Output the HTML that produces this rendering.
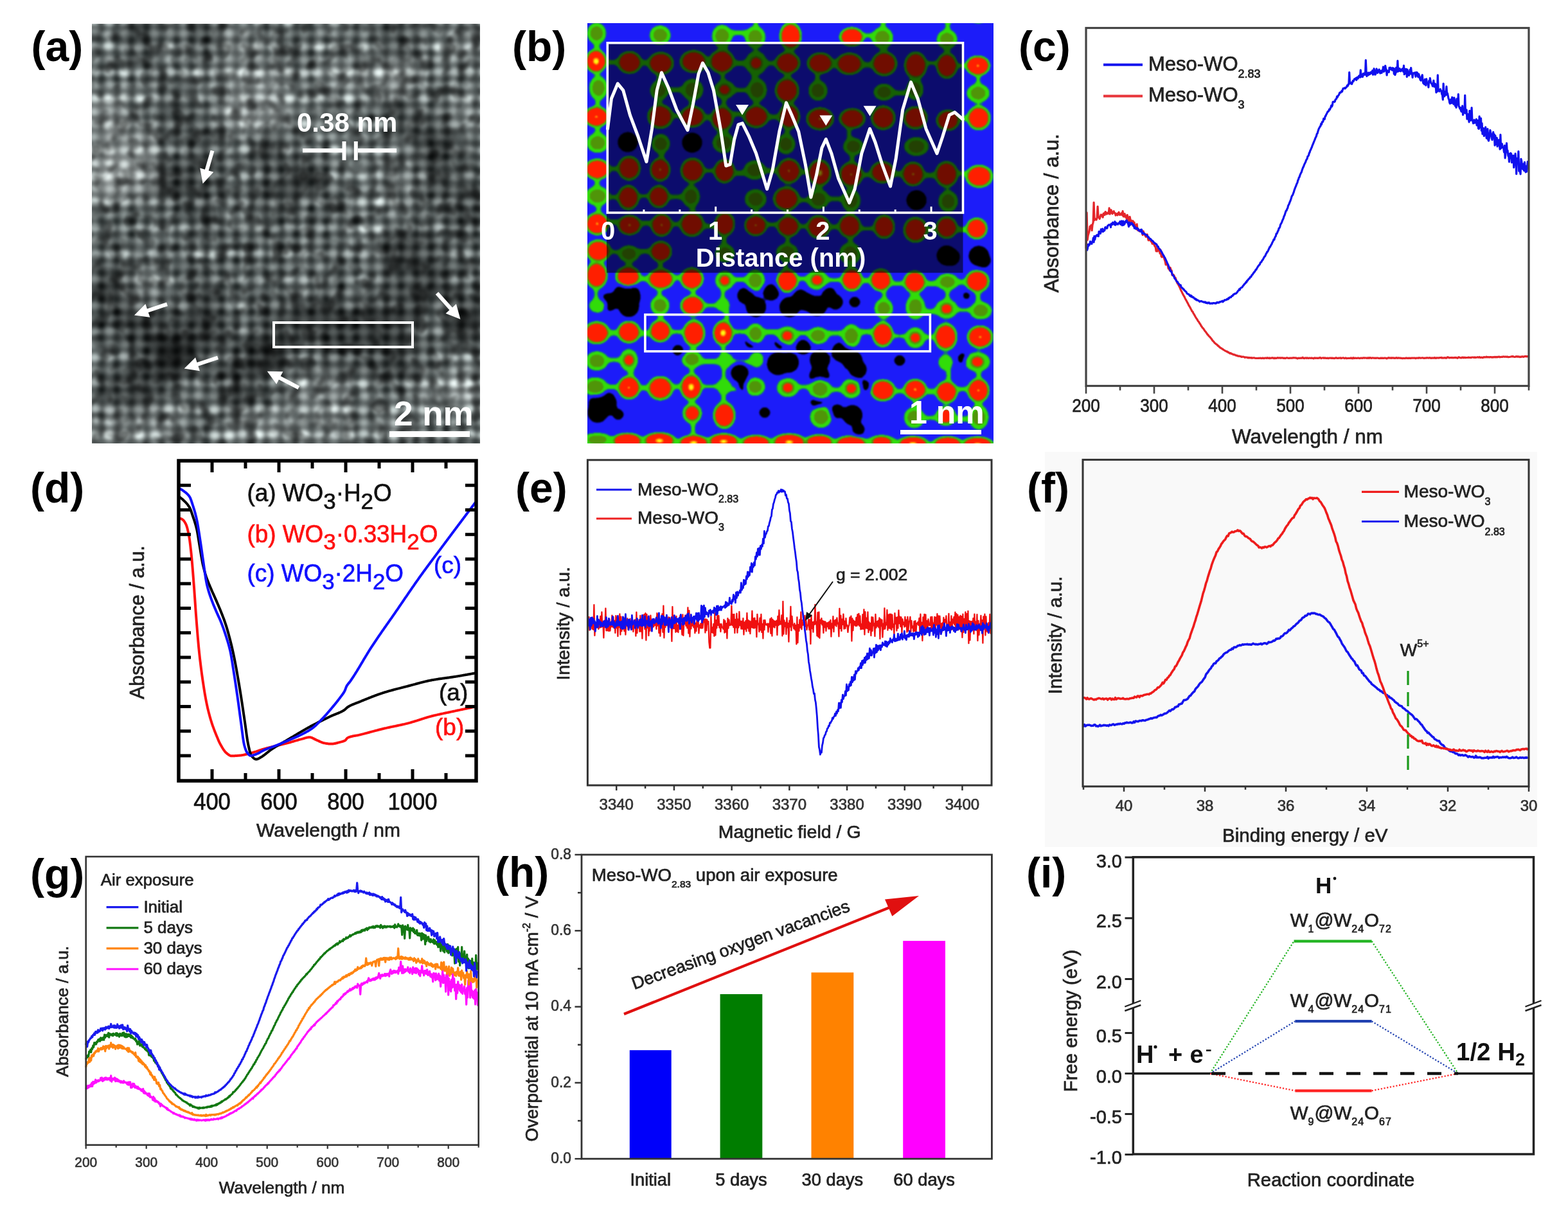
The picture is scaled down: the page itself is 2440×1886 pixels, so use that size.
<!DOCTYPE html>
<html><head><meta charset="utf-8"><title>Figure</title>
<style>html,body{margin:0;padding:0;background:#fff;}svg{display:block;}</style></head>
<body><svg xmlns="http://www.w3.org/2000/svg" width="2440" height="1886" viewBox="0 0 2440 1886" font-family="Liberation Sans, Arial, sans-serif">
<defs><clipPath id="clpA"><rect x="143" y="37" width="604" height="653"/></clipPath>
<filter id="fA" filterUnits="userSpaceOnUse" x="113" y="7" width="664" height="713" color-interpolation-filters="sRGB"><feGaussianBlur stdDeviation="3.4"/></filter>
<filter id="fA2" filterUnits="userSpaceOnUse" x="83" y="-23" width="724" height="773" color-interpolation-filters="sRGB"><feGaussianBlur stdDeviation="14"/></filter>
<filter id="fAn" filterUnits="userSpaceOnUse" x="143" y="37" width="604" height="653" color-interpolation-filters="sRGB"><feTurbulence type="fractalNoise" baseFrequency="0.045" numOctaves="2" seed="7"/><feColorMatrix type="matrix" values="0 0 0 0 0  0 0 0 0 0  0 0 0 0 0  0 0 0 -3.2 1.75"/><feGaussianBlur stdDeviation="1.5"/></filter>
<clipPath id="clpB"><rect x="914" y="36" width="632" height="654"/></clipPath>
<filter id="fB" filterUnits="userSpaceOnUse" x="874" y="-4" width="712" height="734" color-interpolation-filters="sRGB"><feGaussianBlur stdDeviation="3.4"/><feComponentTransfer><feFuncR type="discrete" tableValues="0.000 0.000 0.000 0.000 0.000 0.000 0.000 0.039 0.110 0.110 0.110 0.110 0.110 0.110 0.110 0.110 0.110 0.110 0.110 0.110 0.078 0.196 0.196 0.196 0.314 0.314 0.314 1.000 1.000 1.000 1.000 1.000 1.000 1.000 1.000 1.000 1.000 1.000 1.000 1.000 1.000 1.000 1.000 1.000 1.000 1.000 1.000 1.000 1.000 1.000"/><feFuncG type="discrete" tableValues="0.000 0.000 0.000 0.000 0.000 0.000 0.000 0.039 0.110 0.110 0.110 0.110 0.110 0.110 0.110 0.110 0.110 0.110 0.110 0.110 0.471 0.863 0.863 0.863 0.588 0.588 0.588 0.125 0.125 0.125 0.125 0.125 0.125 0.125 0.125 0.125 0.125 0.125 0.125 0.125 0.125 0.125 0.125 0.125 0.588 0.588 0.980 0.980 0.980 0.980"/><feFuncB type="discrete" tableValues="0.000 0.000 0.000 0.000 0.000 0.000 0.000 0.431 0.980 0.980 0.980 0.980 0.980 0.980 0.980 0.980 0.980 0.980 0.980 0.980 0.471 0.039 0.039 0.039 0.039 0.039 0.039 0.000 0.000 0.000 0.000 0.000 0.000 0.000 0.000 0.000 0.000 0.000 0.000 0.000 0.000 0.000 0.000 0.000 0.000 0.000 0.078 0.078 0.078 0.078"/></feComponentTransfer><feGaussianBlur stdDeviation="1.1"/></filter></defs>
<rect width="2440" height="1886" fill="#fff"/>
<polyline points="1690.1,386.7 1691.1,330.9 1692.1,373.5 1693.1,366.7 1694.1,363 1695.1,359.9 1696.1,352.4 1697.1,354.1 1698.1,350.5 1699.1,358.6 1700.1,349.4 1701.1,346.3 1702.1,315 1703.1,342.7 1704.1,340.5 1705.1,340.9 1706.1,342 1707.1,339.3 1708.1,321.4 1709.1,337.9 1710.1,337.6 1711.1,340.6 1712.1,337.4 1713.1,334.2 1714.1,334.3 1715.1,335.4 1716.1,338.2 1717.1,332.3 1718.1,331.9 1719.1,334.4 1720.1,329.5 1721.1,330.6 1722.1,333.1 1723.1,332.2 1724.1,330.9 1725.1,332.2 1726.1,323.9 1727.1,333.1 1728.1,328.4 1729.1,326.8 1730.1,331.5 1731.1,332.6 1732.1,330 1733.1,328.6 1734.1,331.4 1735.1,331.3 1736.1,335 1737.1,333.6 1738.1,332.4 1739.1,334.8 1740.1,331.9 1741.1,330.3 1742.1,334.2 1743.1,334.4 1744.1,332.8 1745.1,331.8 1746.1,334.7 1747.1,328.7 1748.1,336.9 1749.1,337 1750.1,332.6 1751.1,337.3 1752.1,335.6 1753.1,340.5 1754.1,334.5 1755.1,338 1756.1,342.7 1757.1,344.6 1758.1,337.4 1759.1,342.1 1760.1,344.9 1761.1,343.5 1762.1,349.7 1763.1,343.9 1764.1,348.6 1765.1,346.2 1766.1,353.1 1767.1,350.7 1768.1,351 1769.1,348.8 1770.1,358 1771.1,356.9 1772.1,357.9 1773.1,359.9 1774.1,359.1 1775.1,357.8 1776.1,358.4 1777.1,359.4 1778.1,365.6 1779.1,359.8 1780.1,362.8 1781.1,364.4 1782.1,366.6 1783.1,368.4 1784.1,365 1785.1,364.8 1786.1,369.9 1787.1,373.8 1788.1,373.7 1789.1,373.5 1790.1,373.2 1791.1,375.8 1792.1,375.6 1793.1,379.2 1794.1,376.5 1795.1,380 1796.1,380.6 1797.1,383.4 1798.1,383.9 1799.1,390.8 1800.1,389.6 1801.1,391 1802.1,383.9 1803.1,389.4 1804.1,390.2 1805.1,394.3 1806.1,389.1 1807.1,398.8 1808.1,400.1 1809.1,395.9 1810.1,398.2 1811.1,400.2 1812.1,403.8 1813.1,406.8 1814.1,411.9 1815.1,408.1 1816.1,412.1 1817.1,412.4 1818.1,418 1819.1,417.3 1820.1,420.6 1821.1,416.5 1822.1,420.5 1823.1,420.8 1824.1,428.2 1825.1,428 1826.1,427.6 1827.1,429.1 1828.1,433.2 1829.1,432.3 1830.1,435.7 1831.1,438.1 1832.1,440.7 1833.1,441.9 1834.1,443.9 1835.1,445.7 1836.1,447.7 1837.1,450.4 1838.1,452.5 1839.1,454.3 1840.1,456.5 1841.1,458.4 1842.1,460.4 1843.1,461.8 1844.1,464.1 1845.1,466.1 1846.1,467.7 1847.1,469.6 1848.1,471.4 1849.1,473.3 1850.1,475.5 1851.1,476.9 1852.1,478.8 1853.1,480.8 1854.1,482.5 1855.1,484.6 1856.1,485.2 1857.1,487.8 1858.1,489 1859.1,490.9 1860.1,492.7 1861.1,494.4 1862.1,496 1863.1,497.3 1864.1,499.3 1865.1,500.3 1866.1,501.9 1867.1,503.7 1868.1,504.8 1869.1,507.1 1870.1,508.2 1871.1,510 1872.1,510.8 1873.1,512.1 1874.1,513.7 1875.1,515.2 1876.1,516.1 1877.1,517.7 1878.1,518.9 1879.1,520.7 1880.1,521.2 1881.1,523 1882.1,523.7 1883.1,524.8 1884.1,526.1 1885.1,527.2 1886.1,528.8 1887.1,530.2 1888.1,531 1889.1,532.3 1890.1,533.6 1891.1,534.3 1892.1,535.2 1893.1,536 1894.1,536.5 1895.1,538.1 1896.1,538.2 1897.1,539.7 1898.1,540.2 1899.1,541.3 1900.1,541.7 1901.1,542.2 1902.1,543.2 1903.1,543.6 1904.1,544.4 1905.1,545 1906.1,545.6 1907.1,546.2 1908.1,546.5 1909.1,547.3 1910.1,547.2 1911.1,548.3 1912.1,548.4 1913.1,549.5 1914.1,550 1915.1,549.4 1916.1,550.5 1917.1,550.8 1918.1,550.9 1919.1,551.8 1920.1,551.8 1921.1,551.8 1922.1,552.6 1923.1,552.9 1924.1,553.3 1925.1,553.2 1926.1,554 1927.1,554.3 1928.1,553.9 1929.1,554.3 1930.1,554.6 1931.1,554.6 1932.1,555.5 1933.1,555.2 1934.1,555 1935.1,555.2 1936.1,555.5 1937.1,556.4 1938.1,555.8 1939.1,556 1940.1,556.2 1941.1,556.2 1942.1,557 1943.1,556.3 1944.1,556.8 1945.1,556.7 1946.1,556.9 1947.1,556.5 1948.1,557.4 1949.1,556.9 1950.1,557 1951.1,556.8 1952.1,556.9 1953.1,557.3 1954.1,557.5 1955.1,557.4 1956.1,557.5 1957.1,557.4 1958.1,557.2 1959.1,557.4 1960.1,557.3 1961.1,557.1 1962.1,557.4 1963.1,557.6 1964.1,557.2 1965.1,557.1 1966.1,557.4 1967.1,557.7 1968.1,557.1 1969.1,557.1 1970.1,557.1 1971.1,557.5 1972.1,556.6 1973.1,557.3 1974.1,557.5 1975.1,556.9 1976.1,557.6 1977.1,557.3 1978.1,557 1979.1,557.2 1980.1,556.7 1981.1,557 1982.1,557.7 1983.1,556.9 1984.1,557.7 1985.1,557.1 1986.1,557.5 1987.1,557.2 1988.1,556.5 1989.1,557 1990.1,557.2 1991.1,556.8 1992.1,556.8 1993.1,557.3 1994.1,557 1995.1,556.7 1996.1,557 1997.1,557.4 1998.1,557 1999.1,557.4 2000.1,557.6 2001.1,557.2 2002.1,556.8 2003.1,556.8 2004.1,557.2 2005.1,557.4 2006.1,557.2 2007.1,557.3 2008.1,557 2009.1,557.3 2010.1,557 2011.1,557.1 2012.1,556.8 2013.1,556.7 2014.1,557 2015.1,556.8 2016.1,556.9 2017.1,557.4 2018.1,557.1 2019.1,558 2020.1,557.4 2021.1,557 2022.1,557.4 2023.1,557.3 2024.1,557 2025.1,557.5 2026.1,556.9 2027.1,556.2 2028.1,557.4 2029.1,557 2030.1,557.6 2031.1,557 2032.1,556.8 2033.1,557.6 2034.1,556.8 2035.1,557.2 2036.1,557.6 2037.1,557.2 2038.1,557.1 2039.1,557.2 2040.1,557.4 2041.1,556.9 2042.1,557.4 2043.1,557.3 2044.1,557.9 2045.1,557.1 2046.1,556.9 2047.1,557.4 2048.1,557 2049.1,557.3 2050.1,557.2 2051.1,557.5 2052.1,557 2053.1,557.1 2054.1,556.4 2055.1,556.9 2056.1,557.6 2057.1,557 2058.1,557 2059.1,556.8 2060.1,557.3 2061.1,557.2 2062.1,556.8 2063.1,557.4 2064.1,557.2 2065.1,557.4 2066.1,557 2067.1,557.7 2068.1,557.3 2069.1,557.1 2070.1,557 2071.1,557.1 2072.1,557.4 2073.1,557.1 2074.1,557.5 2075.1,557.3 2076.1,557.6 2077.1,557.4 2078.1,557.1 2079.1,556.6 2080.1,557.3 2081.1,557.4 2082.1,557.2 2083.1,557.3 2084.1,557 2085.1,557.1 2086.1,556.9 2087.1,557.6 2088.1,557.2 2089.1,557 2090.1,556.8 2091.1,557.1 2092.1,557.6 2093.1,557.3 2094.1,556.9 2095.1,557.6 2096.1,557.6 2097.1,557.5 2098.1,557.4 2099.1,557.5 2100.1,557.3 2101.1,557.4 2102.1,556.9 2103.1,557.6 2104.1,557.2 2105.1,557.8 2106.1,556.6 2107.1,557.4 2108.1,557.5 2109.1,557.1 2110.1,557.3 2111.1,557.4 2112.1,557.3 2113.1,557 2114.1,557.1 2115.1,557.5 2116.1,557.6 2117.1,557.2 2118.1,557.2 2119.1,557.2 2120.1,557.5 2121.1,556.9 2122.1,556.8 2123.1,557.2 2124.1,556.8 2125.1,557 2126.1,557.2 2127.1,557.3 2128.1,556.8 2129.1,557.4 2130.1,556.6 2131.1,557.3 2132.1,556.7 2133.1,556.8 2134.1,557.4 2135.1,557 2136.1,556.9 2137.1,557 2138.1,557.3 2139.1,557.2 2140.1,557.2 2141.1,557.5 2142.1,557 2143.1,557 2144.1,557 2145.1,557.5 2146.1,557.5 2147.1,557.6 2148.1,557.2 2149.1,557.1 2150.1,557.4 2151.1,557 2152.1,557.4 2153.1,557.4 2154.1,557 2155.1,557.1 2156.1,557.1 2157.1,557.7 2158.1,557.9 2159.1,557.1 2160.1,557.2 2161.1,556.5 2162.1,557.2 2163.1,557.2 2164.1,556.8 2165.1,557.4 2166.1,556.7 2167.1,557.1 2168.1,557.2 2169.1,556.8 2170.1,557.4 2171.1,557.5 2172.1,556.8 2173.1,556.7 2174.1,557.3 2175.1,557.2 2176.1,556.8 2177.1,557.1 2178.1,557.1 2179.1,557.1 2180.1,557.4 2181.1,557.3 2182.1,557.7 2183.1,557.6 2184.1,557.4 2185.1,557.5 2186.1,557.6 2187.1,557.4 2188.1,556.8 2189.1,557.4 2190.1,557.2 2191.1,557.6 2192.1,557.2 2193.1,557.3 2194.1,557.2 2195.1,557.6 2196.1,557.2 2197.1,557.1 2198.1,557.2 2199.1,557 2200.1,557.2 2201.1,557.1 2202.1,557.2 2203.1,557.7 2204.1,557 2205.1,557.1 2206.1,557 2207.1,557.3 2208.1,556.7 2209.1,556.9 2210.1,557.1 2211.1,557.2 2212.1,557 2213.1,556.9 2214.1,556.8 2215.1,557.2 2216.1,557.5 2217.1,557.1 2218.1,557.1 2219.1,557.2 2220.1,556.7 2221.1,556.9 2222.1,556.9 2223.1,557.1 2224.1,557 2225.1,556.6 2226.1,557.3 2227.1,557.5 2228.1,556.9 2229.1,557.1 2230.1,557 2231.1,557.2 2232.1,556.5 2233.1,557.4 2234.1,556.8 2235.1,557.3 2236.1,556.9 2237.1,556.8 2238.1,556.8 2239.1,557.1 2240.1,556.6 2241.1,556.7 2242.1,556.7 2243.1,556.3 2244.1,557.2 2245.1,557 2246.1,556.8 2247.1,557.1 2248.1,556.5 2249.1,556.7 2250.1,557.3 2251.1,557 2252.1,556 2253.1,555.7 2254.1,556.4 2255.1,557 2256.1,556.5 2257.1,556.6 2258.1,556.8 2259.1,556.4 2260.1,556.7 2261.1,556.8 2262.1,556.7 2263.1,556.7 2264.1,556.4 2265.1,556.7 2266.1,556.4 2267.1,556.9 2268.1,557.3 2269.1,556.3 2270.1,555.8 2271.1,556.3 2272.1,556.6 2273.1,556.8 2274.1,556.8 2275.1,556.2 2276.1,556.2 2277.1,556.8 2278.1,556.1 2279.1,556.7 2280.1,556.3 2281.1,556.6 2282.1,556.5 2283.1,556.5 2284.1,556.5 2285.1,556 2286.1,556.4 2287.1,556.3 2288.1,556.3 2289.1,556.6 2290.1,556.1 2291.1,556 2292.1,556 2293.1,556.1 2294.1,556.4 2295.1,555.9 2296.1,556.5 2297.1,556.2 2298.1,556 2299.1,555.7 2300.1,556.1 2301.1,556.2 2302.1,555.5 2303.1,556.4 2304.1,556.5 2305.1,556.1 2306.1,556.1 2307.1,556.7 2308.1,556.3 2309.1,555.6 2310.1,555.9 2311.1,555.8 2312.1,555.8 2313.1,555.1 2314.1,556 2315.1,555.6 2316.1,555.8 2317.1,555.7 2318.1,556 2319.1,555.6 2320.1,555.5 2321.1,555.9 2322.1,556.1 2323.1,555.6 2324.1,556 2325.1,555.7 2326.1,555.4 2327.1,556 2328.1,555.3 2329.1,555.9 2330.1,555.4 2331.1,555.6 2332.1,555.1 2333.1,555.2 2334.1,555.8 2335.1,555.5 2336.1,555.4 2337.1,555.3 2338.1,555.5 2339.1,554.9 2340.1,555 2341.1,555.3 2342.1,555.1 2343.1,555.1 2344.1,555.3 2345.1,555.2 2346.1,555.2 2347.1,555.7 2348.1,555.5 2349.1,555.5 2350.1,555.2 2351.1,555 2352.1,554.7 2353.1,555 2354.1,554.5 2355.1,554.9 2356.1,555.3 2357.1,555.5 2358.1,555.3 2359.1,554.7 2360.1,555.1 2361.1,554.7 2362.1,555.2 2363.1,554.9 2364.1,555.1 2365.1,555.6 2366.1,555.1 2367.1,555.5 2368.1,554.9 2369.1,554.7 2370.1,555.2 2371.1,555.3 2372.1,554.6 2373.1,554.7 2374.1,554.3 2375.1,554.6 2376.1,554.9 2377.1,554.6 2378.1,554.4" fill="none" stroke="#e3262b" stroke-width="3.2" stroke-linejoin="round"/>
<polyline points="1690.1,386.9 1690.9,386.7 1691.7,389.2 1692.5,386 1693.3,380.3 1694.1,382.4 1694.9,380.1 1695.7,380.5 1696.5,375.9 1697.3,378.6 1698.1,377.6 1698.9,379.3 1699.7,375.8 1700.5,375.3 1701.3,370.3 1702.1,376.9 1702.9,367.7 1703.7,372.8 1704.5,369.1 1705.3,367.1 1706.1,366.7 1706.9,365.8 1707.7,367.1 1708.5,365.3 1709.3,367.7 1710.1,360.3 1710.9,363.2 1711.7,360.7 1712.5,363.3 1713.3,356.8 1714.1,359.7 1714.9,360.1 1715.7,356.1 1716.5,360.4 1717.3,358.1 1718.1,359.2 1718.9,358.4 1719.7,353.9 1720.5,353.6 1721.3,354.2 1722.1,355.4 1722.9,355 1723.7,351.3 1724.5,350.9 1725.3,349.9 1726.1,349.8 1726.9,350 1727.7,349.7 1728.5,353.6 1729.3,348.1 1730.1,348.1 1730.9,349.3 1731.7,346.2 1732.5,347.2 1733.3,347.8 1734.1,349.2 1734.9,344.9 1735.7,350.2 1736.5,346.6 1737.3,347.6 1738.1,348.8 1738.9,348.4 1739.7,349.1 1740.5,347.3 1741.3,346.8 1742.1,347.4 1742.9,344.7 1743.7,349.1 1744.5,345.1 1745.3,344 1746.1,350.6 1746.9,346.2 1747.7,344.1 1748.5,350.1 1749.3,345.8 1750.1,348.5 1750.9,344.8 1751.7,346 1752.5,343.2 1753.3,342.9 1754.1,345 1754.9,347 1755.7,349 1756.5,352.6 1757.3,346 1758.1,350.5 1758.9,347.7 1759.7,349 1760.5,346.8 1761.3,347.3 1762.1,349.2 1762.9,348.8 1763.7,351.7 1764.5,350.8 1765.3,355.2 1766.1,353.4 1766.9,353.9 1767.7,356.3 1768.5,355.6 1769.3,354.9 1770.1,355.3 1770.9,355.8 1771.7,358.7 1772.5,358.7 1773.3,358.4 1774.1,359.8 1774.9,357.7 1775.7,360.4 1776.5,357.2 1777.3,363.4 1778.1,361.5 1778.9,362.3 1779.7,363.8 1780.5,363.2 1781.3,363.8 1782.1,365.2 1782.9,365.3 1783.7,365.5 1784.5,366.8 1785.3,366.5 1786.1,368.8 1786.9,368.6 1787.7,369.4 1788.5,371.2 1789.3,371.9 1790.1,371.6 1790.9,372.6 1791.7,373.6 1792.5,374.6 1793.3,374.5 1794.1,375.4 1794.9,376.7 1795.7,377.1 1796.5,378.2 1797.3,378.9 1798.1,378.9 1798.9,380 1799.7,380 1800.5,382.1 1801.3,383.9 1802.1,383.7 1802.9,385.9 1803.7,386.9 1804.5,387.5 1805.3,388.7 1806.1,390 1806.9,390.8 1807.7,392.4 1808.5,393.8 1809.3,395.5 1810.1,397 1810.9,397.7 1811.7,399.9 1812.5,400.6 1813.3,402.4 1814.1,404.3 1814.9,405.9 1815.7,407.6 1816.5,409.7 1817.3,411.2 1818.1,413 1818.9,415.2 1819.7,417.6 1820.5,418.9 1821.3,421.7 1822.1,422.5 1822.9,422.4 1823.7,425.1 1824.5,427.6 1825.3,428.1 1826.1,429.3 1826.9,430.4 1827.7,432.7 1828.5,433.8 1829.3,434.9 1830.1,436 1830.9,437.6 1831.7,438.5 1832.5,438.6 1833.3,440.6 1834.1,441.4 1834.9,442.3 1835.7,443.7 1836.5,444.3 1837.3,443.8 1838.1,447 1838.9,447.7 1839.7,448 1840.5,448.8 1841.3,450 1842.1,450.1 1842.9,451.8 1843.7,452.4 1844.5,453.2 1845.3,453.7 1846.1,454.6 1846.9,456.3 1847.7,457.1 1848.5,457.4 1849.3,457.9 1850.1,458.1 1850.9,459.5 1851.7,460.6 1852.5,459.6 1853.3,461.5 1854.1,460.3 1854.9,461.8 1855.7,462.7 1856.5,462.3 1857.3,462.7 1858.1,464 1858.9,464.9 1859.7,464.6 1860.5,466 1861.3,465.4 1862.1,467 1862.9,466.6 1863.7,467.1 1864.5,467.6 1865.3,467.8 1866.1,468.9 1866.9,469.4 1867.7,468.8 1868.5,468.7 1869.3,468.5 1870.1,468.9 1870.9,469.5 1871.7,469.6 1872.5,469.9 1873.3,470.1 1874.1,470.5 1874.9,469.8 1875.7,470.1 1876.5,471.4 1877.3,471.4 1878.1,470.9 1878.9,471.9 1879.7,471.1 1880.5,471.4 1881.3,470.7 1882.1,472.1 1882.9,471.8 1883.7,472.3 1884.5,472.2 1885.3,471.9 1886.1,471.9 1886.9,472.4 1887.7,471.7 1888.5,471.6 1889.3,471.6 1890.1,471.9 1890.9,471.8 1891.7,472.2 1892.5,471.1 1893.3,471.6 1894.1,470.5 1894.9,470.9 1895.7,470.5 1896.5,471.1 1897.3,470.3 1898.1,469.6 1898.9,469.9 1899.7,469.6 1900.5,469 1901.3,468.8 1902.1,468.2 1902.9,469.8 1903.7,468.3 1904.5,468.4 1905.3,467.1 1906.1,466.8 1906.9,467 1907.7,466.6 1908.5,466.7 1909.3,465.3 1910.1,465.7 1910.9,465.7 1911.7,464 1912.5,464.3 1913.3,462.9 1914.1,463 1914.9,462.4 1915.7,462.5 1916.5,460.7 1917.3,460.5 1918.1,460.4 1918.9,458.7 1919.7,458.6 1920.5,457.6 1921.3,457 1922.1,457.1 1922.9,456.5 1923.7,456.7 1924.5,455.4 1925.3,454.7 1926.1,453.2 1926.9,452.4 1927.7,451.8 1928.5,449.9 1929.3,451 1930.1,449 1930.9,448 1931.7,447.5 1932.5,447.3 1933.3,446.6 1934.1,444.9 1934.9,444.4 1935.7,443.3 1936.5,441.9 1937.3,441.6 1938.1,440.6 1938.9,438.8 1939.7,439.2 1940.5,436.9 1941.3,436.9 1942.1,435.3 1942.9,434.5 1943.7,433.6 1944.5,433.3 1945.3,431.3 1946.1,430.8 1946.9,430.7 1947.7,428.5 1948.5,427.8 1949.3,427.1 1950.1,425.4 1950.9,424.8 1951.7,423.2 1952.5,422.8 1953.3,421.3 1954.1,419.7 1954.9,419.7 1955.7,417.8 1956.5,416.5 1957.3,415.1 1958.1,414.1 1958.9,413.1 1959.7,412 1960.5,411.3 1961.3,408.8 1962.1,408.1 1962.9,407.6 1963.7,405.8 1964.5,404.7 1965.3,404 1966.1,402.1 1966.9,400.9 1967.7,399.3 1968.5,398.9 1969.3,397.2 1970.1,395 1970.9,394.2 1971.7,392 1972.5,391.7 1973.3,390.1 1974.1,388.3 1974.9,386.7 1975.7,384.6 1976.5,384.4 1977.3,382.5 1978.1,380.9 1978.9,379.9 1979.7,377.7 1980.5,376.2 1981.3,374.6 1982.1,372.7 1982.9,373 1983.7,370.1 1984.5,368.4 1985.3,367.4 1986.1,363.7 1986.9,363.6 1987.7,361.9 1988.5,359.6 1989.3,358.5 1990.1,355.5 1990.9,354.7 1991.7,353.2 1992.5,349.8 1993.3,348.3 1994.1,347 1994.9,345.1 1995.7,342.8 1996.5,341.4 1997.3,339.3 1998.1,336.5 1998.9,335.2 1999.7,332.6 2000.5,330.1 2001.3,327.9 2002.1,327.6 2002.9,325 2003.7,324 2004.5,320.3 2005.3,318.8 2006.1,317.2 2006.9,314.9 2007.7,313.2 2008.5,311 2009.3,308.5 2010.1,305.6 2010.9,304.2 2011.7,303.4 2012.5,300.8 2013.3,298.9 2014.1,295.8 2014.9,293.9 2015.7,291.4 2016.5,289.9 2017.3,287.6 2018.1,285.6 2018.9,284.2 2019.7,280.7 2020.5,279.4 2021.3,276.3 2022.1,275.5 2022.9,272.7 2023.7,270.9 2024.5,269 2025.3,267.8 2026.1,265 2026.9,262.8 2027.7,260.5 2028.5,259.3 2029.3,256.9 2030.1,255.1 2030.9,253.5 2031.7,252 2032.5,249.4 2033.3,248.2 2034.1,246.9 2034.9,243.4 2035.7,242.9 2036.5,241.5 2037.3,238.2 2038.1,237 2038.9,234.1 2039.7,233 2040.5,230.8 2041.3,229.2 2042.1,226.7 2042.9,224.8 2043.7,223 2044.5,220.9 2045.3,219 2046.1,217.2 2046.9,214.7 2047.7,213.2 2048.5,211.5 2049.3,208.2 2050.1,207.5 2050.9,204.4 2051.7,202 2052.5,199.8 2053.3,198.6 2054.1,196.8 2054.9,196.3 2055.7,192.6 2056.5,193.7 2057.3,189.8 2058.1,190 2058.9,188.9 2059.7,184.5 2060.5,185.7 2061.3,185.5 2062.1,180.9 2062.9,180.6 2063.7,178.3 2064.5,177.1 2065.3,175.4 2066.1,173.6 2066.9,173.7 2067.7,172.5 2068.5,170.1 2069.3,170.6 2070.1,168.8 2070.9,167 2071.7,164.1 2072.5,165.9 2073.3,164 2074.1,158.6 2074.9,158.6 2075.7,158.2 2076.5,158.7 2077.3,157.9 2078.1,154.8 2078.9,154.3 2079.7,153.7 2080.5,150.2 2081.3,151.3 2082.1,149 2082.9,148.5 2083.7,147.2 2084.5,144.6 2085.3,143.8 2086.1,144.1 2086.9,143.2 2087.7,141.7 2088.5,142.6 2089.3,139.7 2090.1,137.6 2090.9,138 2091.7,137.4 2092.5,136.7 2093.3,137.8 2094.1,136.1 2094.9,136.1 2095.7,134.7 2096.5,132.8 2097.3,133.9 2098.1,131.2 2098.9,131.2 2099.7,112.5 2100.5,129.6 2101.3,128.3 2102.1,128.7 2102.9,130.5 2103.7,130.8 2104.5,128 2105.3,125.6 2106.1,126.5 2106.9,124.9 2107.7,122.9 2108.5,123.3 2109.3,122.5 2110.1,121.4 2110.9,124.5 2111.7,120.6 2112.5,120.2 2113.3,122.1 2114.1,119.1 2114.9,117.8 2115.7,118 2116.5,120.3 2117.3,109 2118.1,119.3 2118.9,117.5 2119.7,116.3 2120.5,119.6 2121.3,114.6 2122.1,116.8 2122.9,114.2 2123.7,115.9 2124.5,116.1 2125.3,93.6 2126.1,109.9 2126.9,118.6 2127.7,113.6 2128.5,115.9 2129.3,116.8 2130.1,113.1 2130.9,114.4 2131.7,115.5 2132.5,113.9 2133.3,112.2 2134.1,114.1 2134.9,113.7 2135.7,109.8 2136.5,116.2 2137.3,113.3 2138.1,106.8 2138.9,110.3 2139.7,116.1 2140.5,115.6 2141.3,112.1 2142.1,107.1 2142.9,110.4 2143.7,113.4 2144.5,111.5 2145.3,109.4 2146.1,108.2 2146.9,111.9 2147.7,114 2148.5,110.3 2149.3,110.5 2150.1,113.4 2150.9,109.4 2151.7,109.5 2152.5,104 2153.3,111.6 2154.1,110.9 2154.9,108.5 2155.7,102.3 2156.5,106.9 2157.3,108.7 2158.1,117 2158.9,110.1 2159.7,110.7 2160.5,110.8 2161.3,112.3 2162.1,105.3 2162.9,106.1 2163.7,105.2 2164.5,107.8 2165.3,107.6 2166.1,109 2166.9,105.7 2167.7,109 2168.5,106.2 2169.3,115.1 2170.1,107.3 2170.9,116.6 2171.7,113.9 2172.5,105.3 2173.3,112 2174.1,111 2174.9,94.5 2175.7,111.1 2176.5,109 2177.3,110.4 2178.1,106.7 2178.9,109.3 2179.7,110.9 2180.5,109.1 2181.3,107.9 2182.1,109.5 2182.9,106.6 2183.7,111.4 2184.5,102.1 2185.3,115.7 2186.1,107 2186.9,112.7 2187.7,114.3 2188.5,107.5 2189.3,119.6 2190.1,108.4 2190.9,114 2191.7,113.8 2192.5,117.5 2193.3,113.3 2194.1,108.7 2194.9,115 2195.7,105.5 2196.5,113.8 2197.3,113.1 2198.1,120.6 2198.9,114.4 2199.7,114.1 2200.5,113.3 2201.3,113.2 2202.1,114.7 2202.9,119.3 2203.7,112.6 2204.5,117.1 2205.3,112.9 2206.1,118.1 2206.9,119.8 2207.7,115 2208.5,118 2209.3,121 2210.1,124 2210.9,125.2 2211.7,121.6 2212.5,118.7 2213.3,116.7 2214.1,126.6 2214.9,129.5 2215.7,126 2216.5,131.2 2217.3,123.7 2218.1,124.4 2218.9,132.8 2219.7,122.9 2220.5,129.9 2221.3,129.5 2222.1,129 2222.9,135.9 2223.7,125.8 2224.5,128.1 2225.3,121.7 2226.1,126.5 2226.9,129.2 2227.7,130.2 2228.5,131.4 2229.3,134 2230.1,130.5 2230.9,125.4 2231.7,134.9 2232.5,134.7 2233.3,130.3 2234.1,132.4 2234.9,144 2235.7,141.3 2236.5,142.2 2237.3,116.9 2238.1,139.2 2238.9,140.4 2239.7,142.2 2240.5,139.3 2241.3,138.8 2242.1,141.3 2242.9,141.6 2243.7,146.6 2244.5,147.7 2245.3,155.1 2246.1,130.1 2246.9,143.1 2247.7,150 2248.5,142.5 2249.3,144.8 2250.1,147.8 2250.9,134.6 2251.7,146.7 2252.5,145.2 2253.3,149.3 2254.1,153.5 2254.9,154.9 2255.7,159.7 2256.5,161.2 2257.3,158.9 2258.1,154.5 2258.9,160.4 2259.7,151.3 2260.5,156.3 2261.3,159.9 2262.1,162.1 2262.9,152.1 2263.7,156.8 2264.5,164.9 2265.3,164.2 2266.1,167.3 2266.9,153.9 2267.7,157.1 2268.5,162.9 2269.3,146.6 2270.1,165.6 2270.9,166.6 2271.7,169 2272.5,167.4 2273.3,171.7 2274.1,173.6 2274.9,171.2 2275.7,164.9 2276.5,178.7 2277.3,173.9 2278.1,175.8 2278.9,175.3 2279.7,148.3 2280.5,176.2 2281.3,173.3 2282.1,171.1 2282.9,185.1 2283.7,177.4 2284.5,181.3 2285.3,185.3 2286.1,190 2286.9,172.4 2287.7,178.9 2288.5,187.3 2289.3,180.8 2290.1,167.5 2290.9,186.8 2291.7,188 2292.5,191.9 2293.3,189.6 2294.1,186.7 2294.9,191.1 2295.7,190.5 2296.5,188.6 2297.3,185.6 2298.1,195 2298.9,188.1 2299.7,187.4 2300.5,200 2301.3,200.5 2302.1,181.2 2302.9,198.2 2303.7,197.6 2304.5,184 2305.3,203.1 2306.1,191.8 2306.9,208.3 2307.7,204.2 2308.5,199.7 2309.3,211.7 2310.1,206.8 2310.9,206.7 2311.7,197.8 2312.5,209.2 2313.3,215.2 2314.1,214.1 2314.9,200.5 2315.7,217.2 2316.5,219.1 2317.3,215.3 2318.1,208.6 2318.9,202.6 2319.7,206.8 2320.5,209.5 2321.3,215.3 2322.1,217.7 2322.9,210.5 2323.7,205.7 2324.5,213.9 2325.3,209 2326.1,226.1 2326.9,211 2327.7,222.3 2328.5,224.7 2329.3,214.7 2330.1,227.8 2330.9,221.4 2331.7,218.1 2332.5,217.8 2333.3,225.3 2334.1,232.2 2334.9,209.5 2335.7,230.8 2336.5,226.7 2337.3,223.7 2338.1,229.5 2338.9,230 2339.7,230.5 2340.5,236.9 2341.3,226.6 2342.1,246 2342.9,239.8 2343.7,230.9 2344.5,222.9 2345.3,236.1 2346.1,234.3 2346.9,242.6 2347.7,243.2 2348.5,251.9 2349.3,239 2350.1,245.8 2350.9,238.4 2351.7,239.4 2352.5,252.8 2353.3,242.3 2354.1,243.1 2354.9,242.1 2355.7,260.7 2356.5,250.9 2357.3,245.6 2358.1,239.2 2358.9,250 2359.7,270.6 2360.5,246.5 2361.3,251 2362.1,251.9 2362.9,235.5 2363.7,266.2 2364.5,257.6 2365.3,266.2 2366.1,270.9 2366.9,247.4 2367.7,250.7 2368.5,257 2369.3,262.5 2370.1,263.6 2370.9,255.1 2371.7,265.6 2372.5,252.4 2373.3,260.9 2374.1,267.8 2374.9,258.9 2375.7,267.1 2376.5,261.4 2377.3,251.5 2378.1,259.8" fill="none" stroke="#1010ee" stroke-width="3.2" stroke-linejoin="round"/>
<rect x="1690" y="43.5" width="689" height="557" fill="none" stroke="#444" stroke-width="3.2"/>
<line x1="1690" y1="600.5" x2="1690" y2="612.5" stroke="#444" stroke-width="2.6"/>
<text x="0" y="0" font-size="30" text-anchor="middle" fill="#222" stroke="#222" stroke-width="0.7" transform="translate(1690 641) scale(0.87 1)">200</text>
<line x1="1743" y1="600.5" x2="1743" y2="607.5" stroke="#444" stroke-width="2.6"/>
<line x1="1796" y1="600.5" x2="1796" y2="612.5" stroke="#444" stroke-width="2.6"/>
<text x="0" y="0" font-size="30" text-anchor="middle" fill="#222" stroke="#222" stroke-width="0.7" transform="translate(1796 641) scale(0.87 1)">300</text>
<line x1="1849" y1="600.5" x2="1849" y2="607.5" stroke="#444" stroke-width="2.6"/>
<line x1="1902" y1="600.5" x2="1902" y2="612.5" stroke="#444" stroke-width="2.6"/>
<text x="0" y="0" font-size="30" text-anchor="middle" fill="#222" stroke="#222" stroke-width="0.7" transform="translate(1902 641) scale(0.87 1)">400</text>
<line x1="1955" y1="600.5" x2="1955" y2="607.5" stroke="#444" stroke-width="2.6"/>
<line x1="2008" y1="600.5" x2="2008" y2="612.5" stroke="#444" stroke-width="2.6"/>
<text x="0" y="0" font-size="30" text-anchor="middle" fill="#222" stroke="#222" stroke-width="0.7" transform="translate(2008 641) scale(0.87 1)">500</text>
<line x1="2061" y1="600.5" x2="2061" y2="607.5" stroke="#444" stroke-width="2.6"/>
<line x1="2114" y1="600.5" x2="2114" y2="612.5" stroke="#444" stroke-width="2.6"/>
<text x="0" y="0" font-size="30" text-anchor="middle" fill="#222" stroke="#222" stroke-width="0.7" transform="translate(2114 641) scale(0.87 1)">600</text>
<line x1="2167" y1="600.5" x2="2167" y2="607.5" stroke="#444" stroke-width="2.6"/>
<line x1="2220" y1="600.5" x2="2220" y2="612.5" stroke="#444" stroke-width="2.6"/>
<text x="0" y="0" font-size="30" text-anchor="middle" fill="#222" stroke="#222" stroke-width="0.7" transform="translate(2220 641) scale(0.87 1)">700</text>
<line x1="2273" y1="600.5" x2="2273" y2="607.5" stroke="#444" stroke-width="2.6"/>
<line x1="2326" y1="600.5" x2="2326" y2="612.5" stroke="#444" stroke-width="2.6"/>
<text x="0" y="0" font-size="30" text-anchor="middle" fill="#222" stroke="#222" stroke-width="0.7" transform="translate(2326 641) scale(0.87 1)">800</text>
<line x1="2379" y1="600.5" x2="2379" y2="607.5" stroke="#444" stroke-width="2.6"/>
<text x="2034.5" y="690" font-size="31.5" text-anchor="middle" fill="#222" stroke="#222" stroke-width="0.7">Wavelength / nm</text>
<text x="1647.5" y="331.7" font-size="31.5" text-anchor="middle" fill="#222" stroke="#222" stroke-width="0.7" transform="rotate(-90 1647.5 331.7)">Absorbance / a.u.</text>
<line x1="1717" y1="100.7" x2="1778" y2="100.7" stroke="#1515ee" stroke-width="4"/>
<line x1="1717" y1="149.6" x2="1778" y2="149.6" stroke="#e8343a" stroke-width="4"/>
<text x="1787" y="109.6" font-size="31" fill="#222" stroke="#222" stroke-width="0.7">Meso-WO<tspan font-size="18" dy="11">2.83</tspan></text>
<text x="1787" y="158.4" font-size="31" fill="#222" stroke="#222" stroke-width="0.7">Meso-WO<tspan font-size="18" dy="11">3</tspan></text>
<text x="1585" y="95" font-size="66" font-weight="bold" fill="#000">(c)</text>
<polyline points="278.1,806.4 279.1,806.5 280.1,806.7 281.1,807 282.1,807.4 283.1,807.9 284.1,808.5 285.1,809.3 286.1,810.4 287.1,811.8 288.1,813.5 289.1,815.3 290.1,817.6 291.1,820.7 292.1,824.6 293.1,829.1 294.1,834.1 295.1,840.2 296.1,848 297.1,856.8 298.1,866.4 299.1,877.3 300.1,889.5 301.1,902.3 302.1,915.5 303.1,929.7 304.1,944.2 305.1,958.1 306.1,970.8 307.1,983.3 308.1,995.2 309.1,1006.2 310.1,1016.1 311.1,1025.2 312.1,1033.6 313.1,1041.6 314.1,1049 315.1,1056.1 316.1,1062.9 317.1,1069.4 318.1,1075.7 319.1,1081.6 320.1,1087.2 321.1,1092.4 322.1,1097.2 323.1,1101.7 324.1,1105.9 325.1,1109.8 326.1,1113.6 327.1,1117.1 328.1,1120.5 329.1,1123.7 330.1,1126.8 331.1,1129.7 332.1,1132.4 333.1,1135.1 334.1,1137.7 335.1,1140.2 336.1,1142.7 337.1,1145.2 338.1,1147.6 339.1,1150 340.1,1152.4 341.1,1154.6 342.1,1156.6 343.1,1158.6 344.1,1160.3 345.1,1162 346.1,1163.7 347.1,1165.3 348.1,1166.8 349.1,1168.2 350.1,1169.5 351.1,1170.7 352.1,1171.6 353.1,1172.5 354.1,1173.2 355.1,1174 356.1,1174.7 357.1,1175.3 358.1,1175.8 359.1,1176.2 360.1,1176.3 361.1,1176.3 362.1,1176.3 363.1,1176.2 364.1,1176.2 365.1,1176.2 366.1,1176.1 367.1,1176 368.1,1176 369.1,1175.9 370.1,1175.8 371.1,1175.7 372.1,1175.7 373.1,1175.6 374.1,1175.5 375.1,1175.4 376.1,1175.2 377.1,1175.1 378.1,1174.9 379.1,1174.7 380.1,1174.5 381.1,1174.3 382.1,1174 383.1,1173.8 384.1,1173.5 385.1,1173.3 386.1,1173 387.1,1172.7 388.1,1172.5 389.1,1172.2 390.1,1171.9 391.1,1171.7 392.1,1171.4 393.1,1171.1 394.1,1170.8 395.1,1170.5 396.1,1170.2 397.1,1169.9 398.1,1169.6 399.1,1169.3 400.1,1168.9 401.1,1168.6 402.1,1168.2 403.1,1167.9 404.1,1167.5 405.1,1167.2 406.1,1166.9 407.1,1166.5 408.1,1166.2 409.1,1165.9 410.1,1165.6 411.1,1165.3 412.1,1165.1 413.1,1164.8 414.1,1164.5 415.1,1164.2 416.1,1164 417.1,1163.7 418.1,1163.5 419.1,1163.2 420.1,1162.9 421.1,1162.7 422.1,1162.5 423.1,1162.2 424.1,1162 425.1,1161.7 426.1,1161.5 427.1,1161.2 428.1,1161 429.1,1160.8 430.1,1160.5 431.1,1160.3 432.1,1160.1 433.1,1159.8 434.1,1159.6 435.1,1159.3 436.1,1159.1 437.1,1158.9 438.1,1158.6 439.1,1158.4 440.1,1158.1 441.1,1157.9 442.1,1157.6 443.1,1157.4 444.1,1157.1 445.1,1156.9 446.1,1156.6 447.1,1156.4 448.1,1156.1 449.1,1155.8 450.1,1155.6 451.1,1155.3 452.1,1155 453.1,1154.7 454.1,1154.4 455.1,1154.1 456.1,1153.8 457.1,1153.5 458.1,1153.2 459.1,1152.9 460.1,1152.6 461.1,1152.4 462.1,1152.1 463.1,1151.8 464.1,1151.5 465.1,1151.2 466.1,1150.9 467.1,1150.6 468.1,1150.4 469.1,1150.1 470.1,1149.9 471.1,1149.6 472.1,1149.3 473.1,1149 474.1,1148.7 475.1,1148.4 476.1,1148.1 477.1,1147.8 478.1,1147.6 479.1,1147.4 480.1,1147.3 481.1,1147.2 482.1,1147.2 483.1,1147.3 484.1,1147.6 485.1,1147.9 486.1,1148.4 487.1,1148.8 488.1,1149.4 489.1,1149.9 490.1,1150.4 491.1,1150.9 492.1,1151.4 493.1,1151.8 494.1,1152.2 495.1,1152.7 496.1,1153.1 497.1,1153.6 498.1,1154.1 499.1,1154.5 500.1,1154.9 501.1,1155.3 502.1,1155.7 503.1,1156 504.1,1156.2 505.1,1156.4 506.1,1156.6 507.1,1156.8 508.1,1156.9 509.1,1157.1 510.1,1157.2 511.1,1157.4 512.1,1157.5 513.1,1157.6 514.1,1157.6 515.1,1157.6 516.1,1157.6 517.1,1157.5 518.1,1157.4 519.1,1157.3 520.1,1157.1 521.1,1157 522.1,1156.7 523.1,1156.5 524.1,1156.3 525.1,1156 526.1,1155.7 527.1,1155.4 528.1,1155.2 529.1,1154.9 530.1,1154.6 531.1,1154.4 532.1,1154.1 533.1,1153.8 534.1,1153.5 535.1,1153.2 536.1,1152.7 537.1,1152.2 538.1,1151.3 539.1,1150 540.1,1148.8 541.1,1148 542.1,1147.6 543.1,1147.2 544.1,1146.8 545.1,1146.5 546.1,1146.2 547.1,1146 548.1,1145.7 549.1,1145.5 550.1,1145.3 551.1,1145.1 552.1,1145 553.1,1144.8 554.1,1144.6 555.1,1144.4 556.1,1144.3 557.1,1144.1 558.1,1143.9 559.1,1143.6 560.1,1143.4 561.1,1143.2 562.1,1142.9 563.1,1142.6 564.1,1142.4 565.1,1142.1 566.1,1141.9 567.1,1141.6 568.1,1141.3 569.1,1141.1 570.1,1140.8 571.1,1140.6 572.1,1140.3 573.1,1140 574.1,1139.8 575.1,1139.5 576.1,1139.2 577.1,1138.9 578.1,1138.7 579.1,1138.4 580.1,1138.1 581.1,1137.9 582.1,1137.6 583.1,1137.3 584.1,1137.1 585.1,1136.8 586.1,1136.6 587.1,1136.3 588.1,1136 589.1,1135.8 590.1,1135.5 591.1,1135.3 592.1,1135 593.1,1134.8 594.1,1134.5 595.1,1134.3 596.1,1134 597.1,1133.8 598.1,1133.5 599.1,1133.3 600.1,1133.1 601.1,1132.9 602.1,1132.6 603.1,1132.4 604.1,1132.2 605.1,1132 606.1,1131.8 607.1,1131.5 608.1,1131.3 609.1,1131.1 610.1,1130.9 611.1,1130.7 612.1,1130.5 613.1,1130.3 614.1,1130.1 615.1,1129.9 616.1,1129.7 617.1,1129.5 618.1,1129.3 619.1,1129 620.1,1128.8 621.1,1128.6 622.1,1128.4 623.1,1128.2 624.1,1128 625.1,1127.8 626.1,1127.5 627.1,1127.3 628.1,1127.1 629.1,1126.9 630.1,1126.6 631.1,1126.4 632.1,1126.1 633.1,1125.9 634.1,1125.7 635.1,1125.4 636.1,1125.1 637.1,1124.9 638.1,1124.6 639.1,1124.3 640.1,1124 641.1,1123.7 642.1,1123.4 643.1,1123.1 644.1,1122.8 645.1,1122.5 646.1,1122.2 647.1,1121.9 648.1,1121.6 649.1,1121.3 650.1,1120.9 651.1,1120.6 652.1,1120.3 653.1,1120 654.1,1119.7 655.1,1119.3 656.1,1119 657.1,1118.7 658.1,1118.4 659.1,1118.1 660.1,1117.7 661.1,1117.4 662.1,1117.1 663.1,1116.8 664.1,1116.5 665.1,1116.2 666.1,1115.9 667.1,1115.6 668.1,1115.3 669.1,1115.1 670.1,1114.8 671.1,1114.5 672.1,1114.3 673.1,1114 674.1,1113.8 675.1,1113.5 676.1,1113.3 677.1,1113.1 678.1,1112.8 679.1,1112.6 680.1,1112.4 681.1,1112.1 682.1,1111.9 683.1,1111.7 684.1,1111.5 685.1,1111.2 686.1,1111 687.1,1110.8 688.1,1110.6 689.1,1110.4 690.1,1110.1 691.1,1109.9 692.1,1109.7 693.1,1109.5 694.1,1109.3 695.1,1109.1 696.1,1108.9 697.1,1108.7 698.1,1108.5 699.1,1108.3 700.1,1108.1 701.1,1107.8 702.1,1107.6 703.1,1107.4 704.1,1107.2 705.1,1107 706.1,1106.8 707.1,1106.6 708.1,1106.4 709.1,1106.1 710.1,1105.9 711.1,1105.7 712.1,1105.5 713.1,1105.3 714.1,1105.1 715.1,1104.9 716.1,1104.6 717.1,1104.4 718.1,1104.2 719.1,1104 720.1,1103.8 721.1,1103.6 722.1,1103.4 723.1,1103.2 724.1,1102.9 725.1,1102.7 726.1,1102.5 727.1,1102.3 728.1,1102.1 729.1,1101.9 730.1,1101.7 731.1,1101.5 732.1,1101.3 733.1,1101 734.1,1100.8 735.1,1100.6 736.1,1100.4 737.1,1100.2 738.1,1100 739.1,1099.8 740.1,1099.6" fill="none" stroke="#ff1010" stroke-width="4" stroke-linejoin="round"/>
<polyline points="278.1,772.8 279.1,773.4 280.1,774 281.1,774.7 282.1,775.5 283.1,776.3 284.1,777.1 285.1,778 286.1,779 287.1,779.9 288.1,780.9 289.1,781.9 290.1,783 291.1,784.1 292.1,785.4 293.1,786.8 294.1,788.3 295.1,789.9 296.1,792 297.1,794.5 298.1,797.3 299.1,800.3 300.1,803.3 301.1,806.3 302.1,809.2 303.1,812.3 304.1,815.6 305.1,819.2 306.1,823.2 307.1,828.1 308.1,833.9 309.1,840.2 310.1,846.5 311.1,852.4 312.1,858.5 313.1,864.7 314.1,870.5 315.1,875.8 316.1,880.3 317.1,884.4 318.1,888.2 319.1,891.7 320.1,895 321.1,898.1 322.1,900.9 323.1,903.6 324.1,906.1 325.1,908.6 326.1,910.9 327.1,913.2 328.1,915.6 329.1,917.9 330.1,920.2 331.1,922.5 332.1,924.7 333.1,926.9 334.1,929.1 335.1,931.3 336.1,933.6 337.1,935.9 338.1,938.2 339.1,940.5 340.1,942.8 341.1,945.2 342.1,947.6 343.1,950 344.1,952.5 345.1,955 346.1,957.5 347.1,960.1 348.1,962.7 349.1,965.5 350.1,968.3 351.1,971.3 352.1,974.4 353.1,977.7 354.1,981.1 355.1,984.6 356.1,988.2 357.1,991.9 358.1,995.8 359.1,999.7 360.1,1003.8 361.1,1008 362.1,1012.4 363.1,1017 364.1,1021.7 365.1,1026.7 366.1,1031.9 367.1,1037.2 368.1,1042.7 369.1,1048.3 370.1,1054 371.1,1059.8 372.1,1065.7 373.1,1071.7 374.1,1077.9 375.1,1084.1 376.1,1090.6 377.1,1097.2 378.1,1103.9 379.1,1110.7 380.1,1117.4 381.1,1124.2 382.1,1131.3 383.1,1138.7 384.1,1145.9 385.1,1152.4 386.1,1158 387.1,1162.5 388.1,1166.8 389.1,1170.7 390.1,1173.7 391.1,1175.8 392.1,1177 393.1,1178.2 394.1,1179.2 395.1,1180.1 396.1,1180.7 397.1,1181.2 398.1,1181.5 399.1,1181.5 400.1,1181.3 401.1,1181 402.1,1180.6 403.1,1180 404.1,1179.5 405.1,1178.8 406.1,1178.2 407.1,1177.7 408.1,1177.1 409.1,1176.4 410.1,1175.7 411.1,1175 412.1,1174.2 413.1,1173.4 414.1,1172.6 415.1,1171.8 416.1,1171 417.1,1170.2 418.1,1169.4 419.1,1168.6 420.1,1167.8 421.1,1167.1 422.1,1166.4 423.1,1165.7 424.1,1165.1 425.1,1164.4 426.1,1163.8 427.1,1163.2 428.1,1162.5 429.1,1161.9 430.1,1161.3 431.1,1160.7 432.1,1160.1 433.1,1159.5 434.1,1158.9 435.1,1158.4 436.1,1157.8 437.1,1157.2 438.1,1156.6 439.1,1156 440.1,1155.5 441.1,1154.9 442.1,1154.3 443.1,1153.7 444.1,1153.2 445.1,1152.6 446.1,1152 447.1,1151.4 448.1,1150.8 449.1,1150.2 450.1,1149.6 451.1,1149 452.1,1148.4 453.1,1147.9 454.1,1147.3 455.1,1146.7 456.1,1146.1 457.1,1145.5 458.1,1144.9 459.1,1144.3 460.1,1143.7 461.1,1143.1 462.1,1142.5 463.1,1141.9 464.1,1141.3 465.1,1140.7 466.1,1140.1 467.1,1139.5 468.1,1139 469.1,1138.4 470.1,1137.8 471.1,1137.2 472.1,1136.6 473.1,1136 474.1,1135.5 475.1,1134.9 476.1,1134.3 477.1,1133.8 478.1,1133.2 479.1,1132.6 480.1,1132.1 481.1,1131.5 482.1,1131 483.1,1130.4 484.1,1129.9 485.1,1129.4 486.1,1128.8 487.1,1128.3 488.1,1127.8 489.1,1127.2 490.1,1126.7 491.1,1126.2 492.1,1125.7 493.1,1125.2 494.1,1124.6 495.1,1124.1 496.1,1123.6 497.1,1123.1 498.1,1122.6 499.1,1122.1 500.1,1121.6 501.1,1121.1 502.1,1120.6 503.1,1120.1 504.1,1119.6 505.1,1119.2 506.1,1118.7 507.1,1118.2 508.1,1117.7 509.1,1117.2 510.1,1116.7 511.1,1116.3 512.1,1115.8 513.1,1115.3 514.1,1114.8 515.1,1114.3 516.1,1113.9 517.1,1113.4 518.1,1113 519.1,1112.6 520.1,1112.2 521.1,1111.8 522.1,1111.4 523.1,1111 524.1,1110.6 525.1,1110.2 526.1,1109.8 527.1,1109.4 528.1,1108.9 529.1,1108.5 530.1,1108 531.1,1107.6 532.1,1107 533.1,1106.5 534.1,1105.9 535.1,1105.4 536.1,1104.7 537.1,1103.9 538.1,1102.9 539.1,1101.9 540.1,1101 541.1,1100.3 542.1,1099.6 543.1,1099.1 544.1,1098.5 545.1,1098 546.1,1097.5 547.1,1097 548.1,1096.6 549.1,1096.2 550.1,1095.8 551.1,1095.4 552.1,1095 553.1,1094.6 554.1,1094.2 555.1,1093.8 556.1,1093.4 557.1,1093.1 558.1,1092.7 559.1,1092.3 560.1,1091.9 561.1,1091.5 562.1,1091 563.1,1090.6 564.1,1090.2 565.1,1089.8 566.1,1089.4 567.1,1089 568.1,1088.6 569.1,1088.2 570.1,1087.8 571.1,1087.4 572.1,1087 573.1,1086.6 574.1,1086.2 575.1,1085.8 576.1,1085.4 577.1,1085 578.1,1084.6 579.1,1084.2 580.1,1083.8 581.1,1083.4 582.1,1083.1 583.1,1082.7 584.1,1082.3 585.1,1081.9 586.1,1081.6 587.1,1081.2 588.1,1080.8 589.1,1080.5 590.1,1080.1 591.1,1079.8 592.1,1079.4 593.1,1079.1 594.1,1078.8 595.1,1078.4 596.1,1078.1 597.1,1077.8 598.1,1077.5 599.1,1077.2 600.1,1076.9 601.1,1076.6 602.1,1076.3 603.1,1076 604.1,1075.7 605.1,1075.4 606.1,1075.1 607.1,1074.8 608.1,1074.6 609.1,1074.3 610.1,1074 611.1,1073.7 612.1,1073.5 613.1,1073.2 614.1,1072.9 615.1,1072.7 616.1,1072.4 617.1,1072.1 618.1,1071.9 619.1,1071.6 620.1,1071.4 621.1,1071.1 622.1,1070.9 623.1,1070.6 624.1,1070.4 625.1,1070.1 626.1,1069.8 627.1,1069.6 628.1,1069.3 629.1,1069.1 630.1,1068.8 631.1,1068.6 632.1,1068.3 633.1,1068.1 634.1,1067.8 635.1,1067.5 636.1,1067.3 637.1,1067 638.1,1066.7 639.1,1066.5 640.1,1066.2 641.1,1065.9 642.1,1065.7 643.1,1065.4 644.1,1065.1 645.1,1064.9 646.1,1064.6 647.1,1064.3 648.1,1064 649.1,1063.8 650.1,1063.5 651.1,1063.2 652.1,1063 653.1,1062.7 654.1,1062.4 655.1,1062.2 656.1,1061.9 657.1,1061.7 658.1,1061.4 659.1,1061.2 660.1,1060.9 661.1,1060.7 662.1,1060.4 663.1,1060.2 664.1,1060 665.1,1059.7 666.1,1059.5 667.1,1059.3 668.1,1059.1 669.1,1058.9 670.1,1058.7 671.1,1058.5 672.1,1058.3 673.1,1058.1 674.1,1057.9 675.1,1057.8 676.1,1057.6 677.1,1057.4 678.1,1057.3 679.1,1057.1 680.1,1056.9 681.1,1056.8 682.1,1056.6 683.1,1056.5 684.1,1056.3 685.1,1056.2 686.1,1056.1 687.1,1055.9 688.1,1055.8 689.1,1055.6 690.1,1055.5 691.1,1055.4 692.1,1055.2 693.1,1055.1 694.1,1054.9 695.1,1054.8 696.1,1054.7 697.1,1054.5 698.1,1054.4 699.1,1054.3 700.1,1054.1 701.1,1054 702.1,1053.8 703.1,1053.7 704.1,1053.5 705.1,1053.4 706.1,1053.2 707.1,1053.1 708.1,1052.9 709.1,1052.8 710.1,1052.6 711.1,1052.4 712.1,1052.3 713.1,1052.1 714.1,1051.9 715.1,1051.8 716.1,1051.6 717.1,1051.4 718.1,1051.3 719.1,1051.1 720.1,1050.9 721.1,1050.7 722.1,1050.6 723.1,1050.4 724.1,1050.2 725.1,1050 726.1,1049.9 727.1,1049.7 728.1,1049.5 729.1,1049.3 730.1,1049.2 731.1,1049 732.1,1048.8 733.1,1048.6 734.1,1048.4 735.1,1048.2 736.1,1048.1 737.1,1047.9 738.1,1047.7 739.1,1047.5 740.1,1047.3" fill="none" stroke="#000" stroke-width="4" stroke-linejoin="round"/>
<polyline points="278.1,759.7 279.1,760.1 280.1,760.6 281.1,761.1 282.1,761.7 283.1,762.3 284.1,762.9 285.1,763.6 286.1,764.3 287.1,765.1 288.1,765.8 289.1,766.6 290.1,767.4 291.1,768.3 292.1,769.3 293.1,770.4 294.1,771.7 295.1,773.1 296.1,775 297.1,777.5 298.1,780.3 299.1,783.4 300.1,786.5 301.1,789.6 302.1,792.8 303.1,796.3 304.1,799.9 305.1,803.9 306.1,808.3 307.1,813.2 308.1,818.9 309.1,825 310.1,831.4 311.1,838 312.1,844.5 313.1,851.3 314.1,858.4 315.1,865.5 316.1,872.4 317.1,879.2 318.1,886.2 319.1,893.3 320.1,899.9 321.1,905.7 322.1,910.5 323.1,914.5 324.1,918.1 325.1,921.5 326.1,924.5 327.1,927.5 328.1,930.3 329.1,933.1 330.1,935.8 331.1,938.4 332.1,940.9 333.1,943.3 334.1,945.7 335.1,948.1 336.1,950.4 337.1,952.7 338.1,954.9 339.1,957.1 340.1,959.3 341.1,961.5 342.1,963.7 343.1,966.1 344.1,968.6 345.1,971.1 346.1,973.7 347.1,976.4 348.1,979.2 349.1,982.1 350.1,985 351.1,988.1 352.1,991.1 353.1,994.3 354.1,997.5 355.1,1000.8 356.1,1004.4 357.1,1008.2 358.1,1012.4 359.1,1017.1 360.1,1022.6 361.1,1028.7 362.1,1035.1 363.1,1041.7 364.1,1048.1 365.1,1054.5 366.1,1061 367.1,1067.7 368.1,1074.4 369.1,1081.3 370.1,1088.3 371.1,1095.6 372.1,1103 373.1,1110.5 374.1,1117.9 375.1,1125.2 376.1,1132.7 377.1,1140.6 378.1,1148.2 379.1,1154.7 380.1,1159.5 381.1,1163 382.1,1166.1 383.1,1168.6 384.1,1170.5 385.1,1171.9 386.1,1173.1 387.1,1174.3 388.1,1175.1 389.1,1175.7 390.1,1175.9 391.1,1175.9 392.1,1175.7 393.1,1175.5 394.1,1175.2 395.1,1174.9 396.1,1174.6 397.1,1174.2 398.1,1173.8 399.1,1173.4 400.1,1173 401.1,1172.6 402.1,1172.1 403.1,1171.6 404.1,1171 405.1,1170.4 406.1,1169.8 407.1,1169.2 408.1,1168.6 409.1,1168.1 410.1,1167.6 411.1,1167.1 412.1,1166.7 413.1,1166.3 414.1,1165.9 415.1,1165.5 416.1,1165.1 417.1,1164.7 418.1,1164.3 419.1,1164 420.1,1163.6 421.1,1163.3 422.1,1162.9 423.1,1162.5 424.1,1162.2 425.1,1161.8 426.1,1161.5 427.1,1161.1 428.1,1160.7 429.1,1160.3 430.1,1159.9 431.1,1159.5 432.1,1159.1 433.1,1158.7 434.1,1158.3 435.1,1157.9 436.1,1157.5 437.1,1157 438.1,1156.6 439.1,1156.2 440.1,1155.8 441.1,1155.3 442.1,1154.9 443.1,1154.5 444.1,1154.1 445.1,1153.6 446.1,1153.2 447.1,1152.8 448.1,1152.3 449.1,1151.9 450.1,1151.5 451.1,1151.1 452.1,1150.6 453.1,1150.2 454.1,1149.8 455.1,1149.4 456.1,1148.9 457.1,1148.5 458.1,1148.1 459.1,1147.7 460.1,1147.2 461.1,1146.8 462.1,1146.3 463.1,1145.9 464.1,1145.4 465.1,1144.9 466.1,1144.4 467.1,1144 468.1,1143.5 469.1,1143 470.1,1142.5 471.1,1142 472.1,1141.5 473.1,1141 474.1,1140.4 475.1,1139.9 476.1,1139.4 477.1,1138.8 478.1,1138.3 479.1,1137.7 480.1,1137.1 481.1,1136.5 482.1,1135.9 483.1,1135.2 484.1,1134.5 485.1,1133.9 486.1,1133.1 487.1,1132.4 488.1,1131.6 489.1,1130.7 490.1,1129.9 491.1,1129 492.1,1128 493.1,1127.1 494.1,1126.1 495.1,1125.1 496.1,1124.1 497.1,1123.1 498.1,1122.1 499.1,1121 500.1,1120 501.1,1119 502.1,1118 503.1,1116.9 504.1,1115.8 505.1,1114.7 506.1,1113.6 507.1,1112.5 508.1,1111.4 509.1,1110.2 510.1,1109 511.1,1107.9 512.1,1106.7 513.1,1105.5 514.1,1104.4 515.1,1103.2 516.1,1102 517.1,1100.8 518.1,1099.6 519.1,1098.4 520.1,1097.2 521.1,1096 522.1,1094.8 523.1,1093.5 524.1,1092.3 525.1,1091 526.1,1089.7 527.1,1088.4 528.1,1087.1 529.1,1085.8 530.1,1084.4 531.1,1083.1 532.1,1081.8 533.1,1080.4 534.1,1079 535.1,1077.4 536.1,1075.7 537.1,1073.6 538.1,1070.8 539.1,1068.3 540.1,1066.5 541.1,1065.1 542.1,1063.8 543.1,1062.6 544.1,1061.4 545.1,1060.1 546.1,1058.6 547.1,1057.1 548.1,1055.6 549.1,1054.1 550.1,1052.6 551.1,1051 552.1,1049.5 553.1,1047.9 554.1,1046.3 555.1,1044.7 556.1,1043 557.1,1041.4 558.1,1039.7 559.1,1038.1 560.1,1036.4 561.1,1034.7 562.1,1033 563.1,1031.4 564.1,1029.7 565.1,1028 566.1,1026.3 567.1,1024.6 568.1,1023 569.1,1021.3 570.1,1019.7 571.1,1018 572.1,1016.4 573.1,1014.7 574.1,1013.1 575.1,1011.5 576.1,1009.9 577.1,1008.4 578.1,1006.8 579.1,1005.3 580.1,1003.8 581.1,1002.3 582.1,1000.8 583.1,999.3 584.1,997.8 585.1,996.3 586.1,994.8 587.1,993.3 588.1,991.9 589.1,990.4 590.1,989 591.1,987.5 592.1,986.1 593.1,984.6 594.1,983.2 595.1,981.7 596.1,980.3 597.1,978.9 598.1,977.4 599.1,976 600.1,974.6 601.1,973.2 602.1,971.7 603.1,970.3 604.1,968.9 605.1,967.5 606.1,966 607.1,964.6 608.1,963.2 609.1,961.8 610.1,960.3 611.1,958.9 612.1,957.5 613.1,956 614.1,954.6 615.1,953.1 616.1,951.7 617.1,950.2 618.1,948.8 619.1,947.3 620.1,945.9 621.1,944.4 622.1,942.9 623.1,941.5 624.1,940 625.1,938.5 626.1,937.1 627.1,935.6 628.1,934.1 629.1,932.7 630.1,931.2 631.1,929.7 632.1,928.3 633.1,926.8 634.1,925.4 635.1,923.9 636.1,922.4 637.1,921 638.1,919.5 639.1,918.1 640.1,916.6 641.1,915.2 642.1,913.7 643.1,912.3 644.1,910.8 645.1,909.4 646.1,907.9 647.1,906.5 648.1,905.1 649.1,903.7 650.1,902.3 651.1,900.8 652.1,899.4 653.1,898 654.1,896.6 655.1,895.2 656.1,893.9 657.1,892.5 658.1,891.1 659.1,889.7 660.1,888.3 661.1,887 662.1,885.6 663.1,884.3 664.1,882.9 665.1,881.5 666.1,880.2 667.1,878.8 668.1,877.5 669.1,876.1 670.1,874.8 671.1,873.5 672.1,872.1 673.1,870.8 674.1,869.4 675.1,868.1 676.1,866.8 677.1,865.4 678.1,864.1 679.1,862.8 680.1,861.4 681.1,860.1 682.1,858.8 683.1,857.4 684.1,856.1 685.1,854.8 686.1,853.4 687.1,852.1 688.1,850.7 689.1,849.4 690.1,848.1 691.1,846.7 692.1,845.4 693.1,844 694.1,842.7 695.1,841.4 696.1,840 697.1,838.7 698.1,837.3 699.1,836 700.1,834.7 701.1,833.3 702.1,832 703.1,830.6 704.1,829.3 705.1,828 706.1,826.6 707.1,825.3 708.1,824 709.1,822.6 710.1,821.3 711.1,820 712.1,818.6 713.1,817.3 714.1,816 715.1,814.6 716.1,813.3 717.1,812 718.1,810.6 719.1,809.3 720.1,808 721.1,806.6 722.1,805.3 723.1,804 724.1,802.6 725.1,801.3 726.1,800 727.1,798.6 728.1,797.3 729.1,796 730.1,794.7 731.1,793.3 732.1,792 733.1,790.7 734.1,789.3 735.1,788 736.1,786.7 737.1,785.4 738.1,784 739.1,782.7 740.1,781.4" fill="none" stroke="#1010ff" stroke-width="4" stroke-linejoin="round"/>
<rect x="278" y="717" width="463" height="498" fill="none" stroke="#000" stroke-width="5.5"/>
<line x1="330" y1="1215" x2="330" y2="1197" stroke="#000" stroke-width="5"/>
<line x1="330" y1="717" x2="330" y2="735" stroke="#000" stroke-width="5"/>
<text x="0" y="0" font-size="36" text-anchor="middle" fill="#111" stroke="#111" stroke-width="0.7" transform="translate(330 1260) scale(0.96 1)">400</text>
<line x1="382" y1="1215" x2="382" y2="1203" stroke="#000" stroke-width="5"/>
<line x1="382" y1="717" x2="382" y2="729" stroke="#000" stroke-width="5"/>
<line x1="434" y1="1215" x2="434" y2="1197" stroke="#000" stroke-width="5"/>
<line x1="434" y1="717" x2="434" y2="735" stroke="#000" stroke-width="5"/>
<text x="0" y="0" font-size="36" text-anchor="middle" fill="#111" stroke="#111" stroke-width="0.7" transform="translate(434 1260) scale(0.96 1)">600</text>
<line x1="486" y1="1215" x2="486" y2="1203" stroke="#000" stroke-width="5"/>
<line x1="486" y1="717" x2="486" y2="729" stroke="#000" stroke-width="5"/>
<line x1="538" y1="1215" x2="538" y2="1197" stroke="#000" stroke-width="5"/>
<line x1="538" y1="717" x2="538" y2="735" stroke="#000" stroke-width="5"/>
<text x="0" y="0" font-size="36" text-anchor="middle" fill="#111" stroke="#111" stroke-width="0.7" transform="translate(538 1260) scale(0.96 1)">800</text>
<line x1="590" y1="1215" x2="590" y2="1203" stroke="#000" stroke-width="5"/>
<line x1="590" y1="717" x2="590" y2="729" stroke="#000" stroke-width="5"/>
<line x1="642" y1="1215" x2="642" y2="1197" stroke="#000" stroke-width="5"/>
<line x1="642" y1="717" x2="642" y2="735" stroke="#000" stroke-width="5"/>
<text x="0" y="0" font-size="36" text-anchor="middle" fill="#111" stroke="#111" stroke-width="0.7" transform="translate(642 1260) scale(0.96 1)">1000</text>
<line x1="694" y1="1215" x2="694" y2="1203" stroke="#000" stroke-width="5"/>
<line x1="694" y1="717" x2="694" y2="729" stroke="#000" stroke-width="5"/>
<line x1="278" y1="755.2" x2="297" y2="755.2" stroke="#000" stroke-width="5"/>
<line x1="741" y1="755.2" x2="724" y2="755.2" stroke="#000" stroke-width="5"/>
<line x1="278" y1="793.45" x2="297" y2="793.45" stroke="#000" stroke-width="5"/>
<line x1="741" y1="793.45" x2="724" y2="793.45" stroke="#000" stroke-width="5"/>
<line x1="278" y1="831.7" x2="297" y2="831.7" stroke="#000" stroke-width="5"/>
<line x1="741" y1="831.7" x2="724" y2="831.7" stroke="#000" stroke-width="5"/>
<line x1="278" y1="869.95" x2="297" y2="869.95" stroke="#000" stroke-width="5"/>
<line x1="741" y1="869.95" x2="724" y2="869.95" stroke="#000" stroke-width="5"/>
<line x1="278" y1="908.2" x2="297" y2="908.2" stroke="#000" stroke-width="5"/>
<line x1="741" y1="908.2" x2="724" y2="908.2" stroke="#000" stroke-width="5"/>
<line x1="278" y1="946.45" x2="297" y2="946.45" stroke="#000" stroke-width="5"/>
<line x1="741" y1="946.45" x2="724" y2="946.45" stroke="#000" stroke-width="5"/>
<line x1="278" y1="984.7" x2="297" y2="984.7" stroke="#000" stroke-width="5"/>
<line x1="741" y1="984.7" x2="724" y2="984.7" stroke="#000" stroke-width="5"/>
<line x1="278" y1="1022.95" x2="297" y2="1022.95" stroke="#000" stroke-width="5"/>
<line x1="741" y1="1022.95" x2="724" y2="1022.95" stroke="#000" stroke-width="5"/>
<line x1="278" y1="1061.2" x2="297" y2="1061.2" stroke="#000" stroke-width="5"/>
<line x1="741" y1="1061.2" x2="724" y2="1061.2" stroke="#000" stroke-width="5"/>
<line x1="278" y1="1099.45" x2="297" y2="1099.45" stroke="#000" stroke-width="5"/>
<line x1="741" y1="1099.45" x2="724" y2="1099.45" stroke="#000" stroke-width="5"/>
<line x1="278" y1="1137.7" x2="297" y2="1137.7" stroke="#000" stroke-width="5"/>
<line x1="741" y1="1137.7" x2="724" y2="1137.7" stroke="#000" stroke-width="5"/>
<line x1="278" y1="1175.95" x2="297" y2="1175.95" stroke="#000" stroke-width="5"/>
<line x1="741" y1="1175.95" x2="724" y2="1175.95" stroke="#000" stroke-width="5"/>
<text x="511" y="1302" font-size="30" text-anchor="middle" fill="#222" stroke="#222" stroke-width="0.7">Wavelength / nm</text>
<text x="224" y="968.5" font-size="30.5" text-anchor="middle" fill="#222" stroke="#222" stroke-width="0.7" transform="rotate(-90 224 968.5)">Absorbance / a.u.</text>
<text x="0" y="0" font-size="38" fill="#111" stroke="#111" stroke-width="0.7" transform="translate(384.5 780.3) scale(0.97 1)">(a) WO<tspan font-size="36" dy="11.5">3</tspan><tspan dy="-11.5">&#183;H</tspan><tspan font-size="36" dy="11.5">2</tspan><tspan dy="-11.5">O</tspan></text>
<text x="0" y="0" font-size="38" fill="#ff1010" stroke="#ff1010" stroke-width="0.7" transform="translate(384.5 843.7) scale(0.97 1)">(b) WO<tspan font-size="36" dy="11.5">3</tspan><tspan dy="-11.5">&#183;0.33H</tspan><tspan font-size="36" dy="11.5">2</tspan><tspan dy="-11.5">O</tspan></text>
<text x="0" y="0" font-size="38" fill="#1010ff" stroke="#1010ff" stroke-width="0.7" transform="translate(384.5 905.3) scale(0.97 1)">(c) WO<tspan font-size="36" dy="11.5">3</tspan><tspan dy="-11.5">&#183;2H</tspan><tspan font-size="36" dy="11.5">2</tspan><tspan dy="-11.5">O</tspan></text>
<text x="675" y="892" font-size="37" fill="#1010ff" stroke="#1010ff" stroke-width="0.7">(c)</text>
<text x="683" y="1090" font-size="37" fill="#111" stroke="#111" stroke-width="0.7">(a)</text>
<text x="677" y="1144" font-size="37" fill="#ff1010" stroke="#ff1010" stroke-width="0.7">(b)</text>
<text x="47" y="782" font-size="66" font-weight="bold" fill="#000">(d)</text>
<polyline points="915.4,971.3 916.4,960.1 917.4,980.7 918.4,965.9 919.4,974 920.4,967.2 921.4,978.5 922.4,969.6 923.4,979.8 924.4,941.2 925.4,989 926.4,970.1 927.4,976.9 928.4,969.9 929.4,976.3 930.4,972.2 931.4,978.8 932.4,970 933.4,976.6 934.4,959 935.4,976.2 936.4,952.5 937.4,975.2 938.4,970.4 939.4,992.5 940.4,965.8 941.4,975.7 942.4,946.6 943.4,981.3 944.4,973.5 945.4,981.3 946.4,965.7 947.4,982 948.4,963.5 949.4,981.7 950.4,971.9 951.4,975.2 952.4,957.7 953.4,975.7 954.4,960.1 955.4,977.2 956.4,965.8 957.4,984.9 958.4,958.1 959.4,977.2 960.4,960.3 961.4,990.2 962.4,965.3 963.4,976.2 964.4,955.5 965.4,987.6 966.4,959.6 967.4,982.2 968.4,966.4 969.4,978.6 970.4,960.9 971.4,982 972.4,964.6 973.4,987.7 974.4,967.8 975.4,972.3 976.4,962.4 977.4,979.9 978.4,972.2 979.4,975.3 980.4,963 981.4,977.5 982.4,972.4 983.4,978.7 984.4,965 985.4,983 986.4,971.1 987.4,974.3 988.4,964.3 989.4,989.7 990.4,952.6 991.4,985.2 992.4,963.8 993.4,974 994.4,969.1 995.4,982.8 996.4,957.9 997.4,982.7 998.4,964 999.4,993.6 1000.4,957.5 1001.4,972.7 1002.4,956.2 1003.4,979 1004.4,954.1 1005.4,996.3 1006.4,956 1007.4,977 1008.4,960.4 1009.4,989.1 1010.4,968.6 1011.4,981.6 1012.4,957.6 1013.4,974.6 1014.4,972.7 1015.4,976.5 1016.4,970.9 1017.4,975 1018.4,969 1019.4,972.9 1020.4,962.6 1021.4,978.9 1022.4,954.2 1023.4,973.6 1024.4,955.9 1025.4,984.9 1026.4,964.5 1027.4,989.9 1028.4,972.9 1029.4,973.9 1030.4,955.3 1031.4,983.8 1032.4,942.6 1033.4,992.5 1034.4,965.5 1035.4,976 1036.4,960.3 1037.4,973 1038.4,970.1 1039.4,973.7 1040.4,960.5 1041.4,970.8 1042.4,961.1 1043.4,976.3 1044.4,963.3 1045.4,997.9 1046.4,944.1 1047.4,978.3 1048.4,968.5 1049.4,978 1050.4,965.8 1051.4,983.8 1052.4,958.9 1053.4,982.5 1054.4,973.2 1055.4,984 1056.4,967.1 1057.4,973.7 1058.4,957.7 1059.4,978.4 1060.4,970.4 1061.4,987.7 1062.4,956.4 1063.4,989 1064.4,965.9 1065.4,970.7 1066.4,957.3 1067.4,973.9 1068.4,965.4 1069.4,977.3 1070.4,945.3 1071.4,985.5 1072.4,950.1 1073.4,990.6 1074.4,965.9 1075.4,978.3 1076.4,963.7 1077.4,973.6 1078.4,963.2 1079.4,976.3 1080.4,968.8 1081.4,985.1 1082.4,969.6 1083.4,982.2 1084.4,966.6 1085.4,975.3 1086.4,961.4 1087.4,985.4 1088.4,972.7 1089.4,977.1 1090.4,970.1 1091.4,977.7 1092.4,964.4 1093.4,977.3 1094.4,964 1095.4,968.2 1096.4,963.5 1097.4,984.5 1098.4,963.5 1099.4,981.1 1100.4,964.3 1101.4,971.1 1102.4,967.2 1103.4,999.1 1104.4,1008.3 1105.4,1008.3 1106.4,959.1 1107.4,984 1108.4,976.3 1109.4,984.8 1110.4,970.8 1111.4,989.9 1112.4,953.8 1113.4,988.5 1114.4,965.1 1115.4,977.3 1116.4,956.7 1117.4,972.9 1118.4,958.1 1119.4,976.6 1120.4,971.1 1121.4,983 1122.4,970.9 1123.4,976.2 1124.4,976.5 1125.4,978.7 1126.4,964.1 1127.4,984.6 1128.4,966.2 1129.4,983.5 1130.4,970.2 1131.4,993.4 1132.4,962.1 1133.4,977.7 1134.4,964.3 1135.4,973.1 1136.4,972.9 1137.4,971.7 1138.4,942.7 1139.4,973 1140.4,956.2 1141.4,976.2 1142.4,955.9 1143.4,985 1144.4,964.2 1145.4,976.4 1146.4,954.6 1147.4,984.7 1148.4,963.6 1149.4,976.5 1150.4,951.9 1151.4,973.2 1152.4,966.6 1153.4,978.7 1154.4,966.6 1155.4,978.7 1156.4,962.1 1157.4,987.5 1158.4,968.4 1159.4,979 1160.4,966.1 1161.4,982.4 1162.4,954 1163.4,977.3 1164.4,965.2 1165.4,982.3 1166.4,966.4 1167.4,986.1 1168.4,967.3 1169.4,976.1 1170.4,950.7 1171.4,976.9 1172.4,962.5 1173.4,977.6 1174.4,961.6 1175.4,976.7 1176.4,966.2 1177.4,991.1 1178.4,955.9 1179.4,971.5 1180.4,970.2 1181.4,983.2 1182.4,961.7 1183.4,980.4 1184.4,955.8 1185.4,983.9 1186.4,970.8 1187.4,993.5 1188.4,965.1 1189.4,980.2 1190.4,964.9 1191.4,972 1192.4,971.3 1193.4,972.9 1194.4,970.4 1195.4,983.5 1196.4,970.7 1197.4,975.4 1198.4,963.1 1199.4,985.8 1200.4,961.4 1201.4,989.7 1202.4,963.9 1203.4,975.3 1204.4,965.8 1205.4,976.6 1206.4,966.9 1207.4,972.9 1208.4,965.7 1209.4,988.2 1210.4,959 1211.4,973.1 1212.4,949.5 1213.4,971.6 1214.4,967 1215.4,971.4 1216.4,957.4 1217.4,989.5 1218.4,935.8 1219.4,986.7 1220.4,965.5 1221.4,974.9 1222.4,968.9 1223.4,986.9 1224.4,961.5 1225.4,976.5 1226.4,969.8 1227.4,998.6 1228.4,965.9 1229.4,975.4 1230.4,943.8 1231.4,981.2 1232.4,958.8 1233.4,970.8 1234.4,973.5 1235.4,978.4 1236.4,970.1 1237.4,980.4 1238.4,972.8 1239.4,1002.4 1240.4,960.3 1241.4,1000.2 1242.4,972.2 1243.4,981.9 1244.4,964.5 1245.4,976.6 1246.4,952.4 1247.4,979.3 1248.4,965.2 1249.4,972.7 1250.4,972.5 1251.4,971.2 1252.4,957.8 1253.4,974.7 1254.4,965.3 1255.4,980 1256.4,974.7 1257.4,971.8 1258.4,963.7 1259.4,980.1 1260.4,964.4 1261.4,1002 1262.4,957.3 1263.4,977.8 1264.4,968.1 1265.4,983.6 1266.4,967.3 1267.4,971.8 1268.4,940.8 1269.4,971.3 1270.4,967.7 1271.4,989.4 1272.4,953.1 1273.4,991.1 1274.4,952.5 1275.4,992.9 1276.4,964.6 1277.4,970.2 1278.4,962.2 1279.4,972.3 1280.4,966.1 1281.4,984.9 1282.4,967 1283.4,976.2 1284.4,967.5 1285.4,981.9 1286.4,969.5 1287.4,975 1288.4,968.8 1289.4,978.5 1290.4,967.4 1291.4,978.5 1292.4,964.8 1293.4,990.7 1294.4,970.5 1295.4,977.1 1296.4,959.1 1297.4,983.1 1298.4,965.6 1299.4,972.5 1300.4,964.3 1301.4,974.6 1302.4,961.5 1303.4,970.6 1304.4,969.6 1305.4,990.4 1306.4,947 1307.4,977.9 1308.4,957.8 1309.4,981.9 1310.4,963.6 1311.4,971.8 1312.4,955.6 1313.4,978.7 1314.4,966.7 1315.4,977.9 1316.4,962.2 1317.4,974.1 1318.4,972.7 1319.4,983.8 1320.4,974.8 1321.4,972.7 1322.4,960.6 1323.4,968.9 1324.4,958.7 1325.4,997.5 1326.4,962.3 1327.4,981.1 1328.4,965.5 1329.4,972.6 1330.4,967.2 1331.4,974.2 1332.4,960.9 1333.4,974 1334.4,956.1 1335.4,972.3 1336.4,954.8 1337.4,974.1 1338.4,958.4 1339.4,979.4 1340.4,971.3 1341.4,978.8 1342.4,956.2 1343.4,978.8 1344.4,948.4 1345.4,987.5 1346.4,952.2 1347.4,977.5 1348.4,961.7 1349.4,977.9 1350.4,952.3 1351.4,984.2 1352.4,967.8 1353.4,980.2 1354.4,969.9 1355.4,989.2 1356.4,960.2 1357.4,981.9 1358.4,960.6 1359.4,973.4 1360.4,970.4 1361.4,990.2 1362.4,955.8 1363.4,976.9 1364.4,967.2 1365.4,974.3 1366.4,965.8 1367.4,976.4 1368.4,961.4 1369.4,994 1370.4,963.5 1371.4,974 1372.4,964.6 1373.4,991.7 1374.4,970.7 1375.4,979.1 1376.4,946.3 1377.4,978.5 1378.4,969.3 1379.4,972.3 1380.4,949.2 1381.4,980.6 1382.4,956.6 1383.4,977.5 1384.4,955.6 1385.4,978.3 1386.4,955.7 1387.4,980.3 1388.4,956.7 1389.4,976.2 1390.4,971.5 1391.4,987.3 1392.4,954.1 1393.4,970.7 1394.4,960.8 1395.4,981.5 1396.4,960.5 1397.4,977.5 1398.4,949.6 1399.4,970.2 1400.4,959.6 1401.4,975 1402.4,960.3 1403.4,984.5 1404.4,963.3 1405.4,971.8 1406.4,968.7 1407.4,975.5 1408.4,959.9 1409.4,974.4 1410.4,964.6 1411.4,983.7 1412.4,959.8 1413.4,981.7 1414.4,968.1 1415.4,966.1 1416.4,960 1417.4,982.9 1418.4,965.9 1419.4,976.9 1420.4,974.5 1421.4,982.8 1422.4,967 1423.4,982 1424.4,966.1 1425.4,984.4 1426.4,969.9 1427.4,971.2 1428.4,967.9 1429.4,972.8 1430.4,961.9 1431.4,984.2 1432.4,955.7 1433.4,980.2 1434.4,968.6 1435.4,997 1436.4,960.3 1437.4,984 1438.4,955.9 1439.4,978.9 1440.4,956.3 1441.4,979.6 1442.4,966.2 1443.4,981.4 1444.4,963.5 1445.4,970.5 1446.4,973.3 1447.4,972.7 1448.4,960.2 1449.4,981.3 1450.4,960 1451.4,977.1 1452.4,969.6 1453.4,974.5 1454.4,959.9 1455.4,984.7 1456.4,960.6 1457.4,972.5 1458.4,955.2 1459.4,980.3 1460.4,958.5 1461.4,987.2 1462.4,958.7 1463.4,976.7 1464.4,970.5 1465.4,983.8 1466.4,969.5 1467.4,977.2 1468.4,961 1469.4,979.6 1470.4,964.1 1471.4,968.3 1472.4,958.4 1473.4,975.5 1474.4,971.6 1475.4,978.2 1476.4,954.9 1477.4,979.5 1478.4,968.1 1479.4,980.4 1480.4,958.3 1481.4,979.6 1482.4,963.6 1483.4,969.6 1484.4,960.2 1485.4,972.3 1486.4,952.6 1487.4,981.1 1488.4,955.1 1489.4,973.8 1490.4,956.9 1491.4,980.2 1492.4,960 1493.4,977.8 1494.4,957.9 1495.4,982.6 1496.4,959.1 1497.4,992 1498.4,955.6 1499.4,983.9 1500.4,963.1 1501.4,978.7 1502.4,952.4 1503.4,974.9 1504.4,955.1 1505.4,977.5 1506.4,950.8 1507.4,1001.2 1508.4,966.1 1509.4,996.3 1510.4,966.9 1511.4,979.3 1512.4,967 1513.4,976.3 1514.4,962.1 1515.4,986.4 1516.4,955.6 1517.4,979.4 1518.4,967.3 1519.4,980.7 1520.4,956.2 1521.4,997 1522.4,965.8 1523.4,988.2 1524.4,971 1525.4,974.3 1526.4,957.8 1527.4,973.8 1528.4,965.2 1529.4,1000.7 1530.4,959.4 1531.4,977.4 1532.4,955.7 1533.4,988.5 1534.4,959.5 1535.4,982.4 1536.4,971.8 1537.4,984 1538.4,969.1 1539.4,981.4 1540.4,955.8 1541.4,985.5 1542.4,975" fill="none" stroke="#f01010" stroke-width="2.3" stroke-linejoin="round"/>
<polyline points="914.4,968.5 915.4,961.8 916.4,973.6 917.4,964.2 918.4,979.5 919.4,961.3 920.4,973.3 921.4,960.8 922.4,970.2 923.4,963.1 924.4,969.8 925.4,966.6 926.4,982.3 927.4,969 928.4,976 929.4,958.6 930.4,976 931.4,964.2 932.4,970.8 933.4,966.5 934.4,974.9 935.4,968.4 936.4,973.9 937.4,970 938.4,974.8 939.4,967 940.4,972.8 941.4,966.2 942.4,976 943.4,960.7 944.4,976.4 945.4,967 946.4,974.7 947.4,962.3 948.4,972.1 949.4,969.5 950.4,972.4 951.4,967.6 952.4,971.7 953.4,959.3 954.4,973.7 955.4,967.3 956.4,977.2 957.4,970.2 958.4,974.8 959.4,967 960.4,973.4 961.4,958.3 962.4,973.1 963.4,967.2 964.4,973.2 965.4,967.9 966.4,977 967.4,967.1 968.4,978.6 969.4,960 970.4,977.5 971.4,962.8 972.4,977.5 973.4,955.7 974.4,971.5 975.4,970.2 976.4,974.1 977.4,964.2 978.4,980.1 979.4,964.3 980.4,972.4 981.4,966.8 982.4,979.8 983.4,957.5 984.4,971.8 985.4,968.5 986.4,969.9 987.4,965.2 988.4,977.5 989.4,968 990.4,973.4 991.4,962.3 992.4,977 993.4,967.7 994.4,973.5 995.4,964.4 996.4,972.9 997.4,963.9 998.4,974.2 999.4,957.5 1000.4,973.6 1001.4,965.8 1002.4,972.6 1003.4,958.8 1004.4,976.2 1005.4,965.7 1006.4,970 1007.4,966.6 1008.4,973.2 1009.4,959 1010.4,974.7 1011.4,967.6 1012.4,973.1 1013.4,966.2 1014.4,982.2 1015.4,963.7 1016.4,969 1017.4,963.2 1018.4,969.8 1019.4,966.7 1020.4,967.9 1021.4,960.9 1022.4,967.6 1023.4,965.7 1024.4,970.8 1025.4,953.8 1026.4,969.5 1027.4,963.8 1028.4,977.4 1029.4,958.3 1030.4,971.3 1031.4,958.3 1032.4,967.3 1033.4,960.1 1034.4,972.6 1035.4,961.9 1036.4,972.4 1037.4,957.1 1038.4,969.5 1039.4,965.5 1040.4,983.5 1041.4,962.5 1042.4,969.8 1043.4,965.6 1044.4,977.1 1045.4,960.4 1046.4,976.8 1047.4,965.2 1048.4,970 1049.4,957.7 1050.4,969.6 1051.4,961.5 1052.4,967.4 1053.4,963.1 1054.4,967.5 1055.4,962.9 1056.4,969.7 1057.4,961.1 1058.4,978.8 1059.4,956.5 1060.4,966.8 1061.4,964 1062.4,972.1 1063.4,962.2 1064.4,971.1 1065.4,961.2 1066.4,965.4 1067.4,958.4 1068.4,966.3 1069.4,956 1070.4,964.6 1071.4,954.7 1072.4,970.3 1073.4,962.4 1074.4,965.1 1075.4,956.5 1076.4,968.7 1077.4,961.3 1078.4,963.7 1079.4,959.4 1080.4,970.6 1081.4,959.1 1082.4,962.9 1083.4,954.2 1084.4,964.5 1085.4,954.4 1086.4,966.7 1087.4,953.9 1088.4,964.3 1089.4,958.3 1090.4,963 1091.4,942.5 1092.4,968.6 1093.4,943.8 1094.4,964.2 1095.4,942.1 1096.4,960.1 1097.4,946 1098.4,955.8 1099.4,952.5 1100.4,956 1101.4,954 1102.4,959.7 1103.4,950.1 1104.4,953.7 1105.4,948.9 1106.4,957.4 1107.4,951.2 1108.4,953 1109.4,950.2 1110.4,954 1111.4,945.4 1112.4,950.9 1113.4,947 1114.4,956.9 1115.4,943.2 1116.4,955.4 1117.4,942.9 1118.4,949.6 1119.4,945.5 1120.4,949.1 1121.4,943.6 1122.4,949.4 1123.4,944.1 1124.4,945.4 1125.4,944 1126.4,944.2 1127.4,942.1 1128.4,945.9 1129.4,936.6 1130.4,944.4 1131.4,938 1132.4,942.5 1133.4,939.7 1134.4,941.4 1135.4,930.2 1136.4,938.6 1137.4,936.6 1138.4,939.7 1139.4,933.4 1140.4,936.2 1141.4,925.4 1142.4,932.8 1143.4,927.8 1144.4,937.9 1145.4,922 1146.4,930.7 1147.4,921 1148.4,926.9 1149.4,921.9 1150.4,922.3 1151.4,918.7 1152.4,922.4 1153.4,906.9 1154.4,918.1 1155.4,913.5 1156.4,915.1 1157.4,902.5 1158.4,910 1159.4,903.5 1160.4,908.6 1161.4,896.6 1162.4,901.1 1163.4,890 1164.4,897.5 1165.4,890.3 1166.4,895.3 1167.4,882.5 1168.4,889.3 1169.4,876.4 1170.4,890.1 1171.4,877.8 1172.4,882.4 1173.4,875.2 1174.4,879.8 1175.4,866.2 1176.4,870.1 1177.4,859.9 1178.4,866.2 1179.4,853.9 1180.4,863.4 1181.4,852.8 1182.4,863.5 1183.4,849.4 1184.4,854.4 1185.4,847.7 1186.4,850.3 1187.4,838.3 1188.4,845.6 1189.4,826.3 1190.4,836.6 1191.4,831.6 1192.4,830.5 1193.4,826.8 1194.4,825.9 1195.4,818.9 1196.4,818.4 1197.4,813.3 1198.4,810.3 1199.4,805.1 1200.4,803.4 1201.4,793 1202.4,791.5 1203.4,784.3 1204.4,781.7 1205.4,777.4 1206.4,774.6 1207.4,770 1208.4,769.4 1209.4,766.5 1210.4,766.9 1211.4,763.8 1212.4,766.3 1213.4,764 1214.4,764.7 1215.4,761.8 1216.4,765.3 1217.4,762.1 1218.4,764.9 1219.4,763.3 1220.4,764.9 1221.4,764.8 1222.4,770.9 1223.4,769.7 1224.4,775.7 1225.4,775.8 1226.4,781.7 1227.4,783.9 1228.4,794.1 1229.4,798.6 1230.4,810.9 1231.4,812.4 1232.4,822.7 1233.4,827.7 1234.4,836.5 1235.4,843.9 1236.4,852.4 1237.4,859.1 1238.4,867.6 1239.4,874.2 1240.4,887.1 1241.4,890.2 1242.4,900.5 1243.4,906.3 1244.4,917.5 1245.4,922.5 1246.4,933 1247.4,938.4 1248.4,948.7 1249.4,954.9 1250.4,963.9 1251.4,968.4 1252.4,980.3 1253.4,987.4 1254.4,996.5 1255.4,1001.7 1256.4,1012.8 1257.4,1017.9 1258.4,1029.9 1259.4,1035 1260.4,1043.4 1261.4,1049.1 1262.4,1055.7 1263.4,1061 1264.4,1068.6 1265.4,1072.5 1266.4,1079.5 1267.4,1078.9 1268.4,1088.9 1269.4,1093.3 1270.4,1103.4 1271.4,1115.2 1272.4,1132 1273.4,1143.8 1274.4,1162.4 1275.4,1166.5 1276.4,1174.2 1277.4,1169.2 1278.4,1171 1279.4,1160.2 1280.4,1156.1 1281.4,1148.7 1282.4,1147.4 1283.4,1144 1284.4,1143.1 1285.4,1138.9 1286.4,1138 1287.4,1133.5 1288.4,1133.2 1289.4,1129.5 1290.4,1129.8 1291.4,1124.6 1292.4,1125.1 1293.4,1122.7 1294.4,1121.6 1295.4,1117 1296.4,1118.5 1297.4,1115.5 1298.4,1114.7 1299.4,1110.5 1300.4,1113.8 1301.4,1107.5 1302.4,1110.3 1303.4,1104.6 1304.4,1106.9 1305.4,1093.9 1306.4,1102 1307.4,1093.9 1308.4,1101.3 1309.4,1089.2 1310.4,1092.7 1311.4,1081.2 1312.4,1087.7 1313.4,1083.3 1314.4,1083.2 1315.4,1075.6 1316.4,1082.2 1317.4,1065 1318.4,1075.5 1319.4,1068.9 1320.4,1074.2 1321.4,1064.8 1322.4,1067.7 1323.4,1061 1324.4,1066.5 1325.4,1053.3 1326.4,1061.7 1327.4,1053.9 1328.4,1059 1329.4,1050 1330.4,1057.3 1331.4,1044.4 1332.4,1048.1 1333.4,1044.5 1334.4,1044.4 1335.4,1039.6 1336.4,1042.8 1337.4,1037.6 1338.4,1039.6 1339.4,1031.8 1340.4,1039.7 1341.4,1028.5 1342.4,1034.8 1343.4,1027.3 1344.4,1031.5 1345.4,1023.4 1346.4,1031.4 1347.4,1021.7 1348.4,1027.2 1349.4,1016.8 1350.4,1025.5 1351.4,1017 1352.4,1024.4 1353.4,1008.8 1354.4,1019.9 1355.4,1011.6 1356.4,1020 1357.4,1014.6 1358.4,1014.7 1359.4,1009.2 1360.4,1023 1361.4,1008.8 1362.4,1016.1 1363.4,1003.3 1364.4,1014.9 1365.4,1004.9 1366.4,1012.1 1367.4,1004.8 1368.4,1009.5 1369.4,1004.2 1370.4,1011.7 1371.4,1004.1 1372.4,1006.8 1373.4,999.8 1374.4,1003.9 1375.4,1002.5 1376.4,1004 1377.4,997.9 1378.4,1005.3 1379.4,998.3 1380.4,1006.3 1381.4,999.7 1382.4,1003.1 1383.4,998.2 1384.4,1000.6 1385.4,993.3 1386.4,998.5 1387.4,996.2 1388.4,999.7 1389.4,994.8 1390.4,996.4 1391.4,987.3 1392.4,997.9 1393.4,993.8 1394.4,997.4 1395.4,994.3 1396.4,996.5 1397.4,986.2 1398.4,995.9 1399.4,991.6 1400.4,995.5 1401.4,987.5 1402.4,993.1 1403.4,985.6 1404.4,995.2 1405.4,990.8 1406.4,991.4 1407.4,982 1408.4,993.5 1409.4,988.8 1410.4,995.7 1411.4,988.4 1412.4,990.8 1413.4,987.4 1414.4,991 1415.4,981.8 1416.4,989.2 1417.4,985.7 1418.4,988.9 1419.4,985.6 1420.4,989.2 1421.4,985.6 1422.4,994.5 1423.4,985.7 1424.4,987.9 1425.4,983.9 1426.4,987 1427.4,984.2 1428.4,991.3 1429.4,984.3 1430.4,989.5 1431.4,983.8 1432.4,985.6 1433.4,975.9 1434.4,988.1 1435.4,974.2 1436.4,984.3 1437.4,976.6 1438.4,987.6 1439.4,980.5 1440.4,986.9 1441.4,979.2 1442.4,983.6 1443.4,976.6 1444.4,983.5 1445.4,977.4 1446.4,988.9 1447.4,977.4 1448.4,982.1 1449.4,980.6 1450.4,981.8 1451.4,978 1452.4,988.2 1453.4,972.4 1454.4,984.9 1455.4,977.4 1456.4,991.4 1457.4,979.9 1458.4,986.9 1459.4,973.8 1460.4,993.3 1461.4,973.1 1462.4,982.5 1463.4,979.5 1464.4,986.9 1465.4,979.6 1466.4,981.2 1467.4,975.9 1468.4,980.6 1469.4,970.2 1470.4,979.6 1471.4,977.1 1472.4,989.6 1473.4,972.7 1474.4,981.3 1475.4,972.3 1476.4,980.5 1477.4,975.5 1478.4,984.5 1479.4,976.1 1480.4,978.9 1481.4,974.6 1482.4,978.6 1483.4,975.9 1484.4,981.9 1485.4,976.7 1486.4,983.6 1487.4,978 1488.4,980.5 1489.4,971.4 1490.4,980.1 1491.4,972.1 1492.4,978.2 1493.4,976.7 1494.4,979 1495.4,976.9 1496.4,982.5 1497.4,977.3 1498.4,978.2 1499.4,972 1500.4,980.3 1501.4,976.8 1502.4,984.8 1503.4,972.3 1504.4,979.7 1505.4,976.6 1506.4,979.2 1507.4,970.8 1508.4,978.1 1509.4,974.6 1510.4,983.6 1511.4,974.7 1512.4,981.4 1513.4,969.6 1514.4,979 1515.4,971.4 1516.4,980.2 1517.4,975.1 1518.4,980.2 1519.4,972.7 1520.4,978.7 1521.4,973.9 1522.4,976.9 1523.4,972.1 1524.4,977.6 1525.4,974.9 1526.4,980.7 1527.4,974.4 1528.4,985.3 1529.4,969.6 1530.4,979.5 1531.4,972.1 1532.4,976.5 1533.4,974.6 1534.4,977.3 1535.4,970 1536.4,980.3 1537.4,975.5 1538.4,984.8 1539.4,974.6 1540.4,977.7 1541.4,968.4" fill="none" stroke="#1010ee" stroke-width="2.8" stroke-linejoin="round"/>
<rect x="914.4" y="715.8" width="628.6" height="506.2" fill="none" stroke="#333" stroke-width="3"/>
<line x1="959.25" y1="1222" x2="959.25" y2="1230" stroke="#333" stroke-width="2.5"/>
<text x="959.25" y="1259.5" font-size="24" text-anchor="middle" fill="#333" stroke="#333" stroke-width="0.7">3340</text>
<line x1="1004.1" y1="1222" x2="1004.1" y2="1227" stroke="#333" stroke-width="2.5"/>
<line x1="1048.95" y1="1222" x2="1048.95" y2="1230" stroke="#333" stroke-width="2.5"/>
<text x="1048.95" y="1259.5" font-size="24" text-anchor="middle" fill="#333" stroke="#333" stroke-width="0.7">3350</text>
<line x1="1093.8" y1="1222" x2="1093.8" y2="1227" stroke="#333" stroke-width="2.5"/>
<line x1="1138.65" y1="1222" x2="1138.65" y2="1230" stroke="#333" stroke-width="2.5"/>
<text x="1138.65" y="1259.5" font-size="24" text-anchor="middle" fill="#333" stroke="#333" stroke-width="0.7">3360</text>
<line x1="1183.5" y1="1222" x2="1183.5" y2="1227" stroke="#333" stroke-width="2.5"/>
<line x1="1228.35" y1="1222" x2="1228.35" y2="1230" stroke="#333" stroke-width="2.5"/>
<text x="1228.35" y="1259.5" font-size="24" text-anchor="middle" fill="#333" stroke="#333" stroke-width="0.7">3370</text>
<line x1="1273.2" y1="1222" x2="1273.2" y2="1227" stroke="#333" stroke-width="2.5"/>
<line x1="1318.05" y1="1222" x2="1318.05" y2="1230" stroke="#333" stroke-width="2.5"/>
<text x="1318.05" y="1259.5" font-size="24" text-anchor="middle" fill="#333" stroke="#333" stroke-width="0.7">3380</text>
<line x1="1362.9" y1="1222" x2="1362.9" y2="1227" stroke="#333" stroke-width="2.5"/>
<line x1="1407.75" y1="1222" x2="1407.75" y2="1230" stroke="#333" stroke-width="2.5"/>
<text x="1407.75" y="1259.5" font-size="24" text-anchor="middle" fill="#333" stroke="#333" stroke-width="0.7">3390</text>
<line x1="1452.6" y1="1222" x2="1452.6" y2="1227" stroke="#333" stroke-width="2.5"/>
<line x1="1497.45" y1="1222" x2="1497.45" y2="1230" stroke="#333" stroke-width="2.5"/>
<text x="1497.45" y="1259.5" font-size="24" text-anchor="middle" fill="#333" stroke="#333" stroke-width="0.7">3400</text>
<text x="1228.7" y="1303.5" font-size="28.5" text-anchor="middle" fill="#222" stroke="#222" stroke-width="0.7">Magnetic field / G</text>
<text x="886.5" y="970.3" font-size="28.3" text-anchor="middle" fill="#222" stroke="#222" stroke-width="0.7" transform="rotate(-90 886.5 970.3)">Intensity / a.u.</text>
<line x1="928" y1="762" x2="983" y2="762" stroke="#1515ee" stroke-width="3"/>
<line x1="928" y1="807" x2="983" y2="807" stroke="#ee2020" stroke-width="3"/>
<text x="992" y="771.3" font-size="28" fill="#222" stroke="#222" stroke-width="0.7">Meso-WO<tspan font-size="16" dy="11">2.83</tspan></text>
<text x="992" y="814.5" font-size="28" fill="#222" stroke="#222" stroke-width="0.7">Meso-WO<tspan font-size="16" dy="11">3</tspan></text>
<text x="1301" y="902.8" font-size="26.5" fill="#222" stroke="#222" stroke-width="0.7">g = 2.002</text>
<line x1="1296" y1="905" x2="1258" y2="958" stroke="#111" stroke-width="2"/>
<polygon points="1253,966 1255,952 1264,958" fill="#111"/>
<text x="802" y="782" font-size="66" font-weight="bold" fill="#000">(e)</text>
<rect x="1626" y="703" width="766" height="615" fill="#f9f9f9" stroke="none" stroke-width="0"/>
<polyline points="1684.6,1129.1 1686.1,1129.9 1687.6,1127.6 1689.1,1130 1690.6,1128.8 1692.1,1128.3 1693.6,1128.3 1695.1,1128.1 1696.6,1128.7 1698.1,1129.4 1699.6,1129.3 1701.1,1129.3 1702.6,1127.7 1704.1,1127.7 1705.6,1129.9 1707.1,1129.5 1708.6,1130.4 1710.1,1129.7 1711.6,1128.1 1713.1,1129.7 1714.6,1129.3 1716.1,1129 1717.6,1128.3 1719.1,1128.8 1720.6,1128.6 1722.1,1129.3 1723.6,1128.7 1725.1,1129.6 1726.6,1127.8 1728.1,1128.5 1729.6,1128.4 1731.1,1127.3 1732.6,1126.9 1734.1,1128.3 1735.6,1127.8 1737.1,1127.1 1738.6,1127.3 1740.1,1126.4 1741.6,1126.8 1743.1,1126 1744.6,1126.4 1746.1,1126.7 1747.6,1125.6 1749.1,1126.2 1750.6,1124.7 1752.1,1125 1753.6,1124.1 1755.1,1124.8 1756.6,1124.7 1758.1,1124.3 1759.6,1124.1 1761.1,1125 1762.6,1124.8 1764.1,1122.8 1765.6,1124.2 1767.1,1122 1768.6,1122.5 1770.1,1122.6 1771.6,1122.6 1773.1,1121.5 1774.6,1121.5 1776.1,1121.8 1777.6,1120.9 1779.1,1120.7 1780.6,1121.3 1782.1,1121.2 1783.6,1120.2 1785.1,1119.9 1786.6,1119.5 1788.1,1118.8 1789.6,1118.4 1791.1,1117.6 1792.6,1118.3 1794.1,1117.4 1795.6,1116.8 1797.1,1116.6 1798.6,1116.3 1800.1,1116.4 1801.6,1114.6 1803.1,1113.9 1804.6,1113.8 1806.1,1112.4 1807.6,1113.3 1809.1,1112.4 1810.6,1111.7 1812.1,1110.4 1813.6,1110.4 1815.1,1109.9 1816.6,1108.7 1818.1,1107.4 1819.6,1105.6 1821.1,1106.6 1822.6,1104.8 1824.1,1103.6 1825.6,1103.9 1827.1,1102.6 1828.6,1100.4 1830.1,1100.4 1831.6,1099.2 1833.1,1099.1 1834.6,1096 1836.1,1096 1837.6,1095.1 1839.1,1095 1840.6,1092.1 1842.1,1089.6 1843.6,1089.4 1845.1,1089.3 1846.6,1088.3 1848.1,1087.6 1849.6,1085.3 1851.1,1083 1852.6,1082.6 1854.1,1080.3 1855.6,1078.5 1857.1,1076.9 1858.6,1076 1860.1,1072.6 1861.6,1070.7 1863.1,1069.4 1864.6,1067.5 1866.1,1065 1867.6,1063 1869.1,1062 1870.6,1060.6 1872.1,1058.1 1873.6,1056 1875.1,1054.2 1876.6,1049.7 1878.1,1047.7 1879.6,1046.1 1881.1,1043.5 1882.6,1041.5 1884.1,1040.2 1885.6,1037.2 1887.1,1035.9 1888.6,1033 1890.1,1032.1 1891.6,1032.1 1893.1,1029.1 1894.6,1028.2 1896.1,1026.9 1897.6,1024.6 1899.1,1023.9 1900.6,1022.3 1902.1,1021.3 1903.6,1019 1905.1,1017.2 1906.6,1016.3 1908.1,1015.4 1909.6,1015 1911.1,1013.4 1912.6,1012.2 1914.1,1011.3 1915.6,1011.2 1917.1,1009.2 1918.6,1009.8 1920.1,1007.2 1921.6,1006.9 1923.1,1007.2 1924.6,1006.3 1926.1,1004.7 1927.6,1004.7 1929.1,1003.7 1930.6,1004.4 1932.1,1003.8 1933.6,1002.7 1935.1,1003.3 1936.6,1002.7 1938.1,1002.8 1939.6,1002.8 1941.1,1002.3 1942.6,1003 1944.1,1002.9 1945.6,1002.9 1947.1,1003.3 1948.6,1002.3 1950.1,1001.4 1951.6,1002.1 1953.1,1002.6 1954.6,1002.4 1956.1,1002.8 1957.6,1002.9 1959.1,1002.2 1960.6,1002.1 1962.1,1001.4 1963.6,1002.8 1965.1,1001.8 1966.6,1001.1 1968.1,1000.8 1969.6,1001 1971.1,1002.1 1972.6,1001.1 1974.1,999 1975.6,999.6 1977.1,999.3 1978.6,999 1980.1,998.2 1981.6,996.9 1983.1,997.1 1984.6,995.8 1986.1,993.9 1987.6,994.2 1989.1,993.4 1990.6,993.7 1992.1,992.8 1993.6,990.3 1995.1,990.1 1996.6,989 1998.1,986.8 1999.6,985.3 2001.1,985.5 2002.6,984.5 2004.1,982.8 2005.6,980.2 2007.1,980.8 2008.6,979.1 2010.1,977.5 2011.6,976.5 2013.1,974.5 2014.6,974.2 2016.1,972.4 2017.6,970.6 2019.1,969.8 2020.6,968.2 2022.1,965.9 2023.6,965.6 2025.1,964 2026.6,961.7 2028.1,960.9 2029.6,960.2 2031.1,958.1 2032.6,958.2 2034.1,957.3 2035.6,955.1 2037.1,955.2 2038.6,956 2040.1,954.4 2041.6,954.1 2043.1,954.5 2044.6,954 2046.1,954.2 2047.6,955.5 2049.1,955.3 2050.6,956.1 2052.1,956.6 2053.6,956.3 2055.1,957.4 2056.6,958.2 2058.1,958.8 2059.6,959.6 2061.1,961.5 2062.6,962.3 2064.1,964 2065.6,966.1 2067.1,967.9 2068.6,968.4 2070.1,970.7 2071.6,973.4 2073.1,975.9 2074.6,978.7 2076.1,979.7 2077.6,982.3 2079.1,985.1 2080.6,988.3 2082.1,990.9 2083.6,991.9 2085.1,995.1 2086.6,997.4 2088.1,1001.2 2089.6,1003.5 2091.1,1005.5 2092.6,1007.8 2094.1,1010.8 2095.6,1013.6 2097.1,1014.7 2098.6,1017.3 2100.1,1019.9 2101.6,1022 2103.1,1024.5 2104.6,1025.7 2106.1,1028.1 2107.6,1029.2 2109.1,1032.8 2110.6,1035.6 2112.1,1035.4 2113.6,1038.4 2115.1,1041.5 2116.6,1042.7 2118.1,1043.4 2119.6,1047.4 2121.1,1047.4 2122.6,1051.2 2124.1,1051.6 2125.6,1053.3 2127.1,1055.5 2128.6,1057.2 2130.1,1059.3 2131.6,1060.9 2133.1,1062 2134.6,1064.6 2136.1,1065.6 2137.6,1066.7 2139.1,1068 2140.6,1069.1 2142.1,1070.3 2143.6,1072 2145.1,1073 2146.6,1073.7 2148.1,1075.5 2149.6,1075.6 2151.1,1077.2 2152.6,1078.5 2154.1,1078.2 2155.6,1079.8 2157.1,1082.3 2158.6,1081.6 2160.1,1084.2 2161.6,1083.7 2163.1,1085.9 2164.6,1086 2166.1,1087.4 2167.6,1088.7 2169.1,1089.8 2170.6,1092 2172.1,1093 2173.6,1094.2 2175.1,1094.9 2176.6,1097.1 2178.1,1097.8 2179.6,1098.5 2181.1,1098.7 2182.6,1101.1 2184.1,1102.2 2185.6,1103 2187.1,1104.6 2188.6,1105.9 2190.1,1106.4 2191.6,1108.3 2193.1,1109.4 2194.6,1110.7 2196.1,1111.6 2197.6,1112.9 2199.1,1114.7 2200.6,1117 2202.1,1119.1 2203.6,1118.7 2205.1,1119.7 2206.6,1121.7 2208.1,1122.9 2209.6,1124.8 2211.1,1127.1 2212.6,1127.9 2214.1,1130.7 2215.6,1132.6 2217.1,1134.9 2218.6,1136.9 2220.1,1138 2221.6,1140.5 2223.1,1140.1 2224.6,1142.1 2226.1,1143.4 2227.6,1144.9 2229.1,1146.7 2230.6,1147 2232.1,1149.7 2233.6,1150.7 2235.1,1151.3 2236.6,1152.6 2238.1,1152.9 2239.6,1153.1 2241.1,1156.1 2242.6,1157.8 2244.1,1159.1 2245.6,1159.5 2247.1,1161.2 2248.6,1164 2250.1,1164.5 2251.6,1165.5 2253.1,1165.9 2254.6,1167.5 2256.1,1168.7 2257.6,1169.2 2259.1,1169.2 2260.6,1170.5 2262.1,1170.4 2263.6,1171.5 2265.1,1172.8 2266.6,1172.6 2268.1,1173.4 2269.6,1175.1 2271.1,1174.4 2272.6,1175.4 2274.1,1175 2275.6,1174.7 2277.1,1175.8 2278.6,1175.8 2280.1,1174.9 2281.6,1175.7 2283.1,1176.5 2284.6,1178 2286.1,1176.8 2287.6,1177.3 2289.1,1177.9 2290.6,1177.8 2292.1,1177.5 2293.6,1179 2295.1,1178.8 2296.6,1176.2 2298.1,1178.7 2299.6,1178.4 2301.1,1178.8 2302.6,1178.3 2304.1,1178.8 2305.6,1179.7 2307.1,1179.6 2308.6,1179.7 2310.1,1179.2 2311.6,1179.2 2313.1,1179.2 2314.6,1177.8 2316.1,1180.2 2317.6,1178.9 2319.1,1179 2320.6,1178.8 2322.1,1179.1 2323.6,1177.3 2325.1,1179 2326.6,1178 2328.1,1178.2 2329.6,1177.6 2331.1,1177.7 2332.6,1179.3 2334.1,1178.5 2335.6,1178.8 2337.1,1178.7 2338.6,1178 2340.1,1178.4 2341.6,1178 2343.1,1178.6 2344.6,1177.3 2346.1,1178.6 2347.6,1179.5 2349.1,1179.7 2350.6,1179.6 2352.1,1179.2 2353.6,1178.2 2355.1,1179.5 2356.6,1179.2 2358.1,1179 2359.6,1178 2361.1,1179.1 2362.6,1179.8 2364.1,1179.4 2365.6,1178.7 2367.1,1179.2 2368.6,1178.9 2370.1,1179 2371.6,1179.4 2373.1,1179.1 2374.6,1178.9 2376.1,1179.1 2377.6,1178.3" fill="none" stroke="#1515ee" stroke-width="3.6" stroke-linejoin="round"/>
<polyline points="1684.6,1085.6 1686.1,1085.8 1687.6,1085.8 1689.1,1086.4 1690.6,1087.9 1692.1,1085.9 1693.6,1087.7 1695.1,1088 1696.6,1087 1698.1,1086.8 1699.6,1087.7 1701.1,1088.3 1702.6,1089 1704.1,1088.1 1705.6,1088.7 1707.1,1087.3 1708.6,1087 1710.1,1086.4 1711.6,1086.9 1713.1,1087.4 1714.6,1087.8 1716.1,1086.8 1717.6,1088.3 1719.1,1087.6 1720.6,1087.2 1722.1,1087.1 1723.6,1089 1725.1,1087.7 1726.6,1086.9 1728.1,1086.9 1729.6,1088.8 1731.1,1087.1 1732.6,1088.3 1734.1,1088.4 1735.6,1085.7 1737.1,1088.2 1738.6,1087.1 1740.1,1086.4 1741.6,1086.7 1743.1,1087.4 1744.6,1087.3 1746.1,1087.2 1747.6,1086.3 1749.1,1087.7 1750.6,1087.8 1752.1,1087.9 1753.6,1087.3 1755.1,1087.8 1756.6,1087.8 1758.1,1086.7 1759.6,1086.7 1761.1,1086.3 1762.6,1086.1 1764.1,1086.1 1765.6,1084.1 1767.1,1084.8 1768.6,1085.1 1770.1,1083 1771.6,1083.1 1773.1,1084.9 1774.6,1082.7 1776.1,1082.8 1777.6,1083 1779.1,1082 1780.6,1081.3 1782.1,1081.1 1783.6,1080.8 1785.1,1080.2 1786.6,1080.2 1788.1,1080.6 1789.6,1079 1791.1,1079.1 1792.6,1077.6 1794.1,1076.7 1795.6,1075.6 1797.1,1073.9 1798.6,1073.3 1800.1,1072 1801.6,1069.8 1803.1,1069.9 1804.6,1068.5 1806.1,1067 1807.6,1065.1 1809.1,1062.2 1810.6,1063.6 1812.1,1060.9 1813.6,1057.7 1815.1,1057.9 1816.6,1055.1 1818.1,1054.1 1819.6,1051.5 1821.1,1050.3 1822.6,1047.5 1824.1,1045.3 1825.6,1042.9 1827.1,1041.3 1828.6,1037.2 1830.1,1036.5 1831.6,1033.7 1833.1,1030.3 1834.6,1028 1836.1,1024.9 1837.6,1022.3 1839.1,1019.9 1840.6,1015.6 1842.1,1013.4 1843.6,1010.3 1845.1,1006.7 1846.6,1003.9 1848.1,999.1 1849.6,995.9 1851.1,993.3 1852.6,987.6 1854.1,983.3 1855.6,979.2 1857.1,975.2 1858.6,970 1860.1,965.7 1861.6,960.1 1863.1,955.8 1864.6,950.7 1866.1,945.4 1867.6,940.5 1869.1,935.8 1870.6,929.6 1872.1,923.4 1873.6,919.1 1875.1,913.8 1876.6,907.7 1878.1,903.9 1879.6,898.1 1881.1,893.4 1882.6,888.4 1884.1,884.6 1885.6,878.8 1887.1,874.6 1888.6,870.7 1890.1,867.3 1891.6,863.9 1893.1,859.1 1894.6,857.8 1896.1,854.4 1897.6,852.4 1899.1,849.9 1900.6,846.5 1902.1,844.8 1903.6,842.4 1905.1,840.8 1906.6,839.5 1908.1,836.2 1909.6,833.7 1911.1,834.1 1912.6,830 1914.1,829.5 1915.6,828.7 1917.1,827.3 1918.6,828.2 1920.1,828 1921.6,826.8 1923.1,826.6 1924.6,826.2 1926.1,824.9 1927.6,826.4 1929.1,825.8 1930.6,826.8 1932.1,828.8 1933.6,830.4 1935.1,830.4 1936.6,833.2 1938.1,834.8 1939.6,834.8 1941.1,835.8 1942.6,837.2 1944.1,838 1945.6,838.9 1947.1,841.2 1948.6,842.5 1950.1,842.8 1951.6,844.2 1953.1,845.5 1954.6,847 1956.1,848.3 1957.6,849.2 1959.1,851.9 1960.6,851.6 1962.1,852 1963.6,853.1 1965.1,851.5 1966.6,852.1 1968.1,850.7 1969.6,851 1971.1,851.8 1972.6,850.9 1974.1,849.9 1975.6,849.6 1977.1,850.3 1978.6,848.5 1980.1,848.5 1981.6,846.8 1983.1,844.9 1984.6,843.5 1986.1,842.3 1987.6,840.2 1989.1,837.8 1990.6,836.9 1992.1,834.4 1993.6,832.3 1995.1,830.6 1996.6,828 1998.1,826.1 1999.6,822.8 2001.1,820.3 2002.6,818.1 2004.1,816.4 2005.6,813.5 2007.1,811.8 2008.6,809.5 2010.1,807.5 2011.6,805.9 2013.1,805.6 2014.6,801.6 2016.1,799.8 2017.6,797.3 2019.1,794.5 2020.6,791.9 2022.1,790.7 2023.6,786.7 2025.1,785.8 2026.6,783.4 2028.1,781 2029.6,779.7 2031.1,778.5 2032.6,776.8 2034.1,777.3 2035.6,776 2037.1,775.5 2038.6,774.3 2040.1,775.3 2041.6,774.6 2043.1,776.7 2044.6,774.9 2046.1,775.2 2047.6,775.3 2049.1,774.9 2050.6,775.8 2052.1,777.3 2053.6,780 2055.1,781.1 2056.6,783.7 2058.1,786.2 2059.6,788.3 2061.1,790.6 2062.6,794 2064.1,798.1 2065.6,801.5 2067.1,806.7 2068.6,810 2070.1,813.8 2071.6,817.3 2073.1,822.7 2074.6,826.6 2076.1,830.8 2077.6,835.7 2079.1,842.5 2080.6,845.2 2082.1,849.8 2083.6,856.1 2085.1,860.7 2086.6,865 2088.1,871.1 2089.6,874.3 2091.1,880.1 2092.6,884.6 2094.1,892.1 2095.6,896.8 2097.1,904.3 2098.6,908.6 2100.1,914.3 2101.6,918.6 2103.1,923.7 2104.6,929 2106.1,934.4 2107.6,937.4 2109.1,940.6 2110.6,946.8 2112.1,950.7 2113.6,953.4 2115.1,958.2 2116.6,962.7 2118.1,966.8 2119.6,969.2 2121.1,974.7 2122.6,978.4 2124.1,984 2125.6,987.8 2127.1,991.4 2128.6,996.8 2130.1,1001.7 2131.6,1004.9 2133.1,1009.7 2134.6,1014.8 2136.1,1020 2137.6,1024.9 2139.1,1029.2 2140.6,1034.6 2142.1,1040.8 2143.6,1046.1 2145.1,1050 2146.6,1055.2 2148.1,1060.7 2149.6,1063.5 2151.1,1067.4 2152.6,1071.2 2154.1,1075.9 2155.6,1079.5 2157.1,1083.3 2158.6,1086.6 2160.1,1090.9 2161.6,1094.7 2163.1,1098 2164.6,1102.5 2166.1,1104.1 2167.6,1108.8 2169.1,1111.2 2170.6,1114.6 2172.1,1118 2173.6,1119.2 2175.1,1121.5 2176.6,1124 2178.1,1127.2 2179.6,1129.4 2181.1,1130.5 2182.6,1132.7 2184.1,1135.3 2185.6,1136.1 2187.1,1136.2 2188.6,1138.2 2190.1,1139.9 2191.6,1141.9 2193.1,1142.6 2194.6,1145.1 2196.1,1145 2197.6,1147.5 2199.1,1147.1 2200.6,1149.4 2202.1,1149.5 2203.6,1151.2 2205.1,1152.4 2206.6,1153.1 2208.1,1153.4 2209.6,1152.8 2211.1,1153.5 2212.6,1152.5 2214.1,1156.3 2215.6,1156.8 2217.1,1157.1 2218.6,1156.2 2220.1,1159.4 2221.6,1157.5 2223.1,1159 2224.6,1157.7 2226.1,1158.9 2227.6,1160.5 2229.1,1160.8 2230.6,1159.8 2232.1,1160.9 2233.6,1162.1 2235.1,1160.4 2236.6,1162.7 2238.1,1161.5 2239.6,1163.4 2241.1,1163.2 2242.6,1164.5 2244.1,1163.9 2245.6,1164.4 2247.1,1164.7 2248.6,1164.7 2250.1,1165.4 2251.6,1165.2 2253.1,1165.7 2254.6,1166.7 2256.1,1166.2 2257.6,1167.3 2259.1,1167.2 2260.6,1167.4 2262.1,1166.1 2263.6,1167.3 2265.1,1168.1 2266.6,1167.9 2268.1,1168.2 2269.6,1168.5 2271.1,1166.5 2272.6,1168 2274.1,1168.1 2275.6,1167.7 2277.1,1167 2278.6,1168 2280.1,1167.9 2281.6,1169.4 2283.1,1169.1 2284.6,1167.9 2286.1,1167.5 2287.6,1167.7 2289.1,1168.3 2290.6,1167.9 2292.1,1169.8 2293.6,1167.7 2295.1,1168.5 2296.6,1168.7 2298.1,1168.9 2299.6,1168 2301.1,1168.6 2302.6,1168.9 2304.1,1169 2305.6,1168.5 2307.1,1168.7 2308.6,1169.1 2310.1,1170.3 2311.6,1168.2 2313.1,1169.5 2314.6,1170.2 2316.1,1168.1 2317.6,1170.1 2319.1,1170.1 2320.6,1169.2 2322.1,1169.9 2323.6,1170.3 2325.1,1169.1 2326.6,1169.4 2328.1,1168.5 2329.6,1168.8 2331.1,1169.3 2332.6,1169.2 2334.1,1170.4 2335.6,1169.1 2337.1,1168.4 2338.6,1169.8 2340.1,1169.7 2341.6,1169.3 2343.1,1168.9 2344.6,1168.4 2346.1,1168.4 2347.6,1169.8 2349.1,1169.2 2350.6,1168.6 2352.1,1168.7 2353.6,1168 2355.1,1167.5 2356.6,1167.7 2358.1,1167.8 2359.6,1166.6 2361.1,1166.6 2362.6,1166.2 2364.1,1166.9 2365.6,1167.5 2367.1,1166 2368.6,1165.9 2370.1,1165.4 2371.6,1166 2373.1,1165.3 2374.6,1165.3 2376.1,1165 2377.6,1167.1" fill="none" stroke="#ee1c1c" stroke-width="3.6" stroke-linejoin="round"/>
<line x1="2191" y1="1044" x2="2191" y2="1208" stroke="#1a9a1a" stroke-width="3.2" stroke-dasharray="22,11"/>
<rect x="1685" y="715.4" width="694" height="508.4" fill="none" stroke="#333" stroke-width="3"/>
<line x1="2379" y1="1223.8" x2="2379" y2="1231.8" stroke="#333" stroke-width="2.5"/>
<text x="2379" y="1261.5" font-size="24" text-anchor="middle" fill="#333" stroke="#333" stroke-width="0.7">30</text>
<line x1="2316" y1="1223.8" x2="2316" y2="1228.8" stroke="#333" stroke-width="2.5"/>
<line x1="2253" y1="1223.8" x2="2253" y2="1231.8" stroke="#333" stroke-width="2.5"/>
<text x="2253" y="1261.5" font-size="24" text-anchor="middle" fill="#333" stroke="#333" stroke-width="0.7">32</text>
<line x1="2190" y1="1223.8" x2="2190" y2="1228.8" stroke="#333" stroke-width="2.5"/>
<line x1="2127" y1="1223.8" x2="2127" y2="1231.8" stroke="#333" stroke-width="2.5"/>
<text x="2127" y="1261.5" font-size="24" text-anchor="middle" fill="#333" stroke="#333" stroke-width="0.7">34</text>
<line x1="2064" y1="1223.8" x2="2064" y2="1228.8" stroke="#333" stroke-width="2.5"/>
<line x1="2001" y1="1223.8" x2="2001" y2="1231.8" stroke="#333" stroke-width="2.5"/>
<text x="2001" y="1261.5" font-size="24" text-anchor="middle" fill="#333" stroke="#333" stroke-width="0.7">36</text>
<line x1="1938" y1="1223.8" x2="1938" y2="1228.8" stroke="#333" stroke-width="2.5"/>
<line x1="1875" y1="1223.8" x2="1875" y2="1231.8" stroke="#333" stroke-width="2.5"/>
<text x="1875" y="1261.5" font-size="24" text-anchor="middle" fill="#333" stroke="#333" stroke-width="0.7">38</text>
<line x1="1812" y1="1223.8" x2="1812" y2="1228.8" stroke="#333" stroke-width="2.5"/>
<line x1="1749" y1="1223.8" x2="1749" y2="1231.8" stroke="#333" stroke-width="2.5"/>
<text x="1749" y="1261.5" font-size="24" text-anchor="middle" fill="#333" stroke="#333" stroke-width="0.7">40</text>
<line x1="1686" y1="1223.8" x2="1686" y2="1228.8" stroke="#333" stroke-width="2.5"/>
<text x="2030.8" y="1309.6" font-size="29.5" text-anchor="middle" fill="#222" stroke="#222" stroke-width="0.7">Binding energy / eV</text>
<text x="1652" y="988.4" font-size="29.5" text-anchor="middle" fill="#222" stroke="#222" stroke-width="0.7" transform="rotate(-90 1652 988.4)">Intensity / a.u.</text>
<line x1="2119" y1="765.4" x2="2177" y2="765.4" stroke="#ee1c1c" stroke-width="3.2"/>
<line x1="2119" y1="811.5" x2="2177" y2="811.5" stroke="#1515ee" stroke-width="3.2"/>
<text x="2184.6" y="773.8" font-size="28" fill="#222" stroke="#222" stroke-width="0.7">Meso-WO<tspan font-size="16" dy="12.5">3</tspan></text>
<text x="2184.6" y="820" font-size="28" fill="#222" stroke="#222" stroke-width="0.7">Meso-WO<tspan font-size="16" dy="12.5">2.83</tspan></text>
<text x="2178.8" y="1021" font-size="28" fill="#222" stroke="#222" stroke-width="0.7">W<tspan font-size="16" dy="-14">5+</tspan></text>
<text x="1598" y="782" font-size="66" font-weight="bold" fill="#000">(f)</text>
<polyline points="133.7,1694.6 134.7,1692.4 135.7,1693.5 136.7,1689.3 137.7,1692.4 138.7,1689.4 139.7,1691 140.7,1688 141.7,1690.5 142.7,1685.2 143.7,1690.5 144.7,1683.4 145.7,1686.8 146.7,1683.4 147.7,1685.3 148.7,1680 149.7,1684.7 150.7,1681.6 151.7,1683 152.7,1680.8 153.7,1682.7 154.7,1681.2 155.7,1681.2 156.7,1677.3 157.7,1680.9 158.7,1677 159.7,1682.5 160.7,1678.6 161.7,1681 162.7,1677.4 163.7,1679.9 164.7,1676.8 165.7,1680 166.7,1677.8 167.7,1680.1 168.7,1678 169.7,1679.6 170.7,1677.4 171.7,1681.5 172.7,1673.9 173.7,1683.2 174.7,1678.2 175.7,1680.2 176.7,1678.1 177.7,1680.2 178.7,1677 179.7,1682.6 180.7,1678.5 181.7,1682.2 182.7,1679.2 183.7,1682.6 184.7,1680.9 185.7,1683.1 186.7,1681.9 187.7,1684.7 188.7,1682.5 189.7,1684.5 190.7,1683.1 191.7,1685 192.7,1682 193.7,1684.4 194.7,1683.8 195.7,1684.9 196.7,1684.4 197.7,1687 198.7,1684.3 199.7,1688.1 200.7,1683.9 201.7,1687.9 202.7,1683.9 203.7,1692.6 204.7,1687.6 205.7,1692.1 206.7,1686 207.7,1690.4 208.7,1686.6 209.7,1692.3 210.7,1689.8 211.7,1692.6 212.7,1690.9 213.7,1693.9 214.7,1691.1 215.7,1694.5 216.7,1693.5 217.7,1695.3 218.7,1694.6 219.7,1697.3 220.7,1695.5 221.7,1698.3 222.7,1694.4 223.7,1701 224.7,1697.8 225.7,1701.5 226.7,1700.1 227.7,1702.1 228.7,1701.8 229.7,1704.3 230.7,1701.6 231.7,1705.6 232.7,1701.7 233.7,1707.4 234.7,1706.3 235.7,1707.6 236.7,1707.9 237.7,1711.5 238.7,1706.6 239.7,1712.8 240.7,1709 241.7,1714.3 242.7,1712.5 243.7,1714.3 244.7,1713.6 245.7,1715.4 246.7,1715 247.7,1717.8 248.7,1716.9 249.7,1721.7 250.7,1717.7 251.7,1719.7 252.7,1719.7 253.7,1721.4 254.7,1721.4 255.7,1722.3 256.7,1722.7 257.7,1723.9 258.7,1723.7 259.7,1726 260.7,1724.7 261.7,1727.4 262.7,1727.1 263.7,1728.1 264.7,1728.5 265.7,1729.7 266.7,1729.8 267.7,1730.9 268.7,1731 269.7,1732.7 270.7,1731.8 271.7,1733.1 272.7,1733.3 273.7,1734.1 274.7,1733.8 275.7,1734.9 276.7,1734.9 277.7,1735.7 278.7,1734.9 279.7,1736.9 280.7,1735.8 281.7,1737.7 282.7,1737.2 283.7,1737.8 284.7,1737.3 285.7,1738.4 286.7,1738.3 287.7,1739.8 288.7,1739.1 289.7,1739.7 290.7,1739.8 291.7,1740.2 292.7,1740.3 293.7,1740.8 294.7,1740.6 295.7,1741.7 296.7,1740.8 297.7,1742.2 298.7,1741.1 299.7,1742.4 300.7,1741.9 301.7,1742.8 302.7,1741.7 303.7,1743 304.7,1742.7 305.7,1743.8 306.7,1742.3 307.7,1743.6 308.7,1742.4 309.7,1743.6 310.7,1742.8 311.7,1743.2 312.7,1743.1 313.7,1743.7 314.7,1743.1 315.7,1743.2 316.7,1742.6 317.7,1743.3 318.7,1742.7 319.7,1744 320.7,1742.3 321.7,1743.4 322.7,1742.3 323.7,1743.2 324.7,1742.3 325.7,1743.3 326.7,1742.3 327.7,1742.7 328.7,1741.4 329.7,1742.3 330.7,1742.1 331.7,1742.4 332.7,1740.9 333.7,1741.8 334.7,1741.6 335.7,1741.6 336.7,1741 337.7,1741.3 338.7,1740.5 339.7,1741.7 340.7,1740.6 341.7,1740.5 342.7,1739.6 343.7,1740.5 344.7,1738.8 345.7,1739.9 346.7,1738.4 347.7,1738.7 348.7,1737.9 349.7,1737.9 350.7,1737 351.7,1737 352.7,1735.7 353.7,1735.6 354.7,1734.9 355.7,1735 356.7,1733.3 357.7,1733.7 358.7,1732.1 359.7,1732.6 360.7,1731.6 361.7,1731.7 362.7,1730.5 363.7,1730.7 364.7,1729.2 365.7,1728.9 366.7,1728.2 367.7,1728.7 368.7,1726.9 369.7,1726.6 370.7,1725.4 371.7,1725.5 372.7,1724.5 373.7,1724.2 374.7,1723.2 375.7,1723 376.7,1721.5 377.7,1721.2 378.7,1720.4 379.7,1719.9 380.7,1718.6 381.7,1718.4 382.7,1717.1 383.7,1717.2 384.7,1715.6 385.7,1715.5 386.7,1714 387.7,1713.7 388.7,1712.2 389.7,1712.1 390.7,1710.6 391.7,1710 392.7,1708.7 393.7,1709.6 394.7,1707 395.7,1706.9 396.7,1705.2 397.7,1705.3 398.7,1703.8 399.7,1703.1 400.7,1701.6 401.7,1701.8 402.7,1700.1 403.7,1699.6 404.7,1698.1 405.7,1697.7 406.7,1695.6 407.7,1695.8 408.7,1694.4 409.7,1694 410.7,1692.1 411.7,1691.7 412.7,1689.9 413.7,1689.4 414.7,1688 415.7,1687.7 416.7,1685.7 417.7,1686.1 418.7,1684 419.7,1683.1 420.7,1681.6 421.7,1681.1 422.7,1679.4 423.7,1678.9 424.7,1677.1 425.7,1676.7 426.7,1675.1 427.7,1674.9 428.7,1672.5 429.7,1672 430.7,1669.8 431.7,1669.5 432.7,1667.5 433.7,1667.6 434.7,1665.2 435.7,1665.5 436.7,1663.3 437.7,1662.6 438.7,1660.8 439.7,1659.6 440.7,1657.8 441.7,1657.1 442.7,1655.6 443.7,1654.6 444.7,1652.9 445.7,1652.2 446.7,1650.2 447.7,1649.5 448.7,1647.6 449.7,1647.7 450.7,1645.3 451.7,1644.9 452.7,1642.2 453.7,1641.6 454.7,1639.7 455.7,1639 456.7,1636.9 457.7,1636.8 458.7,1634.5 459.7,1633.7 460.7,1631.6 461.7,1631.7 462.7,1628.4 463.7,1627.7 464.7,1625.9 465.7,1624.8 466.7,1622.9 467.7,1622.3 468.7,1619.7 469.7,1618.7 470.7,1616.8 471.7,1616.4 472.7,1613.7 473.7,1613.5 474.7,1611.5 475.7,1610.3 476.7,1608.9 477.7,1607.6 478.7,1605.6 479.7,1605.2 480.7,1603.1 481.7,1603.2 482.7,1601 483.7,1601.4 484.7,1598.3 485.7,1598.2 486.7,1596.8 487.7,1596.5 488.7,1594.6 489.7,1595.5 490.7,1592.6 491.7,1592.1 492.7,1590.2 493.7,1589.8 494.7,1588.3 495.7,1588.1 496.7,1586.8 497.7,1586.3 498.7,1584.8 499.7,1584.5 500.7,1583.2 501.7,1582.5 502.7,1581.1 503.7,1580.6 504.7,1579.5 505.7,1578.9 506.7,1577.2 507.7,1577.4 508.7,1575.5 509.7,1575.1 510.7,1573.5 511.7,1573.2 512.7,1571.2 513.7,1571.2 514.7,1569.4 515.7,1569 516.7,1567.5 517.7,1567.4 518.7,1564.3 519.7,1564.6 520.7,1563.1 521.7,1562.8 522.7,1560.4 523.7,1561.5 524.7,1558 525.7,1558.5 526.7,1556.5 527.7,1555.9 528.7,1554.6 529.7,1555 530.7,1552.1 531.7,1552.1 532.7,1550.4 533.7,1550.3 534.7,1547.2 535.7,1548.1 536.7,1545.9 537.7,1546.8 538.7,1544.8 539.7,1544.5 540.7,1542.4 541.7,1543.2 542.7,1541.2 543.7,1541.9 544.7,1538.9 545.7,1541.2 546.7,1539.4 547.7,1539.8 548.7,1537.3 549.7,1538.8 550.7,1536.6 551.7,1537.2 552.7,1534.8 553.7,1536 554.7,1534.8 555.7,1537.1 556.7,1531.1 557.7,1533.9 558.7,1533.3 559.7,1534 560.7,1547.4 561.7,1532.2 562.7,1530.4 563.7,1532.7 564.7,1530.1 565.7,1531.1 566.7,1528.8 567.7,1530.1 568.7,1528.5 569.7,1528.6 570.7,1527 571.7,1528.8 572.7,1525.3 573.7,1522 574.7,1525.1 575.7,1526.5 576.7,1524.6 577.7,1525.7 578.7,1523.7 579.7,1524.7 580.7,1522.6 581.7,1524.9 582.7,1522.3 583.7,1524.6 584.7,1521.2 585.7,1523.2 586.7,1520.6 587.7,1521.9 588.7,1518.7 589.7,1514.4 590.7,1519.3 591.7,1522.7 592.7,1517.5 593.7,1519.1 594.7,1516.7 595.7,1518.9 596.7,1517.5 597.7,1518.1 598.7,1515.4 599.7,1518.7 600.7,1515.5 601.7,1517.9 602.7,1515.5 603.7,1517 604.7,1514.9 605.7,1519.3 606.7,1512.1 607.7,1508.9 608.7,1513.5 609.7,1515.4 610.7,1511.6 611.7,1514.2 612.7,1510.5 613.7,1513.4 614.7,1510.7 615.7,1513.6 616.7,1511.4 617.7,1512.9 618.7,1510.4 619.7,1515.3 620.7,1505.6 621.7,1511.1 622.7,1509.1 623.7,1496.4 624.7,1508.6 625.7,1514.4 626.7,1503.4 627.7,1514.2 628.7,1508.3 629.7,1512.9 630.7,1508.1 631.7,1511.3 632.7,1509 633.7,1510.1 634.7,1505 635.7,1512.2 636.7,1509.1 637.7,1514.2 638.7,1506.8 639.7,1510.3 640.7,1509.5 641.7,1515.7 642.7,1505.2 643.7,1513.2 644.7,1507.9 645.7,1513.6 646.7,1506.5 647.7,1514.4 648.7,1506.8 649.7,1512.2 650.7,1508.9 651.7,1516.4 652.7,1510.7 653.7,1518.8 654.7,1510.5 655.7,1513 656.7,1503 657.7,1513.8 658.7,1511.5 659.7,1517.9 660.7,1510.5 661.7,1514.9 662.7,1510.5 663.7,1515.3 664.7,1508.8 665.7,1517.4 666.7,1512.9 667.7,1517 668.7,1511.4 669.7,1519.6 670.7,1515.6 671.7,1520.8 672.7,1516.3 673.7,1527.7 674.7,1514.3 675.7,1518.7 676.7,1515.1 677.7,1525.3 678.7,1514.8 679.7,1523.9 680.7,1518.2 681.7,1523.6 682.7,1515.2 683.7,1526.1 684.7,1518.3 685.7,1535.1 686.7,1520.4 687.7,1527.8 688.7,1509.2 689.7,1529.6 690.7,1517 691.7,1529.2 692.7,1521.7 693.7,1543.2 694.7,1516.5 695.7,1529.2 696.7,1514.2 697.7,1548.1 698.7,1522.9 699.7,1540.5 700.7,1527.5 701.7,1542.9 702.7,1524.3 703.7,1536.8 704.7,1514.8 705.7,1535.7 706.7,1522.9 707.7,1541.3 708.7,1532.4 709.7,1554.6 710.7,1532 711.7,1545.5 712.7,1527.6 713.7,1538.9 714.7,1532.7 715.7,1541.8 716.7,1533.8 717.7,1544.3 718.7,1531.9 719.7,1546.5 720.7,1538.7 721.7,1540.2 722.7,1534.8 723.7,1546.8 724.7,1540.3 725.7,1563.1 726.7,1537 727.7,1552.1 728.7,1526 729.7,1533.8 730.7,1521.5 731.7,1552.4 732.7,1528.2 733.7,1549 734.7,1541.6 735.7,1552.4 736.7,1543.5 737.7,1554.2 738.7,1541.1 739.7,1563 740.7,1539 741.7,1554.4 742.7,1544.6 743.7,1565.5" fill="none" stroke="#ff10ff" stroke-width="3.2" stroke-linejoin="round"/>
<polyline points="133.7,1661 134.7,1655.6 135.7,1655.5 136.7,1652.3 137.7,1653.5 138.7,1646.4 139.7,1652.5 140.7,1646.2 141.7,1650.3 142.7,1642 143.7,1644.2 144.7,1640.8 145.7,1643.2 146.7,1638.4 147.7,1638.9 148.7,1635.9 149.7,1636.5 150.7,1634.8 151.7,1636 152.7,1631.2 153.7,1636.2 154.7,1632.3 155.7,1632.8 156.7,1630.8 157.7,1633 158.7,1630.6 159.7,1632.5 160.7,1628 161.7,1631.6 162.7,1628.8 163.7,1635.9 164.7,1627.6 165.7,1631.3 166.7,1627.8 167.7,1629.3 168.7,1627.2 169.7,1632.2 170.7,1626.5 171.7,1629 172.7,1622.7 173.7,1628.8 174.7,1625.6 175.7,1630.5 176.7,1625.7 177.7,1629.7 178.7,1627.2 179.7,1632.4 180.7,1628.1 181.7,1629.1 182.7,1626.8 183.7,1631.7 184.7,1626.1 185.7,1630.7 186.7,1626.4 187.7,1630 188.7,1627.1 189.7,1631.4 190.7,1628.1 191.7,1631.8 192.7,1629.7 193.7,1631.9 194.7,1631.8 195.7,1632.5 196.7,1631.8 197.7,1634.8 198.7,1630.7 199.7,1636.8 200.7,1630.9 201.7,1636.2 202.7,1634.9 203.7,1636.7 204.7,1636.4 205.7,1638.2 206.7,1637.2 207.7,1640.1 208.7,1639.9 209.7,1642.1 210.7,1637.8 211.7,1644.7 212.7,1643.6 213.7,1646.3 214.7,1644.5 215.7,1651.1 216.7,1646.9 217.7,1652.5 218.7,1649.1 219.7,1653.8 220.7,1651.5 221.7,1655.9 222.7,1653.6 223.7,1656.8 224.7,1655.9 225.7,1659.8 226.7,1657.6 227.7,1661.9 228.7,1660.5 229.7,1664.1 230.7,1664.4 231.7,1667.2 232.7,1666.7 233.7,1671.8 234.7,1669.1 235.7,1673.6 236.7,1673.2 237.7,1677 238.7,1675.5 239.7,1680.5 240.7,1675.6 241.7,1681 242.7,1679.7 243.7,1686.1 244.7,1684.6 245.7,1687.2 246.7,1684.5 247.7,1690.4 248.7,1688.4 249.7,1694.9 250.7,1694.3 251.7,1697 252.7,1697.4 253.7,1700.9 254.7,1701.4 255.7,1703.1 256.7,1704.4 257.7,1706 258.7,1707.1 259.7,1709.5 260.7,1709.9 261.7,1711.3 262.7,1712 263.7,1714 264.7,1713.9 265.7,1715.7 266.7,1715.4 267.7,1717.8 268.7,1717.1 269.7,1718.5 270.7,1718.5 271.7,1719.8 272.7,1720.4 273.7,1721.9 274.7,1721.5 275.7,1722.5 276.7,1722.6 277.7,1723.8 278.7,1722.7 279.7,1725.5 280.7,1725 281.7,1726.8 282.7,1726.1 283.7,1727.3 284.7,1727.1 285.7,1728.5 286.7,1728 287.7,1729.1 288.7,1728.7 289.7,1730.2 290.7,1729.9 291.7,1730.8 292.7,1730.2 293.7,1731.4 294.7,1731.2 295.7,1732.4 296.7,1732.4 297.7,1733.2 298.7,1731.7 299.7,1734.6 300.7,1733.8 301.7,1734.9 302.7,1734.5 303.7,1735.3 304.7,1734.9 305.7,1735.5 306.7,1735.1 307.7,1735.7 308.7,1735.1 309.7,1735.9 310.7,1735.8 311.7,1736.1 312.7,1735.2 313.7,1736.3 314.7,1735.8 315.7,1736.1 316.7,1735.4 317.7,1736.1 318.7,1735.5 319.7,1736.7 320.7,1734.4 321.7,1736.3 322.7,1735.4 323.7,1736 324.7,1735.2 325.7,1735.3 326.7,1734.6 327.7,1735.7 328.7,1734.6 329.7,1734.9 330.7,1734.6 331.7,1734.8 332.7,1734.4 333.7,1735.2 334.7,1734.2 335.7,1734.9 336.7,1733.9 337.7,1734.1 338.7,1733.7 339.7,1734.1 340.7,1733 341.7,1733.3 342.7,1732.6 343.7,1733 344.7,1732 345.7,1732 346.7,1730.8 347.7,1731.4 348.7,1730.5 349.7,1730.5 350.7,1729.3 351.7,1729.5 352.7,1728.3 353.7,1728.5 354.7,1727.7 355.7,1727.5 356.7,1726.5 357.7,1726.7 358.7,1725.1 359.7,1725.3 360.7,1724.2 361.7,1724.3 362.7,1722.6 363.7,1723.4 364.7,1722.1 365.7,1721.7 366.7,1720.8 367.7,1720.6 368.7,1719.6 369.7,1720.2 370.7,1718.4 371.7,1718.2 372.7,1716.8 373.7,1717.3 374.7,1715.4 375.7,1715.6 376.7,1713.4 377.7,1713.3 378.7,1711.5 379.7,1711.6 380.7,1710.3 381.7,1709.4 382.7,1707.6 383.7,1708 384.7,1706.2 385.7,1705.8 386.7,1703.9 387.7,1704.4 388.7,1702.4 389.7,1702 390.7,1700.2 391.7,1699.7 392.7,1697.7 393.7,1697.6 394.7,1696.4 395.7,1695.9 396.7,1694.3 397.7,1693.5 398.7,1691.8 399.7,1692.4 400.7,1689.7 401.7,1690 402.7,1687.5 403.7,1686.8 404.7,1684.6 405.7,1685.2 406.7,1682.8 407.7,1682.1 408.7,1680.4 409.7,1679.6 410.7,1677.2 411.7,1677.1 412.7,1674.8 413.7,1674.2 414.7,1671.8 415.7,1671.9 416.7,1669.8 417.7,1669.3 418.7,1667.2 419.7,1666.4 420.7,1664.6 421.7,1663.7 422.7,1661.6 423.7,1660.7 424.7,1659.2 425.7,1657.9 426.7,1655.5 427.7,1655.3 428.7,1653.6 429.7,1652.3 430.7,1650.6 431.7,1649.5 432.7,1647.3 433.7,1646.8 434.7,1644.7 435.7,1644.1 436.7,1642 437.7,1640.9 438.7,1638.2 439.7,1637.9 440.7,1635.5 441.7,1634.7 442.7,1632.5 443.7,1631.8 444.7,1629.3 445.7,1628.9 446.7,1626.5 447.7,1625.8 448.7,1623.7 449.7,1622.2 450.7,1619.7 451.7,1619.8 452.7,1617.3 453.7,1616 454.7,1613.9 455.7,1613.2 456.7,1610.8 457.7,1609.4 458.7,1606.9 459.7,1606 460.7,1603.1 461.7,1603.1 462.7,1600.1 463.7,1599.5 464.7,1595.9 465.7,1595.2 466.7,1592.4 467.7,1591.6 468.7,1588.9 469.7,1588.4 470.7,1585 471.7,1584.9 472.7,1582.1 473.7,1581.3 474.7,1578.6 475.7,1577.4 476.7,1575.4 477.7,1574.2 478.7,1571.5 479.7,1571.6 480.7,1568.3 481.7,1568.9 482.7,1566.2 483.7,1565.5 484.7,1563.6 485.7,1563.3 486.7,1561.6 487.7,1561 488.7,1559 489.7,1558.9 490.7,1556.7 491.7,1556.1 492.7,1554.2 493.7,1554 494.7,1552.6 495.7,1551.9 496.7,1550.7 497.7,1550.4 498.7,1548.6 499.7,1548.6 500.7,1546.7 501.7,1546.6 502.7,1544.6 503.7,1544.1 504.7,1542.7 505.7,1542.2 506.7,1540.7 507.7,1540.8 508.7,1539.1 509.7,1539.3 510.7,1537.6 511.7,1537.5 512.7,1535.8 513.7,1535.8 514.7,1534.4 515.7,1534.1 516.7,1532.6 517.7,1533.1 518.7,1531.5 519.7,1531.5 520.7,1527.8 521.7,1531 522.7,1528 523.7,1528.4 524.7,1527.3 525.7,1527.6 526.7,1525.6 527.7,1525.8 528.7,1524.9 529.7,1525.6 530.7,1523.4 531.7,1523.3 532.7,1521.2 533.7,1522.7 534.7,1519.9 535.7,1521.1 536.7,1519.5 537.7,1520.2 538.7,1517.6 539.7,1519.5 540.7,1517.1 541.7,1517.8 542.7,1515.6 543.7,1517.5 544.7,1515 545.7,1515.7 546.7,1513.7 547.7,1515 548.7,1512.9 549.7,1513.5 550.7,1511.1 551.7,1511.6 552.7,1508.6 553.7,1510.5 554.7,1508.3 555.7,1509.5 556.7,1504.8 557.7,1507.8 558.7,1506.8 559.7,1507.2 560.7,1505.6 561.7,1506.8 562.7,1503.6 563.7,1505.2 564.7,1502.3 565.7,1503.5 566.7,1502.2 567.7,1503.5 568.7,1501.5 569.7,1491.1 570.7,1500.9 571.7,1501.6 572.7,1498.7 573.7,1500.6 574.7,1498.6 575.7,1499.4 576.7,1497.8 577.7,1498.3 578.7,1502.7 579.7,1498.1 580.7,1496.6 581.7,1496.8 582.7,1495.8 583.7,1495.8 584.7,1503.8 585.7,1495.2 586.7,1493.5 587.7,1494.1 588.7,1492.8 589.7,1502.9 590.7,1492.1 591.7,1493.5 592.7,1491.2 593.7,1493.6 594.7,1491.7 595.7,1493.3 596.7,1490.6 597.7,1492.9 598.7,1490.4 599.7,1497.2 600.7,1490.7 601.7,1492.3 602.7,1490.9 603.7,1493.3 604.7,1491 605.7,1493.7 606.7,1490 607.7,1492.5 608.7,1489.8 609.7,1492.8 610.7,1491.1 611.7,1491.2 612.7,1490.7 613.7,1491.5 614.7,1491 615.7,1492.6 616.7,1489.3 617.7,1491.6 618.7,1490.4 619.7,1475.9 620.7,1490.9 621.7,1492.1 622.7,1489.1 623.7,1491.9 624.7,1488.5 625.7,1492.3 626.7,1489.2 627.7,1491.5 628.7,1490.7 629.7,1492 630.7,1489.7 631.7,1492.1 632.7,1490.5 633.7,1492 634.7,1491.2 635.7,1493.3 636.7,1490.8 637.7,1493.4 638.7,1490.1 639.7,1493 640.7,1491.5 641.7,1493.3 642.7,1492.4 643.7,1495.7 644.7,1490.9 645.7,1494.3 646.7,1492.8 647.7,1498.3 648.7,1494.6 649.7,1495.9 650.7,1491.9 651.7,1495.8 652.7,1495.5 653.7,1498 654.7,1495.9 655.7,1497.5 656.7,1491.9 657.7,1499.1 658.7,1494.2 659.7,1498.3 660.7,1495.2 661.7,1499.7 662.7,1497.7 663.7,1503.4 664.7,1497 665.7,1500 666.7,1498.9 667.7,1501.9 668.7,1500.4 669.7,1501.7 670.7,1498.9 671.7,1503.5 672.7,1500.4 673.7,1504.6 674.7,1502.2 675.7,1503.4 676.7,1500.9 677.7,1508 678.7,1500.1 679.7,1504.3 680.7,1500.3 681.7,1505.8 682.7,1504.7 683.7,1505.4 684.7,1505.3 685.7,1507.7 686.7,1497.7 687.7,1509.3 688.7,1506.7 689.7,1498.4 690.7,1497.1 691.7,1510.7 692.7,1505.3 693.7,1510.6 694.7,1504 695.7,1515.6 696.7,1508.1 697.7,1512 698.7,1503.9 699.7,1518.5 700.7,1509.9 701.7,1515.8 702.7,1505.6 703.7,1512.6 704.7,1507.4 705.7,1513.7 706.7,1513.2 707.7,1517.7 708.7,1513 709.7,1518.7 710.7,1512 711.7,1515.2 712.7,1506 713.7,1518.2 714.7,1513.3 715.7,1518.6 716.7,1512 717.7,1524.7 718.7,1510.2 719.7,1518 720.7,1513.7 721.7,1522 722.7,1517.9 723.7,1532.1 724.7,1517.4 725.7,1520.7 726.7,1511.6 727.7,1521.4 728.7,1515.9 729.7,1531.8 730.7,1516 731.7,1524.4 732.7,1511 733.7,1526.7 734.7,1522.8 735.7,1528.4 736.7,1523.7 737.7,1527.5 738.7,1521 739.7,1524.8 740.7,1504.2 741.7,1536.7 742.7,1525.9 743.7,1528.2" fill="none" stroke="#ff8410" stroke-width="3.2" stroke-linejoin="round"/>
<polyline points="133.7,1648.9 134.7,1644.8 135.7,1645.4 136.7,1642.1 137.7,1643.8 138.7,1636.4 139.7,1637 140.7,1633.7 141.7,1637.4 142.7,1631.2 143.7,1632.5 144.7,1627.2 145.7,1629.5 146.7,1622.7 147.7,1625.2 148.7,1622.6 149.7,1624.8 150.7,1620.9 151.7,1621.6 152.7,1617.8 153.7,1619.8 154.7,1616.9 155.7,1620.3 156.7,1614.9 157.7,1618.3 158.7,1615.4 159.7,1618.1 160.7,1614.4 161.7,1618.2 162.7,1610 163.7,1614.6 164.7,1610.7 165.7,1612.3 166.7,1610.2 167.7,1612.6 168.7,1607.4 169.7,1614.2 170.7,1608.3 171.7,1610.4 172.7,1609.5 173.7,1611 174.7,1608.8 175.7,1611.8 176.7,1608.3 177.7,1610.2 178.7,1609.5 179.7,1610.6 180.7,1607.6 181.7,1611.8 182.7,1608 183.7,1611.7 184.7,1609.6 185.7,1613.3 186.7,1608.3 187.7,1611.3 188.7,1609.4 189.7,1611.8 190.7,1607.4 191.7,1611 192.7,1606.9 193.7,1613.1 194.7,1608.8 195.7,1614 196.7,1608.9 197.7,1613.7 198.7,1609.7 199.7,1612.4 200.7,1609.5 201.7,1612.6 202.7,1610.4 203.7,1614.5 204.7,1611.5 205.7,1615 206.7,1613.7 207.7,1616.2 208.7,1616.1 209.7,1617.9 210.7,1616 211.7,1620.3 212.7,1619.5 213.7,1625.1 214.7,1621.6 215.7,1624.6 216.7,1619.1 217.7,1627.2 218.7,1624.8 219.7,1627.2 220.7,1625.1 221.7,1629.2 222.7,1627.5 223.7,1630.5 224.7,1630.5 225.7,1632.8 226.7,1632 227.7,1634.6 228.7,1634.2 229.7,1636.2 230.7,1635.2 231.7,1642.1 232.7,1639.5 233.7,1642.5 234.7,1641.7 235.7,1644.6 236.7,1641.1 237.7,1646.2 238.7,1646.4 239.7,1650.8 240.7,1649.9 241.7,1653.6 242.7,1651.3 243.7,1655.6 244.7,1655.5 245.7,1659 246.7,1658.6 247.7,1663.3 248.7,1662.2 249.7,1666.1 250.7,1666.7 251.7,1669.8 252.7,1670.8 253.7,1673 254.7,1674.5 255.7,1676.9 256.7,1678.3 257.7,1680.9 258.7,1681.3 259.7,1684.8 260.7,1685.6 261.7,1687.6 262.7,1687.8 263.7,1690.1 264.7,1691.3 265.7,1694.2 266.7,1693.4 267.7,1695.6 268.7,1695.9 269.7,1698.1 270.7,1698.4 271.7,1700.3 272.7,1700.5 273.7,1703.5 274.7,1703.3 275.7,1704.9 276.7,1705.6 277.7,1707 278.7,1707.4 279.7,1708.7 280.7,1708.8 281.7,1710.3 282.7,1710.7 283.7,1712.3 284.7,1712.3 285.7,1713.6 286.7,1713.6 287.7,1714.5 288.7,1714.6 289.7,1715.8 290.7,1715.5 291.7,1717.1 292.7,1717.3 293.7,1718.6 294.7,1718.3 295.7,1720.5 296.7,1718.7 297.7,1720.2 298.7,1720.4 299.7,1722.3 300.7,1721.4 301.7,1722.7 302.7,1722.1 303.7,1723.3 304.7,1723 305.7,1723.9 306.7,1723.5 307.7,1724.7 308.7,1723.6 309.7,1725.2 310.7,1723.4 311.7,1724.4 312.7,1724 313.7,1724.1 314.7,1723.6 315.7,1724.4 316.7,1723.2 317.7,1724.1 318.7,1723.4 319.7,1723.4 320.7,1722.8 321.7,1723.4 322.7,1722.1 323.7,1722.9 324.7,1722 325.7,1722.6 326.7,1721.6 327.7,1722.4 328.7,1720.7 329.7,1722 330.7,1720.4 331.7,1720.9 332.7,1720.2 333.7,1720.4 334.7,1719.5 335.7,1720.1 336.7,1718.3 337.7,1719.6 338.7,1717.6 339.7,1718 340.7,1716.7 341.7,1716.9 342.7,1715.6 343.7,1715.8 344.7,1713.8 345.7,1714.6 346.7,1713 347.7,1712.9 348.7,1712 349.7,1711.6 350.7,1710.3 351.7,1710.8 352.7,1709.4 353.7,1709.3 354.7,1707.6 355.7,1707.9 356.7,1705.5 357.7,1706.1 358.7,1704.2 359.7,1703.8 360.7,1702.6 361.7,1702.1 362.7,1699.3 363.7,1699.7 364.7,1698.4 365.7,1698 366.7,1695.8 367.7,1695.8 368.7,1693.8 369.7,1693.6 370.7,1691.6 371.7,1691 372.7,1689.4 373.7,1688.4 374.7,1686.5 375.7,1685.9 376.7,1683.9 377.7,1683.5 378.7,1681.5 379.7,1681 380.7,1678.8 381.7,1678.2 382.7,1675.7 383.7,1674.4 384.7,1672.3 385.7,1671.5 386.7,1669.3 387.7,1668.2 388.7,1666.1 389.7,1665.3 390.7,1663.1 391.7,1662.4 392.7,1659.9 393.7,1658.7 394.7,1656.1 395.7,1656.2 396.7,1653.1 397.7,1652.7 398.7,1649.6 399.7,1649 400.7,1646 401.7,1645.1 402.7,1642.9 403.7,1641.9 404.7,1639.3 405.7,1637.7 406.7,1635.4 407.7,1633.9 408.7,1631.9 409.7,1630.7 410.7,1628 411.7,1626.9 412.7,1624.3 413.7,1623.7 414.7,1620.5 415.7,1618.7 416.7,1616.3 417.7,1615.6 418.7,1612.4 419.7,1611 420.7,1608.4 421.7,1607.3 422.7,1604.1 423.7,1603.7 424.7,1600.6 425.7,1598.9 426.7,1596.1 427.7,1595.1 428.7,1591.8 429.7,1590.6 430.7,1587.8 431.7,1587 432.7,1584.2 433.7,1582.4 434.7,1580.1 435.7,1578.7 436.7,1575.7 437.7,1574.8 438.7,1572.1 439.7,1571.2 440.7,1568.1 441.7,1567.4 442.7,1564.9 443.7,1563.8 444.7,1561.7 445.7,1560.3 446.7,1557.8 447.7,1556.8 448.7,1553.9 449.7,1553 450.7,1550.7 451.7,1549.9 452.7,1547.3 453.7,1546.5 454.7,1544.3 455.7,1543.8 456.7,1541.3 457.7,1540.4 458.7,1538.2 459.7,1537.4 460.7,1535.1 461.7,1535 462.7,1532.2 463.7,1532 464.7,1530 465.7,1529.4 466.7,1527.5 467.7,1527 468.7,1524.7 469.7,1524.5 470.7,1522.6 471.7,1522.1 472.7,1520.5 473.7,1520.2 474.7,1518.6 475.7,1517.7 476.7,1515.7 477.7,1515.9 478.7,1514 479.7,1513.3 480.7,1512 481.7,1511.4 482.7,1509.5 483.7,1508.8 484.7,1507.3 485.7,1506.4 486.7,1504.4 487.7,1504 488.7,1501.4 489.7,1501.4 490.7,1499.8 491.7,1499 492.7,1497.1 493.7,1496.5 494.7,1494.7 495.7,1494.2 496.7,1492.3 497.7,1492.1 498.7,1489.7 499.7,1489.6 500.7,1487.9 501.7,1487.5 502.7,1485.8 503.7,1485.3 504.7,1483.4 505.7,1483.6 506.7,1481.9 507.7,1481.3 508.7,1479.8 509.7,1479.6 510.7,1478.6 511.7,1478 512.7,1476.6 513.7,1477 514.7,1475.3 515.7,1475.2 516.7,1474.1 517.7,1473.9 518.7,1472.4 519.7,1472.5 520.7,1470.9 521.7,1471.5 522.7,1469.1 523.7,1469.7 524.7,1467.9 525.7,1469.7 526.7,1467.5 527.7,1467.5 528.7,1464.5 529.7,1466.3 530.7,1465 531.7,1464.8 532.7,1463.1 533.7,1464.6 534.7,1461.2 535.7,1462.3 536.7,1461.1 537.7,1461.1 538.7,1458.7 539.7,1460.2 540.7,1458.9 541.7,1459.3 542.7,1457.4 543.7,1457.5 544.7,1455.2 545.7,1457.1 546.7,1455.6 547.7,1455.3 548.7,1454 549.7,1454.3 550.7,1453.3 551.7,1453.5 552.7,1451.8 553.7,1452.8 554.7,1451 555.7,1451.8 556.7,1450.2 557.7,1451.3 558.7,1449.9 559.7,1451 560.7,1449.2 561.7,1450.6 562.7,1447.4 563.7,1449.1 564.7,1447 565.7,1448.1 566.7,1446.6 567.7,1448.1 568.7,1445.5 569.7,1446.1 570.7,1444.2 571.7,1447.3 572.7,1444.5 573.7,1445.3 574.7,1442.9 575.7,1443.9 576.7,1443 577.7,1443.6 578.7,1442.2 579.7,1443.4 580.7,1441.5 581.7,1443.8 582.7,1442.1 583.7,1443.5 584.7,1440.9 585.7,1442.1 586.7,1440.5 587.7,1442.2 588.7,1440.9 589.7,1442.3 590.7,1441.3 591.7,1443.8 592.7,1439.4 593.7,1442.6 594.7,1441.6 595.7,1444.3 596.7,1441.4 597.7,1442.7 598.7,1440.8 599.7,1443 600.7,1441.8 601.7,1443.1 602.7,1441.3 603.7,1441.9 604.7,1441.5 605.7,1442 606.7,1441.1 607.7,1442.7 608.7,1441.7 609.7,1442.6 610.7,1441.7 611.7,1442.3 612.7,1440.7 613.7,1444.1 614.7,1438.7 615.7,1442.7 616.7,1441.6 617.7,1442.7 618.7,1441.5 619.7,1437.9 620.7,1440.5 621.7,1441.8 622.7,1440.4 623.7,1442.9 624.7,1441 625.7,1454.8 626.7,1439.9 627.7,1444.3 628.7,1442.4 629.7,1460.5 630.7,1441.2 631.7,1444.8 632.7,1443.4 633.7,1446.9 634.7,1439.4 635.7,1447.3 636.7,1444.4 637.7,1460 638.7,1443.9 639.7,1447.3 640.7,1445.5 641.7,1448.4 642.7,1444.2 643.7,1450.5 644.7,1446.4 645.7,1452.4 646.7,1450.2 647.7,1453.1 648.7,1447.4 649.7,1455.3 650.7,1452.2 651.7,1455.7 652.7,1452.3 653.7,1456.1 654.7,1453 655.7,1463.2 656.7,1452.1 657.7,1461.2 658.7,1453.7 659.7,1461.1 660.7,1454.8 661.7,1469.7 662.7,1455.6 663.7,1464.4 664.7,1458.7 665.7,1460.7 666.7,1457.8 667.7,1465 668.7,1461.2 669.7,1466.3 670.7,1461.6 671.7,1465.3 672.7,1464.3 673.7,1466.6 674.7,1461.7 675.7,1468.7 676.7,1463.1 677.7,1468.2 678.7,1465.6 679.7,1470 680.7,1466.2 681.7,1473.9 682.7,1466.5 683.7,1473.6 684.7,1462.2 685.7,1480 686.7,1470.1 687.7,1473.1 688.7,1474.1 689.7,1479.9 690.7,1466.5 691.7,1482 692.7,1470.3 693.7,1476.4 694.7,1474.6 695.7,1480.9 696.7,1469.3 697.7,1483.2 698.7,1471.3 699.7,1482.1 700.7,1479.5 701.7,1482.1 702.7,1479.3 703.7,1487 704.7,1481.2 705.7,1486.2 706.7,1480.8 707.7,1499.2 708.7,1477.3 709.7,1490.9 710.7,1476.4 711.7,1490.4 712.7,1473.5 713.7,1496.5 714.7,1482.8 715.7,1502.5 716.7,1484.7 717.7,1493.5 718.7,1473.7 719.7,1497.8 720.7,1485.4 721.7,1496.1 722.7,1480 723.7,1496.9 724.7,1488.4 725.7,1498.2 726.7,1485.3 727.7,1505.8 728.7,1491.8 729.7,1506.8 730.7,1494.4 731.7,1504 732.7,1495.7 733.7,1507.1 734.7,1491.7 735.7,1509.5 736.7,1497.5 737.7,1510.2 738.7,1498.2 739.7,1514.9 740.7,1486.3 741.7,1507.5 742.7,1498.5 743.7,1509.6" fill="none" stroke="#127812" stroke-width="3.2" stroke-linejoin="round"/>
<polyline points="133.7,1626.1 134.7,1621.8 135.7,1628.8 136.7,1620.6 137.7,1621.7 138.7,1618.5 139.7,1617.7 140.7,1615.5 141.7,1615.4 142.7,1612.4 143.7,1614 144.7,1610.4 145.7,1610.7 146.7,1607.8 147.7,1610.3 148.7,1605.3 149.7,1607.3 150.7,1605.2 151.7,1607.2 152.7,1602.7 153.7,1605.7 154.7,1603.6 155.7,1604.4 156.7,1600.4 157.7,1602.6 158.7,1600.1 159.7,1603.8 160.7,1599.9 161.7,1601.6 162.7,1599.8 163.7,1602 164.7,1598.1 165.7,1600.4 166.7,1598.4 167.7,1599.6 168.7,1597.1 169.7,1600.5 170.7,1597.3 171.7,1598.6 172.7,1593.3 173.7,1598.4 174.7,1597 175.7,1598.3 176.7,1595.8 177.7,1599.2 178.7,1595.9 179.7,1599.3 180.7,1596.8 181.7,1599.3 182.7,1593.9 183.7,1598.4 184.7,1596.8 185.7,1600.2 186.7,1596.5 187.7,1599 188.7,1595.2 189.7,1599.4 190.7,1594.8 191.7,1601.9 192.7,1598.3 193.7,1601.1 194.7,1598.8 195.7,1601.7 196.7,1600.2 197.7,1604.7 198.7,1595.8 199.7,1602.7 200.7,1600.8 201.7,1605.2 202.7,1601.4 203.7,1608.2 204.7,1604.1 205.7,1606.6 206.7,1606.5 207.7,1608.5 208.7,1606.9 209.7,1609.5 210.7,1607.5 211.7,1612.7 212.7,1608.9 213.7,1613.6 214.7,1610.8 215.7,1617.1 216.7,1613.8 217.7,1616.8 218.7,1617 219.7,1622 220.7,1617.5 221.7,1622.4 222.7,1620.8 223.7,1626.5 224.7,1621.6 225.7,1626 226.7,1625.3 227.7,1629.7 228.7,1625.7 229.7,1631 230.7,1631.1 231.7,1635.2 232.7,1634 233.7,1639.8 234.7,1634.3 235.7,1639.9 236.7,1640.1 237.7,1643.6 238.7,1643 239.7,1647.1 240.7,1646.1 241.7,1650.9 242.7,1650 243.7,1655.2 244.7,1653.7 245.7,1659.6 246.7,1657.6 247.7,1664.4 248.7,1660.8 249.7,1665.3 250.7,1665.1 251.7,1668.3 252.7,1668.7 253.7,1671.1 254.7,1672.6 255.7,1674.5 256.7,1675.8 257.7,1678.4 258.7,1679.5 259.7,1681.4 260.7,1682.3 261.7,1684.8 262.7,1685.1 263.7,1686.8 264.7,1687.2 265.7,1688.5 266.7,1689.3 267.7,1690.8 268.7,1691.1 269.7,1692.1 270.7,1692.8 271.7,1694.1 272.7,1693.7 273.7,1695.4 274.7,1695.7 275.7,1697 276.7,1697 277.7,1698.2 278.7,1698.3 279.7,1699.5 280.7,1699.5 281.7,1700.7 282.7,1700.3 283.7,1701.5 284.7,1701.5 285.7,1702.9 286.7,1701.5 287.7,1703.6 288.7,1702 289.7,1703.7 290.7,1703.7 291.7,1704.3 292.7,1704.2 293.7,1704.9 294.7,1704.6 295.7,1706 296.7,1704.9 297.7,1706.3 298.7,1705.7 299.7,1707.3 300.7,1706.5 301.7,1706.9 302.7,1706.7 303.7,1708.2 304.7,1706.8 305.7,1708 306.7,1707 307.7,1708.1 308.7,1706.3 309.7,1707.7 310.7,1707.1 311.7,1707.3 312.7,1706.9 313.7,1707.8 314.7,1706.4 315.7,1706.7 316.7,1705.9 317.7,1706.2 318.7,1705.5 319.7,1706.1 320.7,1704.4 321.7,1705.4 322.7,1704.9 323.7,1705.1 324.7,1703.8 325.7,1704.4 326.7,1703.8 327.7,1703.9 328.7,1702.7 329.7,1702.9 330.7,1702.4 331.7,1702.3 332.7,1701.8 333.7,1701.7 334.7,1699.6 335.7,1700.4 336.7,1699.6 337.7,1699.4 338.7,1698.4 339.7,1698.2 340.7,1696.9 341.7,1696.6 342.7,1695.7 343.7,1695.6 344.7,1694.1 345.7,1693.7 346.7,1692.4 347.7,1692.5 348.7,1690.9 349.7,1690.7 350.7,1688.8 351.7,1688.5 352.7,1686.7 353.7,1686.3 354.7,1684.4 355.7,1684.2 356.7,1682.5 357.7,1681.6 358.7,1679.3 359.7,1679 360.7,1677 361.7,1676.2 362.7,1674 363.7,1673.3 364.7,1670.1 365.7,1669.6 366.7,1666.6 367.7,1665.9 368.7,1663 369.7,1662.3 370.7,1659.9 371.7,1659.2 372.7,1656.4 373.7,1655.8 374.7,1652.9 375.7,1652.1 376.7,1648.5 377.7,1648.5 378.7,1645.3 379.7,1644.3 380.7,1641.2 381.7,1639.6 382.7,1636.5 383.7,1635.7 384.7,1632.6 385.7,1630.9 386.7,1627.6 387.7,1626.3 388.7,1623 389.7,1621.7 390.7,1619.1 391.7,1617.4 392.7,1614.1 393.7,1612.9 394.7,1609.7 395.7,1607.7 396.7,1604.6 397.7,1602.8 398.7,1599.8 399.7,1597.6 400.7,1594.5 401.7,1592.9 402.7,1589.6 403.7,1587.4 404.7,1584 405.7,1581.6 406.7,1578.5 407.7,1576.4 408.7,1573.2 409.7,1571.9 410.7,1567.5 411.7,1565.5 412.7,1562.3 413.7,1560.3 414.7,1556.7 415.7,1554.4 416.7,1550.9 417.7,1548.9 418.7,1545.6 419.7,1543.4 420.7,1540.4 421.7,1538.1 422.7,1534.7 423.7,1532.8 424.7,1529.2 425.7,1527.2 426.7,1523.4 427.7,1521.1 428.7,1517.6 429.7,1515.5 430.7,1512.5 431.7,1510.3 432.7,1507 433.7,1505 434.7,1501.8 435.7,1500.2 436.7,1496.1 437.7,1495.3 438.7,1492.4 439.7,1490.6 440.7,1487.3 441.7,1486 442.7,1483.7 443.7,1481.9 444.7,1479.5 445.7,1477.6 446.7,1475 447.7,1474.1 448.7,1471.7 449.7,1470.6 450.7,1468 451.7,1466.7 452.7,1464.2 453.7,1463.1 454.7,1460.2 455.7,1459.6 456.7,1457.5 457.7,1456.4 458.7,1454.3 459.7,1453.1 460.7,1451.2 461.7,1450.1 462.7,1448.2 463.7,1447.8 464.7,1445.5 465.7,1445.2 466.7,1443 467.7,1442.2 468.7,1440.6 469.7,1439.8 470.7,1437.7 471.7,1437.6 472.7,1435.4 473.7,1435 474.7,1432.7 475.7,1432.9 476.7,1431.3 477.7,1431.5 478.7,1429.2 479.7,1428.5 480.7,1426.8 481.7,1426.4 482.7,1425.2 483.7,1424.7 484.7,1423 485.7,1422.4 486.7,1420.7 487.7,1420.8 488.7,1418.7 489.7,1418.9 490.7,1417.1 491.7,1416.9 492.7,1414.5 493.7,1415 494.7,1412.4 495.7,1412.4 496.7,1411.2 497.7,1410.9 498.7,1408 499.7,1408.5 500.7,1407.4 501.7,1407.1 502.7,1405.6 503.7,1405.3 504.7,1403.7 505.7,1403.8 506.7,1402.3 507.7,1402.1 508.7,1400.9 509.7,1400.7 510.7,1398.7 511.7,1400.4 512.7,1398.8 513.7,1398.9 514.7,1397.5 515.7,1397.5 516.7,1396.8 517.7,1397.3 518.7,1395.8 519.7,1395.8 520.7,1393.7 521.7,1394.8 522.7,1393.9 523.7,1393.6 524.7,1392 525.7,1393.2 526.7,1390.4 527.7,1392.3 528.7,1390.2 529.7,1391.4 530.7,1390.3 531.7,1390.7 532.7,1389.2 533.7,1390.3 534.7,1388.3 535.7,1389.3 536.7,1387.6 537.7,1388.4 538.7,1387.1 539.7,1389.2 540.7,1386.5 541.7,1388.3 542.7,1385.2 543.7,1387.1 544.7,1385.6 545.7,1386.4 546.7,1385.9 547.7,1387.1 548.7,1386.1 549.7,1386.7 550.7,1385.3 551.7,1387.5 552.7,1385.7 553.7,1387.5 554.7,1385.4 555.7,1373.9 556.7,1386.2 557.7,1389.6 558.7,1386.8 559.7,1387 560.7,1386 561.7,1387.6 562.7,1386.5 563.7,1387.9 564.7,1387.6 565.7,1389 566.7,1387.2 567.7,1388.8 568.7,1388.8 569.7,1390.3 570.7,1388.9 571.7,1390.7 572.7,1389.6 573.7,1391.1 574.7,1388.8 575.7,1392.7 576.7,1390.5 577.7,1392.2 578.7,1391.3 579.7,1393.4 580.7,1390.9 581.7,1393.2 582.7,1391.7 583.7,1393.2 584.7,1392.4 585.7,1394.9 586.7,1393.6 587.7,1395.1 588.7,1394.2 589.7,1395.6 590.7,1395.7 591.7,1397.4 592.7,1396.3 593.7,1399.4 594.7,1395.6 595.7,1399.6 596.7,1397.7 597.7,1400.3 598.7,1399 599.7,1403 600.7,1400.5 601.7,1402.2 602.7,1400.1 603.7,1403.5 604.7,1399.4 605.7,1403.5 606.7,1403.3 607.7,1404.5 608.7,1404.8 609.7,1407.3 610.7,1405 611.7,1407.3 612.7,1406.6 613.7,1408.6 614.7,1407.6 615.7,1410.1 616.7,1409.6 617.7,1411.6 618.7,1410.1 619.7,1411.9 620.7,1410.7 621.7,1413.2 622.7,1413.4 623.7,1396.3 624.7,1419.8 625.7,1416.1 626.7,1415 627.7,1417.2 628.7,1417 629.7,1419.4 630.7,1416.2 631.7,1420.1 632.7,1419.8 633.7,1425.5 634.7,1420.7 635.7,1424.2 636.7,1422.5 637.7,1424.2 638.7,1423.2 639.7,1425.4 640.7,1425 641.7,1422.5 642.7,1430.2 643.7,1431 644.7,1426.7 645.7,1431 646.7,1427.6 647.7,1430.8 648.7,1430.5 649.7,1434.4 650.7,1430.5 651.7,1435.8 652.7,1433.7 653.7,1437.2 654.7,1434.7 655.7,1436.6 656.7,1436.2 657.7,1439 658.7,1437.8 659.7,1443.6 660.7,1435.4 661.7,1441.6 662.7,1437.2 663.7,1447.6 664.7,1441 665.7,1448.6 666.7,1445.2 667.7,1448.3 668.7,1444.2 669.7,1448.9 670.7,1447.2 671.7,1455.4 672.7,1448.1 673.7,1453.3 674.7,1449.1 675.7,1457.1 676.7,1452.8 677.7,1456 678.7,1452.4 679.7,1460.6 680.7,1451.7 681.7,1465.8 682.7,1459.7 683.7,1465.7 684.7,1457.9 685.7,1464.2 686.7,1462.6 687.7,1467.5 688.7,1462.3 689.7,1470.5 690.7,1460.6 691.7,1468.3 692.7,1468.8 693.7,1472.6 694.7,1469.6 695.7,1476.3 696.7,1470.6 697.7,1476.8 698.7,1473.1 699.7,1475.6 700.7,1472.1 701.7,1485.9 702.7,1476.4 703.7,1480.1 704.7,1473.2 705.7,1481.1 706.7,1476.8 707.7,1487.7 708.7,1480.5 709.7,1498.4 710.7,1479.7 711.7,1488.5 712.7,1485.9 713.7,1490.3 714.7,1481.6 715.7,1492.6 716.7,1490.7 717.7,1495.7 718.7,1492.2 719.7,1498.8 720.7,1491.6 721.7,1497.7 722.7,1495.1 723.7,1497.8 724.7,1492.8 725.7,1510.6 726.7,1497.1 727.7,1504.5 728.7,1500.2 729.7,1506 730.7,1495.1 731.7,1506.4 732.7,1501 733.7,1508.6 734.7,1503.2 735.7,1510.1 736.7,1505.5 737.7,1519.3 738.7,1498.3 739.7,1512.7 740.7,1511 741.7,1520.8 742.7,1511.8 743.7,1515.6" fill="none" stroke="#1a1aee" stroke-width="3.2" stroke-linejoin="round"/>
<rect x="133.7" y="1333" width="611" height="448.7" fill="none" stroke="#333" stroke-width="2.6"/>
<line x1="133.7" y1="1781.7" x2="133.7" y2="1787.7" stroke="#333" stroke-width="2.2"/>
<text x="0" y="0" font-size="22" text-anchor="middle" fill="#333" stroke="#333" stroke-width="0.7" transform="translate(133.7 1815.8) scale(0.95 1)">200</text>
<line x1="180.7" y1="1781.7" x2="180.7" y2="1785.7" stroke="#333" stroke-width="2.2"/>
<line x1="227.7" y1="1781.7" x2="227.7" y2="1787.7" stroke="#333" stroke-width="2.2"/>
<text x="0" y="0" font-size="22" text-anchor="middle" fill="#333" stroke="#333" stroke-width="0.7" transform="translate(227.7 1815.8) scale(0.95 1)">300</text>
<line x1="274.7" y1="1781.7" x2="274.7" y2="1785.7" stroke="#333" stroke-width="2.2"/>
<line x1="321.7" y1="1781.7" x2="321.7" y2="1787.7" stroke="#333" stroke-width="2.2"/>
<text x="0" y="0" font-size="22" text-anchor="middle" fill="#333" stroke="#333" stroke-width="0.7" transform="translate(321.7 1815.8) scale(0.95 1)">400</text>
<line x1="368.7" y1="1781.7" x2="368.7" y2="1785.7" stroke="#333" stroke-width="2.2"/>
<line x1="415.7" y1="1781.7" x2="415.7" y2="1787.7" stroke="#333" stroke-width="2.2"/>
<text x="0" y="0" font-size="22" text-anchor="middle" fill="#333" stroke="#333" stroke-width="0.7" transform="translate(415.7 1815.8) scale(0.95 1)">500</text>
<line x1="462.7" y1="1781.7" x2="462.7" y2="1785.7" stroke="#333" stroke-width="2.2"/>
<line x1="509.7" y1="1781.7" x2="509.7" y2="1787.7" stroke="#333" stroke-width="2.2"/>
<text x="0" y="0" font-size="22" text-anchor="middle" fill="#333" stroke="#333" stroke-width="0.7" transform="translate(509.7 1815.8) scale(0.95 1)">600</text>
<line x1="556.7" y1="1781.7" x2="556.7" y2="1785.7" stroke="#333" stroke-width="2.2"/>
<line x1="603.7" y1="1781.7" x2="603.7" y2="1787.7" stroke="#333" stroke-width="2.2"/>
<text x="0" y="0" font-size="22" text-anchor="middle" fill="#333" stroke="#333" stroke-width="0.7" transform="translate(603.7 1815.8) scale(0.95 1)">700</text>
<line x1="650.7" y1="1781.7" x2="650.7" y2="1785.7" stroke="#333" stroke-width="2.2"/>
<line x1="697.7" y1="1781.7" x2="697.7" y2="1787.7" stroke="#333" stroke-width="2.2"/>
<text x="0" y="0" font-size="22" text-anchor="middle" fill="#333" stroke="#333" stroke-width="0.7" transform="translate(697.7 1815.8) scale(0.95 1)">800</text>
<line x1="744.7" y1="1781.7" x2="744.7" y2="1785.7" stroke="#333" stroke-width="2.2"/>
<text x="438.6" y="1856.8" font-size="26.2" text-anchor="middle" fill="#222" stroke="#222" stroke-width="0.7">Wavelength / nm</text>
<text x="106" y="1573.8" font-size="26" text-anchor="middle" fill="#222" stroke="#222" stroke-width="0.7" transform="rotate(-90 106 1573.8)">Absorbance / a.u.</text>
<text x="156.8" y="1377.7" font-size="25.8" fill="#222" stroke="#222" stroke-width="0.7">Air exposure</text>
<line x1="165.6" y1="1411.7" x2="215.4" y2="1411.7" stroke="#1a1aee" stroke-width="3.2"/>
<text x="223.4" y="1419.5" font-size="26" fill="#222" stroke="#222" stroke-width="0.7">Initial</text>
<line x1="165.6" y1="1443.8" x2="215.4" y2="1443.8" stroke="#127812" stroke-width="3.2"/>
<text x="223.4" y="1451.5" font-size="26" fill="#222" stroke="#222" stroke-width="0.7">5 days</text>
<line x1="165.6" y1="1475.9" x2="215.4" y2="1475.9" stroke="#ff8410" stroke-width="3.2"/>
<text x="223.4" y="1483.5" font-size="26" fill="#222" stroke="#222" stroke-width="0.7">30 days</text>
<line x1="165.6" y1="1508" x2="215.4" y2="1508" stroke="#ff10ff" stroke-width="3.2"/>
<text x="223.4" y="1515.5" font-size="26" fill="#222" stroke="#222" stroke-width="0.7">60 days</text>
<text x="47" y="1383" font-size="66" font-weight="bold" fill="#000">(g)</text>
<rect x="979.8" y="1634.2" width="64.9" height="169" fill="#0000fa" stroke="none" stroke-width="0"/>
<text x="1012.25" y="1844.5" font-size="27.3" text-anchor="middle" fill="#222" stroke="#222" stroke-width="0.7">Initial</text>
<rect x="1120.6" y="1547" width="65.7" height="256.2" fill="#007d00" stroke="none" stroke-width="0"/>
<text x="1153.45" y="1844.5" font-size="27.3" text-anchor="middle" fill="#222" stroke="#222" stroke-width="0.7">5 days</text>
<rect x="1262.5" y="1513.3" width="65.8" height="289.9" fill="#ff8200" stroke="none" stroke-width="0"/>
<text x="1295.4" y="1844.5" font-size="27.3" text-anchor="middle" fill="#222" stroke="#222" stroke-width="0.7">30 days</text>
<rect x="1405.2" y="1464.1" width="65.8" height="339.1" fill="#ff00ff" stroke="none" stroke-width="0"/>
<text x="1438.1" y="1844.5" font-size="27.3" text-anchor="middle" fill="#222" stroke="#222" stroke-width="0.7">60 days</text>
<rect x="905" y="1330" width="638.4" height="473.2" fill="none" stroke="#333" stroke-width="2.8"/>
<line x1="894.5" y1="1803.2" x2="905" y2="1803.2" stroke="#333" stroke-width="2.5"/>
<text x="0" y="0" font-size="24.5" text-anchor="end" fill="#333" stroke="#333" stroke-width="0.7" transform="translate(889 1810) scale(0.93 1)">0.0</text>
<line x1="899" y1="1744.05" x2="905" y2="1744.05" stroke="#333" stroke-width="2.5"/>
<line x1="894.5" y1="1684.9" x2="905" y2="1684.9" stroke="#333" stroke-width="2.5"/>
<text x="0" y="0" font-size="24.5" text-anchor="end" fill="#333" stroke="#333" stroke-width="0.7" transform="translate(889 1691.7) scale(0.93 1)">0.2</text>
<line x1="899" y1="1625.75" x2="905" y2="1625.75" stroke="#333" stroke-width="2.5"/>
<line x1="894.5" y1="1566.6" x2="905" y2="1566.6" stroke="#333" stroke-width="2.5"/>
<text x="0" y="0" font-size="24.5" text-anchor="end" fill="#333" stroke="#333" stroke-width="0.7" transform="translate(889 1573.4) scale(0.93 1)">0.4</text>
<line x1="899" y1="1507.45" x2="905" y2="1507.45" stroke="#333" stroke-width="2.5"/>
<line x1="894.5" y1="1448.3" x2="905" y2="1448.3" stroke="#333" stroke-width="2.5"/>
<text x="0" y="0" font-size="24.5" text-anchor="end" fill="#333" stroke="#333" stroke-width="0.7" transform="translate(889 1455.1) scale(0.93 1)">0.6</text>
<line x1="899" y1="1389.15" x2="905" y2="1389.15" stroke="#333" stroke-width="2.5"/>
<line x1="894.5" y1="1330" x2="905" y2="1330" stroke="#333" stroke-width="2.5"/>
<text x="0" y="0" font-size="24.5" text-anchor="end" fill="#333" stroke="#333" stroke-width="0.7" transform="translate(889 1336.8) scale(0.93 1)">0.8</text>
<text x="920.8" y="1371.3" font-size="27.6" fill="#222" stroke="#222" stroke-width="0.7">Meso-WO<tspan font-size="15.5" dy="10">2.83</tspan><tspan dy="-10"> upon air exposure</tspan></text>
<line x1="971" y1="1578" x2="1392" y2="1409" stroke="#e01010" stroke-width="4.2"/>
<polygon points="1430,1394 1377,1399.5 1388.3,1425.8" fill="#e01010"/>
<text x="987" y="1540" font-size="27" fill="#222" stroke="#222" stroke-width="0.7" transform="rotate(-20 987 1540)">Decreasing oxygen vacancies</text>
<text x="837.3" y="1585.5" font-size="27.7" text-anchor="middle" fill="#222" stroke="#222" stroke-width="0.7" transform="rotate(-90 837.3 1585.5)">Overpotential at 10 mA cm<tspan font-size="16" dy="-12">-2</tspan><tspan dy="12"> / V</tspan></text>
<text x="770" y="1380" font-size="66" font-weight="bold" fill="#000">(h)</text>
<line x1="1883" y1="1670.5" x2="2013.5" y2="1464.6" stroke="#22b422" stroke-width="2.2" stroke-dasharray="2.2,2.6"/>
<line x1="2134.6" y1="1464.6" x2="2269" y2="1670.5" stroke="#22b422" stroke-width="2.2" stroke-dasharray="2.2,2.6"/>
<line x1="1883" y1="1670.5" x2="2015.4" y2="1589.2" stroke="#1f40b0" stroke-width="2.2" stroke-dasharray="2.2,2.6"/>
<line x1="2134.6" y1="1589.2" x2="2269" y2="1670.5" stroke="#1f40b0" stroke-width="2.2" stroke-dasharray="2.2,2.6"/>
<line x1="1883" y1="1670.5" x2="2015.4" y2="1697.3" stroke="#ff2222" stroke-width="2.2" stroke-dasharray="2.2,2.6"/>
<line x1="2134.6" y1="1697.3" x2="2269" y2="1670.5" stroke="#ff2222" stroke-width="2.2" stroke-dasharray="2.2,2.6"/>
<line x1="1763.3" y1="1670.5" x2="1883" y2="1670.5" stroke="#111" stroke-width="3.4"/>
<line x1="2269" y1="1670.5" x2="2386.5" y2="1670.5" stroke="#111" stroke-width="3.4"/>
<line x1="1885" y1="1670.5" x2="2269" y2="1670.5" stroke="#111" stroke-width="4.6" stroke-dasharray="22,20"/>
<line x1="2013.5" y1="1464.6" x2="2134.6" y2="1464.6" stroke="#22b422" stroke-width="4.2"/>
<line x1="2015.4" y1="1589.2" x2="2134.6" y2="1589.2" stroke="#1f40b0" stroke-width="4.2"/>
<line x1="2015.4" y1="1697.3" x2="2134.6" y2="1697.3" stroke="#ff2222" stroke-width="4.2"/>
<rect x="1763.3" y="1333.8" width="623.2" height="462.2" fill="none" stroke="#222" stroke-width="3.5"/>
<rect x="1760.3" y="1561" width="6" height="8" fill="#fff" stroke="none" stroke-width="0"/>
<line x1="1750.3" y1="1566.5" x2="1775.3" y2="1557" stroke="#222" stroke-width="2.4"/>
<line x1="1750.3" y1="1573" x2="1775.3" y2="1564" stroke="#222" stroke-width="2.4"/>
<rect x="2383.5" y="1561" width="6" height="8" fill="#fff" stroke="none" stroke-width="0"/>
<line x1="2373.5" y1="1566.5" x2="2398.5" y2="1557" stroke="#222" stroke-width="2.4"/>
<line x1="2373.5" y1="1573" x2="2398.5" y2="1564" stroke="#222" stroke-width="2.4"/>
<line x1="1750.5" y1="1334.1" x2="1763.3" y2="1334.1" stroke="#222" stroke-width="3"/>
<text x="1746" y="1350.1" font-size="29" text-anchor="end" fill="#222" stroke="#222" stroke-width="0.7">3.0</text>
<line x1="1750.5" y1="1428.8" x2="1763.3" y2="1428.8" stroke="#222" stroke-width="3"/>
<text x="1746" y="1443" font-size="29" text-anchor="end" fill="#222" stroke="#222" stroke-width="0.7">2.5</text>
<line x1="1750.5" y1="1523.5" x2="1763.3" y2="1523.5" stroke="#222" stroke-width="3"/>
<text x="1746" y="1537.7" font-size="29" text-anchor="end" fill="#222" stroke="#222" stroke-width="0.7">2.0</text>
<line x1="1750.5" y1="1607.45" x2="1763.3" y2="1607.45" stroke="#222" stroke-width="3"/>
<text x="1746" y="1621.65" font-size="29" text-anchor="end" fill="#222" stroke="#222" stroke-width="0.7">0.5</text>
<line x1="1750.5" y1="1670.5" x2="1763.3" y2="1670.5" stroke="#222" stroke-width="3"/>
<text x="1746" y="1684.7" font-size="29" text-anchor="end" fill="#222" stroke="#222" stroke-width="0.7">0.0</text>
<line x1="1750.5" y1="1733.55" x2="1763.3" y2="1733.55" stroke="#222" stroke-width="3"/>
<text x="1746" y="1747.75" font-size="29" text-anchor="end" fill="#222" stroke="#222" stroke-width="0.7">-0.5</text>
<line x1="1750.5" y1="1796.6" x2="1763.3" y2="1796.6" stroke="#222" stroke-width="3"/>
<text x="1746" y="1810.8" font-size="29" text-anchor="end" fill="#222" stroke="#222" stroke-width="0.7">-1.0</text>
<text x="2071" y="1846" font-size="29.3" text-anchor="middle" fill="#222" stroke="#222" stroke-width="0.7">Reaction coordinate</text>
<text x="1676.5" y="1588.4" font-size="29.3" text-anchor="middle" fill="#222" stroke="#222" stroke-width="0.7" transform="rotate(-90 1676.5 1588.4)">Free energy (eV)</text>
<text x="2007.7" y="1442.3" font-size="29.5" fill="#222" stroke="#222" stroke-width="0.7">W<tspan font-size="16" dy="8.5" letter-spacing="1">1</tspan><tspan dy="-8.5">@W</tspan><tspan font-size="16" dy="8.5" letter-spacing="1">24</tspan><tspan dy="-8.5">O</tspan><tspan font-size="16" dy="8.5" letter-spacing="1">72</tspan><tspan dy="-8.5"></tspan></text>
<text x="2007.7" y="1567.3" font-size="29.5" fill="#222" stroke="#222" stroke-width="0.7">W<tspan font-size="16" dy="8.5" letter-spacing="1">4</tspan><tspan dy="-8.5">@W</tspan><tspan font-size="16" dy="8.5" letter-spacing="1">24</tspan><tspan dy="-8.5">O</tspan><tspan font-size="16" dy="8.5" letter-spacing="1">71</tspan><tspan dy="-8.5"></tspan></text>
<text x="2007.7" y="1742.3" font-size="29.5" fill="#222" stroke="#222" stroke-width="0.7">W<tspan font-size="16" dy="8.5" letter-spacing="1">9</tspan><tspan dy="-8.5">@W</tspan><tspan font-size="16" dy="8.5" letter-spacing="1">24</tspan><tspan dy="-8.5">O</tspan><tspan font-size="16" dy="8.5" letter-spacing="1">67</tspan><tspan dy="-8.5"></tspan></text>
<text x="2047" y="1390.4" font-size="35" font-weight="bold" fill="#111">H</text>
<circle cx="2077" cy="1367" r="2.4" fill="#111"/>
<text x="1768" y="1654" font-size="38" font-weight="bold" fill="#111">H</text>
<circle cx="1798" cy="1629" r="2.6" fill="#111"/>
<text x="1818" y="1654" font-size="38" font-weight="bold" fill="#111">+</text>
<text x="1851.5" y="1654" font-size="38" font-weight="bold" fill="#111">e</text>
<rect x="1877" y="1633.3" width="7.5" height="2.6" fill="#111" stroke="none" stroke-width="0"/>
<text x="2266" y="1650" font-size="38.5" font-weight="bold" fill="#111">1/2 H<tspan font-size="27" dy="7.7">2</tspan></text>
<text x="1597" y="1381" font-size="66" font-weight="bold" fill="#000">(i)</text>
<g clip-path="url(#clpA)">
<g filter="url(#fA)">
<rect x="113" y="7" width="664" height="713" fill="#5c6464"/>
<g fill="#f2fffd"><ellipse cx="144.57" cy="32.8" rx="8.61" ry="6.54" fill-opacity="0.78"/><ellipse cx="169.59" cy="33.57" rx="8.54" ry="6.49" fill-opacity="0.75"/><ellipse cx="194.26" cy="32.75" rx="8.43" ry="6.42" fill-opacity="0.68"/><ellipse cx="215.64" cy="30.88" rx="8.3" ry="6.33" fill-opacity="0.61"/><ellipse cx="239.47" cy="30.82" rx="8.16" ry="6.24" fill-opacity="0.53"/><ellipse cx="262.99" cy="31.93" rx="8.82" ry="6.68" fill-opacity="0.90"/><ellipse cx="285.19" cy="32.88" rx="8.32" ry="6.35" fill-opacity="0.62"/><ellipse cx="309.89" cy="31.07" rx="8.17" ry="6.24" fill-opacity="0.54"/><ellipse cx="333.5" cy="33.27" rx="8.36" ry="6.37" fill-opacity="0.64"/><ellipse cx="357.79" cy="30.89" rx="8.7" ry="6.6" fill-opacity="0.83"/><ellipse cx="378.16" cy="32.44" rx="8.3" ry="6.33" fill-opacity="0.61"/><ellipse cx="402.11" cy="32.4" rx="8.87" ry="6.71" fill-opacity="0.93"/><ellipse cx="426.56" cy="32.47" rx="8.62" ry="6.55" fill-opacity="0.79"/><ellipse cx="448.09" cy="33.37" rx="8.93" ry="6.75" fill-opacity="0.96"/><ellipse cx="474.32" cy="30.72" rx="8.13" ry="6.22" fill-opacity="0.52"/><ellipse cx="494.59" cy="32.91" rx="8.12" ry="6.21" fill-opacity="0.51"/><ellipse cx="520.3" cy="33.91" rx="8.83" ry="6.68" fill-opacity="0.90"/><ellipse cx="543.22" cy="31.91" rx="8.46" ry="6.44" fill-opacity="0.70"/><ellipse cx="565.66" cy="32.61" rx="8.04" ry="6.16" fill-opacity="0.47"/><ellipse cx="589.62" cy="31.55" rx="8.13" ry="6.22" fill-opacity="0.52"/><ellipse cx="613.06" cy="32.27" rx="8.37" ry="6.38" fill-opacity="0.65"/><ellipse cx="636.18" cy="32" rx="8.1" ry="6.2" fill-opacity="0.50"/><ellipse cx="658.88" cy="31.72" rx="8.3" ry="6.34" fill-opacity="0.61"/><ellipse cx="682.9" cy="31.44" rx="8.84" ry="6.69" fill-opacity="0.91"/><ellipse cx="707.2" cy="31.91" rx="8.48" ry="6.45" fill-opacity="0.71"/><ellipse cx="726.94" cy="32.79" rx="7.94" ry="6.1" fill-opacity="0.41"/><ellipse cx="751.31" cy="32.24" rx="8.87" ry="6.71" fill-opacity="0.93"/><ellipse cx="147.93" cy="49.74" rx="6.97" ry="6.11" fill-opacity="0.43"/><ellipse cx="168.16" cy="53.95" rx="7.13" ry="6.22" fill-opacity="0.52"/><ellipse cx="193.1" cy="51.24" rx="6.78" ry="5.98" fill-opacity="0.32"/><ellipse cx="217.05" cy="51.35" rx="6.56" ry="5.84" fill-opacity="0.20"/><ellipse cx="239.94" cy="52.14" rx="6.87" ry="6.04" fill-opacity="0.37"/><ellipse cx="264.16" cy="51.4" rx="6.77" ry="5.98" fill-opacity="0.32"/><ellipse cx="285.98" cy="52.08" rx="6.91" ry="6.08" fill-opacity="0.40"/><ellipse cx="311.69" cy="52.86" rx="6.72" ry="5.95" fill-opacity="0.29"/><ellipse cx="332.41" cy="52" rx="6.89" ry="6.06" fill-opacity="0.38"/><ellipse cx="355.91" cy="52.08" rx="7.26" ry="6.31" fill-opacity="0.59"/><ellipse cx="381.32" cy="51.97" rx="6.94" ry="6.09" fill-opacity="0.41"/><ellipse cx="404.01" cy="51.01" rx="6.61" ry="5.87" fill-opacity="0.23"/><ellipse cx="426.22" cy="52.81" rx="7.04" ry="6.16" fill-opacity="0.47"/><ellipse cx="449.17" cy="53.02" rx="6.71" ry="5.94" fill-opacity="0.28"/><ellipse cx="473.25" cy="52.42" rx="6.72" ry="5.95" fill-opacity="0.29"/><ellipse cx="497.92" cy="51.39" rx="6.95" ry="6.1" fill-opacity="0.42"/><ellipse cx="518.97" cy="52.63" rx="6.92" ry="6.08" fill-opacity="0.40"/><ellipse cx="543.61" cy="51.82" rx="6.79" ry="5.99" fill-opacity="0.33"/><ellipse cx="567.03" cy="53.45" rx="6.98" ry="6.12" fill-opacity="0.43"/><ellipse cx="587.81" cy="53.16" rx="6.71" ry="5.94" fill-opacity="0.28"/><ellipse cx="611.63" cy="52.3" rx="6.82" ry="6.01" fill-opacity="0.34"/><ellipse cx="635.14" cy="52.34" rx="7" ry="6.14" fill-opacity="0.45"/><ellipse cx="658.68" cy="52.55" rx="6.9" ry="6.07" fill-opacity="0.39"/><ellipse cx="680.89" cy="51.3" rx="6.86" ry="6.04" fill-opacity="0.37"/><ellipse cx="703.66" cy="53.51" rx="7.22" ry="6.28" fill-opacity="0.57"/><ellipse cx="730.31" cy="52.67" rx="6.77" ry="5.98" fill-opacity="0.32"/><ellipse cx="753.09" cy="53.01" rx="6.99" ry="6.13" fill-opacity="0.44"/><ellipse cx="145.5" cy="71.91" rx="8.22" ry="6.28" fill-opacity="0.57"/><ellipse cx="168.87" cy="71.63" rx="8.67" ry="6.58" fill-opacity="0.82"/><ellipse cx="192.72" cy="74.28" rx="8.15" ry="6.24" fill-opacity="0.53"/><ellipse cx="215.58" cy="73.97" rx="8.26" ry="6.31" fill-opacity="0.59"/><ellipse cx="238.59" cy="72.23" rx="8.09" ry="6.2" fill-opacity="0.50"/><ellipse cx="261.75" cy="72.11" rx="8.72" ry="6.61" fill-opacity="0.84"/><ellipse cx="287.46" cy="72.51" rx="8.47" ry="6.45" fill-opacity="0.71"/><ellipse cx="310.66" cy="73.35" rx="8.14" ry="6.23" fill-opacity="0.52"/><ellipse cx="331.67" cy="73.47" rx="8.11" ry="6.21" fill-opacity="0.51"/><ellipse cx="354.18" cy="72.17" rx="8.62" ry="6.54" fill-opacity="0.79"/><ellipse cx="379.05" cy="73.53" rx="8.41" ry="6.41" fill-opacity="0.67"/><ellipse cx="401.36" cy="72.88" rx="8.77" ry="6.65" fill-opacity="0.87"/><ellipse cx="425.77" cy="73.07" rx="8.44" ry="6.43" fill-opacity="0.69"/><ellipse cx="448.9" cy="72.73" rx="8.02" ry="6.15" fill-opacity="0.46"/><ellipse cx="471.95" cy="72.54" rx="8.22" ry="6.28" fill-opacity="0.57"/><ellipse cx="496.84" cy="72.77" rx="8.84" ry="6.69" fill-opacity="0.91"/><ellipse cx="519.52" cy="72.73" rx="8.69" ry="6.6" fill-opacity="0.83"/><ellipse cx="541.01" cy="71.51" rx="8.28" ry="6.32" fill-opacity="0.60"/><ellipse cx="566.7" cy="72.78" rx="8.64" ry="6.56" fill-opacity="0.80"/><ellipse cx="588.27" cy="71.73" rx="8.47" ry="6.44" fill-opacity="0.70"/><ellipse cx="612.85" cy="71.39" rx="7.98" ry="6.12" fill-opacity="0.44"/><ellipse cx="634.5" cy="71.97" rx="8.28" ry="6.32" fill-opacity="0.60"/><ellipse cx="659.64" cy="72.89" rx="8.09" ry="6.19" fill-opacity="0.49"/><ellipse cx="681.88" cy="73.32" rx="8.82" ry="6.68" fill-opacity="0.90"/><ellipse cx="705.58" cy="72.69" rx="8.59" ry="6.53" fill-opacity="0.77"/><ellipse cx="729.56" cy="73.38" rx="8.54" ry="6.49" fill-opacity="0.74"/><ellipse cx="751.89" cy="72.7" rx="8.07" ry="6.18" fill-opacity="0.48"/><ellipse cx="147.43" cy="92.75" rx="7.01" ry="6.14" fill-opacity="0.45"/><ellipse cx="170.01" cy="92.12" rx="6.94" ry="6.09" fill-opacity="0.41"/><ellipse cx="191.98" cy="92.58" rx="6.79" ry="5.99" fill-opacity="0.33"/><ellipse cx="214.23" cy="91.86" rx="6.82" ry="6.01" fill-opacity="0.34"/><ellipse cx="239.71" cy="92.7" rx="6.8" ry="6" fill-opacity="0.33"/><ellipse cx="262.87" cy="92.38" rx="7.17" ry="6.25" fill-opacity="0.54"/><ellipse cx="286.16" cy="91.2" rx="6.95" ry="6.1" fill-opacity="0.42"/><ellipse cx="308.63" cy="93.06" rx="7.1" ry="6.2" fill-opacity="0.50"/><ellipse cx="333.08" cy="92.51" rx="7.09" ry="6.2" fill-opacity="0.50"/><ellipse cx="356.05" cy="91.23" rx="6.98" ry="6.12" fill-opacity="0.44"/><ellipse cx="380.54" cy="92.57" rx="7.05" ry="6.17" fill-opacity="0.47"/><ellipse cx="402.57" cy="90.84" rx="6.95" ry="6.1" fill-opacity="0.42"/><ellipse cx="426.35" cy="93.44" rx="7.38" ry="6.39" fill-opacity="0.66"/><ellipse cx="449.21" cy="92.67" rx="6.83" ry="6.02" fill-opacity="0.35"/><ellipse cx="473.17" cy="93.32" rx="6.92" ry="6.08" fill-opacity="0.40"/><ellipse cx="495.15" cy="92.77" rx="7.15" ry="6.23" fill-opacity="0.53"/><ellipse cx="518.85" cy="92.93" rx="6.99" ry="6.13" fill-opacity="0.44"/><ellipse cx="543.46" cy="93.12" rx="7.03" ry="6.15" fill-opacity="0.46"/><ellipse cx="568.4" cy="91.05" rx="6.73" ry="5.95" fill-opacity="0.29"/><ellipse cx="589.39" cy="92.74" rx="6.84" ry="6.02" fill-opacity="0.35"/><ellipse cx="610.99" cy="93.7" rx="7.01" ry="6.14" fill-opacity="0.45"/><ellipse cx="637.01" cy="92.4" rx="6.82" ry="6.01" fill-opacity="0.34"/><ellipse cx="660.09" cy="91.89" rx="7.27" ry="6.31" fill-opacity="0.59"/><ellipse cx="681.65" cy="92.36" rx="7.17" ry="6.25" fill-opacity="0.54"/><ellipse cx="704.77" cy="91.31" rx="7.19" ry="6.26" fill-opacity="0.55"/><ellipse cx="728.42" cy="92.15" rx="7.2" ry="6.26" fill-opacity="0.55"/><ellipse cx="753.16" cy="93.27" rx="6.83" ry="6.02" fill-opacity="0.35"/><ellipse cx="148.22" cy="112.52" rx="8.25" ry="6.3" fill-opacity="0.58"/><ellipse cx="169.8" cy="112.21" rx="8.53" ry="6.49" fill-opacity="0.74"/><ellipse cx="193.06" cy="113.42" rx="8.81" ry="6.67" fill-opacity="0.90"/><ellipse cx="217.22" cy="113.49" rx="8.29" ry="6.33" fill-opacity="0.61"/><ellipse cx="238.64" cy="112.05" rx="8.07" ry="6.18" fill-opacity="0.48"/><ellipse cx="264.52" cy="112.05" rx="8.5" ry="6.47" fill-opacity="0.72"/><ellipse cx="286.04" cy="113.75" rx="8.56" ry="6.51" fill-opacity="0.76"/><ellipse cx="308.07" cy="113.55" rx="8.76" ry="6.64" fill-opacity="0.87"/><ellipse cx="332.3" cy="113.19" rx="8.38" ry="6.38" fill-opacity="0.65"/><ellipse cx="356.01" cy="111.95" rx="8.62" ry="6.55" fill-opacity="0.79"/><ellipse cx="377.78" cy="112.94" rx="9" ry="6.8" fill-opacity="1.00"/><ellipse cx="403.12" cy="113.87" rx="8.77" ry="6.65" fill-opacity="0.87"/><ellipse cx="427.13" cy="112.71" rx="8.31" ry="6.34" fill-opacity="0.62"/><ellipse cx="449.57" cy="112.32" rx="8.71" ry="6.61" fill-opacity="0.84"/><ellipse cx="473.18" cy="113.9" rx="8.51" ry="6.47" fill-opacity="0.73"/><ellipse cx="493.49" cy="113.07" rx="8.55" ry="6.5" fill-opacity="0.75"/><ellipse cx="520.07" cy="112.14" rx="8.62" ry="6.54" fill-opacity="0.79"/><ellipse cx="543.37" cy="112.13" rx="8.72" ry="6.61" fill-opacity="0.84"/><ellipse cx="564.64" cy="112.11" rx="8.76" ry="6.64" fill-opacity="0.87"/><ellipse cx="589.95" cy="112.96" rx="9" ry="6.8" fill-opacity="1.00"/><ellipse cx="612.83" cy="113.91" rx="8.76" ry="6.64" fill-opacity="0.87"/><ellipse cx="637.3" cy="113.39" rx="8.68" ry="6.58" fill-opacity="0.82"/><ellipse cx="659.24" cy="113.41" rx="8.4" ry="6.4" fill-opacity="0.66"/><ellipse cx="682.41" cy="111.6" rx="8.25" ry="6.3" fill-opacity="0.58"/><ellipse cx="706.79" cy="111.91" rx="8.23" ry="6.29" fill-opacity="0.57"/><ellipse cx="728.84" cy="111.42" rx="8.67" ry="6.58" fill-opacity="0.82"/><ellipse cx="753.04" cy="111.83" rx="8.58" ry="6.52" fill-opacity="0.77"/><ellipse cx="146.43" cy="132.75" rx="7.25" ry="6.3" fill-opacity="0.58"/><ellipse cx="170.99" cy="131.68" rx="7.1" ry="6.2" fill-opacity="0.50"/><ellipse cx="193.2" cy="132.55" rx="7.12" ry="6.21" fill-opacity="0.51"/><ellipse cx="217.72" cy="131.77" rx="6.81" ry="6.01" fill-opacity="0.34"/><ellipse cx="239.36" cy="132.64" rx="7.06" ry="6.17" fill-opacity="0.48"/><ellipse cx="264.02" cy="132.49" rx="6.7" ry="5.94" fill-opacity="0.28"/><ellipse cx="287.77" cy="133.2" rx="6.57" ry="5.85" fill-opacity="0.21"/><ellipse cx="308.81" cy="132.69" rx="6.84" ry="6.02" fill-opacity="0.35"/><ellipse cx="331.53" cy="133.42" rx="7.14" ry="6.23" fill-opacity="0.52"/><ellipse cx="357.52" cy="132.2" rx="7.11" ry="6.21" fill-opacity="0.51"/><ellipse cx="380.25" cy="132.22" rx="6.88" ry="6.05" fill-opacity="0.38"/><ellipse cx="405" cy="133.31" rx="7.32" ry="6.35" fill-opacity="0.62"/><ellipse cx="427.69" cy="133.43" rx="7.05" ry="6.17" fill-opacity="0.47"/><ellipse cx="448.69" cy="133.03" rx="6.99" ry="6.12" fill-opacity="0.44"/><ellipse cx="474.31" cy="133.8" rx="6.88" ry="6.05" fill-opacity="0.38"/><ellipse cx="496.1" cy="131.41" rx="6.74" ry="5.96" fill-opacity="0.30"/><ellipse cx="518.71" cy="133.17" rx="7.25" ry="6.3" fill-opacity="0.58"/><ellipse cx="544.53" cy="134.1" rx="7.1" ry="6.2" fill-opacity="0.50"/><ellipse cx="566.26" cy="133.53" rx="6.91" ry="6.07" fill-opacity="0.39"/><ellipse cx="588.57" cy="132.36" rx="6.83" ry="6.02" fill-opacity="0.35"/><ellipse cx="612.22" cy="133.64" rx="7.13" ry="6.22" fill-opacity="0.52"/><ellipse cx="636.52" cy="131.39" rx="7.4" ry="6.4" fill-opacity="0.67"/><ellipse cx="659.03" cy="132.71" rx="7.4" ry="6.4" fill-opacity="0.66"/><ellipse cx="681.25" cy="132.18" rx="6.85" ry="6.03" fill-opacity="0.36"/><ellipse cx="705.32" cy="131.84" rx="7.27" ry="6.31" fill-opacity="0.59"/><ellipse cx="728.42" cy="133.21" rx="7.24" ry="6.3" fill-opacity="0.58"/><ellipse cx="752.75" cy="133.72" rx="6.95" ry="6.1" fill-opacity="0.42"/><ellipse cx="147.58" cy="152.97" rx="8.66" ry="6.58" fill-opacity="0.81"/><ellipse cx="169.39" cy="153.39" rx="8.9" ry="6.73" fill-opacity="0.94"/><ellipse cx="192.83" cy="152.28" rx="8.58" ry="6.52" fill-opacity="0.77"/><ellipse cx="217.81" cy="154.03" rx="8.82" ry="6.68" fill-opacity="0.90"/><ellipse cx="240.12" cy="152.03" rx="8.49" ry="6.46" fill-opacity="0.72"/><ellipse cx="262.76" cy="153.02" rx="8.21" ry="6.28" fill-opacity="0.56"/><ellipse cx="287.07" cy="152.53" rx="8.19" ry="6.26" fill-opacity="0.55"/><ellipse cx="310.94" cy="152.61" rx="8.26" ry="6.31" fill-opacity="0.59"/><ellipse cx="331.01" cy="152.94" rx="8.11" ry="6.21" fill-opacity="0.51"/><ellipse cx="356.6" cy="153.11" rx="8.14" ry="6.23" fill-opacity="0.52"/><ellipse cx="379.95" cy="153.16" rx="8.6" ry="6.54" fill-opacity="0.78"/><ellipse cx="404.33" cy="151.76" rx="8.53" ry="6.48" fill-opacity="0.74"/><ellipse cx="425.84" cy="153.08" rx="8.46" ry="6.44" fill-opacity="0.70"/><ellipse cx="450.22" cy="153.37" rx="8.83" ry="6.68" fill-opacity="0.90"/><ellipse cx="474.22" cy="153.94" rx="8.56" ry="6.51" fill-opacity="0.76"/><ellipse cx="496.47" cy="152.71" rx="8.57" ry="6.51" fill-opacity="0.76"/><ellipse cx="519.42" cy="152.87" rx="8.38" ry="6.38" fill-opacity="0.65"/><ellipse cx="542.79" cy="152.91" rx="8.84" ry="6.69" fill-opacity="0.91"/><ellipse cx="566.64" cy="152.88" rx="8.2" ry="6.27" fill-opacity="0.56"/><ellipse cx="590.59" cy="151.66" rx="8.55" ry="6.5" fill-opacity="0.75"/><ellipse cx="612.58" cy="152.16" rx="8.34" ry="6.36" fill-opacity="0.63"/><ellipse cx="634.15" cy="152.25" rx="8.14" ry="6.23" fill-opacity="0.52"/><ellipse cx="659.93" cy="153.62" rx="8.49" ry="6.46" fill-opacity="0.71"/><ellipse cx="683.59" cy="152.89" rx="7.88" ry="6.05" fill-opacity="0.38"/><ellipse cx="706.15" cy="152.61" rx="8.33" ry="6.35" fill-opacity="0.63"/><ellipse cx="728.31" cy="153.06" rx="8.62" ry="6.55" fill-opacity="0.79"/><ellipse cx="753.64" cy="153.28" rx="8.69" ry="6.59" fill-opacity="0.83"/><ellipse cx="145.83" cy="173.92" rx="7.23" ry="6.29" fill-opacity="0.57"/><ellipse cx="170.38" cy="172.05" rx="6.99" ry="6.12" fill-opacity="0.44"/><ellipse cx="193.91" cy="173.5" rx="7.13" ry="6.22" fill-opacity="0.52"/><ellipse cx="215.66" cy="173.84" rx="7.12" ry="6.21" fill-opacity="0.51"/><ellipse cx="239.57" cy="172.54" rx="6.97" ry="6.11" fill-opacity="0.43"/><ellipse cx="263.04" cy="173.04" rx="6.55" ry="5.84" fill-opacity="0.20"/><ellipse cx="288.88" cy="174.65" rx="6.89" ry="6.06" fill-opacity="0.38"/><ellipse cx="310.31" cy="173.46" rx="6.89" ry="6.06" fill-opacity="0.38"/><ellipse cx="332.65" cy="172.7" rx="7.08" ry="6.18" fill-opacity="0.49"/><ellipse cx="356.4" cy="173.7" rx="7.73" ry="6.62" fill-opacity="0.85"/><ellipse cx="379.18" cy="173.64" rx="7.43" ry="6.42" fill-opacity="0.68"/><ellipse cx="402.7" cy="173.17" rx="6.99" ry="6.13" fill-opacity="0.44"/><ellipse cx="425.82" cy="173.6" rx="7.2" ry="6.27" fill-opacity="0.55"/><ellipse cx="449.85" cy="173.71" rx="6.92" ry="6.08" fill-opacity="0.40"/><ellipse cx="473.26" cy="173.55" rx="6.76" ry="5.97" fill-opacity="0.31"/><ellipse cx="496.07" cy="172.41" rx="7.05" ry="6.17" fill-opacity="0.47"/><ellipse cx="519.11" cy="172.28" rx="6.95" ry="6.1" fill-opacity="0.42"/><ellipse cx="543.24" cy="173.58" rx="6.94" ry="6.09" fill-opacity="0.41"/><ellipse cx="565.02" cy="172.34" rx="6.77" ry="5.98" fill-opacity="0.31"/><ellipse cx="587.13" cy="173.58" rx="6.8" ry="6" fill-opacity="0.33"/><ellipse cx="614.09" cy="174.34" rx="6.93" ry="6.09" fill-opacity="0.41"/><ellipse cx="637.26" cy="173.45" rx="7.06" ry="6.17" fill-opacity="0.48"/><ellipse cx="660.21" cy="171.2" rx="6.94" ry="6.09" fill-opacity="0.41"/><ellipse cx="682.72" cy="173.61" rx="6.94" ry="6.09" fill-opacity="0.41"/><ellipse cx="705.33" cy="172.88" rx="6.91" ry="6.07" fill-opacity="0.39"/><ellipse cx="729.9" cy="174.5" rx="7.19" ry="6.26" fill-opacity="0.55"/><ellipse cx="751.16" cy="174.84" rx="7.31" ry="6.34" fill-opacity="0.61"/><ellipse cx="146.72" cy="191.15" rx="8.31" ry="6.34" fill-opacity="0.61"/><ellipse cx="168.53" cy="193.58" rx="8.83" ry="6.69" fill-opacity="0.91"/><ellipse cx="192.8" cy="193.69" rx="8.91" ry="6.74" fill-opacity="0.95"/><ellipse cx="218.44" cy="192.67" rx="8.19" ry="6.26" fill-opacity="0.55"/><ellipse cx="239.18" cy="193" rx="8.25" ry="6.3" fill-opacity="0.59"/><ellipse cx="265.54" cy="193.93" rx="8.12" ry="6.21" fill-opacity="0.51"/><ellipse cx="284.92" cy="194.1" rx="8.04" ry="6.16" fill-opacity="0.47"/><ellipse cx="310.72" cy="195.14" rx="7.87" ry="6.05" fill-opacity="0.37"/><ellipse cx="333.44" cy="193.79" rx="8.16" ry="6.24" fill-opacity="0.54"/><ellipse cx="355.63" cy="193.56" rx="8.14" ry="6.23" fill-opacity="0.52"/><ellipse cx="380.46" cy="192.01" rx="8.98" ry="6.79" fill-opacity="0.99"/><ellipse cx="401.9" cy="194.28" rx="8.54" ry="6.49" fill-opacity="0.74"/><ellipse cx="427.56" cy="192.38" rx="8.42" ry="6.42" fill-opacity="0.68"/><ellipse cx="450.09" cy="193.75" rx="8.37" ry="6.38" fill-opacity="0.65"/><ellipse cx="473.9" cy="192.55" rx="8.62" ry="6.55" fill-opacity="0.79"/><ellipse cx="494.81" cy="194.02" rx="8.06" ry="6.18" fill-opacity="0.48"/><ellipse cx="520.59" cy="192.94" rx="8.18" ry="6.26" fill-opacity="0.55"/><ellipse cx="541.7" cy="192.66" rx="8.42" ry="6.41" fill-opacity="0.68"/><ellipse cx="565.08" cy="194.15" rx="8.78" ry="6.66" fill-opacity="0.88"/><ellipse cx="589.3" cy="192.87" rx="8.65" ry="6.57" fill-opacity="0.81"/><ellipse cx="613.05" cy="192.73" rx="8.05" ry="6.17" fill-opacity="0.47"/><ellipse cx="636.87" cy="193" rx="7.94" ry="6.09" fill-opacity="0.41"/><ellipse cx="657.91" cy="193.35" rx="7.9" ry="6.07" fill-opacity="0.39"/><ellipse cx="682.49" cy="195.14" rx="7.88" ry="6.05" fill-opacity="0.38"/><ellipse cx="707.3" cy="193.66" rx="8.15" ry="6.23" fill-opacity="0.53"/><ellipse cx="729.15" cy="192.23" rx="8.3" ry="6.34" fill-opacity="0.61"/><ellipse cx="752.3" cy="194.31" rx="8.43" ry="6.42" fill-opacity="0.68"/><ellipse cx="145.43" cy="213.44" rx="7.04" ry="6.16" fill-opacity="0.46"/><ellipse cx="170.8" cy="213.68" rx="6.93" ry="6.09" fill-opacity="0.41"/><ellipse cx="194.46" cy="214.65" rx="6.86" ry="6.04" fill-opacity="0.37"/><ellipse cx="215.82" cy="213.03" rx="7.12" ry="6.21" fill-opacity="0.51"/><ellipse cx="240.09" cy="213.92" rx="7.09" ry="6.19" fill-opacity="0.49"/><ellipse cx="265.94" cy="213.06" rx="6.51" ry="5.8" fill-opacity="0.17"/><ellipse cx="284.94" cy="212.9" rx="6.79" ry="5.99" fill-opacity="0.33"/><ellipse cx="309.35" cy="213" rx="6.78" ry="5.99" fill-opacity="0.32"/><ellipse cx="333.9" cy="213.05" rx="6.65" ry="5.9" fill-opacity="0.25"/><ellipse cx="356.26" cy="212.38" rx="7.18" ry="6.25" fill-opacity="0.55"/><ellipse cx="378.25" cy="213.57" rx="7.09" ry="6.19" fill-opacity="0.49"/><ellipse cx="401.35" cy="213.72" rx="7.1" ry="6.2" fill-opacity="0.50"/><ellipse cx="425.81" cy="213.6" rx="6.83" ry="6.02" fill-opacity="0.35"/><ellipse cx="449.08" cy="213.79" rx="6.98" ry="6.12" fill-opacity="0.43"/><ellipse cx="471.62" cy="214.84" rx="6.72" ry="5.95" fill-opacity="0.29"/><ellipse cx="495.51" cy="213.64" rx="7.25" ry="6.3" fill-opacity="0.59"/><ellipse cx="516.61" cy="212.81" rx="7.02" ry="6.15" fill-opacity="0.46"/><ellipse cx="540.35" cy="212.6" rx="6.97" ry="6.12" fill-opacity="0.43"/><ellipse cx="565.74" cy="214.16" rx="7.16" ry="6.24" fill-opacity="0.53"/><ellipse cx="589.31" cy="213.58" rx="6.97" ry="6.11" fill-opacity="0.43"/><ellipse cx="611.86" cy="213.12" rx="6.77" ry="5.98" fill-opacity="0.32"/><ellipse cx="635.97" cy="213.28" rx="6.74" ry="5.96" fill-opacity="0.30"/><ellipse cx="659.13" cy="214.33" rx="6.64" ry="5.89" fill-opacity="0.24"/><ellipse cx="683.72" cy="212.7" rx="6.77" ry="5.98" fill-opacity="0.32"/><ellipse cx="703.71" cy="214.43" rx="6.5" ry="5.8" fill-opacity="0.17"/><ellipse cx="729.21" cy="212.25" rx="6.82" ry="6.02" fill-opacity="0.35"/><ellipse cx="752.12" cy="213.72" rx="7.05" ry="6.17" fill-opacity="0.47"/><ellipse cx="149.59" cy="232.58" rx="8.99" ry="6.79" fill-opacity="0.99"/><ellipse cx="170.2" cy="234.22" rx="8.94" ry="6.76" fill-opacity="0.97"/><ellipse cx="193.48" cy="233.94" rx="8.39" ry="6.39" fill-opacity="0.66"/><ellipse cx="215.58" cy="233.59" rx="8.84" ry="6.69" fill-opacity="0.91"/><ellipse cx="240.41" cy="233.37" rx="8.61" ry="6.54" fill-opacity="0.78"/><ellipse cx="265.74" cy="233.35" rx="8.19" ry="6.26" fill-opacity="0.55"/><ellipse cx="286.8" cy="234.46" rx="8.27" ry="6.32" fill-opacity="0.60"/><ellipse cx="308.15" cy="234.55" rx="8.01" ry="6.14" fill-opacity="0.45"/><ellipse cx="333.21" cy="232.48" rx="8.24" ry="6.29" fill-opacity="0.58"/><ellipse cx="354.76" cy="233.83" rx="8.13" ry="6.22" fill-opacity="0.52"/><ellipse cx="380.33" cy="232.09" rx="8.56" ry="6.51" fill-opacity="0.76"/><ellipse cx="402.75" cy="233.3" rx="8.21" ry="6.28" fill-opacity="0.56"/><ellipse cx="425.71" cy="233.34" rx="7.91" ry="6.08" fill-opacity="0.40"/><ellipse cx="446.99" cy="233.79" rx="8.52" ry="6.48" fill-opacity="0.73"/><ellipse cx="474.22" cy="232.21" rx="8.18" ry="6.25" fill-opacity="0.54"/><ellipse cx="497.85" cy="232.62" rx="7.86" ry="6.04" fill-opacity="0.37"/><ellipse cx="520.09" cy="233.06" rx="8.8" ry="6.67" fill-opacity="0.89"/><ellipse cx="542.39" cy="234.07" rx="8.37" ry="6.38" fill-opacity="0.65"/><ellipse cx="565" cy="234.36" rx="8.59" ry="6.53" fill-opacity="0.77"/><ellipse cx="589.11" cy="235.53" rx="8.47" ry="6.45" fill-opacity="0.71"/><ellipse cx="612.84" cy="234.53" rx="8.35" ry="6.37" fill-opacity="0.64"/><ellipse cx="637.07" cy="232.85" rx="8.14" ry="6.22" fill-opacity="0.52"/><ellipse cx="660.62" cy="234.73" rx="8.26" ry="6.31" fill-opacity="0.59"/><ellipse cx="684.13" cy="232.33" rx="7.82" ry="6.01" fill-opacity="0.34"/><ellipse cx="706.78" cy="233.8" rx="8.34" ry="6.36" fill-opacity="0.63"/><ellipse cx="729.8" cy="232.84" rx="8.09" ry="6.19" fill-opacity="0.49"/><ellipse cx="752.25" cy="234.17" rx="8.34" ry="6.36" fill-opacity="0.63"/><ellipse cx="147.17" cy="254.21" rx="7.51" ry="6.47" fill-opacity="0.73"/><ellipse cx="169.36" cy="252.87" rx="7.61" ry="6.54" fill-opacity="0.78"/><ellipse cx="193.37" cy="255.81" rx="7.62" ry="6.55" fill-opacity="0.79"/><ellipse cx="218.1" cy="252.39" rx="7.11" ry="6.21" fill-opacity="0.51"/><ellipse cx="239.28" cy="253.93" rx="7.01" ry="6.14" fill-opacity="0.45"/><ellipse cx="262.05" cy="254.01" rx="6.75" ry="5.97" fill-opacity="0.31"/><ellipse cx="286.45" cy="254.31" rx="6.91" ry="6.07" fill-opacity="0.39"/><ellipse cx="310.29" cy="253.91" rx="6.7" ry="5.93" fill-opacity="0.28"/><ellipse cx="331.03" cy="252.56" rx="6.75" ry="5.97" fill-opacity="0.30"/><ellipse cx="356.44" cy="253.95" rx="6.96" ry="6.11" fill-opacity="0.42"/><ellipse cx="381.13" cy="253.77" rx="6.79" ry="6" fill-opacity="0.33"/><ellipse cx="402.34" cy="254.91" rx="6.78" ry="5.98" fill-opacity="0.32"/><ellipse cx="424.81" cy="254.94" rx="6.95" ry="6.1" fill-opacity="0.42"/><ellipse cx="450.09" cy="254.04" rx="6.75" ry="5.97" fill-opacity="0.31"/><ellipse cx="472.4" cy="252.94" rx="7.01" ry="6.14" fill-opacity="0.45"/><ellipse cx="495.12" cy="251.84" rx="6.9" ry="6.07" fill-opacity="0.39"/><ellipse cx="520.87" cy="254.46" rx="6.93" ry="6.09" fill-opacity="0.41"/><ellipse cx="542.88" cy="253.88" rx="6.7" ry="5.94" fill-opacity="0.28"/><ellipse cx="566.42" cy="253.03" rx="6.79" ry="6" fill-opacity="0.33"/><ellipse cx="588.24" cy="252.84" rx="7.12" ry="6.22" fill-opacity="0.51"/><ellipse cx="611.68" cy="253.94" rx="7.01" ry="6.14" fill-opacity="0.45"/><ellipse cx="635.29" cy="255.14" rx="7.17" ry="6.25" fill-opacity="0.54"/><ellipse cx="657.92" cy="254.22" rx="7" ry="6.14" fill-opacity="0.45"/><ellipse cx="683.16" cy="252.73" rx="6.81" ry="6.01" fill-opacity="0.34"/><ellipse cx="704.51" cy="253.26" rx="6.83" ry="6.02" fill-opacity="0.35"/><ellipse cx="731.87" cy="254.6" rx="6.76" ry="5.97" fill-opacity="0.31"/><ellipse cx="751.41" cy="255.35" rx="7.08" ry="6.19" fill-opacity="0.49"/><ellipse cx="146.95" cy="275.24" rx="9" ry="6.8" fill-opacity="1.00"/><ellipse cx="167.46" cy="274.69" rx="8.85" ry="6.7" fill-opacity="0.92"/><ellipse cx="192.81" cy="272.76" rx="8.66" ry="6.57" fill-opacity="0.81"/><ellipse cx="216.79" cy="272.75" rx="8.73" ry="6.62" fill-opacity="0.85"/><ellipse cx="239.84" cy="274.14" rx="8.25" ry="6.3" fill-opacity="0.59"/><ellipse cx="263.74" cy="274.21" rx="8.23" ry="6.29" fill-opacity="0.57"/><ellipse cx="285.28" cy="273.62" rx="7.96" ry="6.11" fill-opacity="0.42"/><ellipse cx="310.64" cy="275.16" rx="7.94" ry="6.09" fill-opacity="0.41"/><ellipse cx="332.88" cy="273.56" rx="8.27" ry="6.31" fill-opacity="0.59"/><ellipse cx="357.46" cy="275.26" rx="8.11" ry="6.21" fill-opacity="0.51"/><ellipse cx="379.95" cy="274.4" rx="8.42" ry="6.41" fill-opacity="0.68"/><ellipse cx="402" cy="272.69" rx="8.43" ry="6.42" fill-opacity="0.69"/><ellipse cx="426.22" cy="274.77" rx="8.21" ry="6.28" fill-opacity="0.56"/><ellipse cx="448.78" cy="273.75" rx="7.94" ry="6.1" fill-opacity="0.41"/><ellipse cx="471.69" cy="273.2" rx="7.96" ry="6.1" fill-opacity="0.42"/><ellipse cx="496.49" cy="273.26" rx="8.18" ry="6.25" fill-opacity="0.54"/><ellipse cx="518.54" cy="273.25" rx="8.45" ry="6.44" fill-opacity="0.70"/><ellipse cx="541.19" cy="274.1" rx="8.15" ry="6.24" fill-opacity="0.53"/><ellipse cx="564.07" cy="274.58" rx="8.45" ry="6.44" fill-opacity="0.70"/><ellipse cx="588.55" cy="272.7" rx="8.4" ry="6.4" fill-opacity="0.67"/><ellipse cx="611.48" cy="274.17" rx="8.39" ry="6.39" fill-opacity="0.66"/><ellipse cx="635.38" cy="273.45" rx="8.14" ry="6.23" fill-opacity="0.52"/><ellipse cx="657.84" cy="273.38" rx="8.55" ry="6.5" fill-opacity="0.75"/><ellipse cx="683.91" cy="273.11" rx="7.78" ry="5.99" fill-opacity="0.32"/><ellipse cx="707.13" cy="275.64" rx="8.04" ry="6.16" fill-opacity="0.47"/><ellipse cx="729.81" cy="272.66" rx="8.37" ry="6.38" fill-opacity="0.65"/><ellipse cx="752.49" cy="275.22" rx="8.04" ry="6.16" fill-opacity="0.47"/><ellipse cx="146.51" cy="292.72" rx="7.03" ry="6.15" fill-opacity="0.46"/><ellipse cx="170.39" cy="294.32" rx="7.11" ry="6.21" fill-opacity="0.51"/><ellipse cx="192.07" cy="293.34" rx="7.13" ry="6.22" fill-opacity="0.52"/><ellipse cx="215.82" cy="293.59" rx="7.14" ry="6.22" fill-opacity="0.52"/><ellipse cx="240.2" cy="293.69" rx="6.75" ry="5.96" fill-opacity="0.30"/><ellipse cx="264.26" cy="292.58" rx="6.64" ry="5.89" fill-opacity="0.24"/><ellipse cx="287.5" cy="293.18" rx="6.69" ry="5.92" fill-opacity="0.27"/><ellipse cx="308.35" cy="293.08" rx="6.79" ry="5.99" fill-opacity="0.33"/><ellipse cx="331.1" cy="294.19" rx="6.84" ry="6.03" fill-opacity="0.36"/><ellipse cx="356.72" cy="294.33" rx="6.76" ry="5.98" fill-opacity="0.31"/><ellipse cx="378.44" cy="294.16" rx="6.8" ry="6" fill-opacity="0.33"/><ellipse cx="402.99" cy="294.68" rx="6.92" ry="6.08" fill-opacity="0.40"/><ellipse cx="425.16" cy="294.66" rx="6.68" ry="5.92" fill-opacity="0.27"/><ellipse cx="450.73" cy="293.8" rx="6.77" ry="5.98" fill-opacity="0.32"/><ellipse cx="473.03" cy="295.24" rx="6.83" ry="6.02" fill-opacity="0.35"/><ellipse cx="495.53" cy="294.2" rx="6.71" ry="5.94" fill-opacity="0.28"/><ellipse cx="518.8" cy="293.45" rx="6.95" ry="6.1" fill-opacity="0.42"/><ellipse cx="543.04" cy="295.34" rx="7.05" ry="6.17" fill-opacity="0.47"/><ellipse cx="567.28" cy="293.45" rx="7.02" ry="6.14" fill-opacity="0.45"/><ellipse cx="590.17" cy="293.01" rx="6.91" ry="6.07" fill-opacity="0.39"/><ellipse cx="612.3" cy="295.62" rx="6.82" ry="6.01" fill-opacity="0.35"/><ellipse cx="636.94" cy="293.74" rx="7.18" ry="6.25" fill-opacity="0.54"/><ellipse cx="658.99" cy="293.74" rx="6.87" ry="6.05" fill-opacity="0.37"/><ellipse cx="682.43" cy="293.5" rx="6.81" ry="6.01" fill-opacity="0.34"/><ellipse cx="705.65" cy="294.2" rx="6.9" ry="6.07" fill-opacity="0.39"/><ellipse cx="727.24" cy="293.52" rx="6.64" ry="5.9" fill-opacity="0.25"/><ellipse cx="751.85" cy="293.36" rx="6.77" ry="5.98" fill-opacity="0.32"/><ellipse cx="146.3" cy="313.53" rx="8.68" ry="6.59" fill-opacity="0.82"/><ellipse cx="167.75" cy="314.87" rx="8.68" ry="6.59" fill-opacity="0.82"/><ellipse cx="194.11" cy="314.39" rx="8.48" ry="6.46" fill-opacity="0.71"/><ellipse cx="215.59" cy="314.3" rx="8.07" ry="6.18" fill-opacity="0.48"/><ellipse cx="240.23" cy="314.93" rx="8.43" ry="6.42" fill-opacity="0.68"/><ellipse cx="264.01" cy="314.86" rx="8.31" ry="6.34" fill-opacity="0.62"/><ellipse cx="286.59" cy="312.67" rx="8.01" ry="6.14" fill-opacity="0.45"/><ellipse cx="309.85" cy="314.65" rx="8.35" ry="6.36" fill-opacity="0.64"/><ellipse cx="334.92" cy="312.72" rx="8.33" ry="6.35" fill-opacity="0.63"/><ellipse cx="357.43" cy="314.31" rx="8.13" ry="6.22" fill-opacity="0.52"/><ellipse cx="379.31" cy="315.71" rx="8.35" ry="6.37" fill-opacity="0.64"/><ellipse cx="404.24" cy="314.77" rx="7.95" ry="6.1" fill-opacity="0.42"/><ellipse cx="425.67" cy="315.73" rx="8.37" ry="6.38" fill-opacity="0.65"/><ellipse cx="449.34" cy="315.38" rx="8.35" ry="6.36" fill-opacity="0.64"/><ellipse cx="473.85" cy="314.47" rx="8.42" ry="6.42" fill-opacity="0.68"/><ellipse cx="496.81" cy="314.65" rx="8.32" ry="6.34" fill-opacity="0.62"/><ellipse cx="519.75" cy="314.43" rx="7.95" ry="6.1" fill-opacity="0.42"/><ellipse cx="544.1" cy="314.14" rx="8.17" ry="6.25" fill-opacity="0.54"/><ellipse cx="563.3" cy="314.55" rx="8.59" ry="6.53" fill-opacity="0.77"/><ellipse cx="590.38" cy="313.78" rx="8.93" ry="6.75" fill-opacity="0.96"/><ellipse cx="612.08" cy="314.04" rx="8.71" ry="6.6" fill-opacity="0.84"/><ellipse cx="636.7" cy="314.19" rx="8.06" ry="6.17" fill-opacity="0.48"/><ellipse cx="658.25" cy="314.49" rx="7.98" ry="6.12" fill-opacity="0.43"/><ellipse cx="681.49" cy="313.94" rx="8.08" ry="6.19" fill-opacity="0.49"/><ellipse cx="703" cy="314.56" rx="8.27" ry="6.31" fill-opacity="0.59"/><ellipse cx="729.3" cy="315.41" rx="8.04" ry="6.16" fill-opacity="0.47"/><ellipse cx="752.72" cy="314.62" rx="7.91" ry="6.07" fill-opacity="0.39"/><ellipse cx="146.5" cy="334.83" rx="6.88" ry="6.05" fill-opacity="0.38"/><ellipse cx="170.68" cy="334.19" rx="6.95" ry="6.1" fill-opacity="0.42"/><ellipse cx="193.88" cy="334.25" rx="6.86" ry="6.04" fill-opacity="0.36"/><ellipse cx="217.73" cy="333.81" rx="6.84" ry="6.03" fill-opacity="0.36"/><ellipse cx="240.35" cy="335.37" rx="6.75" ry="5.97" fill-opacity="0.31"/><ellipse cx="263.21" cy="334.47" rx="7" ry="6.13" fill-opacity="0.45"/><ellipse cx="285.4" cy="333.72" rx="6.47" ry="5.78" fill-opacity="0.15"/><ellipse cx="310.83" cy="335.15" rx="6.72" ry="5.95" fill-opacity="0.29"/><ellipse cx="334.07" cy="334.1" rx="6.61" ry="5.88" fill-opacity="0.23"/><ellipse cx="356.14" cy="335.7" rx="7.12" ry="6.22" fill-opacity="0.51"/><ellipse cx="378.85" cy="334.7" rx="7.03" ry="6.15" fill-opacity="0.46"/><ellipse cx="401.77" cy="335.8" rx="6.97" ry="6.12" fill-opacity="0.43"/><ellipse cx="425.13" cy="333.88" rx="6.84" ry="6.03" fill-opacity="0.36"/><ellipse cx="450.54" cy="334.15" rx="6.96" ry="6.1" fill-opacity="0.42"/><ellipse cx="472.59" cy="334.27" rx="7.07" ry="6.18" fill-opacity="0.48"/><ellipse cx="497.14" cy="333.24" rx="6.63" ry="5.89" fill-opacity="0.24"/><ellipse cx="520.43" cy="334.17" rx="6.9" ry="6.07" fill-opacity="0.39"/><ellipse cx="541.54" cy="333.32" rx="6.94" ry="6.09" fill-opacity="0.41"/><ellipse cx="565.75" cy="334.15" rx="7.06" ry="6.17" fill-opacity="0.48"/><ellipse cx="587.62" cy="333.99" rx="6.7" ry="5.94" fill-opacity="0.28"/><ellipse cx="610.23" cy="333.78" rx="7.09" ry="6.19" fill-opacity="0.49"/><ellipse cx="635.14" cy="333.72" rx="6.88" ry="6.05" fill-opacity="0.38"/><ellipse cx="660.4" cy="333.37" rx="6.78" ry="5.99" fill-opacity="0.32"/><ellipse cx="683.43" cy="335.54" rx="6.73" ry="5.96" fill-opacity="0.30"/><ellipse cx="706.4" cy="334.43" rx="6.73" ry="5.95" fill-opacity="0.29"/><ellipse cx="727.95" cy="335.25" rx="6.62" ry="5.88" fill-opacity="0.23"/><ellipse cx="751.93" cy="333.98" rx="6.73" ry="5.95" fill-opacity="0.29"/><ellipse cx="146.22" cy="354.58" rx="8.27" ry="6.32" fill-opacity="0.60"/><ellipse cx="171.17" cy="354.48" rx="8.17" ry="6.24" fill-opacity="0.54"/><ellipse cx="193.28" cy="354.96" rx="8.09" ry="6.2" fill-opacity="0.50"/><ellipse cx="216.35" cy="353.95" rx="8.2" ry="6.27" fill-opacity="0.56"/><ellipse cx="239.68" cy="354.9" rx="8.36" ry="6.37" fill-opacity="0.64"/><ellipse cx="263.78" cy="355.64" rx="8.21" ry="6.27" fill-opacity="0.56"/><ellipse cx="286.49" cy="354.33" rx="8.46" ry="6.44" fill-opacity="0.70"/><ellipse cx="310.81" cy="354.02" rx="8.19" ry="6.26" fill-opacity="0.55"/><ellipse cx="332.6" cy="353.3" rx="8.27" ry="6.31" fill-opacity="0.60"/><ellipse cx="356.53" cy="354.75" rx="7.89" ry="6.06" fill-opacity="0.38"/><ellipse cx="378.78" cy="354.15" rx="8.07" ry="6.18" fill-opacity="0.49"/><ellipse cx="404.17" cy="354.32" rx="8.58" ry="6.52" fill-opacity="0.77"/><ellipse cx="427.63" cy="355.99" rx="8.24" ry="6.29" fill-opacity="0.58"/><ellipse cx="449.62" cy="353.81" rx="8.38" ry="6.39" fill-opacity="0.66"/><ellipse cx="474.07" cy="355.58" rx="8.47" ry="6.45" fill-opacity="0.71"/><ellipse cx="497.75" cy="355.01" rx="8.23" ry="6.28" fill-opacity="0.57"/><ellipse cx="517.62" cy="353.68" rx="8.1" ry="6.2" fill-opacity="0.50"/><ellipse cx="543.59" cy="354.99" rx="8.52" ry="6.48" fill-opacity="0.73"/><ellipse cx="566.27" cy="355.38" rx="8.97" ry="6.78" fill-opacity="0.99"/><ellipse cx="588.89" cy="356.07" rx="8.84" ry="6.69" fill-opacity="0.91"/><ellipse cx="613.6" cy="353.96" rx="7.84" ry="6.02" fill-opacity="0.35"/><ellipse cx="636.49" cy="353.39" rx="8.22" ry="6.28" fill-opacity="0.56"/><ellipse cx="659.45" cy="354.92" rx="8.11" ry="6.2" fill-opacity="0.50"/><ellipse cx="682.9" cy="353.99" rx="8.53" ry="6.49" fill-opacity="0.74"/><ellipse cx="707.01" cy="355.55" rx="8.02" ry="6.14" fill-opacity="0.45"/><ellipse cx="729.73" cy="354.81" rx="8.27" ry="6.31" fill-opacity="0.59"/><ellipse cx="751.83" cy="355.13" rx="8.26" ry="6.31" fill-opacity="0.59"/><ellipse cx="147.09" cy="373.95" rx="6.95" ry="6.1" fill-opacity="0.41"/><ellipse cx="168.24" cy="376.69" rx="6.9" ry="6.07" fill-opacity="0.39"/><ellipse cx="193.11" cy="372.67" rx="6.79" ry="5.99" fill-opacity="0.33"/><ellipse cx="217.12" cy="374.26" rx="6.8" ry="6" fill-opacity="0.33"/><ellipse cx="240.09" cy="376.29" rx="7.01" ry="6.14" fill-opacity="0.45"/><ellipse cx="264.37" cy="374.74" rx="6.98" ry="6.12" fill-opacity="0.43"/><ellipse cx="285.2" cy="375.53" rx="6.83" ry="6.02" fill-opacity="0.35"/><ellipse cx="307.44" cy="375.99" rx="6.83" ry="6.02" fill-opacity="0.35"/><ellipse cx="333.93" cy="374.48" rx="6.82" ry="6.01" fill-opacity="0.34"/><ellipse cx="356.94" cy="375.2" rx="6.85" ry="6.04" fill-opacity="0.36"/><ellipse cx="381.34" cy="374.28" rx="6.85" ry="6.03" fill-opacity="0.36"/><ellipse cx="403.98" cy="374.1" rx="6.9" ry="6.07" fill-opacity="0.39"/><ellipse cx="424.19" cy="376.3" rx="7.07" ry="6.18" fill-opacity="0.48"/><ellipse cx="449.39" cy="374.96" rx="6.93" ry="6.08" fill-opacity="0.40"/><ellipse cx="473.32" cy="375.19" rx="7.11" ry="6.2" fill-opacity="0.50"/><ellipse cx="496.07" cy="374.96" rx="6.93" ry="6.08" fill-opacity="0.40"/><ellipse cx="520.22" cy="374.31" rx="6.85" ry="6.03" fill-opacity="0.36"/><ellipse cx="544.7" cy="375.53" rx="7.05" ry="6.17" fill-opacity="0.47"/><ellipse cx="568.34" cy="374.68" rx="7" ry="6.13" fill-opacity="0.44"/><ellipse cx="589.79" cy="374.07" rx="6.77" ry="5.98" fill-opacity="0.31"/><ellipse cx="611.65" cy="373.55" rx="6.87" ry="6.05" fill-opacity="0.37"/><ellipse cx="636.04" cy="376.03" rx="6.75" ry="5.97" fill-opacity="0.31"/><ellipse cx="658.9" cy="375.49" rx="6.9" ry="6.06" fill-opacity="0.39"/><ellipse cx="683.33" cy="373.38" rx="6.99" ry="6.13" fill-opacity="0.44"/><ellipse cx="706.32" cy="374.53" rx="6.79" ry="5.99" fill-opacity="0.33"/><ellipse cx="730.52" cy="374.28" rx="6.78" ry="5.98" fill-opacity="0.32"/><ellipse cx="753.72" cy="375.91" rx="6.59" ry="5.86" fill-opacity="0.22"/><ellipse cx="148.58" cy="395.45" rx="8.11" ry="6.21" fill-opacity="0.50"/><ellipse cx="170.32" cy="395.42" rx="8.31" ry="6.34" fill-opacity="0.62"/><ellipse cx="193.3" cy="395.51" rx="8.65" ry="6.57" fill-opacity="0.81"/><ellipse cx="214.82" cy="396.85" rx="7.8" ry="6" fill-opacity="0.34"/><ellipse cx="237.57" cy="394.48" rx="8.44" ry="6.43" fill-opacity="0.69"/><ellipse cx="262.53" cy="396.68" rx="8.12" ry="6.21" fill-opacity="0.51"/><ellipse cx="287.47" cy="395.52" rx="8.05" ry="6.17" fill-opacity="0.47"/><ellipse cx="309.98" cy="395.04" rx="8.72" ry="6.61" fill-opacity="0.84"/><ellipse cx="331.33" cy="396.45" rx="8.66" ry="6.57" fill-opacity="0.81"/><ellipse cx="358.31" cy="393.38" rx="8.46" ry="6.44" fill-opacity="0.70"/><ellipse cx="378.51" cy="395.02" rx="8.21" ry="6.27" fill-opacity="0.56"/><ellipse cx="402.43" cy="393.91" rx="8.39" ry="6.4" fill-opacity="0.66"/><ellipse cx="425.53" cy="394.65" rx="8.08" ry="6.19" fill-opacity="0.49"/><ellipse cx="447.74" cy="393.94" rx="8.71" ry="6.61" fill-opacity="0.84"/><ellipse cx="471.98" cy="394.13" rx="8.37" ry="6.38" fill-opacity="0.65"/><ellipse cx="496.96" cy="395.65" rx="8.47" ry="6.44" fill-opacity="0.70"/><ellipse cx="518.49" cy="394.48" rx="8.06" ry="6.18" fill-opacity="0.48"/><ellipse cx="542.06" cy="395" rx="8.32" ry="6.34" fill-opacity="0.62"/><ellipse cx="565.83" cy="395.75" rx="8.28" ry="6.32" fill-opacity="0.60"/><ellipse cx="590.47" cy="395.31" rx="8.41" ry="6.41" fill-opacity="0.67"/><ellipse cx="612.98" cy="394.38" rx="8.28" ry="6.32" fill-opacity="0.60"/><ellipse cx="634.55" cy="394.81" rx="7.93" ry="6.09" fill-opacity="0.41"/><ellipse cx="658.8" cy="394.65" rx="7.99" ry="6.13" fill-opacity="0.44"/><ellipse cx="682.75" cy="394.01" rx="7.98" ry="6.12" fill-opacity="0.44"/><ellipse cx="705.65" cy="394.71" rx="8.31" ry="6.34" fill-opacity="0.62"/><ellipse cx="727.75" cy="394.41" rx="8.26" ry="6.31" fill-opacity="0.59"/><ellipse cx="752.85" cy="394.85" rx="8.17" ry="6.25" fill-opacity="0.54"/><ellipse cx="146.73" cy="414.83" rx="6.76" ry="5.97" fill-opacity="0.31"/><ellipse cx="169.08" cy="413.91" rx="6.84" ry="6.03" fill-opacity="0.36"/><ellipse cx="192.55" cy="415.45" rx="6.75" ry="5.97" fill-opacity="0.31"/><ellipse cx="218.84" cy="415.62" rx="6.82" ry="6.01" fill-opacity="0.34"/><ellipse cx="239.77" cy="413.03" rx="7.29" ry="6.32" fill-opacity="0.60"/><ellipse cx="262.22" cy="415.11" rx="6.98" ry="6.12" fill-opacity="0.43"/><ellipse cx="286.9" cy="414.85" rx="6.62" ry="5.88" fill-opacity="0.23"/><ellipse cx="309.09" cy="415.42" rx="7.11" ry="6.21" fill-opacity="0.51"/><ellipse cx="333.51" cy="416.34" rx="6.81" ry="6.01" fill-opacity="0.34"/><ellipse cx="356.52" cy="414.33" rx="6.92" ry="6.08" fill-opacity="0.40"/><ellipse cx="380.69" cy="414.21" rx="7.01" ry="6.14" fill-opacity="0.45"/><ellipse cx="402.13" cy="414.92" rx="6.93" ry="6.08" fill-opacity="0.40"/><ellipse cx="425.28" cy="415.64" rx="6.9" ry="6.07" fill-opacity="0.39"/><ellipse cx="449.51" cy="415.39" rx="6.84" ry="6.02" fill-opacity="0.35"/><ellipse cx="472.6" cy="415.42" rx="6.88" ry="6.05" fill-opacity="0.38"/><ellipse cx="497.57" cy="415.26" rx="7.09" ry="6.19" fill-opacity="0.49"/><ellipse cx="519.16" cy="415.33" rx="6.88" ry="6.06" fill-opacity="0.38"/><ellipse cx="543.46" cy="415.07" rx="6.88" ry="6.05" fill-opacity="0.38"/><ellipse cx="566.4" cy="415.07" rx="6.79" ry="5.99" fill-opacity="0.33"/><ellipse cx="589.64" cy="415.31" rx="6.95" ry="6.1" fill-opacity="0.42"/><ellipse cx="612.04" cy="414.4" rx="6.61" ry="5.87" fill-opacity="0.23"/><ellipse cx="634.48" cy="414.4" rx="6.58" ry="5.85" fill-opacity="0.21"/><ellipse cx="658.58" cy="414.8" rx="6.76" ry="5.97" fill-opacity="0.31"/><ellipse cx="682.26" cy="414.34" rx="6.75" ry="5.97" fill-opacity="0.31"/><ellipse cx="704.42" cy="414.13" rx="6.72" ry="5.95" fill-opacity="0.29"/><ellipse cx="730.57" cy="414.95" rx="7.07" ry="6.18" fill-opacity="0.48"/><ellipse cx="752.74" cy="416.21" rx="7.07" ry="6.18" fill-opacity="0.48"/><ellipse cx="147.37" cy="434.32" rx="8.17" ry="6.25" fill-opacity="0.54"/><ellipse cx="167.82" cy="435.57" rx="7.86" ry="6.04" fill-opacity="0.36"/><ellipse cx="192.26" cy="435.19" rx="8.18" ry="6.26" fill-opacity="0.55"/><ellipse cx="216.42" cy="435.01" rx="8.27" ry="6.32" fill-opacity="0.60"/><ellipse cx="240.7" cy="435.18" rx="8.62" ry="6.54" fill-opacity="0.79"/><ellipse cx="262.89" cy="436.54" rx="8.64" ry="6.56" fill-opacity="0.80"/><ellipse cx="285.38" cy="434.78" rx="8.1" ry="6.2" fill-opacity="0.50"/><ellipse cx="310.29" cy="434.92" rx="8.15" ry="6.24" fill-opacity="0.53"/><ellipse cx="334.63" cy="434.51" rx="8.27" ry="6.31" fill-opacity="0.59"/><ellipse cx="356.3" cy="436.4" rx="8.21" ry="6.27" fill-opacity="0.56"/><ellipse cx="377.67" cy="435.34" rx="8.27" ry="6.31" fill-opacity="0.59"/><ellipse cx="404.11" cy="435.81" rx="8.28" ry="6.32" fill-opacity="0.60"/><ellipse cx="426.98" cy="434.72" rx="7.92" ry="6.08" fill-opacity="0.40"/><ellipse cx="448.83" cy="434.11" rx="8.38" ry="6.38" fill-opacity="0.65"/><ellipse cx="473.14" cy="435.32" rx="8.32" ry="6.35" fill-opacity="0.62"/><ellipse cx="493.75" cy="435.36" rx="8.42" ry="6.41" fill-opacity="0.68"/><ellipse cx="517.89" cy="435.55" rx="8.22" ry="6.28" fill-opacity="0.56"/><ellipse cx="544.68" cy="435.16" rx="8.13" ry="6.22" fill-opacity="0.52"/><ellipse cx="565.05" cy="433.98" rx="8.4" ry="6.4" fill-opacity="0.67"/><ellipse cx="588.55" cy="435.09" rx="8.22" ry="6.28" fill-opacity="0.57"/><ellipse cx="612.08" cy="434.54" rx="8.01" ry="6.14" fill-opacity="0.45"/><ellipse cx="636.66" cy="433.99" rx="8.01" ry="6.14" fill-opacity="0.45"/><ellipse cx="659.53" cy="436.15" rx="8.04" ry="6.16" fill-opacity="0.47"/><ellipse cx="684.15" cy="436.26" rx="8.02" ry="6.15" fill-opacity="0.46"/><ellipse cx="706.03" cy="434.79" rx="8.29" ry="6.32" fill-opacity="0.60"/><ellipse cx="729.03" cy="433.54" rx="8.19" ry="6.26" fill-opacity="0.55"/><ellipse cx="752.05" cy="435.39" rx="7.94" ry="6.09" fill-opacity="0.41"/><ellipse cx="146.69" cy="454.58" rx="6.5" ry="5.8" fill-opacity="0.17"/><ellipse cx="169.57" cy="454.46" rx="6.71" ry="5.94" fill-opacity="0.28"/><ellipse cx="193.02" cy="455.21" rx="6.96" ry="6.1" fill-opacity="0.42"/><ellipse cx="216.95" cy="456.24" rx="6.98" ry="6.12" fill-opacity="0.43"/><ellipse cx="240.55" cy="455.24" rx="7.11" ry="6.21" fill-opacity="0.51"/><ellipse cx="262.83" cy="454.38" rx="6.47" ry="5.78" fill-opacity="0.15"/><ellipse cx="285.26" cy="454.92" rx="6.92" ry="6.08" fill-opacity="0.40"/><ellipse cx="308.57" cy="454.69" rx="6.72" ry="5.95" fill-opacity="0.29"/><ellipse cx="331.79" cy="456.05" rx="6.62" ry="5.88" fill-opacity="0.23"/><ellipse cx="357.71" cy="455.52" rx="6.81" ry="6.01" fill-opacity="0.34"/><ellipse cx="380.38" cy="455.52" rx="6.79" ry="6" fill-opacity="0.33"/><ellipse cx="401.52" cy="454.63" rx="6.58" ry="5.85" fill-opacity="0.21"/><ellipse cx="427.19" cy="454.23" rx="6.83" ry="6.02" fill-opacity="0.35"/><ellipse cx="449.8" cy="454.53" rx="7.04" ry="6.16" fill-opacity="0.47"/><ellipse cx="473.3" cy="454.99" rx="7.21" ry="6.27" fill-opacity="0.56"/><ellipse cx="496.15" cy="454.13" rx="6.76" ry="5.98" fill-opacity="0.31"/><ellipse cx="517.95" cy="455.68" rx="6.94" ry="6.1" fill-opacity="0.41"/><ellipse cx="542.43" cy="455.03" rx="7.07" ry="6.18" fill-opacity="0.48"/><ellipse cx="566.09" cy="454.8" rx="6.92" ry="6.08" fill-opacity="0.40"/><ellipse cx="588.25" cy="454.44" rx="6.73" ry="5.95" fill-opacity="0.29"/><ellipse cx="612.7" cy="454.84" rx="6.77" ry="5.98" fill-opacity="0.32"/><ellipse cx="633.72" cy="454.23" rx="6.66" ry="5.91" fill-opacity="0.26"/><ellipse cx="658.67" cy="456.51" rx="6.72" ry="5.95" fill-opacity="0.29"/><ellipse cx="683.8" cy="455.43" rx="6.57" ry="5.85" fill-opacity="0.21"/><ellipse cx="705.18" cy="456.75" rx="6.79" ry="5.99" fill-opacity="0.33"/><ellipse cx="729.76" cy="454.99" rx="6.86" ry="6.04" fill-opacity="0.36"/><ellipse cx="751.72" cy="455.85" rx="6.77" ry="5.98" fill-opacity="0.32"/><ellipse cx="147.22" cy="475.47" rx="8" ry="6.13" fill-opacity="0.44"/><ellipse cx="170.7" cy="477.16" rx="8.32" ry="6.35" fill-opacity="0.62"/><ellipse cx="192.29" cy="476.28" rx="7.87" ry="6.04" fill-opacity="0.37"/><ellipse cx="217.4" cy="476.92" rx="8.46" ry="6.44" fill-opacity="0.70"/><ellipse cx="239.65" cy="474.67" rx="8.39" ry="6.39" fill-opacity="0.66"/><ellipse cx="264.41" cy="475.41" rx="8.17" ry="6.25" fill-opacity="0.54"/><ellipse cx="285.3" cy="476.29" rx="8.39" ry="6.39" fill-opacity="0.66"/><ellipse cx="310.38" cy="474.9" rx="7.81" ry="6.01" fill-opacity="0.34"/><ellipse cx="334.1" cy="475.65" rx="8.06" ry="6.17" fill-opacity="0.48"/><ellipse cx="356.65" cy="476.38" rx="8.12" ry="6.21" fill-opacity="0.51"/><ellipse cx="377.57" cy="476.77" rx="8.61" ry="6.54" fill-opacity="0.79"/><ellipse cx="403.37" cy="475.4" rx="8.37" ry="6.38" fill-opacity="0.65"/><ellipse cx="428.06" cy="474.72" rx="8.06" ry="6.17" fill-opacity="0.48"/><ellipse cx="449.93" cy="475.23" rx="8.06" ry="6.18" fill-opacity="0.48"/><ellipse cx="474.45" cy="476.05" rx="7.76" ry="5.97" fill-opacity="0.31"/><ellipse cx="495" cy="475.88" rx="8.15" ry="6.23" fill-opacity="0.53"/><ellipse cx="519.7" cy="475.53" rx="7.8" ry="6" fill-opacity="0.33"/><ellipse cx="543.28" cy="475.75" rx="8.42" ry="6.42" fill-opacity="0.68"/><ellipse cx="564.76" cy="474.73" rx="7.93" ry="6.09" fill-opacity="0.41"/><ellipse cx="590.58" cy="474.16" rx="8.18" ry="6.26" fill-opacity="0.55"/><ellipse cx="612.02" cy="474.77" rx="8.23" ry="6.29" fill-opacity="0.57"/><ellipse cx="636.43" cy="475.67" rx="7.98" ry="6.12" fill-opacity="0.43"/><ellipse cx="658.7" cy="474.69" rx="7.84" ry="6.03" fill-opacity="0.35"/><ellipse cx="682.93" cy="475.33" rx="8.34" ry="6.36" fill-opacity="0.63"/><ellipse cx="706.23" cy="474.6" rx="8.11" ry="6.21" fill-opacity="0.51"/><ellipse cx="728.07" cy="475.86" rx="8.08" ry="6.19" fill-opacity="0.49"/><ellipse cx="751.57" cy="474.95" rx="7.68" ry="5.92" fill-opacity="0.27"/><ellipse cx="146.99" cy="495.52" rx="6.7" ry="5.93" fill-opacity="0.28"/><ellipse cx="170.76" cy="495.24" rx="6.79" ry="6" fill-opacity="0.33"/><ellipse cx="194.23" cy="496.99" rx="6.76" ry="5.97" fill-opacity="0.31"/><ellipse cx="215.81" cy="495.29" rx="6.69" ry="5.93" fill-opacity="0.27"/><ellipse cx="238.61" cy="495.75" rx="6.6" ry="5.87" fill-opacity="0.22"/><ellipse cx="263.69" cy="495.48" rx="6.7" ry="5.93" fill-opacity="0.28"/><ellipse cx="287.65" cy="495.27" rx="6.71" ry="5.94" fill-opacity="0.28"/><ellipse cx="310.59" cy="496.1" rx="6.62" ry="5.88" fill-opacity="0.24"/><ellipse cx="332.53" cy="495.42" rx="6.71" ry="5.94" fill-opacity="0.29"/><ellipse cx="355.74" cy="497.08" rx="6.82" ry="6.02" fill-opacity="0.35"/><ellipse cx="380.28" cy="496.69" rx="6.84" ry="6.03" fill-opacity="0.36"/><ellipse cx="401.05" cy="495.04" rx="6.82" ry="6.01" fill-opacity="0.35"/><ellipse cx="425.01" cy="495.51" rx="6.69" ry="5.93" fill-opacity="0.27"/><ellipse cx="448.41" cy="494.34" rx="6.72" ry="5.95" fill-opacity="0.29"/><ellipse cx="473.31" cy="497.27" rx="6.72" ry="5.95" fill-opacity="0.29"/><ellipse cx="496.74" cy="495.2" rx="6.63" ry="5.89" fill-opacity="0.24"/><ellipse cx="519.81" cy="494.52" rx="6.7" ry="5.93" fill-opacity="0.28"/><ellipse cx="540.96" cy="495.95" rx="6.73" ry="5.95" fill-opacity="0.29"/><ellipse cx="564.81" cy="495.84" rx="6.79" ry="5.99" fill-opacity="0.33"/><ellipse cx="588.91" cy="496.06" rx="6.64" ry="5.89" fill-opacity="0.24"/><ellipse cx="612.43" cy="496.33" rx="6.64" ry="5.89" fill-opacity="0.24"/><ellipse cx="634.87" cy="495.86" rx="6.73" ry="5.96" fill-opacity="0.30"/><ellipse cx="660.36" cy="496.34" rx="6.86" ry="6.04" fill-opacity="0.37"/><ellipse cx="683.48" cy="495.08" rx="6.93" ry="6.08" fill-opacity="0.40"/><ellipse cx="705.6" cy="497.25" rx="6.64" ry="5.9" fill-opacity="0.25"/><ellipse cx="730.27" cy="496.17" rx="6.6" ry="5.87" fill-opacity="0.22"/><ellipse cx="752.53" cy="495.6" rx="6.66" ry="5.91" fill-opacity="0.26"/><ellipse cx="147.05" cy="516.81" rx="8.01" ry="6.14" fill-opacity="0.45"/><ellipse cx="170.61" cy="515.12" rx="8.17" ry="6.25" fill-opacity="0.54"/><ellipse cx="194.01" cy="514.92" rx="7.97" ry="6.11" fill-opacity="0.43"/><ellipse cx="217.77" cy="516.11" rx="7.98" ry="6.12" fill-opacity="0.43"/><ellipse cx="240.61" cy="515" rx="8.18" ry="6.25" fill-opacity="0.54"/><ellipse cx="261.47" cy="515.56" rx="8.11" ry="6.21" fill-opacity="0.51"/><ellipse cx="286.68" cy="517.04" rx="8.08" ry="6.19" fill-opacity="0.49"/><ellipse cx="309.02" cy="514.2" rx="7.9" ry="6.07" fill-opacity="0.39"/><ellipse cx="333.34" cy="515.88" rx="8.05" ry="6.17" fill-opacity="0.47"/><ellipse cx="358.13" cy="514.55" rx="7.96" ry="6.11" fill-opacity="0.42"/><ellipse cx="378.62" cy="514.58" rx="8.32" ry="6.34" fill-opacity="0.62"/><ellipse cx="401.83" cy="514.88" rx="8.16" ry="6.24" fill-opacity="0.53"/><ellipse cx="425.45" cy="516.24" rx="7.81" ry="6.01" fill-opacity="0.34"/><ellipse cx="448.71" cy="515.27" rx="8.13" ry="6.22" fill-opacity="0.52"/><ellipse cx="472.99" cy="516.38" rx="7.88" ry="6.05" fill-opacity="0.38"/><ellipse cx="493.52" cy="516.03" rx="8.34" ry="6.36" fill-opacity="0.63"/><ellipse cx="518.1" cy="515.67" rx="7.84" ry="6.03" fill-opacity="0.36"/><ellipse cx="542.76" cy="516.73" rx="7.86" ry="6.04" fill-opacity="0.36"/><ellipse cx="565.82" cy="515.81" rx="7.86" ry="6.04" fill-opacity="0.36"/><ellipse cx="590.23" cy="515.12" rx="7.73" ry="5.96" fill-opacity="0.30"/><ellipse cx="613.74" cy="515.87" rx="7.98" ry="6.12" fill-opacity="0.43"/><ellipse cx="637.88" cy="514.83" rx="8.32" ry="6.34" fill-opacity="0.62"/><ellipse cx="657.78" cy="516.58" rx="8.27" ry="6.32" fill-opacity="0.60"/><ellipse cx="682.28" cy="515.26" rx="8.31" ry="6.34" fill-opacity="0.62"/><ellipse cx="706.64" cy="516.03" rx="7.84" ry="6.03" fill-opacity="0.36"/><ellipse cx="729.77" cy="515.84" rx="7.93" ry="6.09" fill-opacity="0.40"/><ellipse cx="752.49" cy="515.23" rx="8.1" ry="6.2" fill-opacity="0.50"/><ellipse cx="145.03" cy="536.26" rx="7" ry="6.13" fill-opacity="0.44"/><ellipse cx="170.81" cy="536.34" rx="6.98" ry="6.12" fill-opacity="0.43"/><ellipse cx="194.58" cy="536.04" rx="6.86" ry="6.04" fill-opacity="0.36"/><ellipse cx="217.58" cy="534.57" rx="6.87" ry="6.05" fill-opacity="0.37"/><ellipse cx="240.07" cy="536.06" rx="6.46" ry="5.77" fill-opacity="0.14"/><ellipse cx="263.19" cy="536.96" rx="6.56" ry="5.84" fill-opacity="0.20"/><ellipse cx="287.6" cy="533.81" rx="6.68" ry="5.92" fill-opacity="0.26"/><ellipse cx="311.23" cy="533.79" rx="6.64" ry="5.89" fill-opacity="0.24"/><ellipse cx="333.23" cy="535.7" rx="6.72" ry="5.95" fill-opacity="0.29"/><ellipse cx="357.85" cy="535.25" rx="6.75" ry="5.97" fill-opacity="0.31"/><ellipse cx="380.61" cy="536.81" rx="6.65" ry="5.9" fill-opacity="0.25"/><ellipse cx="401.96" cy="537.55" rx="6.75" ry="5.97" fill-opacity="0.30"/><ellipse cx="427.25" cy="534.68" rx="6.58" ry="5.85" fill-opacity="0.21"/><ellipse cx="449.11" cy="537.16" rx="6.56" ry="5.84" fill-opacity="0.20"/><ellipse cx="473.9" cy="535.65" rx="6.53" ry="5.82" fill-opacity="0.18"/><ellipse cx="496.67" cy="535.05" rx="6.87" ry="6.05" fill-opacity="0.37"/><ellipse cx="519.51" cy="535.7" rx="6.61" ry="5.87" fill-opacity="0.23"/><ellipse cx="543.56" cy="536" rx="6.52" ry="5.81" fill-opacity="0.18"/><ellipse cx="566.89" cy="535.3" rx="6.55" ry="5.83" fill-opacity="0.19"/><ellipse cx="590.9" cy="536.75" rx="6.7" ry="5.93" fill-opacity="0.28"/><ellipse cx="613.29" cy="536.79" rx="6.79" ry="5.99" fill-opacity="0.33"/><ellipse cx="636.02" cy="536.59" rx="6.65" ry="5.9" fill-opacity="0.25"/><ellipse cx="658.3" cy="535.64" rx="6.74" ry="5.96" fill-opacity="0.30"/><ellipse cx="682.24" cy="535.91" rx="6.72" ry="5.94" fill-opacity="0.29"/><ellipse cx="706.65" cy="534.3" rx="6.63" ry="5.89" fill-opacity="0.24"/><ellipse cx="728.51" cy="536.32" rx="6.85" ry="6.03" fill-opacity="0.36"/><ellipse cx="752.73" cy="537.61" rx="6.83" ry="6.02" fill-opacity="0.35"/><ellipse cx="146.74" cy="556.39" rx="8.42" ry="6.42" fill-opacity="0.68"/><ellipse cx="169.76" cy="555.83" rx="8.34" ry="6.36" fill-opacity="0.63"/><ellipse cx="192.83" cy="554.77" rx="8.45" ry="6.43" fill-opacity="0.70"/><ellipse cx="215.97" cy="556.62" rx="7.99" ry="6.12" fill-opacity="0.44"/><ellipse cx="238.73" cy="556.4" rx="7.93" ry="6.08" fill-opacity="0.40"/><ellipse cx="263.81" cy="556.18" rx="7.72" ry="5.95" fill-opacity="0.29"/><ellipse cx="285.83" cy="554.87" rx="7.77" ry="5.98" fill-opacity="0.32"/><ellipse cx="310.79" cy="555.91" rx="7.88" ry="6.05" fill-opacity="0.38"/><ellipse cx="332.62" cy="555.67" rx="8.47" ry="6.44" fill-opacity="0.70"/><ellipse cx="356.1" cy="556.42" rx="8.34" ry="6.36" fill-opacity="0.63"/><ellipse cx="378.98" cy="555.93" rx="8.2" ry="6.26" fill-opacity="0.55"/><ellipse cx="403.7" cy="555.56" rx="8.04" ry="6.16" fill-opacity="0.47"/><ellipse cx="425.16" cy="556.58" rx="7.75" ry="5.97" fill-opacity="0.30"/><ellipse cx="451.51" cy="556.71" rx="8.21" ry="6.27" fill-opacity="0.56"/><ellipse cx="472.44" cy="556.37" rx="8.31" ry="6.34" fill-opacity="0.61"/><ellipse cx="494.33" cy="555.75" rx="8.14" ry="6.23" fill-opacity="0.52"/><ellipse cx="519.51" cy="556.28" rx="8.32" ry="6.35" fill-opacity="0.62"/><ellipse cx="543.62" cy="556.59" rx="8.24" ry="6.29" fill-opacity="0.58"/><ellipse cx="565.66" cy="556.21" rx="8.1" ry="6.2" fill-opacity="0.50"/><ellipse cx="589.01" cy="555.49" rx="8.12" ry="6.21" fill-opacity="0.51"/><ellipse cx="613.5" cy="555.08" rx="7.97" ry="6.11" fill-opacity="0.43"/><ellipse cx="637.12" cy="557.09" rx="8.29" ry="6.33" fill-opacity="0.61"/><ellipse cx="658.53" cy="555.98" rx="8.04" ry="6.16" fill-opacity="0.47"/><ellipse cx="681.89" cy="555.62" rx="8.51" ry="6.47" fill-opacity="0.73"/><ellipse cx="705.49" cy="556.04" rx="8.53" ry="6.49" fill-opacity="0.74"/><ellipse cx="728.15" cy="555.75" rx="8.56" ry="6.5" fill-opacity="0.75"/><ellipse cx="752.76" cy="556.27" rx="8.54" ry="6.49" fill-opacity="0.75"/><ellipse cx="146.05" cy="575.27" rx="6.86" ry="6.04" fill-opacity="0.37"/><ellipse cx="171.35" cy="576.43" rx="6.84" ry="6.03" fill-opacity="0.35"/><ellipse cx="192.25" cy="575.86" rx="6.73" ry="5.95" fill-opacity="0.29"/><ellipse cx="214.9" cy="577.22" rx="6.61" ry="5.87" fill-opacity="0.23"/><ellipse cx="238.78" cy="576.96" rx="6.68" ry="5.92" fill-opacity="0.27"/><ellipse cx="262.64" cy="576.05" rx="6.64" ry="5.89" fill-opacity="0.25"/><ellipse cx="285.99" cy="575.97" rx="6.78" ry="5.99" fill-opacity="0.32"/><ellipse cx="307.67" cy="576.05" rx="6.66" ry="5.91" fill-opacity="0.26"/><ellipse cx="333.67" cy="577.19" rx="6.72" ry="5.94" fill-opacity="0.29"/><ellipse cx="354.5" cy="576.19" rx="6.68" ry="5.92" fill-opacity="0.27"/><ellipse cx="379.16" cy="576.78" rx="6.63" ry="5.89" fill-opacity="0.24"/><ellipse cx="401.63" cy="575.95" rx="6.62" ry="5.88" fill-opacity="0.23"/><ellipse cx="424.48" cy="576.31" rx="6.68" ry="5.92" fill-opacity="0.27"/><ellipse cx="449.66" cy="575.7" rx="6.97" ry="6.11" fill-opacity="0.43"/><ellipse cx="473.51" cy="575.76" rx="6.98" ry="6.12" fill-opacity="0.43"/><ellipse cx="494.95" cy="574.78" rx="7.06" ry="6.17" fill-opacity="0.48"/><ellipse cx="520.01" cy="576.99" rx="6.89" ry="6.06" fill-opacity="0.39"/><ellipse cx="541.8" cy="576.37" rx="6.65" ry="5.9" fill-opacity="0.25"/><ellipse cx="566.41" cy="576.21" rx="6.94" ry="6.09" fill-opacity="0.41"/><ellipse cx="588.97" cy="576.51" rx="6.76" ry="5.98" fill-opacity="0.31"/><ellipse cx="611.35" cy="576.37" rx="6.74" ry="5.96" fill-opacity="0.30"/><ellipse cx="637.34" cy="575.39" rx="6.76" ry="5.97" fill-opacity="0.31"/><ellipse cx="660.69" cy="576.89" rx="6.94" ry="6.09" fill-opacity="0.41"/><ellipse cx="681.69" cy="575.88" rx="6.73" ry="5.95" fill-opacity="0.29"/><ellipse cx="706.13" cy="576.86" rx="7.13" ry="6.22" fill-opacity="0.52"/><ellipse cx="728.24" cy="574.83" rx="7.06" ry="6.17" fill-opacity="0.48"/><ellipse cx="751.14" cy="576.02" rx="6.96" ry="6.11" fill-opacity="0.42"/><ellipse cx="146.99" cy="594.88" rx="8.34" ry="6.36" fill-opacity="0.63"/><ellipse cx="169.91" cy="596.92" rx="7.88" ry="6.05" fill-opacity="0.38"/><ellipse cx="192.63" cy="596.82" rx="8.06" ry="6.17" fill-opacity="0.48"/><ellipse cx="216.36" cy="595.64" rx="7.78" ry="5.99" fill-opacity="0.32"/><ellipse cx="238.56" cy="595.8" rx="7.86" ry="6.04" fill-opacity="0.37"/><ellipse cx="263.52" cy="598.21" rx="7.7" ry="5.93" fill-opacity="0.28"/><ellipse cx="286.07" cy="595.76" rx="8.19" ry="6.26" fill-opacity="0.55"/><ellipse cx="309.11" cy="595.64" rx="8.21" ry="6.27" fill-opacity="0.56"/><ellipse cx="333.96" cy="596.29" rx="8.17" ry="6.25" fill-opacity="0.54"/><ellipse cx="355.7" cy="595.86" rx="8.56" ry="6.5" fill-opacity="0.75"/><ellipse cx="380.02" cy="595.5" rx="8.17" ry="6.25" fill-opacity="0.54"/><ellipse cx="402.01" cy="596.65" rx="7.89" ry="6.06" fill-opacity="0.38"/><ellipse cx="426.65" cy="595.67" rx="8.41" ry="6.4" fill-opacity="0.67"/><ellipse cx="449.55" cy="596.74" rx="8.29" ry="6.32" fill-opacity="0.60"/><ellipse cx="470.12" cy="595.86" rx="9" ry="6.8" fill-opacity="1.00"/><ellipse cx="496.88" cy="596.6" rx="8.29" ry="6.33" fill-opacity="0.61"/><ellipse cx="518.83" cy="597.56" rx="8.38" ry="6.39" fill-opacity="0.66"/><ellipse cx="544.41" cy="596.12" rx="8.2" ry="6.27" fill-opacity="0.55"/><ellipse cx="564.61" cy="597.08" rx="8.7" ry="6.6" fill-opacity="0.83"/><ellipse cx="589.98" cy="596.53" rx="8.06" ry="6.17" fill-opacity="0.48"/><ellipse cx="612.21" cy="596.41" rx="8.13" ry="6.22" fill-opacity="0.52"/><ellipse cx="636.66" cy="596.75" rx="8.56" ry="6.51" fill-opacity="0.76"/><ellipse cx="660.39" cy="596.35" rx="8.53" ry="6.49" fill-opacity="0.74"/><ellipse cx="682.97" cy="596.5" rx="8.65" ry="6.57" fill-opacity="0.81"/><ellipse cx="707.26" cy="596.57" rx="9" ry="6.8" fill-opacity="1.00"/><ellipse cx="728.96" cy="597.05" rx="8.93" ry="6.75" fill-opacity="0.96"/><ellipse cx="752.24" cy="594.96" rx="8.49" ry="6.46" fill-opacity="0.72"/><ellipse cx="146.75" cy="617.34" rx="6.8" ry="6" fill-opacity="0.33"/><ellipse cx="171.63" cy="617.85" rx="6.7" ry="5.93" fill-opacity="0.28"/><ellipse cx="194.52" cy="616.35" rx="6.89" ry="6.06" fill-opacity="0.38"/><ellipse cx="216.49" cy="616.81" rx="6.78" ry="5.99" fill-opacity="0.32"/><ellipse cx="239.9" cy="617.05" rx="6.91" ry="6.07" fill-opacity="0.39"/><ellipse cx="262.5" cy="616.52" rx="6.69" ry="5.93" fill-opacity="0.27"/><ellipse cx="286.41" cy="615.85" rx="6.77" ry="5.98" fill-opacity="0.32"/><ellipse cx="308.41" cy="615.24" rx="6.92" ry="6.08" fill-opacity="0.40"/><ellipse cx="333.85" cy="616.69" rx="6.86" ry="6.04" fill-opacity="0.37"/><ellipse cx="358.37" cy="615.41" rx="6.79" ry="5.99" fill-opacity="0.33"/><ellipse cx="380.71" cy="615.46" rx="6.75" ry="5.97" fill-opacity="0.31"/><ellipse cx="401.6" cy="616.25" rx="6.81" ry="6.01" fill-opacity="0.34"/><ellipse cx="427.59" cy="616.94" rx="6.82" ry="6.01" fill-opacity="0.34"/><ellipse cx="449.89" cy="616.88" rx="6.87" ry="6.05" fill-opacity="0.37"/><ellipse cx="472.64" cy="616.56" rx="7.06" ry="6.18" fill-opacity="0.48"/><ellipse cx="497.08" cy="618.16" rx="7.17" ry="6.25" fill-opacity="0.54"/><ellipse cx="519.29" cy="617.12" rx="6.96" ry="6.11" fill-opacity="0.42"/><ellipse cx="540.81" cy="618.38" rx="7.35" ry="6.37" fill-opacity="0.64"/><ellipse cx="567.53" cy="616.49" rx="7.1" ry="6.2" fill-opacity="0.50"/><ellipse cx="590.02" cy="616.98" rx="6.86" ry="6.04" fill-opacity="0.37"/><ellipse cx="612.88" cy="615.79" rx="7.02" ry="6.15" fill-opacity="0.46"/><ellipse cx="636.39" cy="615.93" rx="6.92" ry="6.08" fill-opacity="0.40"/><ellipse cx="658.62" cy="616.92" rx="7.07" ry="6.18" fill-opacity="0.48"/><ellipse cx="679.48" cy="617.77" rx="7" ry="6.13" fill-opacity="0.44"/><ellipse cx="707.64" cy="616.44" rx="7.23" ry="6.29" fill-opacity="0.57"/><ellipse cx="728.48" cy="616.53" rx="7.52" ry="6.48" fill-opacity="0.73"/><ellipse cx="753.19" cy="616.02" rx="6.9" ry="6.07" fill-opacity="0.39"/><ellipse cx="147.39" cy="635.5" rx="8.43" ry="6.42" fill-opacity="0.68"/><ellipse cx="170.38" cy="637.61" rx="8.51" ry="6.47" fill-opacity="0.73"/><ellipse cx="191.96" cy="636.77" rx="8.09" ry="6.2" fill-opacity="0.50"/><ellipse cx="216.51" cy="636.27" rx="8.23" ry="6.29" fill-opacity="0.57"/><ellipse cx="238.84" cy="635.81" rx="8.36" ry="6.37" fill-opacity="0.64"/><ellipse cx="262.71" cy="636.03" rx="8.59" ry="6.53" fill-opacity="0.77"/><ellipse cx="286.14" cy="635.73" rx="8.93" ry="6.75" fill-opacity="0.96"/><ellipse cx="309.17" cy="637.73" rx="8.42" ry="6.42" fill-opacity="0.68"/><ellipse cx="333.76" cy="637.35" rx="8.64" ry="6.56" fill-opacity="0.80"/><ellipse cx="355.62" cy="636.65" rx="8.2" ry="6.26" fill-opacity="0.55"/><ellipse cx="379.81" cy="636.39" rx="8.58" ry="6.52" fill-opacity="0.77"/><ellipse cx="403.24" cy="635.43" rx="8.61" ry="6.54" fill-opacity="0.79"/><ellipse cx="426.5" cy="636.4" rx="8.51" ry="6.47" fill-opacity="0.73"/><ellipse cx="449" cy="635.52" rx="7.97" ry="6.11" fill-opacity="0.43"/><ellipse cx="472.73" cy="637.5" rx="8.43" ry="6.42" fill-opacity="0.69"/><ellipse cx="495.17" cy="637.41" rx="8.4" ry="6.4" fill-opacity="0.66"/><ellipse cx="519.31" cy="636.11" rx="8.88" ry="6.72" fill-opacity="0.93"/><ellipse cx="541.69" cy="637.29" rx="8.88" ry="6.72" fill-opacity="0.93"/><ellipse cx="564.83" cy="638.45" rx="8.26" ry="6.31" fill-opacity="0.59"/><ellipse cx="589.52" cy="636.82" rx="9" ry="6.8" fill-opacity="1.00"/><ellipse cx="612.6" cy="637.81" rx="8.59" ry="6.53" fill-opacity="0.77"/><ellipse cx="635.94" cy="636.52" rx="8.44" ry="6.43" fill-opacity="0.69"/><ellipse cx="658.9" cy="637.87" rx="8.64" ry="6.56" fill-opacity="0.80"/><ellipse cx="683.06" cy="636.52" rx="8.42" ry="6.41" fill-opacity="0.68"/><ellipse cx="705.12" cy="635.59" rx="8.6" ry="6.53" fill-opacity="0.78"/><ellipse cx="729.9" cy="636.36" rx="8.68" ry="6.59" fill-opacity="0.82"/><ellipse cx="752.34" cy="636.84" rx="8.62" ry="6.55" fill-opacity="0.79"/><ellipse cx="147.55" cy="655.27" rx="7.19" ry="6.26" fill-opacity="0.55"/><ellipse cx="170.16" cy="656.37" rx="7.43" ry="6.42" fill-opacity="0.68"/><ellipse cx="193.57" cy="655.59" rx="6.98" ry="6.12" fill-opacity="0.43"/><ellipse cx="217.68" cy="655.13" rx="7.16" ry="6.24" fill-opacity="0.54"/><ellipse cx="239.54" cy="657.34" rx="7.14" ry="6.23" fill-opacity="0.52"/><ellipse cx="261.67" cy="656.96" rx="7.18" ry="6.25" fill-opacity="0.55"/><ellipse cx="285.03" cy="657.36" rx="6.97" ry="6.11" fill-opacity="0.43"/><ellipse cx="310.65" cy="657.94" rx="6.89" ry="6.06" fill-opacity="0.38"/><ellipse cx="333.01" cy="657.49" rx="6.98" ry="6.12" fill-opacity="0.43"/><ellipse cx="355.38" cy="655.95" rx="7.01" ry="6.14" fill-opacity="0.45"/><ellipse cx="378.1" cy="656.26" rx="6.94" ry="6.09" fill-opacity="0.41"/><ellipse cx="402.83" cy="656.79" rx="7.15" ry="6.23" fill-opacity="0.53"/><ellipse cx="425.53" cy="656.1" rx="7.11" ry="6.21" fill-opacity="0.51"/><ellipse cx="449.47" cy="656.76" rx="7.29" ry="6.33" fill-opacity="0.61"/><ellipse cx="470.74" cy="657.53" rx="6.66" ry="5.91" fill-opacity="0.26"/><ellipse cx="496.77" cy="657.71" rx="7.09" ry="6.19" fill-opacity="0.49"/><ellipse cx="519.82" cy="656.16" rx="7.19" ry="6.26" fill-opacity="0.55"/><ellipse cx="543.88" cy="658.1" rx="7.36" ry="6.37" fill-opacity="0.64"/><ellipse cx="566.22" cy="657.83" rx="7.05" ry="6.17" fill-opacity="0.47"/><ellipse cx="589.04" cy="656.33" rx="7.17" ry="6.25" fill-opacity="0.54"/><ellipse cx="614.05" cy="658.07" rx="7.29" ry="6.32" fill-opacity="0.60"/><ellipse cx="636.49" cy="657.16" rx="6.87" ry="6.05" fill-opacity="0.37"/><ellipse cx="659.55" cy="656.88" rx="7" ry="6.13" fill-opacity="0.44"/><ellipse cx="684.63" cy="657.78" rx="7.08" ry="6.18" fill-opacity="0.49"/><ellipse cx="706.48" cy="657.23" rx="6.92" ry="6.08" fill-opacity="0.40"/><ellipse cx="728.95" cy="656.31" rx="7.17" ry="6.25" fill-opacity="0.54"/><ellipse cx="751.36" cy="657.09" rx="7.02" ry="6.15" fill-opacity="0.45"/><ellipse cx="146.26" cy="677.02" rx="8.7" ry="6.6" fill-opacity="0.83"/><ellipse cx="169.66" cy="677.18" rx="8.91" ry="6.74" fill-opacity="0.95"/><ellipse cx="194.16" cy="676.45" rx="8.81" ry="6.67" fill-opacity="0.90"/><ellipse cx="216.42" cy="677.23" rx="8.94" ry="6.76" fill-opacity="0.97"/><ellipse cx="241.56" cy="676.88" rx="8.66" ry="6.58" fill-opacity="0.81"/><ellipse cx="262.17" cy="676.27" rx="8.12" ry="6.21" fill-opacity="0.51"/><ellipse cx="288.07" cy="678.23" rx="8.08" ry="6.19" fill-opacity="0.49"/><ellipse cx="310.56" cy="676.47" rx="7.86" ry="6.04" fill-opacity="0.37"/><ellipse cx="334.18" cy="677.64" rx="8.69" ry="6.59" fill-opacity="0.83"/><ellipse cx="356.68" cy="677.39" rx="8.85" ry="6.7" fill-opacity="0.92"/><ellipse cx="377.79" cy="675.74" rx="8.44" ry="6.42" fill-opacity="0.69"/><ellipse cx="402.64" cy="676.15" rx="9" ry="6.8" fill-opacity="1.00"/><ellipse cx="424.37" cy="675.06" rx="8.76" ry="6.64" fill-opacity="0.86"/><ellipse cx="449.28" cy="678.22" rx="8.69" ry="6.59" fill-opacity="0.83"/><ellipse cx="473.2" cy="676.58" rx="9" ry="6.8" fill-opacity="1.00"/><ellipse cx="496.71" cy="677.45" rx="8.38" ry="6.39" fill-opacity="0.66"/><ellipse cx="520.39" cy="677.05" rx="8.46" ry="6.44" fill-opacity="0.70"/><ellipse cx="542.78" cy="677.06" rx="9" ry="6.8" fill-opacity="1.00"/><ellipse cx="565.76" cy="674.92" rx="8.42" ry="6.41" fill-opacity="0.68"/><ellipse cx="588.91" cy="676.64" rx="8.66" ry="6.57" fill-opacity="0.81"/><ellipse cx="612.32" cy="677.74" rx="8.65" ry="6.57" fill-opacity="0.80"/><ellipse cx="636.13" cy="677.2" rx="8.63" ry="6.56" fill-opacity="0.80"/><ellipse cx="658.23" cy="676.1" rx="8.21" ry="6.27" fill-opacity="0.56"/><ellipse cx="682.75" cy="677.45" rx="8.18" ry="6.25" fill-opacity="0.55"/><ellipse cx="704.89" cy="677.78" rx="8.41" ry="6.41" fill-opacity="0.67"/><ellipse cx="731.42" cy="675.27" rx="8.55" ry="6.5" fill-opacity="0.75"/><ellipse cx="752.04" cy="677.53" rx="8.58" ry="6.52" fill-opacity="0.77"/><ellipse cx="144.52" cy="696.51" rx="7.06" ry="6.18" fill-opacity="0.48"/><ellipse cx="169" cy="697.11" rx="6.77" ry="5.98" fill-opacity="0.32"/><ellipse cx="191.16" cy="696.82" rx="6.96" ry="6.1" fill-opacity="0.42"/><ellipse cx="215.98" cy="698.17" rx="7.06" ry="6.17" fill-opacity="0.48"/><ellipse cx="241.23" cy="696.36" rx="7.04" ry="6.16" fill-opacity="0.47"/><ellipse cx="261.77" cy="696.31" rx="6.87" ry="6.04" fill-opacity="0.37"/><ellipse cx="286.96" cy="696.19" rx="7.06" ry="6.17" fill-opacity="0.48"/><ellipse cx="308.82" cy="695.58" rx="7.06" ry="6.18" fill-opacity="0.48"/><ellipse cx="333.27" cy="696.6" rx="7.07" ry="6.18" fill-opacity="0.48"/><ellipse cx="356.75" cy="697.12" rx="7.09" ry="6.2" fill-opacity="0.50"/><ellipse cx="378.31" cy="696.02" rx="7.05" ry="6.17" fill-opacity="0.47"/><ellipse cx="401.72" cy="696.69" rx="7.29" ry="6.33" fill-opacity="0.61"/><ellipse cx="424.42" cy="697.98" rx="7.2" ry="6.27" fill-opacity="0.56"/><ellipse cx="450.62" cy="697.33" rx="7.19" ry="6.26" fill-opacity="0.55"/><ellipse cx="470.27" cy="696.44" rx="7.21" ry="6.27" fill-opacity="0.56"/><ellipse cx="495.82" cy="697.48" rx="7.21" ry="6.28" fill-opacity="0.56"/><ellipse cx="519.49" cy="698.47" rx="7.31" ry="6.34" fill-opacity="0.61"/><ellipse cx="542.17" cy="698.93" rx="6.93" ry="6.09" fill-opacity="0.40"/><ellipse cx="567" cy="696.61" rx="7" ry="6.13" fill-opacity="0.44"/><ellipse cx="589.89" cy="696.77" rx="7.35" ry="6.36" fill-opacity="0.64"/><ellipse cx="613.4" cy="698.08" rx="6.92" ry="6.08" fill-opacity="0.40"/><ellipse cx="636.25" cy="697.74" rx="7.37" ry="6.38" fill-opacity="0.65"/><ellipse cx="659.56" cy="696.61" rx="6.93" ry="6.08" fill-opacity="0.40"/><ellipse cx="682.34" cy="697.39" rx="7.11" ry="6.21" fill-opacity="0.51"/><ellipse cx="706.29" cy="698.02" rx="7.04" ry="6.16" fill-opacity="0.47"/><ellipse cx="730.99" cy="697.98" rx="7.05" ry="6.17" fill-opacity="0.47"/><ellipse cx="751.12" cy="696.54" rx="6.71" ry="5.94" fill-opacity="0.28"/></g>
<g fill="#050a0a"><circle cx="134.9" cy="42.2" r="6" fill-opacity="0.58"/><circle cx="158.2" cy="42.2" r="6" fill-opacity="0.34"/><circle cx="181.5" cy="42.2" r="6" fill-opacity="0.38"/><circle cx="204.8" cy="42.2" r="6" fill-opacity="0.74"/><circle cx="228.1" cy="42.2" r="6" fill-opacity="0.65"/><circle cx="251.4" cy="42.2" r="6" fill-opacity="0.55"/><circle cx="274.7" cy="42.2" r="6" fill-opacity="0.42"/><circle cx="298" cy="42.2" r="6" fill-opacity="0.71"/><circle cx="321.3" cy="42.2" r="6" fill-opacity="0.71"/><circle cx="344.6" cy="42.2" r="6" fill-opacity="0.54"/><circle cx="367.9" cy="42.2" r="6" fill-opacity="0.26"/><circle cx="391.2" cy="42.2" r="6" fill-opacity="0.25"/><circle cx="414.5" cy="42.2" r="6" fill-opacity="0.72"/><circle cx="437.8" cy="42.2" r="6" fill-opacity="0.44"/><circle cx="461.1" cy="42.2" r="6" fill-opacity="0.51"/><circle cx="484.4" cy="42.2" r="6" fill-opacity="0.47"/><circle cx="507.7" cy="42.2" r="6" fill-opacity="0.33"/><circle cx="531" cy="42.2" r="6" fill-opacity="0.34"/><circle cx="554.3" cy="42.2" r="6" fill-opacity="0.60"/><circle cx="577.6" cy="42.2" r="6" fill-opacity="0.30"/><circle cx="600.9" cy="42.2" r="6" fill-opacity="0.80"/><circle cx="624.2" cy="42.2" r="6" fill-opacity="0.45"/><circle cx="647.5" cy="42.2" r="6" fill-opacity="0.30"/><circle cx="670.8" cy="42.2" r="6" fill-opacity="0.17"/><circle cx="694.1" cy="42.2" r="6" fill-opacity="0.44"/><circle cx="717.4" cy="42.2" r="6" fill-opacity="0.72"/><circle cx="740.7" cy="42.2" r="6" fill-opacity="0.54"/><circle cx="134.9" cy="62.35" r="6" fill-opacity="0.57"/><circle cx="158.2" cy="62.35" r="6" fill-opacity="0.45"/><circle cx="181.5" cy="62.35" r="6" fill-opacity="0.65"/><circle cx="204.8" cy="62.35" r="6" fill-opacity="0.67"/><circle cx="228.1" cy="62.35" r="6" fill-opacity="0.68"/><circle cx="251.4" cy="62.35" r="6" fill-opacity="0.61"/><circle cx="274.7" cy="62.35" r="6" fill-opacity="0.77"/><circle cx="298" cy="62.35" r="6" fill-opacity="0.78"/><circle cx="321.3" cy="62.35" r="6" fill-opacity="0.92"/><circle cx="344.6" cy="62.35" r="6" fill-opacity="0.54"/><circle cx="367.9" cy="62.35" r="6" fill-opacity="0.59"/><circle cx="391.2" cy="62.35" r="6" fill-opacity="0.56"/><circle cx="414.5" cy="62.35" r="6" fill-opacity="0.30"/><circle cx="437.8" cy="62.35" r="6" fill-opacity="0.41"/><circle cx="461.1" cy="62.35" r="6" fill-opacity="0.71"/><circle cx="484.4" cy="62.35" r="6" fill-opacity="0.58"/><circle cx="507.7" cy="62.35" r="6" fill-opacity="0.68"/><circle cx="531" cy="62.35" r="6" fill-opacity="0.54"/><circle cx="554.3" cy="62.35" r="6" fill-opacity="0.56"/><circle cx="577.6" cy="62.35" r="6" fill-opacity="0.49"/><circle cx="600.9" cy="62.35" r="6" fill-opacity="0.36"/><circle cx="624.2" cy="62.35" r="6" fill-opacity="0.81"/><circle cx="647.5" cy="62.35" r="6" fill-opacity="0.51"/><circle cx="670.8" cy="62.35" r="6" fill-opacity="0.48"/><circle cx="694.1" cy="62.35" r="6" fill-opacity="0.36"/><circle cx="717.4" cy="62.35" r="6" fill-opacity="0.49"/><circle cx="740.7" cy="62.35" r="6" fill-opacity="0.35"/><circle cx="134.9" cy="82.5" r="6" fill-opacity="0.43"/><circle cx="158.2" cy="82.5" r="6" fill-opacity="0.44"/><circle cx="181.5" cy="82.5" r="6" fill-opacity="0.46"/><circle cx="204.8" cy="82.5" r="6" fill-opacity="0.58"/><circle cx="228.1" cy="82.5" r="6" fill-opacity="0.65"/><circle cx="251.4" cy="82.5" r="6" fill-opacity="0.14"/><circle cx="274.7" cy="82.5" r="6" fill-opacity="0.37"/><circle cx="298" cy="82.5" r="6" fill-opacity="0.52"/><circle cx="321.3" cy="82.5" r="6" fill-opacity="0.76"/><circle cx="344.6" cy="82.5" r="6" fill-opacity="0.62"/><circle cx="367.9" cy="82.5" r="6" fill-opacity="0.31"/><circle cx="391.2" cy="82.5" r="6" fill-opacity="0.28"/><circle cx="414.5" cy="82.5" r="6" fill-opacity="0.45"/><circle cx="437.8" cy="82.5" r="6" fill-opacity="0.35"/><circle cx="461.1" cy="82.5" r="6" fill-opacity="0.63"/><circle cx="484.4" cy="82.5" r="6" fill-opacity="0.77"/><circle cx="507.7" cy="82.5" r="6" fill-opacity="0.65"/><circle cx="531" cy="82.5" r="6" fill-opacity="0.61"/><circle cx="554.3" cy="82.5" r="6" fill-opacity="0.39"/><circle cx="577.6" cy="82.5" r="6" fill-opacity="0.23"/><circle cx="600.9" cy="82.5" r="6" fill-opacity="0.38"/><circle cx="624.2" cy="82.5" r="6" fill-opacity="0.62"/><circle cx="647.5" cy="82.5" r="6" fill-opacity="0.81"/><circle cx="670.8" cy="82.5" r="6" fill-opacity="0.66"/><circle cx="694.1" cy="82.5" r="6" fill-opacity="0.52"/><circle cx="717.4" cy="82.5" r="6" fill-opacity="0.32"/><circle cx="740.7" cy="82.5" r="6" fill-opacity="0.50"/><circle cx="134.9" cy="102.65" r="6" fill-opacity="0.46"/><circle cx="158.2" cy="102.65" r="6" fill-opacity="0.36"/><circle cx="181.5" cy="102.65" r="6" fill-opacity="0.44"/><circle cx="204.8" cy="102.65" r="6" fill-opacity="0.41"/><circle cx="228.1" cy="102.65" r="6" fill-opacity="0.78"/><circle cx="251.4" cy="102.65" r="6" fill-opacity="0.42"/><circle cx="274.7" cy="102.65" r="6" fill-opacity="0.66"/><circle cx="298" cy="102.65" r="6" fill-opacity="0.56"/><circle cx="321.3" cy="102.65" r="6" fill-opacity="0.55"/><circle cx="344.6" cy="102.65" r="6" fill-opacity="0.54"/><circle cx="367.9" cy="102.65" r="6" fill-opacity="0.46"/><circle cx="391.2" cy="102.65" r="6" fill-opacity="0.73"/><circle cx="414.5" cy="102.65" r="6" fill-opacity="0.28"/><circle cx="437.8" cy="102.65" r="6" fill-opacity="0.41"/><circle cx="461.1" cy="102.65" r="6" fill-opacity="0.57"/><circle cx="484.4" cy="102.65" r="6" fill-opacity="0.62"/><circle cx="507.7" cy="102.65" r="6" fill-opacity="0.28"/><circle cx="531" cy="102.65" r="6" fill-opacity="0.39"/><circle cx="554.3" cy="102.65" r="6" fill-opacity="0.65"/><circle cx="577.6" cy="102.65" r="6" fill-opacity="0.44"/><circle cx="600.9" cy="102.65" r="6" fill-opacity="0.41"/><circle cx="624.2" cy="102.65" r="6" fill-opacity="0.39"/><circle cx="647.5" cy="102.65" r="6" fill-opacity="0.37"/><circle cx="670.8" cy="102.65" r="6" fill-opacity="0.64"/><circle cx="694.1" cy="102.65" r="6" fill-opacity="0.33"/><circle cx="717.4" cy="102.65" r="6" fill-opacity="0.55"/><circle cx="740.7" cy="102.65" r="6" fill-opacity="0.53"/><circle cx="134.9" cy="122.8" r="6" fill-opacity="0.37"/><circle cx="158.2" cy="122.8" r="6" fill-opacity="0.65"/><circle cx="181.5" cy="122.8" r="6" fill-opacity="0.68"/><circle cx="204.8" cy="122.8" r="6" fill-opacity="0.79"/><circle cx="228.1" cy="122.8" r="6" fill-opacity="0.58"/><circle cx="251.4" cy="122.8" r="6" fill-opacity="0.51"/><circle cx="274.7" cy="122.8" r="6" fill-opacity="0.56"/><circle cx="298" cy="122.8" r="6" fill-opacity="0.33"/><circle cx="321.3" cy="122.8" r="6" fill-opacity="0.62"/><circle cx="344.6" cy="122.8" r="6" fill-opacity="0.57"/><circle cx="367.9" cy="122.8" r="6" fill-opacity="0.23"/><circle cx="391.2" cy="122.8" r="6" fill-opacity="0.12"/><circle cx="414.5" cy="122.8" r="6" fill-opacity="0.19"/><circle cx="437.8" cy="122.8" r="6" fill-opacity="0.38"/><circle cx="461.1" cy="122.8" r="6" fill-opacity="0.39"/><circle cx="484.4" cy="122.8" r="6" fill-opacity="0.66"/><circle cx="507.7" cy="122.8" r="6" fill-opacity="0.47"/><circle cx="531" cy="122.8" r="6" fill-opacity="0.34"/><circle cx="554.3" cy="122.8" r="6" fill-opacity="0.51"/><circle cx="577.6" cy="122.8" r="6" fill-opacity="0.42"/><circle cx="600.9" cy="122.8" r="6" fill-opacity="0.26"/><circle cx="624.2" cy="122.8" r="6" fill-opacity="0.21"/><circle cx="647.5" cy="122.8" r="6" fill-opacity="0.37"/><circle cx="670.8" cy="122.8" r="6" fill-opacity="0.70"/><circle cx="694.1" cy="122.8" r="6" fill-opacity="0.62"/><circle cx="717.4" cy="122.8" r="6" fill-opacity="0.79"/><circle cx="740.7" cy="122.8" r="6" fill-opacity="0.42"/><circle cx="134.9" cy="142.95" r="6" fill-opacity="0.54"/><circle cx="158.2" cy="142.95" r="6" fill-opacity="0.36"/><circle cx="181.5" cy="142.95" r="6" fill-opacity="0.38"/><circle cx="204.8" cy="142.95" r="6" fill-opacity="0.34"/><circle cx="228.1" cy="142.95" r="6" fill-opacity="0.29"/><circle cx="251.4" cy="142.95" r="6" fill-opacity="0.70"/><circle cx="274.7" cy="142.95" r="6" fill-opacity="0.53"/><circle cx="298" cy="142.95" r="6" fill-opacity="0.35"/><circle cx="321.3" cy="142.95" r="6" fill-opacity="0.31"/><circle cx="344.6" cy="142.95" r="6" fill-opacity="0.41"/><circle cx="367.9" cy="142.95" r="6" fill-opacity="0.37"/><circle cx="391.2" cy="142.95" r="6" fill-opacity="0.38"/><circle cx="414.5" cy="142.95" r="6" fill-opacity="0.18"/><circle cx="437.8" cy="142.95" r="6" fill-opacity="0.20"/><circle cx="461.1" cy="142.95" r="6" fill-opacity="0.19"/><circle cx="484.4" cy="142.95" r="6" fill-opacity="0.53"/><circle cx="507.7" cy="142.95" r="6" fill-opacity="0.43"/><circle cx="531" cy="142.95" r="6" fill-opacity="0.64"/><circle cx="554.3" cy="142.95" r="6" fill-opacity="0.38"/><circle cx="577.6" cy="142.95" r="6" fill-opacity="0.47"/><circle cx="600.9" cy="142.95" r="6" fill-opacity="0.37"/><circle cx="624.2" cy="142.95" r="6" fill-opacity="0.23"/><circle cx="647.5" cy="142.95" r="6" fill-opacity="0.65"/><circle cx="670.8" cy="142.95" r="6" fill-opacity="0.29"/><circle cx="694.1" cy="142.95" r="6" fill-opacity="0.60"/><circle cx="717.4" cy="142.95" r="6" fill-opacity="0.62"/><circle cx="740.7" cy="142.95" r="6" fill-opacity="0.28"/><circle cx="134.9" cy="163.1" r="6" fill-opacity="0.28"/><circle cx="158.2" cy="163.1" r="6" fill-opacity="0.32"/><circle cx="181.5" cy="163.1" r="6" fill-opacity="0.30"/><circle cx="204.8" cy="163.1" r="6" fill-opacity="0.56"/><circle cx="228.1" cy="163.1" r="6" fill-opacity="0.26"/><circle cx="251.4" cy="163.1" r="6" fill-opacity="0.37"/><circle cx="274.7" cy="163.1" r="6" fill-opacity="0.64"/><circle cx="298" cy="163.1" r="6" fill-opacity="0.45"/><circle cx="321.3" cy="163.1" r="6" fill-opacity="0.64"/><circle cx="344.6" cy="163.1" r="6" fill-opacity="0.28"/><circle cx="367.9" cy="163.1" r="6" fill-opacity="0.20"/><circle cx="391.2" cy="163.1" r="6" fill-opacity="0.51"/><circle cx="414.5" cy="163.1" r="6" fill-opacity="0.20"/><circle cx="437.8" cy="163.1" r="6" fill-opacity="0.21"/><circle cx="461.1" cy="163.1" r="6" fill-opacity="0.42"/><circle cx="484.4" cy="163.1" r="6" fill-opacity="0.48"/><circle cx="507.7" cy="163.1" r="6" fill-opacity="0.46"/><circle cx="531" cy="163.1" r="6" fill-opacity="0.43"/><circle cx="554.3" cy="163.1" r="6" fill-opacity="0.71"/><circle cx="577.6" cy="163.1" r="6" fill-opacity="0.33"/><circle cx="600.9" cy="163.1" r="6" fill-opacity="0.53"/><circle cx="624.2" cy="163.1" r="6" fill-opacity="0.69"/><circle cx="647.5" cy="163.1" r="6" fill-opacity="0.40"/><circle cx="670.8" cy="163.1" r="6" fill-opacity="0.68"/><circle cx="694.1" cy="163.1" r="6" fill-opacity="0.57"/><circle cx="717.4" cy="163.1" r="6" fill-opacity="0.25"/><circle cx="740.7" cy="163.1" r="6" fill-opacity="0.58"/><circle cx="134.9" cy="183.25" r="6" fill-opacity="0.48"/><circle cx="158.2" cy="183.25" r="6" fill-opacity="0.11"/><circle cx="181.5" cy="183.25" r="6" fill-opacity="0.44"/><circle cx="204.8" cy="183.25" r="6" fill-opacity="0.31"/><circle cx="228.1" cy="183.25" r="6" fill-opacity="0.46"/><circle cx="251.4" cy="183.25" r="6" fill-opacity="0.64"/><circle cx="274.7" cy="183.25" r="6" fill-opacity="0.72"/><circle cx="298" cy="183.25" r="6" fill-opacity="0.58"/><circle cx="321.3" cy="183.25" r="6" fill-opacity="0.46"/><circle cx="344.6" cy="183.25" r="6" fill-opacity="0.61"/><circle cx="367.9" cy="183.25" r="6" fill-opacity="0.24"/><circle cx="391.2" cy="183.25" r="6" fill-opacity="0.32"/><circle cx="414.5" cy="183.25" r="6" fill-opacity="0.27"/><circle cx="437.8" cy="183.25" r="6" fill-opacity="0.41"/><circle cx="461.1" cy="183.25" r="6" fill-opacity="0.33"/><circle cx="484.4" cy="183.25" r="6" fill-opacity="0.50"/><circle cx="507.7" cy="183.25" r="6" fill-opacity="0.49"/><circle cx="531" cy="183.25" r="6" fill-opacity="0.54"/><circle cx="554.3" cy="183.25" r="6" fill-opacity="0.57"/><circle cx="577.6" cy="183.25" r="6" fill-opacity="0.79"/><circle cx="600.9" cy="183.25" r="6" fill-opacity="0.56"/><circle cx="624.2" cy="183.25" r="6" fill-opacity="0.63"/><circle cx="647.5" cy="183.25" r="6" fill-opacity="0.55"/><circle cx="670.8" cy="183.25" r="6" fill-opacity="0.48"/><circle cx="694.1" cy="183.25" r="6" fill-opacity="0.74"/><circle cx="717.4" cy="183.25" r="6" fill-opacity="0.36"/><circle cx="740.7" cy="183.25" r="6" fill-opacity="0.19"/><circle cx="134.9" cy="203.4" r="6" fill-opacity="0.19"/><circle cx="158.2" cy="203.4" r="6" fill-opacity="0.42"/><circle cx="181.5" cy="203.4" r="6" fill-opacity="0.14"/><circle cx="204.8" cy="203.4" r="6" fill-opacity="0.57"/><circle cx="228.1" cy="203.4" r="6" fill-opacity="0.54"/><circle cx="251.4" cy="203.4" r="6" fill-opacity="0.55"/><circle cx="274.7" cy="203.4" r="6" fill-opacity="0.52"/><circle cx="298" cy="203.4" r="6" fill-opacity="0.52"/><circle cx="321.3" cy="203.4" r="6" fill-opacity="0.73"/><circle cx="344.6" cy="203.4" r="6" fill-opacity="0.56"/><circle cx="367.9" cy="203.4" r="6" fill-opacity="0.34"/><circle cx="391.2" cy="203.4" r="6" fill-opacity="0.20"/><circle cx="414.5" cy="203.4" r="6" fill-opacity="0.56"/><circle cx="437.8" cy="203.4" r="6" fill-opacity="0.29"/><circle cx="461.1" cy="203.4" r="6" fill-opacity="0.55"/><circle cx="484.4" cy="203.4" r="6" fill-opacity="0.43"/><circle cx="507.7" cy="203.4" r="6" fill-opacity="0.43"/><circle cx="531" cy="203.4" r="6" fill-opacity="0.44"/><circle cx="554.3" cy="203.4" r="6" fill-opacity="0.35"/><circle cx="577.6" cy="203.4" r="6" fill-opacity="0.46"/><circle cx="600.9" cy="203.4" r="6" fill-opacity="0.61"/><circle cx="624.2" cy="203.4" r="6" fill-opacity="0.59"/><circle cx="647.5" cy="203.4" r="6" fill-opacity="0.70"/><circle cx="670.8" cy="203.4" r="6" fill-opacity="0.66"/><circle cx="694.1" cy="203.4" r="6" fill-opacity="0.59"/><circle cx="717.4" cy="203.4" r="6" fill-opacity="0.37"/><circle cx="740.7" cy="203.4" r="6" fill-opacity="0.30"/><circle cx="134.9" cy="223.55" r="6" fill-opacity="0.57"/><circle cx="158.2" cy="223.55" r="6" fill-opacity="0.35"/><circle cx="181.5" cy="223.55" r="6" fill-opacity="0.47"/><circle cx="204.8" cy="223.55" r="6" fill-opacity="0.23"/><circle cx="228.1" cy="223.55" r="6" fill-opacity="0.62"/><circle cx="251.4" cy="223.55" r="6" fill-opacity="0.78"/><circle cx="274.7" cy="223.55" r="6" fill-opacity="0.51"/><circle cx="298" cy="223.55" r="6" fill-opacity="0.76"/><circle cx="321.3" cy="223.55" r="6" fill-opacity="0.38"/><circle cx="344.6" cy="223.55" r="6" fill-opacity="0.50"/><circle cx="367.9" cy="223.55" r="6" fill-opacity="0.47"/><circle cx="391.2" cy="223.55" r="6" fill-opacity="0.62"/><circle cx="414.5" cy="223.55" r="6" fill-opacity="0.75"/><circle cx="437.8" cy="223.55" r="6" fill-opacity="0.55"/><circle cx="461.1" cy="223.55" r="6" fill-opacity="0.59"/><circle cx="484.4" cy="223.55" r="6" fill-opacity="0.47"/><circle cx="507.7" cy="223.55" r="6" fill-opacity="0.80"/><circle cx="531" cy="223.55" r="6" fill-opacity="0.24"/><circle cx="554.3" cy="223.55" r="6" fill-opacity="0.42"/><circle cx="577.6" cy="223.55" r="6" fill-opacity="0.51"/><circle cx="600.9" cy="223.55" r="6" fill-opacity="0.51"/><circle cx="624.2" cy="223.55" r="6" fill-opacity="0.15"/><circle cx="647.5" cy="223.55" r="6" fill-opacity="0.49"/><circle cx="670.8" cy="223.55" r="6" fill-opacity="0.83"/><circle cx="694.1" cy="223.55" r="6" fill-opacity="0.72"/><circle cx="717.4" cy="223.55" r="6" fill-opacity="0.23"/><circle cx="740.7" cy="223.55" r="6" fill-opacity="0.49"/><circle cx="134.9" cy="243.7" r="6" fill-opacity="0.31"/><circle cx="158.2" cy="243.7" r="6" fill-opacity="0.25"/><circle cx="181.5" cy="243.7" r="6" fill-opacity="0.21"/><circle cx="204.8" cy="243.7" r="6" fill-opacity="0.05"/><circle cx="228.1" cy="243.7" r="6" fill-opacity="0.16"/><circle cx="251.4" cy="243.7" r="6" fill-opacity="0.44"/><circle cx="274.7" cy="243.7" r="6" fill-opacity="0.82"/><circle cx="298" cy="243.7" r="6" fill-opacity="0.54"/><circle cx="321.3" cy="243.7" r="6" fill-opacity="0.66"/><circle cx="344.6" cy="243.7" r="6" fill-opacity="0.44"/><circle cx="367.9" cy="243.7" r="6" fill-opacity="0.51"/><circle cx="391.2" cy="243.7" r="6" fill-opacity="0.77"/><circle cx="414.5" cy="243.7" r="6" fill-opacity="0.61"/><circle cx="437.8" cy="243.7" r="6" fill-opacity="0.60"/><circle cx="461.1" cy="243.7" r="6" fill-opacity="0.75"/><circle cx="484.4" cy="243.7" r="6" fill-opacity="0.39"/><circle cx="507.7" cy="243.7" r="6" fill-opacity="0.50"/><circle cx="531" cy="243.7" r="6" fill-opacity="0.36"/><circle cx="554.3" cy="243.7" r="6" fill-opacity="0.62"/><circle cx="577.6" cy="243.7" r="6" fill-opacity="0.43"/><circle cx="600.9" cy="243.7" r="6" fill-opacity="0.63"/><circle cx="624.2" cy="243.7" r="6" fill-opacity="0.74"/><circle cx="647.5" cy="243.7" r="6" fill-opacity="0.48"/><circle cx="670.8" cy="243.7" r="6" fill-opacity="0.92"/><circle cx="694.1" cy="243.7" r="6" fill-opacity="0.87"/><circle cx="717.4" cy="243.7" r="6" fill-opacity="0.58"/><circle cx="740.7" cy="243.7" r="6" fill-opacity="0.48"/><circle cx="134.9" cy="263.85" r="6" fill-opacity="0.40"/><circle cx="158.2" cy="263.85" r="6" fill-opacity="0.24"/><circle cx="181.5" cy="263.85" r="6" fill-opacity="0.19"/><circle cx="204.8" cy="263.85" r="6" fill-opacity="0.32"/><circle cx="228.1" cy="263.85" r="6" fill-opacity="0.34"/><circle cx="251.4" cy="263.85" r="6" fill-opacity="0.60"/><circle cx="274.7" cy="263.85" r="6" fill-opacity="0.85"/><circle cx="298" cy="263.85" r="6" fill-opacity="0.76"/><circle cx="321.3" cy="263.85" r="6" fill-opacity="0.56"/><circle cx="344.6" cy="263.85" r="6" fill-opacity="0.64"/><circle cx="367.9" cy="263.85" r="6" fill-opacity="0.41"/><circle cx="391.2" cy="263.85" r="6" fill-opacity="0.40"/><circle cx="414.5" cy="263.85" r="6" fill-opacity="0.69"/><circle cx="437.8" cy="263.85" r="6" fill-opacity="0.79"/><circle cx="461.1" cy="263.85" r="6" fill-opacity="0.39"/><circle cx="484.4" cy="263.85" r="6" fill-opacity="0.80"/><circle cx="507.7" cy="263.85" r="6" fill-opacity="0.89"/><circle cx="531" cy="263.85" r="6" fill-opacity="0.75"/><circle cx="554.3" cy="263.85" r="6" fill-opacity="0.05"/><circle cx="577.6" cy="263.85" r="6" fill-opacity="0.57"/><circle cx="600.9" cy="263.85" r="6" fill-opacity="0.48"/><circle cx="624.2" cy="263.85" r="6" fill-opacity="0.57"/><circle cx="647.5" cy="263.85" r="6" fill-opacity="0.78"/><circle cx="670.8" cy="263.85" r="6" fill-opacity="0.74"/><circle cx="694.1" cy="263.85" r="6" fill-opacity="0.43"/><circle cx="717.4" cy="263.85" r="6" fill-opacity="0.54"/><circle cx="740.7" cy="263.85" r="6" fill-opacity="0.66"/><circle cx="134.9" cy="284" r="6" fill-opacity="0.25"/><circle cx="158.2" cy="284" r="6" fill-opacity="0.33"/><circle cx="181.5" cy="284" r="6" fill-opacity="0.26"/><circle cx="204.8" cy="284" r="6" fill-opacity="0.51"/><circle cx="228.1" cy="284" r="6" fill-opacity="0.25"/><circle cx="251.4" cy="284" r="6" fill-opacity="0.51"/><circle cx="274.7" cy="284" r="6" fill-opacity="0.89"/><circle cx="298" cy="284" r="6" fill-opacity="0.77"/><circle cx="321.3" cy="284" r="6" fill-opacity="0.98"/><circle cx="344.6" cy="284" r="6" fill-opacity="0.48"/><circle cx="367.9" cy="284" r="6" fill-opacity="0.29"/><circle cx="391.2" cy="284" r="6" fill-opacity="0.57"/><circle cx="414.5" cy="284" r="6" fill-opacity="0.84"/><circle cx="437.8" cy="284" r="6" fill-opacity="0.59"/><circle cx="461.1" cy="284" r="6" fill-opacity="0.59"/><circle cx="484.4" cy="284" r="6" fill-opacity="0.78"/><circle cx="507.7" cy="284" r="6" fill-opacity="0.58"/><circle cx="531" cy="284" r="6" fill-opacity="0.52"/><circle cx="554.3" cy="284" r="6" fill-opacity="0.45"/><circle cx="577.6" cy="284" r="6" fill-opacity="0.26"/><circle cx="600.9" cy="284" r="6" fill-opacity="0.79"/><circle cx="624.2" cy="284" r="6" fill-opacity="0.31"/><circle cx="647.5" cy="284" r="6" fill-opacity="0.71"/><circle cx="670.8" cy="284" r="6" fill-opacity="0.40"/><circle cx="694.1" cy="284" r="6" fill-opacity="0.58"/><circle cx="717.4" cy="284" r="6" fill-opacity="0.42"/><circle cx="740.7" cy="284" r="6" fill-opacity="0.46"/><circle cx="134.9" cy="304.15" r="6" fill-opacity="0.12"/><circle cx="158.2" cy="304.15" r="6" fill-opacity="0.44"/><circle cx="181.5" cy="304.15" r="6" fill-opacity="0.34"/><circle cx="204.8" cy="304.15" r="6" fill-opacity="0.46"/><circle cx="228.1" cy="304.15" r="6" fill-opacity="0.52"/><circle cx="251.4" cy="304.15" r="6" fill-opacity="0.37"/><circle cx="274.7" cy="304.15" r="6" fill-opacity="0.63"/><circle cx="298" cy="304.15" r="6" fill-opacity="0.42"/><circle cx="321.3" cy="304.15" r="6" fill-opacity="0.91"/><circle cx="344.6" cy="304.15" r="6" fill-opacity="0.71"/><circle cx="367.9" cy="304.15" r="6" fill-opacity="0.51"/><circle cx="391.2" cy="304.15" r="6" fill-opacity="0.31"/><circle cx="414.5" cy="304.15" r="6" fill-opacity="0.82"/><circle cx="437.8" cy="304.15" r="6" fill-opacity="0.56"/><circle cx="461.1" cy="304.15" r="6" fill-opacity="0.48"/><circle cx="484.4" cy="304.15" r="6" fill-opacity="0.35"/><circle cx="507.7" cy="304.15" r="6" fill-opacity="0.81"/><circle cx="531" cy="304.15" r="6" fill-opacity="0.67"/><circle cx="554.3" cy="304.15" r="6" fill-opacity="0.41"/><circle cx="577.6" cy="304.15" r="6" fill-opacity="0.60"/><circle cx="600.9" cy="304.15" r="6" fill-opacity="0.16"/><circle cx="624.2" cy="304.15" r="6" fill-opacity="0.65"/><circle cx="647.5" cy="304.15" r="6" fill-opacity="0.56"/><circle cx="670.8" cy="304.15" r="6" fill-opacity="0.90"/><circle cx="694.1" cy="304.15" r="6" fill-opacity="0.73"/><circle cx="717.4" cy="304.15" r="6" fill-opacity="0.55"/><circle cx="740.7" cy="304.15" r="6" fill-opacity="0.42"/><circle cx="134.9" cy="324.3" r="6" fill-opacity="0.67"/><circle cx="158.2" cy="324.3" r="6" fill-opacity="0.31"/><circle cx="181.5" cy="324.3" r="6" fill-opacity="0.63"/><circle cx="204.8" cy="324.3" r="6" fill-opacity="0.68"/><circle cx="228.1" cy="324.3" r="6" fill-opacity="0.38"/><circle cx="251.4" cy="324.3" r="6" fill-opacity="0.68"/><circle cx="274.7" cy="324.3" r="6" fill-opacity="0.80"/><circle cx="298" cy="324.3" r="6" fill-opacity="0.68"/><circle cx="321.3" cy="324.3" r="6" fill-opacity="0.55"/><circle cx="344.6" cy="324.3" r="6" fill-opacity="0.29"/><circle cx="367.9" cy="324.3" r="6" fill-opacity="0.59"/><circle cx="391.2" cy="324.3" r="6" fill-opacity="0.52"/><circle cx="414.5" cy="324.3" r="6" fill-opacity="0.51"/><circle cx="437.8" cy="324.3" r="6" fill-opacity="0.55"/><circle cx="461.1" cy="324.3" r="6" fill-opacity="0.59"/><circle cx="484.4" cy="324.3" r="6" fill-opacity="0.96"/><circle cx="507.7" cy="324.3" r="6" fill-opacity="0.56"/><circle cx="531" cy="324.3" r="6" fill-opacity="0.71"/><circle cx="554.3" cy="324.3" r="6" fill-opacity="0.37"/><circle cx="577.6" cy="324.3" r="6" fill-opacity="0.72"/><circle cx="600.9" cy="324.3" r="6" fill-opacity="0.47"/><circle cx="624.2" cy="324.3" r="6" fill-opacity="0.53"/><circle cx="647.5" cy="324.3" r="6" fill-opacity="0.44"/><circle cx="670.8" cy="324.3" r="6" fill-opacity="0.51"/><circle cx="694.1" cy="324.3" r="6" fill-opacity="0.45"/><circle cx="717.4" cy="324.3" r="6" fill-opacity="0.79"/><circle cx="740.7" cy="324.3" r="6" fill-opacity="0.84"/><circle cx="134.9" cy="344.45" r="6" fill-opacity="0.70"/><circle cx="158.2" cy="344.45" r="6" fill-opacity="0.58"/><circle cx="181.5" cy="344.45" r="6" fill-opacity="0.61"/><circle cx="204.8" cy="344.45" r="6" fill-opacity="0.76"/><circle cx="228.1" cy="344.45" r="6" fill-opacity="0.56"/><circle cx="251.4" cy="344.45" r="6" fill-opacity="0.51"/><circle cx="274.7" cy="344.45" r="6" fill-opacity="0.62"/><circle cx="298" cy="344.45" r="6" fill-opacity="0.57"/><circle cx="321.3" cy="344.45" r="6" fill-opacity="0.77"/><circle cx="344.6" cy="344.45" r="6" fill-opacity="0.55"/><circle cx="367.9" cy="344.45" r="6" fill-opacity="0.32"/><circle cx="391.2" cy="344.45" r="6" fill-opacity="0.35"/><circle cx="414.5" cy="344.45" r="6" fill-opacity="0.40"/><circle cx="437.8" cy="344.45" r="6" fill-opacity="0.86"/><circle cx="461.1" cy="344.45" r="6" fill-opacity="0.59"/><circle cx="484.4" cy="344.45" r="6" fill-opacity="0.78"/><circle cx="507.7" cy="344.45" r="6" fill-opacity="0.80"/><circle cx="531" cy="344.45" r="6" fill-opacity="0.51"/><circle cx="554.3" cy="344.45" r="6" fill-opacity="0.89"/><circle cx="577.6" cy="344.45" r="6" fill-opacity="0.47"/><circle cx="600.9" cy="344.45" r="6" fill-opacity="0.58"/><circle cx="624.2" cy="344.45" r="6" fill-opacity="0.41"/><circle cx="647.5" cy="344.45" r="6" fill-opacity="0.63"/><circle cx="670.8" cy="344.45" r="6" fill-opacity="0.53"/><circle cx="694.1" cy="344.45" r="6" fill-opacity="0.71"/><circle cx="717.4" cy="344.45" r="6" fill-opacity="0.93"/><circle cx="740.7" cy="344.45" r="6" fill-opacity="0.76"/><circle cx="134.9" cy="364.6" r="6" fill-opacity="0.38"/><circle cx="158.2" cy="364.6" r="6" fill-opacity="0.35"/><circle cx="181.5" cy="364.6" r="6" fill-opacity="0.41"/><circle cx="204.8" cy="364.6" r="6" fill-opacity="0.83"/><circle cx="228.1" cy="364.6" r="6" fill-opacity="0.46"/><circle cx="251.4" cy="364.6" r="6" fill-opacity="0.21"/><circle cx="274.7" cy="364.6" r="6" fill-opacity="0.47"/><circle cx="298" cy="364.6" r="6" fill-opacity="0.65"/><circle cx="321.3" cy="364.6" r="6" fill-opacity="0.52"/><circle cx="344.6" cy="364.6" r="6" fill-opacity="0.73"/><circle cx="367.9" cy="364.6" r="6" fill-opacity="0.73"/><circle cx="391.2" cy="364.6" r="6" fill-opacity="0.47"/><circle cx="414.5" cy="364.6" r="6" fill-opacity="0.82"/><circle cx="437.8" cy="364.6" r="6" fill-opacity="0.49"/><circle cx="461.1" cy="364.6" r="6" fill-opacity="0.86"/><circle cx="484.4" cy="364.6" r="6" fill-opacity="0.50"/><circle cx="507.7" cy="364.6" r="6" fill-opacity="0.81"/><circle cx="531" cy="364.6" r="6" fill-opacity="0.55"/><circle cx="554.3" cy="364.6" r="6" fill-opacity="0.39"/><circle cx="577.6" cy="364.6" r="6" fill-opacity="0.49"/><circle cx="600.9" cy="364.6" r="6" fill-opacity="0.60"/><circle cx="624.2" cy="364.6" r="6" fill-opacity="0.47"/><circle cx="647.5" cy="364.6" r="6" fill-opacity="0.71"/><circle cx="670.8" cy="364.6" r="6" fill-opacity="0.45"/><circle cx="694.1" cy="364.6" r="6" fill-opacity="0.45"/><circle cx="717.4" cy="364.6" r="6" fill-opacity="0.63"/><circle cx="740.7" cy="364.6" r="6" fill-opacity="0.72"/><circle cx="134.9" cy="384.75" r="6" fill-opacity="0.42"/><circle cx="158.2" cy="384.75" r="6" fill-opacity="0.62"/><circle cx="181.5" cy="384.75" r="6" fill-opacity="0.76"/><circle cx="204.8" cy="384.75" r="6" fill-opacity="0.53"/><circle cx="228.1" cy="384.75" r="6" fill-opacity="0.43"/><circle cx="251.4" cy="384.75" r="6" fill-opacity="0.73"/><circle cx="274.7" cy="384.75" r="6" fill-opacity="0.83"/><circle cx="298" cy="384.75" r="6" fill-opacity="0.55"/><circle cx="321.3" cy="384.75" r="6" fill-opacity="0.63"/><circle cx="344.6" cy="384.75" r="6" fill-opacity="0.53"/><circle cx="367.9" cy="384.75" r="6" fill-opacity="0.65"/><circle cx="391.2" cy="384.75" r="6" fill-opacity="0.75"/><circle cx="414.5" cy="384.75" r="6" fill-opacity="0.47"/><circle cx="437.8" cy="384.75" r="6" fill-opacity="0.87"/><circle cx="461.1" cy="384.75" r="6" fill-opacity="0.59"/><circle cx="484.4" cy="384.75" r="6" fill-opacity="0.54"/><circle cx="507.7" cy="384.75" r="6" fill-opacity="0.65"/><circle cx="531" cy="384.75" r="6" fill-opacity="0.58"/><circle cx="554.3" cy="384.75" r="6" fill-opacity="0.54"/><circle cx="577.6" cy="384.75" r="6" fill-opacity="0.15"/><circle cx="600.9" cy="384.75" r="6" fill-opacity="0.94"/><circle cx="624.2" cy="384.75" r="6" fill-opacity="0.81"/><circle cx="647.5" cy="384.75" r="6" fill-opacity="0.71"/><circle cx="670.8" cy="384.75" r="6" fill-opacity="0.84"/><circle cx="694.1" cy="384.75" r="6" fill-opacity="0.60"/><circle cx="717.4" cy="384.75" r="6" fill-opacity="0.56"/><circle cx="740.7" cy="384.75" r="6" fill-opacity="0.79"/><circle cx="134.9" cy="404.9" r="6" fill-opacity="0.51"/><circle cx="158.2" cy="404.9" r="6" fill-opacity="0.62"/><circle cx="181.5" cy="404.9" r="6" fill-opacity="0.73"/><circle cx="204.8" cy="404.9" r="6" fill-opacity="0.54"/><circle cx="228.1" cy="404.9" r="6" fill-opacity="0.57"/><circle cx="251.4" cy="404.9" r="6" fill-opacity="0.36"/><circle cx="274.7" cy="404.9" r="6" fill-opacity="0.29"/><circle cx="298" cy="404.9" r="6" fill-opacity="0.71"/><circle cx="321.3" cy="404.9" r="6" fill-opacity="0.72"/><circle cx="344.6" cy="404.9" r="6" fill-opacity="0.80"/><circle cx="367.9" cy="404.9" r="6" fill-opacity="0.86"/><circle cx="391.2" cy="404.9" r="6" fill-opacity="0.60"/><circle cx="414.5" cy="404.9" r="6" fill-opacity="0.65"/><circle cx="437.8" cy="404.9" r="6" fill-opacity="0.75"/><circle cx="461.1" cy="404.9" r="6" fill-opacity="0.33"/><circle cx="484.4" cy="404.9" r="6" fill-opacity="0.55"/><circle cx="507.7" cy="404.9" r="6" fill-opacity="0.51"/><circle cx="531" cy="404.9" r="6" fill-opacity="0.62"/><circle cx="554.3" cy="404.9" r="6" fill-opacity="0.77"/><circle cx="577.6" cy="404.9" r="6" fill-opacity="0.53"/><circle cx="600.9" cy="404.9" r="6" fill-opacity="0.54"/><circle cx="624.2" cy="404.9" r="6" fill-opacity="0.60"/><circle cx="647.5" cy="404.9" r="6" fill-opacity="0.56"/><circle cx="670.8" cy="404.9" r="6" fill-opacity="0.70"/><circle cx="694.1" cy="404.9" r="6" fill-opacity="0.27"/><circle cx="717.4" cy="404.9" r="6" fill-opacity="0.73"/><circle cx="740.7" cy="404.9" r="6" fill-opacity="0.58"/><circle cx="134.9" cy="425.05" r="6" fill-opacity="0.65"/><circle cx="158.2" cy="425.05" r="6" fill-opacity="0.69"/><circle cx="181.5" cy="425.05" r="6" fill-opacity="0.57"/><circle cx="204.8" cy="425.05" r="6" fill-opacity="0.71"/><circle cx="228.1" cy="425.05" r="6" fill-opacity="0.23"/><circle cx="251.4" cy="425.05" r="6" fill-opacity="0.24"/><circle cx="274.7" cy="425.05" r="6" fill-opacity="0.65"/><circle cx="298" cy="425.05" r="6" fill-opacity="0.40"/><circle cx="321.3" cy="425.05" r="6" fill-opacity="0.67"/><circle cx="344.6" cy="425.05" r="6" fill-opacity="0.68"/><circle cx="367.9" cy="425.05" r="6" fill-opacity="0.29"/><circle cx="391.2" cy="425.05" r="6" fill-opacity="0.57"/><circle cx="414.5" cy="425.05" r="6" fill-opacity="0.68"/><circle cx="437.8" cy="425.05" r="6" fill-opacity="0.47"/><circle cx="461.1" cy="425.05" r="6" fill-opacity="0.37"/><circle cx="484.4" cy="425.05" r="6" fill-opacity="0.73"/><circle cx="507.7" cy="425.05" r="6" fill-opacity="0.39"/><circle cx="531" cy="425.05" r="6" fill-opacity="0.58"/><circle cx="554.3" cy="425.05" r="6" fill-opacity="0.67"/><circle cx="577.6" cy="425.05" r="6" fill-opacity="0.40"/><circle cx="600.9" cy="425.05" r="6" fill-opacity="0.73"/><circle cx="624.2" cy="425.05" r="6" fill-opacity="0.58"/><circle cx="647.5" cy="425.05" r="6" fill-opacity="0.78"/><circle cx="670.8" cy="425.05" r="6" fill-opacity="0.72"/><circle cx="694.1" cy="425.05" r="6" fill-opacity="0.84"/><circle cx="717.4" cy="425.05" r="6" fill-opacity="0.74"/><circle cx="740.7" cy="425.05" r="6" fill-opacity="0.74"/><circle cx="134.9" cy="445.2" r="6" fill-opacity="0.62"/><circle cx="158.2" cy="445.2" r="6" fill-opacity="0.79"/><circle cx="181.5" cy="445.2" r="6" fill-opacity="0.56"/><circle cx="204.8" cy="445.2" r="6" fill-opacity="0.85"/><circle cx="228.1" cy="445.2" r="6" fill-opacity="0.39"/><circle cx="251.4" cy="445.2" r="6" fill-opacity="0.49"/><circle cx="274.7" cy="445.2" r="6" fill-opacity="0.45"/><circle cx="298" cy="445.2" r="6" fill-opacity="0.61"/><circle cx="321.3" cy="445.2" r="6" fill-opacity="0.50"/><circle cx="344.6" cy="445.2" r="6" fill-opacity="0.68"/><circle cx="367.9" cy="445.2" r="6" fill-opacity="0.67"/><circle cx="391.2" cy="445.2" r="6" fill-opacity="0.41"/><circle cx="414.5" cy="445.2" r="6" fill-opacity="0.45"/><circle cx="437.8" cy="445.2" r="6" fill-opacity="0.64"/><circle cx="461.1" cy="445.2" r="6" fill-opacity="0.42"/><circle cx="484.4" cy="445.2" r="6" fill-opacity="0.57"/><circle cx="507.7" cy="445.2" r="6" fill-opacity="0.38"/><circle cx="531" cy="445.2" r="6" fill-opacity="1.00"/><circle cx="554.3" cy="445.2" r="6" fill-opacity="0.17"/><circle cx="577.6" cy="445.2" r="6" fill-opacity="0.60"/><circle cx="600.9" cy="445.2" r="6" fill-opacity="0.67"/><circle cx="624.2" cy="445.2" r="6" fill-opacity="0.78"/><circle cx="647.5" cy="445.2" r="6" fill-opacity="0.54"/><circle cx="670.8" cy="445.2" r="6" fill-opacity="0.71"/><circle cx="694.1" cy="445.2" r="6" fill-opacity="0.67"/><circle cx="717.4" cy="445.2" r="6" fill-opacity="0.52"/><circle cx="740.7" cy="445.2" r="6" fill-opacity="0.66"/><circle cx="134.9" cy="465.35" r="6" fill-opacity="0.67"/><circle cx="158.2" cy="465.35" r="6" fill-opacity="0.91"/><circle cx="181.5" cy="465.35" r="6" fill-opacity="0.58"/><circle cx="204.8" cy="465.35" r="6" fill-opacity="0.35"/><circle cx="228.1" cy="465.35" r="6" fill-opacity="0.67"/><circle cx="251.4" cy="465.35" r="6" fill-opacity="0.55"/><circle cx="274.7" cy="465.35" r="6" fill-opacity="0.50"/><circle cx="298" cy="465.35" r="6" fill-opacity="0.75"/><circle cx="321.3" cy="465.35" r="6" fill-opacity="0.71"/><circle cx="344.6" cy="465.35" r="6" fill-opacity="0.72"/><circle cx="367.9" cy="465.35" r="6" fill-opacity="0.35"/><circle cx="391.2" cy="465.35" r="6" fill-opacity="0.64"/><circle cx="414.5" cy="465.35" r="6" fill-opacity="0.74"/><circle cx="437.8" cy="465.35" r="6" fill-opacity="0.63"/><circle cx="461.1" cy="465.35" r="6" fill-opacity="0.44"/><circle cx="484.4" cy="465.35" r="6" fill-opacity="0.75"/><circle cx="507.7" cy="465.35" r="6" fill-opacity="0.77"/><circle cx="531" cy="465.35" r="6" fill-opacity="0.45"/><circle cx="554.3" cy="465.35" r="6" fill-opacity="0.44"/><circle cx="577.6" cy="465.35" r="6" fill-opacity="0.54"/><circle cx="600.9" cy="465.35" r="6" fill-opacity="0.71"/><circle cx="624.2" cy="465.35" r="6" fill-opacity="0.61"/><circle cx="647.5" cy="465.35" r="6" fill-opacity="0.59"/><circle cx="670.8" cy="465.35" r="6" fill-opacity="0.46"/><circle cx="694.1" cy="465.35" r="6" fill-opacity="0.73"/><circle cx="717.4" cy="465.35" r="6" fill-opacity="0.89"/><circle cx="740.7" cy="465.35" r="6" fill-opacity="0.65"/><circle cx="134.9" cy="485.5" r="6" fill-opacity="0.91"/><circle cx="158.2" cy="485.5" r="6" fill-opacity="0.61"/><circle cx="181.5" cy="485.5" r="6" fill-opacity="1.00"/><circle cx="204.8" cy="485.5" r="6" fill-opacity="0.43"/><circle cx="228.1" cy="485.5" r="6" fill-opacity="0.75"/><circle cx="251.4" cy="485.5" r="6" fill-opacity="0.57"/><circle cx="274.7" cy="485.5" r="6" fill-opacity="0.74"/><circle cx="298" cy="485.5" r="6" fill-opacity="0.37"/><circle cx="321.3" cy="485.5" r="6" fill-opacity="0.68"/><circle cx="344.6" cy="485.5" r="6" fill-opacity="0.82"/><circle cx="367.9" cy="485.5" r="6" fill-opacity="0.70"/><circle cx="391.2" cy="485.5" r="6" fill-opacity="0.72"/><circle cx="414.5" cy="485.5" r="6" fill-opacity="0.76"/><circle cx="437.8" cy="485.5" r="6" fill-opacity="0.54"/><circle cx="461.1" cy="485.5" r="6" fill-opacity="0.68"/><circle cx="484.4" cy="485.5" r="6" fill-opacity="0.88"/><circle cx="507.7" cy="485.5" r="6" fill-opacity="0.40"/><circle cx="531" cy="485.5" r="6" fill-opacity="0.91"/><circle cx="554.3" cy="485.5" r="6" fill-opacity="0.90"/><circle cx="577.6" cy="485.5" r="6" fill-opacity="0.66"/><circle cx="600.9" cy="485.5" r="6" fill-opacity="0.74"/><circle cx="624.2" cy="485.5" r="6" fill-opacity="0.78"/><circle cx="647.5" cy="485.5" r="6" fill-opacity="0.57"/><circle cx="670.8" cy="485.5" r="6" fill-opacity="0.46"/><circle cx="694.1" cy="485.5" r="6" fill-opacity="0.66"/><circle cx="717.4" cy="485.5" r="6" fill-opacity="1.00"/><circle cx="740.7" cy="485.5" r="6" fill-opacity="0.46"/><circle cx="134.9" cy="505.65" r="6" fill-opacity="0.74"/><circle cx="158.2" cy="505.65" r="6" fill-opacity="1.00"/><circle cx="181.5" cy="505.65" r="6" fill-opacity="0.69"/><circle cx="204.8" cy="505.65" r="6" fill-opacity="0.71"/><circle cx="228.1" cy="505.65" r="6" fill-opacity="0.59"/><circle cx="251.4" cy="505.65" r="6" fill-opacity="0.52"/><circle cx="274.7" cy="505.65" r="6" fill-opacity="0.58"/><circle cx="298" cy="505.65" r="6" fill-opacity="0.80"/><circle cx="321.3" cy="505.65" r="6" fill-opacity="0.58"/><circle cx="344.6" cy="505.65" r="6" fill-opacity="0.78"/><circle cx="367.9" cy="505.65" r="6" fill-opacity="0.46"/><circle cx="391.2" cy="505.65" r="6" fill-opacity="0.65"/><circle cx="414.5" cy="505.65" r="6" fill-opacity="0.80"/><circle cx="437.8" cy="505.65" r="6" fill-opacity="0.63"/><circle cx="461.1" cy="505.65" r="6" fill-opacity="0.81"/><circle cx="484.4" cy="505.65" r="6" fill-opacity="0.59"/><circle cx="507.7" cy="505.65" r="6" fill-opacity="0.63"/><circle cx="531" cy="505.65" r="6" fill-opacity="0.80"/><circle cx="554.3" cy="505.65" r="6" fill-opacity="0.98"/><circle cx="577.6" cy="505.65" r="6" fill-opacity="0.49"/><circle cx="600.9" cy="505.65" r="6" fill-opacity="0.84"/><circle cx="624.2" cy="505.65" r="6" fill-opacity="0.37"/><circle cx="647.5" cy="505.65" r="6" fill-opacity="0.56"/><circle cx="670.8" cy="505.65" r="6" fill-opacity="0.38"/><circle cx="694.1" cy="505.65" r="6" fill-opacity="0.58"/><circle cx="717.4" cy="505.65" r="6" fill-opacity="0.69"/><circle cx="740.7" cy="505.65" r="6" fill-opacity="0.54"/><circle cx="134.9" cy="525.8" r="6" fill-opacity="0.79"/><circle cx="158.2" cy="525.8" r="6" fill-opacity="0.69"/><circle cx="181.5" cy="525.8" r="6" fill-opacity="0.55"/><circle cx="204.8" cy="525.8" r="6" fill-opacity="0.93"/><circle cx="228.1" cy="525.8" r="6" fill-opacity="0.86"/><circle cx="251.4" cy="525.8" r="6" fill-opacity="0.82"/><circle cx="274.7" cy="525.8" r="6" fill-opacity="0.85"/><circle cx="298" cy="525.8" r="6" fill-opacity="0.66"/><circle cx="321.3" cy="525.8" r="6" fill-opacity="0.75"/><circle cx="344.6" cy="525.8" r="6" fill-opacity="0.38"/><circle cx="367.9" cy="525.8" r="6" fill-opacity="0.64"/><circle cx="391.2" cy="525.8" r="6" fill-opacity="0.69"/><circle cx="414.5" cy="525.8" r="6" fill-opacity="0.79"/><circle cx="437.8" cy="525.8" r="6" fill-opacity="0.67"/><circle cx="461.1" cy="525.8" r="6" fill-opacity="0.59"/><circle cx="484.4" cy="525.8" r="6" fill-opacity="0.59"/><circle cx="507.7" cy="525.8" r="6" fill-opacity="1.00"/><circle cx="531" cy="525.8" r="6" fill-opacity="0.90"/><circle cx="554.3" cy="525.8" r="6" fill-opacity="0.85"/><circle cx="577.6" cy="525.8" r="6" fill-opacity="0.62"/><circle cx="600.9" cy="525.8" r="6" fill-opacity="0.83"/><circle cx="624.2" cy="525.8" r="6" fill-opacity="0.72"/><circle cx="647.5" cy="525.8" r="6" fill-opacity="0.42"/><circle cx="670.8" cy="525.8" r="6" fill-opacity="0.73"/><circle cx="694.1" cy="525.8" r="6" fill-opacity="0.44"/><circle cx="717.4" cy="525.8" r="6" fill-opacity="0.56"/><circle cx="740.7" cy="525.8" r="6" fill-opacity="0.76"/><circle cx="134.9" cy="545.95" r="6" fill-opacity="0.58"/><circle cx="158.2" cy="545.95" r="6" fill-opacity="0.13"/><circle cx="181.5" cy="545.95" r="6" fill-opacity="0.36"/><circle cx="204.8" cy="545.95" r="6" fill-opacity="0.36"/><circle cx="228.1" cy="545.95" r="6" fill-opacity="1.00"/><circle cx="251.4" cy="545.95" r="6" fill-opacity="0.79"/><circle cx="274.7" cy="545.95" r="6" fill-opacity="0.80"/><circle cx="298" cy="545.95" r="6" fill-opacity="0.86"/><circle cx="321.3" cy="545.95" r="6" fill-opacity="0.69"/><circle cx="344.6" cy="545.95" r="6" fill-opacity="0.54"/><circle cx="367.9" cy="545.95" r="6" fill-opacity="0.92"/><circle cx="391.2" cy="545.95" r="6" fill-opacity="1.00"/><circle cx="414.5" cy="545.95" r="6" fill-opacity="0.88"/><circle cx="437.8" cy="545.95" r="6" fill-opacity="0.59"/><circle cx="461.1" cy="545.95" r="6" fill-opacity="0.76"/><circle cx="484.4" cy="545.95" r="6" fill-opacity="0.69"/><circle cx="507.7" cy="545.95" r="6" fill-opacity="0.79"/><circle cx="531" cy="545.95" r="6" fill-opacity="0.91"/><circle cx="554.3" cy="545.95" r="6" fill-opacity="0.76"/><circle cx="577.6" cy="545.95" r="6" fill-opacity="0.84"/><circle cx="600.9" cy="545.95" r="6" fill-opacity="0.81"/><circle cx="624.2" cy="545.95" r="6" fill-opacity="0.63"/><circle cx="647.5" cy="545.95" r="6" fill-opacity="0.55"/><circle cx="670.8" cy="545.95" r="6" fill-opacity="0.44"/><circle cx="694.1" cy="545.95" r="6" fill-opacity="0.50"/><circle cx="717.4" cy="545.95" r="6" fill-opacity="0.34"/><circle cx="740.7" cy="545.95" r="6" fill-opacity="0.53"/><circle cx="134.9" cy="566.1" r="6" fill-opacity="0.83"/><circle cx="158.2" cy="566.1" r="6" fill-opacity="0.54"/><circle cx="181.5" cy="566.1" r="6" fill-opacity="0.69"/><circle cx="204.8" cy="566.1" r="6" fill-opacity="0.59"/><circle cx="228.1" cy="566.1" r="6" fill-opacity="0.62"/><circle cx="251.4" cy="566.1" r="6" fill-opacity="0.81"/><circle cx="274.7" cy="566.1" r="6" fill-opacity="0.82"/><circle cx="298" cy="566.1" r="6" fill-opacity="0.47"/><circle cx="321.3" cy="566.1" r="6" fill-opacity="0.55"/><circle cx="344.6" cy="566.1" r="6" fill-opacity="0.59"/><circle cx="367.9" cy="566.1" r="6" fill-opacity="0.73"/><circle cx="391.2" cy="566.1" r="6" fill-opacity="0.67"/><circle cx="414.5" cy="566.1" r="6" fill-opacity="0.52"/><circle cx="437.8" cy="566.1" r="6" fill-opacity="0.58"/><circle cx="461.1" cy="566.1" r="6" fill-opacity="0.39"/><circle cx="484.4" cy="566.1" r="6" fill-opacity="0.46"/><circle cx="507.7" cy="566.1" r="6" fill-opacity="0.60"/><circle cx="531" cy="566.1" r="6" fill-opacity="0.42"/><circle cx="554.3" cy="566.1" r="6" fill-opacity="0.65"/><circle cx="577.6" cy="566.1" r="6" fill-opacity="0.89"/><circle cx="600.9" cy="566.1" r="6" fill-opacity="0.66"/><circle cx="624.2" cy="566.1" r="6" fill-opacity="0.67"/><circle cx="647.5" cy="566.1" r="6" fill-opacity="0.51"/><circle cx="670.8" cy="566.1" r="6" fill-opacity="0.58"/><circle cx="694.1" cy="566.1" r="6" fill-opacity="0.63"/><circle cx="717.4" cy="566.1" r="6" fill-opacity="0.51"/><circle cx="740.7" cy="566.1" r="6" fill-opacity="0.39"/><circle cx="134.9" cy="586.25" r="6" fill-opacity="0.96"/><circle cx="158.2" cy="586.25" r="6" fill-opacity="0.76"/><circle cx="181.5" cy="586.25" r="6" fill-opacity="0.66"/><circle cx="204.8" cy="586.25" r="6" fill-opacity="0.44"/><circle cx="228.1" cy="586.25" r="6" fill-opacity="0.83"/><circle cx="251.4" cy="586.25" r="6" fill-opacity="0.75"/><circle cx="274.7" cy="586.25" r="6" fill-opacity="0.54"/><circle cx="298" cy="586.25" r="6" fill-opacity="0.67"/><circle cx="321.3" cy="586.25" r="6" fill-opacity="0.69"/><circle cx="344.6" cy="586.25" r="6" fill-opacity="0.97"/><circle cx="367.9" cy="586.25" r="6" fill-opacity="0.98"/><circle cx="391.2" cy="586.25" r="6" fill-opacity="0.55"/><circle cx="414.5" cy="586.25" r="6" fill-opacity="0.71"/><circle cx="437.8" cy="586.25" r="6" fill-opacity="0.80"/><circle cx="461.1" cy="586.25" r="6" fill-opacity="0.63"/><circle cx="484.4" cy="586.25" r="6" fill-opacity="0.42"/><circle cx="507.7" cy="586.25" r="6" fill-opacity="0.10"/><circle cx="531" cy="586.25" r="6" fill-opacity="0.47"/><circle cx="554.3" cy="586.25" r="6" fill-opacity="0.46"/><circle cx="577.6" cy="586.25" r="6" fill-opacity="0.41"/><circle cx="600.9" cy="586.25" r="6" fill-opacity="0.72"/><circle cx="624.2" cy="586.25" r="6" fill-opacity="0.80"/><circle cx="647.5" cy="586.25" r="6" fill-opacity="0.45"/><circle cx="670.8" cy="586.25" r="6" fill-opacity="0.45"/><circle cx="694.1" cy="586.25" r="6" fill-opacity="0.34"/><circle cx="717.4" cy="586.25" r="6" fill-opacity="0.52"/><circle cx="740.7" cy="586.25" r="6" fill-opacity="0.64"/><circle cx="134.9" cy="606.4" r="6" fill-opacity="0.62"/><circle cx="158.2" cy="606.4" r="6" fill-opacity="0.82"/><circle cx="181.5" cy="606.4" r="6" fill-opacity="0.78"/><circle cx="204.8" cy="606.4" r="6" fill-opacity="0.57"/><circle cx="228.1" cy="606.4" r="6" fill-opacity="0.58"/><circle cx="251.4" cy="606.4" r="6" fill-opacity="0.73"/><circle cx="274.7" cy="606.4" r="6" fill-opacity="0.27"/><circle cx="298" cy="606.4" r="6" fill-opacity="0.47"/><circle cx="321.3" cy="606.4" r="6" fill-opacity="0.62"/><circle cx="344.6" cy="606.4" r="6" fill-opacity="0.39"/><circle cx="367.9" cy="606.4" r="6" fill-opacity="0.73"/><circle cx="391.2" cy="606.4" r="6" fill-opacity="0.46"/><circle cx="414.5" cy="606.4" r="6" fill-opacity="0.65"/><circle cx="437.8" cy="606.4" r="6" fill-opacity="0.42"/><circle cx="461.1" cy="606.4" r="6" fill-opacity="0.55"/><circle cx="484.4" cy="606.4" r="6" fill-opacity="0.29"/><circle cx="507.7" cy="606.4" r="6" fill-opacity="0.44"/><circle cx="531" cy="606.4" r="6" fill-opacity="0.30"/><circle cx="554.3" cy="606.4" r="6" fill-opacity="0.46"/><circle cx="577.6" cy="606.4" r="6" fill-opacity="0.40"/><circle cx="600.9" cy="606.4" r="6" fill-opacity="0.69"/><circle cx="624.2" cy="606.4" r="6" fill-opacity="0.70"/><circle cx="647.5" cy="606.4" r="6" fill-opacity="0.52"/><circle cx="670.8" cy="606.4" r="6" fill-opacity="0.26"/><circle cx="694.1" cy="606.4" r="6" fill-opacity="0.59"/><circle cx="717.4" cy="606.4" r="6" fill-opacity="0.50"/><circle cx="740.7" cy="606.4" r="6" fill-opacity="0.35"/><circle cx="134.9" cy="626.55" r="6" fill-opacity="0.57"/><circle cx="158.2" cy="626.55" r="6" fill-opacity="0.31"/><circle cx="181.5" cy="626.55" r="6" fill-opacity="0.66"/><circle cx="204.8" cy="626.55" r="6" fill-opacity="0.70"/><circle cx="228.1" cy="626.55" r="6" fill-opacity="0.51"/><circle cx="251.4" cy="626.55" r="6" fill-opacity="0.49"/><circle cx="274.7" cy="626.55" r="6" fill-opacity="0.53"/><circle cx="298" cy="626.55" r="6" fill-opacity="0.58"/><circle cx="321.3" cy="626.55" r="6" fill-opacity="0.37"/><circle cx="344.6" cy="626.55" r="6" fill-opacity="0.40"/><circle cx="367.9" cy="626.55" r="6" fill-opacity="0.76"/><circle cx="391.2" cy="626.55" r="6" fill-opacity="0.84"/><circle cx="414.5" cy="626.55" r="6" fill-opacity="0.83"/><circle cx="437.8" cy="626.55" r="6" fill-opacity="0.28"/><circle cx="461.1" cy="626.55" r="6" fill-opacity="0.48"/><circle cx="484.4" cy="626.55" r="6" fill-opacity="0.26"/><circle cx="507.7" cy="626.55" r="6" fill-opacity="0.47"/><circle cx="531" cy="626.55" r="6" fill-opacity="0.59"/><circle cx="554.3" cy="626.55" r="6" fill-opacity="0.49"/><circle cx="577.6" cy="626.55" r="6" fill-opacity="0.12"/><circle cx="600.9" cy="626.55" r="6" fill-opacity="0.42"/><circle cx="624.2" cy="626.55" r="6" fill-opacity="0.44"/><circle cx="647.5" cy="626.55" r="6" fill-opacity="0.55"/><circle cx="670.8" cy="626.55" r="6" fill-opacity="0.18"/><circle cx="694.1" cy="626.55" r="6" fill-opacity="0.54"/><circle cx="717.4" cy="626.55" r="6" fill-opacity="0.25"/><circle cx="740.7" cy="626.55" r="6" fill-opacity="0.46"/><circle cx="134.9" cy="646.7" r="6" fill-opacity="0.19"/><circle cx="158.2" cy="646.7" r="6" fill-opacity="0.91"/><circle cx="181.5" cy="646.7" r="6" fill-opacity="0.51"/><circle cx="204.8" cy="646.7" r="6" fill-opacity="0.45"/><circle cx="228.1" cy="646.7" r="6" fill-opacity="0.43"/><circle cx="251.4" cy="646.7" r="6" fill-opacity="0.56"/><circle cx="274.7" cy="646.7" r="6" fill-opacity="0.35"/><circle cx="298" cy="646.7" r="6" fill-opacity="0.46"/><circle cx="321.3" cy="646.7" r="6" fill-opacity="0.55"/><circle cx="344.6" cy="646.7" r="6" fill-opacity="0.71"/><circle cx="367.9" cy="646.7" r="6" fill-opacity="0.38"/><circle cx="391.2" cy="646.7" r="6" fill-opacity="0.35"/><circle cx="414.5" cy="646.7" r="6" fill-opacity="0.28"/><circle cx="437.8" cy="646.7" r="6" fill-opacity="0.26"/><circle cx="461.1" cy="646.7" r="6" fill-opacity="0.22"/><circle cx="484.4" cy="646.7" r="6" fill-opacity="0.40"/><circle cx="507.7" cy="646.7" r="6" fill-opacity="0.44"/><circle cx="531" cy="646.7" r="6" fill-opacity="0.20"/><circle cx="554.3" cy="646.7" r="6" fill-opacity="0.67"/><circle cx="577.6" cy="646.7" r="6" fill-opacity="0.60"/><circle cx="600.9" cy="646.7" r="6" fill-opacity="0.43"/><circle cx="624.2" cy="646.7" r="6" fill-opacity="0.36"/><circle cx="647.5" cy="646.7" r="6" fill-opacity="0.40"/><circle cx="670.8" cy="646.7" r="6" fill-opacity="0.38"/><circle cx="694.1" cy="646.7" r="6" fill-opacity="0.15"/><circle cx="717.4" cy="646.7" r="6" fill-opacity="0.49"/><circle cx="740.7" cy="646.7" r="6" fill-opacity="0.33"/><circle cx="134.9" cy="666.85" r="6" fill-opacity="0.46"/><circle cx="158.2" cy="666.85" r="6" fill-opacity="0.54"/><circle cx="181.5" cy="666.85" r="6" fill-opacity="0.33"/><circle cx="204.8" cy="666.85" r="6" fill-opacity="0.39"/><circle cx="228.1" cy="666.85" r="6" fill-opacity="0.46"/><circle cx="251.4" cy="666.85" r="6" fill-opacity="0.37"/><circle cx="274.7" cy="666.85" r="6" fill-opacity="0.39"/><circle cx="298" cy="666.85" r="6" fill-opacity="0.48"/><circle cx="321.3" cy="666.85" r="6" fill-opacity="0.75"/><circle cx="344.6" cy="666.85" r="6" fill-opacity="0.50"/><circle cx="367.9" cy="666.85" r="6" fill-opacity="0.33"/><circle cx="391.2" cy="666.85" r="6" fill-opacity="0.58"/><circle cx="414.5" cy="666.85" r="6" fill-opacity="0.32"/><circle cx="437.8" cy="666.85" r="6" fill-opacity="0.41"/><circle cx="461.1" cy="666.85" r="6" fill-opacity="0.42"/><circle cx="484.4" cy="666.85" r="6" fill-opacity="0.45"/><circle cx="507.7" cy="666.85" r="6" fill-opacity="0.49"/><circle cx="531" cy="666.85" r="6" fill-opacity="0.31"/><circle cx="554.3" cy="666.85" r="6" fill-opacity="0.53"/><circle cx="577.6" cy="666.85" r="6" fill-opacity="0.16"/><circle cx="600.9" cy="666.85" r="6" fill-opacity="0.50"/><circle cx="624.2" cy="666.85" r="6" fill-opacity="0.33"/><circle cx="647.5" cy="666.85" r="6" fill-opacity="0.39"/><circle cx="670.8" cy="666.85" r="6" fill-opacity="0.61"/><circle cx="694.1" cy="666.85" r="6" fill-opacity="0.61"/><circle cx="717.4" cy="666.85" r="6" fill-opacity="0.22"/><circle cx="740.7" cy="666.85" r="6" fill-opacity="0.43"/><circle cx="134.9" cy="687" r="6" fill-opacity="0.46"/><circle cx="158.2" cy="687" r="6" fill-opacity="0.17"/><circle cx="181.5" cy="687" r="6" fill-opacity="0.22"/><circle cx="204.8" cy="687" r="6" fill-opacity="0.24"/><circle cx="228.1" cy="687" r="6" fill-opacity="0.43"/><circle cx="251.4" cy="687" r="6" fill-opacity="0.42"/><circle cx="274.7" cy="687" r="6" fill-opacity="0.33"/><circle cx="298" cy="687" r="6" fill-opacity="0.49"/><circle cx="321.3" cy="687" r="6" fill-opacity="0.61"/><circle cx="344.6" cy="687" r="6" fill-opacity="0.51"/><circle cx="367.9" cy="687" r="6" fill-opacity="0.28"/><circle cx="391.2" cy="687" r="6" fill-opacity="0.59"/><circle cx="414.5" cy="687" r="6" fill-opacity="0.54"/><circle cx="437.8" cy="687" r="6" fill-opacity="0.50"/><circle cx="461.1" cy="687" r="6" fill-opacity="0.18"/><circle cx="484.4" cy="687" r="6" fill-opacity="0.38"/><circle cx="507.7" cy="687" r="6" fill-opacity="0.23"/><circle cx="531" cy="687" r="6" fill-opacity="0.28"/><circle cx="554.3" cy="687" r="6" fill-opacity="0.31"/><circle cx="577.6" cy="687" r="6" fill-opacity="0.59"/><circle cx="600.9" cy="687" r="6" fill-opacity="0.61"/><circle cx="624.2" cy="687" r="6" fill-opacity="0.59"/><circle cx="647.5" cy="687" r="6" fill-opacity="0.57"/><circle cx="670.8" cy="687" r="6" fill-opacity="0.57"/><circle cx="694.1" cy="687" r="6" fill-opacity="0.58"/><circle cx="717.4" cy="687" r="6" fill-opacity="0.44"/><circle cx="740.7" cy="687" r="6" fill-opacity="0.45"/></g>
</g>
<g filter="url(#fA2)"><rect x="143" y="37" width="50.83" height="54.92" fill="#fff" fill-opacity="0.02"/><rect x="193.33" y="37" width="50.83" height="54.92" fill="#000" fill-opacity="0.23"/><rect x="243.67" y="37" width="50.83" height="54.92" fill="#fff" fill-opacity="0.02"/><rect x="294" y="37" width="50.83" height="54.92" fill="#000" fill-opacity="0.23"/><rect x="344.33" y="37" width="50.83" height="54.92" fill="#fff" fill-opacity="0.10"/><rect x="394.67" y="37" width="50.83" height="54.92" fill="#fff" fill-opacity="0.02"/><rect x="445" y="37" width="50.83" height="54.92" fill="#000" fill-opacity="0.04"/><rect x="495.33" y="37" width="50.83" height="54.92" fill="#fff" fill-opacity="0.02"/><rect x="545.67" y="37" width="50.83" height="54.92" fill="#000" fill-opacity="0.04"/><rect x="596" y="37" width="50.83" height="54.92" fill="#000" fill-opacity="0.23"/><rect x="646.33" y="37" width="50.83" height="54.92" fill="#fff" fill-opacity="0.02"/><rect x="696.67" y="37" width="50.83" height="54.92" fill="#fff" fill-opacity="0.10"/><rect x="143" y="91.42" width="50.83" height="54.92" fill="#000" fill-opacity="0.04"/><rect x="193.33" y="91.42" width="50.83" height="54.92" fill="#fff" fill-opacity="0.02"/><rect x="243.67" y="91.42" width="50.83" height="54.92" fill="#fff" fill-opacity="0.02"/><rect x="294" y="91.42" width="50.83" height="54.92" fill="#fff" fill-opacity="0.02"/><rect x="344.33" y="91.42" width="50.83" height="54.92" fill="#fff" fill-opacity="0.10"/><rect x="394.67" y="91.42" width="50.83" height="54.92" fill="#fff" fill-opacity="0.10"/><rect x="445" y="91.42" width="50.83" height="54.92" fill="#fff" fill-opacity="0.02"/><rect x="495.33" y="91.42" width="50.83" height="54.92" fill="#fff" fill-opacity="0.10"/><rect x="545.67" y="91.42" width="50.83" height="54.92" fill="#fff" fill-opacity="0.10"/><rect x="596" y="91.42" width="50.83" height="54.92" fill="#fff" fill-opacity="0.18"/><rect x="646.33" y="91.42" width="50.83" height="54.92" fill="#fff" fill-opacity="0.02"/><rect x="696.67" y="91.42" width="50.83" height="54.92" fill="#fff" fill-opacity="0.02"/><rect x="143" y="145.83" width="50.83" height="54.92" fill="#fff" fill-opacity="0.18"/><rect x="193.33" y="145.83" width="50.83" height="54.92" fill="#fff" fill-opacity="0.02"/><rect x="243.67" y="145.83" width="50.83" height="54.92" fill="#000" fill-opacity="0.23"/><rect x="294" y="145.83" width="50.83" height="54.92" fill="#000" fill-opacity="0.04"/><rect x="344.33" y="145.83" width="50.83" height="54.92" fill="#fff" fill-opacity="0.18"/><rect x="394.67" y="145.83" width="50.83" height="54.92" fill="#fff" fill-opacity="0.18"/><rect x="445" y="145.83" width="50.83" height="54.92" fill="#fff" fill-opacity="0.02"/><rect x="495.33" y="145.83" width="50.83" height="54.92" fill="#fff" fill-opacity="0.02"/><rect x="545.67" y="145.83" width="50.83" height="54.92" fill="#fff" fill-opacity="0.02"/><rect x="596" y="145.83" width="50.83" height="54.92" fill="#000" fill-opacity="0.23"/><rect x="646.33" y="145.83" width="50.83" height="54.92" fill="#000" fill-opacity="0.04"/><rect x="696.67" y="145.83" width="50.83" height="54.92" fill="#fff" fill-opacity="0.10"/><rect x="143" y="200.25" width="50.83" height="54.92" fill="#fff" fill-opacity="0.18"/><rect x="193.33" y="200.25" width="50.83" height="54.92" fill="#fff" fill-opacity="0.18"/><rect x="243.67" y="200.25" width="50.83" height="54.92" fill="#000" fill-opacity="0.04"/><rect x="294" y="200.25" width="50.83" height="54.92" fill="#000" fill-opacity="0.23"/><rect x="344.33" y="200.25" width="50.83" height="54.92" fill="#fff" fill-opacity="0.02"/><rect x="394.67" y="200.25" width="50.83" height="54.92" fill="#000" fill-opacity="0.23"/><rect x="445" y="200.25" width="50.83" height="54.92" fill="#fff" fill-opacity="0.02"/><rect x="495.33" y="200.25" width="50.83" height="54.92" fill="#fff" fill-opacity="0.02"/><rect x="545.67" y="200.25" width="50.83" height="54.92" fill="#fff" fill-opacity="0.02"/><rect x="596" y="200.25" width="50.83" height="54.92" fill="#fff" fill-opacity="0.02"/><rect x="646.33" y="200.25" width="50.83" height="54.92" fill="#000" fill-opacity="0.42"/><rect x="696.67" y="200.25" width="50.83" height="54.92" fill="#000" fill-opacity="0.04"/><rect x="143" y="254.67" width="50.83" height="54.92" fill="#fff" fill-opacity="0.27"/><rect x="193.33" y="254.67" width="50.83" height="54.92" fill="#fff" fill-opacity="0.18"/><rect x="243.67" y="254.67" width="50.83" height="54.92" fill="#000" fill-opacity="0.42"/><rect x="294" y="254.67" width="50.83" height="54.92" fill="#000" fill-opacity="0.23"/><rect x="344.33" y="254.67" width="50.83" height="54.92" fill="#000" fill-opacity="0.04"/><rect x="394.67" y="254.67" width="50.83" height="54.92" fill="#000" fill-opacity="0.23"/><rect x="445" y="254.67" width="50.83" height="54.92" fill="#000" fill-opacity="0.42"/><rect x="495.33" y="254.67" width="50.83" height="54.92" fill="#fff" fill-opacity="0.02"/><rect x="545.67" y="254.67" width="50.83" height="54.92" fill="#fff" fill-opacity="0.02"/><rect x="596" y="254.67" width="50.83" height="54.92" fill="#fff" fill-opacity="0.10"/><rect x="646.33" y="254.67" width="50.83" height="54.92" fill="#000" fill-opacity="0.23"/><rect x="696.67" y="254.67" width="50.83" height="54.92" fill="#000" fill-opacity="0.23"/><rect x="143" y="309.08" width="50.83" height="54.92" fill="#000" fill-opacity="0.04"/><rect x="193.33" y="309.08" width="50.83" height="54.92" fill="#000" fill-opacity="0.04"/><rect x="243.67" y="309.08" width="50.83" height="54.92" fill="#000" fill-opacity="0.04"/><rect x="294" y="309.08" width="50.83" height="54.92" fill="#000" fill-opacity="0.23"/><rect x="344.33" y="309.08" width="50.83" height="54.92" fill="#fff" fill-opacity="0.02"/><rect x="394.67" y="309.08" width="50.83" height="54.92" fill="#000" fill-opacity="0.23"/><rect x="445" y="309.08" width="50.83" height="54.92" fill="#000" fill-opacity="0.04"/><rect x="495.33" y="309.08" width="50.83" height="54.92" fill="#000" fill-opacity="0.04"/><rect x="545.67" y="309.08" width="50.83" height="54.92" fill="#fff" fill-opacity="0.02"/><rect x="596" y="309.08" width="50.83" height="54.92" fill="#fff" fill-opacity="0.02"/><rect x="646.33" y="309.08" width="50.83" height="54.92" fill="#000" fill-opacity="0.04"/><rect x="696.67" y="309.08" width="50.83" height="54.92" fill="#000" fill-opacity="0.23"/><rect x="143" y="363.5" width="50.83" height="54.92" fill="#000" fill-opacity="0.04"/><rect x="193.33" y="363.5" width="50.83" height="54.92" fill="#fff" fill-opacity="0.02"/><rect x="243.67" y="363.5" width="50.83" height="54.92" fill="#000" fill-opacity="0.04"/><rect x="294" y="363.5" width="50.83" height="54.92" fill="#000" fill-opacity="0.04"/><rect x="344.33" y="363.5" width="50.83" height="54.92" fill="#000" fill-opacity="0.04"/><rect x="394.67" y="363.5" width="50.83" height="54.92" fill="#000" fill-opacity="0.04"/><rect x="445" y="363.5" width="50.83" height="54.92" fill="#000" fill-opacity="0.04"/><rect x="495.33" y="363.5" width="50.83" height="54.92" fill="#000" fill-opacity="0.04"/><rect x="545.67" y="363.5" width="50.83" height="54.92" fill="#fff" fill-opacity="0.02"/><rect x="596" y="363.5" width="50.83" height="54.92" fill="#000" fill-opacity="0.42"/><rect x="646.33" y="363.5" width="50.83" height="54.92" fill="#000" fill-opacity="0.23"/><rect x="696.67" y="363.5" width="50.83" height="54.92" fill="#000" fill-opacity="0.04"/><rect x="143" y="417.92" width="50.83" height="54.92" fill="#000" fill-opacity="0.42"/><rect x="193.33" y="417.92" width="50.83" height="54.92" fill="#fff" fill-opacity="0.10"/><rect x="243.67" y="417.92" width="50.83" height="54.92" fill="#000" fill-opacity="0.04"/><rect x="294" y="417.92" width="50.83" height="54.92" fill="#000" fill-opacity="0.23"/><rect x="344.33" y="417.92" width="50.83" height="54.92" fill="#000" fill-opacity="0.04"/><rect x="394.67" y="417.92" width="50.83" height="54.92" fill="#000" fill-opacity="0.04"/><rect x="445" y="417.92" width="50.83" height="54.92" fill="#fff" fill-opacity="0.02"/><rect x="495.33" y="417.92" width="50.83" height="54.92" fill="#000" fill-opacity="0.04"/><rect x="545.67" y="417.92" width="50.83" height="54.92" fill="#000" fill-opacity="0.04"/><rect x="596" y="417.92" width="50.83" height="54.92" fill="#000" fill-opacity="0.23"/><rect x="646.33" y="417.92" width="50.83" height="54.92" fill="#000" fill-opacity="0.42"/><rect x="696.67" y="417.92" width="50.83" height="54.92" fill="#000" fill-opacity="0.04"/><rect x="143" y="472.33" width="50.83" height="54.92" fill="#000" fill-opacity="0.23"/><rect x="193.33" y="472.33" width="50.83" height="54.92" fill="#000" fill-opacity="0.42"/><rect x="243.67" y="472.33" width="50.83" height="54.92" fill="#000" fill-opacity="0.23"/><rect x="294" y="472.33" width="50.83" height="54.92" fill="#000" fill-opacity="0.42"/><rect x="344.33" y="472.33" width="50.83" height="54.92" fill="#000" fill-opacity="0.04"/><rect x="394.67" y="472.33" width="50.83" height="54.92" fill="#000" fill-opacity="0.23"/><rect x="445" y="472.33" width="50.83" height="54.92" fill="#000" fill-opacity="0.42"/><rect x="495.33" y="472.33" width="50.83" height="54.92" fill="#000" fill-opacity="0.42"/><rect x="545.67" y="472.33" width="50.83" height="54.92" fill="#000" fill-opacity="0.42"/><rect x="596" y="472.33" width="50.83" height="54.92" fill="#000" fill-opacity="0.42"/><rect x="646.33" y="472.33" width="50.83" height="54.92" fill="#000" fill-opacity="0.04"/><rect x="696.67" y="472.33" width="50.83" height="54.92" fill="#000" fill-opacity="0.62"/><rect x="143" y="526.75" width="50.83" height="54.92" fill="#000" fill-opacity="0.04"/><rect x="193.33" y="526.75" width="50.83" height="54.92" fill="#000" fill-opacity="0.23"/><rect x="243.67" y="526.75" width="50.83" height="54.92" fill="#000" fill-opacity="0.75"/><rect x="294" y="526.75" width="50.83" height="54.92" fill="#000" fill-opacity="0.23"/><rect x="344.33" y="526.75" width="50.83" height="54.92" fill="#000" fill-opacity="0.23"/><rect x="394.67" y="526.75" width="50.83" height="54.92" fill="#000" fill-opacity="0.62"/><rect x="445" y="526.75" width="50.83" height="54.92" fill="#000" fill-opacity="0.04"/><rect x="495.33" y="526.75" width="50.83" height="54.92" fill="#000" fill-opacity="0.23"/><rect x="545.67" y="526.75" width="50.83" height="54.92" fill="#000" fill-opacity="0.23"/><rect x="596" y="526.75" width="50.83" height="54.92" fill="#000" fill-opacity="0.42"/><rect x="646.33" y="526.75" width="50.83" height="54.92" fill="#000" fill-opacity="0.04"/><rect x="696.67" y="526.75" width="50.83" height="54.92" fill="#fff" fill-opacity="0.02"/><rect x="143" y="581.17" width="50.83" height="54.92" fill="#000" fill-opacity="0.23"/><rect x="193.33" y="581.17" width="50.83" height="54.92" fill="#000" fill-opacity="0.42"/><rect x="243.67" y="581.17" width="50.83" height="54.92" fill="#000" fill-opacity="0.04"/><rect x="294" y="581.17" width="50.83" height="54.92" fill="#fff" fill-opacity="0.02"/><rect x="344.33" y="581.17" width="50.83" height="54.92" fill="#000" fill-opacity="0.42"/><rect x="394.67" y="581.17" width="50.83" height="54.92" fill="#000" fill-opacity="0.04"/><rect x="445" y="581.17" width="50.83" height="54.92" fill="#fff" fill-opacity="0.10"/><rect x="495.33" y="581.17" width="50.83" height="54.92" fill="#fff" fill-opacity="0.10"/><rect x="545.67" y="581.17" width="50.83" height="54.92" fill="#fff" fill-opacity="0.02"/><rect x="596" y="581.17" width="50.83" height="54.92" fill="#000" fill-opacity="0.04"/><rect x="646.33" y="581.17" width="50.83" height="54.92" fill="#fff" fill-opacity="0.10"/><rect x="696.67" y="581.17" width="50.83" height="54.92" fill="#fff" fill-opacity="0.18"/><rect x="143" y="635.58" width="50.83" height="54.92" fill="#fff" fill-opacity="0.10"/><rect x="193.33" y="635.58" width="50.83" height="54.92" fill="#fff" fill-opacity="0.10"/><rect x="243.67" y="635.58" width="50.83" height="54.92" fill="#fff" fill-opacity="0.10"/><rect x="294" y="635.58" width="50.83" height="54.92" fill="#000" fill-opacity="0.04"/><rect x="344.33" y="635.58" width="50.83" height="54.92" fill="#fff" fill-opacity="0.10"/><rect x="394.67" y="635.58" width="50.83" height="54.92" fill="#fff" fill-opacity="0.10"/><rect x="445" y="635.58" width="50.83" height="54.92" fill="#fff" fill-opacity="0.10"/><rect x="495.33" y="635.58" width="50.83" height="54.92" fill="#fff" fill-opacity="0.10"/><rect x="545.67" y="635.58" width="50.83" height="54.92" fill="#fff" fill-opacity="0.02"/><rect x="596" y="635.58" width="50.83" height="54.92" fill="#fff" fill-opacity="0.10"/><rect x="646.33" y="635.58" width="50.83" height="54.92" fill="#fff" fill-opacity="0.02"/><rect x="696.67" y="635.58" width="50.83" height="54.92" fill="#fff" fill-opacity="0.02"/></g>
<rect x="143" y="37" width="604" height="653" filter="url(#fAn)" opacity="0.5"/>
</g>
<rect x="426" y="502" width="216" height="38" fill="none" stroke="#ffffff" stroke-width="4"/>
<rect x="606" y="671" width="125" height="9" fill="#ffffff" stroke="none" stroke-width="0"/>
<text x="613" y="662" font-size="53" font-weight="bold" fill="#ffffff">2 nm</text>
<text x="462" y="205.3" font-size="42" font-weight="bold" fill="#ffffff">0.38 nm</text>
<rect x="471" y="231" width="63" height="6.4" fill="#ffffff" stroke="none" stroke-width="0"/>
<rect x="557" y="231" width="60" height="6.4" fill="#ffffff" stroke="none" stroke-width="0"/>
<rect x="532.5" y="220" width="6" height="29.3" fill="#ffffff" stroke="none" stroke-width="0"/>
<rect x="550.8" y="220" width="6" height="29.3" fill="#ffffff" stroke="none" stroke-width="0"/>
<polygon points="327.62,233.66 318.87,263.74 311.19,261.5 315.6,285.7 332.31,267.65 324.63,265.41 333.38,235.34" fill="#fff"/>
<polygon points="259.05,470.46 228.91,480.56 226.36,472.98 209,490.4 233.36,493.84 230.81,486.25 260.95,476.14" fill="#fff"/>
<polygon points="338.07,553.65 306.58,563.92 304.1,556.32 286.6,573.6 310.93,577.23 308.45,569.63 339.93,559.35" fill="#fff"/>
<polygon points="466.19,600.74 436.69,585.33 440.39,578.24 415.8,577.8 430.21,597.74 433.91,590.65 463.41,606.06" fill="#fff"/>
<polygon points="677.77,458.31 699.46,482.44 693.51,487.79 716.4,496.8 709.88,473.08 703.93,478.43 682.23,454.29" fill="#fff"/>
<text x="48.5" y="94.5" font-size="66" font-weight="bold" fill="#000">(a)</text>
<g clip-path="url(#clpB)">
<g filter="url(#fB)">
<rect x="874" y="-4" width="712" height="734" fill="#4d4d4d"/>
<g fill="#767676"><rect x="1077.5" y="8.03" width="49.5" height="9.3"/><rect x="1275.5" y="8.63" width="49.5" height="9.65"/><rect x="1374.5" y="11.28" width="49.5" height="9.86"/><rect x="1424" y="10.28" width="49.5" height="10"/><rect x="1473.5" y="10.39" width="49.5" height="9.11"/><rect x="1172.42" y="13.68" width="8.07" height="42"/><rect x="1370.34" y="16.05" width="8.41" height="42"/><rect x="1470.04" y="17.25" width="9.38" height="42"/><rect x="1127" y="45.68" width="49.5" height="10.35"/><rect x="1325" y="50.58" width="49.5" height="8.66"/><rect x="923.93" y="52.69" width="9.97" height="42"/><rect x="1124.5" y="55.1" width="8.66" height="42"/><rect x="1222.1" y="56.27" width="9.91" height="42"/><rect x="1371.05" y="58.06" width="9.5" height="42"/><rect x="1469.62" y="59.24" width="8.67" height="42"/><rect x="929" y="91.81" width="49.5" height="10.22"/><rect x="978.5" y="92.46" width="49.5" height="10.25"/><rect x="1127" y="93" width="49.5" height="10.97"/><rect x="1176.5" y="93.76" width="49.5" height="9.48"/><rect x="1275.5" y="95.81" width="49.5" height="8.56"/><rect x="1325" y="95.66" width="49.5" height="10.64"/><rect x="1424" y="93.98" width="49.5" height="8.1"/><rect x="1473.5" y="98.15" width="49.5" height="8.18"/><rect x="1020.74" y="96.15" width="8.79" height="42"/><rect x="1120.45" y="97.35" width="8.57" height="42"/><rect x="1168.52" y="97.93" width="8.47" height="42"/><rect x="1221.46" y="98.56" width="9.14" height="42"/><rect x="1267.28" y="99.11" width="8.93" height="42"/><rect x="1518.05" y="102.12" width="8.35" height="42"/><rect x="1028" y="134.56" width="49.5" height="10.54"/><rect x="1127" y="135.45" width="49.5" height="9.4"/><rect x="1374.5" y="139.54" width="49.5" height="10.22"/><rect x="925.56" y="137.01" width="8.76" height="42"/><rect x="1021.56" y="138.16" width="8.59" height="42"/><rect x="1071.24" y="138.76" width="8.44" height="42"/><rect x="1122.24" y="139.37" width="9.15" height="42"/><rect x="1172.36" y="139.97" width="9.14" height="42"/><rect x="1028" y="175.93" width="49.5" height="8.45"/><rect x="1077.5" y="177.52" width="49.5" height="10.31"/><rect x="1127" y="172.36" width="49.5" height="10.09"/><rect x="1176.5" y="176.83" width="49.5" height="10.26"/><rect x="1473.5" y="179.08" width="49.5" height="9.85"/><rect x="925.38" y="179.31" width="9.32" height="42"/><rect x="1123.25" y="181.69" width="8.23" height="42"/><rect x="1220.42" y="182.85" width="9.16" height="42"/><rect x="1316.57" y="184" width="9.12" height="42"/><rect x="1025.29" y="222.51" width="9.42" height="42"/><rect x="1321.63" y="226.07" width="8.73" height="42"/><rect x="929" y="258.1" width="49.5" height="8.85"/><rect x="1077.5" y="261.27" width="49.5" height="8.53"/><rect x="1127" y="264.48" width="49.5" height="10.42"/><rect x="1176.5" y="260.44" width="49.5" height="10.26"/><rect x="1226" y="262.85" width="49.5" height="9.84"/><rect x="1325" y="267.62" width="49.5" height="9.41"/><rect x="1374.5" y="265.38" width="49.5" height="10.78"/><rect x="1424" y="267.46" width="49.5" height="10.79"/><rect x="1473.5" y="265.5" width="49.5" height="8.06"/><rect x="924.33" y="263.6" width="9.46" height="42"/><rect x="1269.69" y="267.74" width="9.37" height="42"/><rect x="929" y="302.3" width="49.5" height="9.1"/><rect x="978.5" y="300.92" width="49.5" height="8.11"/><rect x="1028" y="301.54" width="49.5" height="9.81"/><rect x="1226" y="307.04" width="49.5" height="9.08"/><rect x="1275.5" y="304.56" width="49.5" height="9.8"/><rect x="927.16" y="305.63" width="9.31" height="42"/><rect x="1074.39" y="307.4" width="8.38" height="42"/><rect x="1172.88" y="308.58" width="8.25" height="42"/><rect x="1221.1" y="309.16" width="9.39" height="42"/><rect x="929" y="340.26" width="49.5" height="10.02"/><rect x="978.5" y="342.22" width="49.5" height="10.15"/><rect x="1028" y="344.16" width="49.5" height="9.09"/><rect x="1077.5" y="346.99" width="49.5" height="10.1"/><rect x="1176.5" y="344.67" width="49.5" height="9.14"/><rect x="1226" y="347.83" width="49.5" height="8.65"/><rect x="1275.5" y="348.11" width="49.5" height="10"/><rect x="1325" y="351.52" width="49.5" height="8.65"/><rect x="1424" y="352.06" width="49.5" height="9.84"/><rect x="1473.5" y="352.03" width="49.5" height="10.69"/><rect x="1121.55" y="350.26" width="9.94" height="42"/><rect x="1221.52" y="351.46" width="8.02" height="42"/><rect x="1319.79" y="352.64" width="8.02" height="42"/><rect x="929" y="387.89" width="49.5" height="8.26"/><rect x="978.5" y="385.83" width="49.5" height="10.41"/><rect x="923.13" y="389.88" width="8.06" height="42"/><rect x="974.16" y="390.5" width="9.53" height="42"/><rect x="1022.97" y="391.08" width="9.33" height="42"/><rect x="1217.88" y="393.42" width="8.61" height="42"/><rect x="1318.87" y="394.63" width="9.69" height="42"/><rect x="978.5" y="429.07" width="49.5" height="9.68"/><rect x="1028" y="427.12" width="49.5" height="9.09"/><rect x="1127" y="430.16" width="49.5" height="9.62"/><rect x="1226" y="429.19" width="49.5" height="8.79"/><rect x="1275.5" y="431.18" width="49.5" height="8.73"/><rect x="1325" y="431.57" width="49.5" height="10.02"/><rect x="1374.5" y="436.6" width="49.5" height="9.23"/><rect x="1424" y="435.89" width="49.5" height="10.93"/><rect x="1473.5" y="434.23" width="49.5" height="9.86"/><rect x="923.35" y="432.19" width="8.22" height="42"/><rect x="1022" y="433.37" width="8.13" height="42"/><rect x="1074.69" y="434" width="8.57" height="42"/><rect x="1120.48" y="434.55" width="8.6" height="42"/><rect x="1371.99" y="437.57" width="8.5" height="42"/><rect x="1416.09" y="438.1" width="9.56" height="42"/><rect x="1470.04" y="438.75" width="8.82" height="42"/><rect x="1517.02" y="439.31" width="9.81" height="42"/><rect x="1077.5" y="470.95" width="49.5" height="8.49"/><rect x="1424" y="479.67" width="49.5" height="10.59"/><rect x="1473.5" y="478.19" width="49.5" height="8.23"/><rect x="1023.61" y="475.39" width="9.71" height="42"/><rect x="1126.4" y="476.62" width="9.42" height="42"/><rect x="929" y="512.62" width="49.5" height="10.69"/><rect x="978.5" y="513.37" width="49.5" height="10.97"/><rect x="1028" y="511.95" width="49.5" height="8.85"/><rect x="1127" y="511.47" width="49.5" height="9.3"/><rect x="1176.5" y="511.15" width="49.5" height="10.89"/><rect x="1226" y="513.49" width="49.5" height="9.17"/><rect x="1275.5" y="513.36" width="49.5" height="10.05"/><rect x="1325" y="510.69" width="49.5" height="10.91"/><rect x="1374.5" y="518.93" width="49.5" height="8.08"/><rect x="1424" y="519.83" width="49.5" height="9.24"/><rect x="1074.62" y="518.3" width="8.94" height="42"/><rect x="1121.08" y="518.86" width="8.89" height="42"/><rect x="929" y="555.5" width="49.5" height="9.19"/><rect x="1077.5" y="557.3" width="49.5" height="10.97"/><rect x="1127" y="558.88" width="49.5" height="9.74"/><rect x="977.54" y="559.14" width="9.85" height="42"/><rect x="1072.56" y="560.28" width="8.28" height="42"/><rect x="1121.88" y="560.87" width="8.54" height="42"/><rect x="1471.45" y="565.06" width="9.42" height="42"/><rect x="1518.49" y="565.63" width="9.4" height="42"/><rect x="929" y="597.28" width="49.5" height="10.12"/><rect x="978.5" y="598.48" width="49.5" height="9.99"/><rect x="1028" y="596.88" width="49.5" height="9.29"/><rect x="1077.5" y="597.12" width="49.5" height="8.02"/><rect x="1127" y="601.72" width="49.5" height="8.19"/><rect x="1226" y="597.38" width="49.5" height="8.83"/><rect x="1275.5" y="601.76" width="49.5" height="9.45"/><rect x="1374.5" y="604.23" width="49.5" height="9.18"/><rect x="1424" y="603.74" width="49.5" height="10.94"/><rect x="1473.5" y="600.74" width="49.5" height="9.32"/><rect x="1121.07" y="603.16" width="9.45" height="42"/><rect x="1274.25" y="605" width="8.6" height="42"/><rect x="1419.73" y="606.74" width="8.23" height="42"/><rect x="1517.72" y="607.92" width="9.84" height="42"/><rect x="1424" y="645.73" width="49.5" height="9.08"/><rect x="1473.5" y="646.58" width="49.5" height="10.83"/><rect x="1073.95" y="644.59" width="9.27" height="42"/><rect x="929" y="678.89" width="49.5" height="9.45"/><rect x="1077.5" y="685.07" width="49.5" height="8.58"/><rect x="1127" y="686.7" width="49.5" height="8.22"/><rect x="1226" y="683.33" width="49.5" height="9.92"/><rect x="1275.5" y="683.92" width="49.5" height="8.55"/><rect x="1325" y="685.61" width="49.5" height="8.09"/><rect x="1374.5" y="684.9" width="49.5" height="10.86"/><rect x="1424" y="687.32" width="49.5" height="8.9"/><rect x="1473.5" y="686.53" width="49.5" height="9.91"/></g>
<g fill="#000"><circle cx="976.92" cy="221.3" r="16"/><circle cx="1076.99" cy="221.88" r="16"/><circle cx="1426.17" cy="311.46" r="16"/><circle cx="1473.18" cy="397.53" r="16"/><circle cx="1523.2" cy="398.18" r="16"/><circle cx="978.62" cy="477.65" r="16"/><circle cx="1176.53" cy="477.79" r="16"/><circle cx="1228.69" cy="477.87" r="16"/><circle cx="1271.33" cy="476.16" r="16"/><circle cx="1227.47" cy="564.13" r="16"/><circle cx="1275.8" cy="560.3" r="16"/><circle cx="1326.2" cy="560.83" r="16"/><circle cx="929.97" cy="642.12" r="16"/><circle cx="1326.46" cy="645.88" r="16"/><circle cx="1160" cy="460" r="13"/><circle cx="1200" cy="455" r="13"/><circle cx="1245" cy="462" r="12"/><circle cx="1290" cy="458" r="11"/><circle cx="1330" cy="470" r="9"/><circle cx="1170" cy="530" r="12"/><circle cx="1215" cy="532" r="11"/><circle cx="1160" cy="600" r="11"/><circle cx="1232" cy="602" r="12"/><circle cx="1272" cy="625" r="11"/><circle cx="1190" cy="642" r="9"/><circle cx="1345" cy="600" r="9"/><circle cx="948" cy="470" r="14"/><circle cx="930" cy="628" r="14"/><circle cx="962" cy="645" r="9"/><circle cx="975" cy="462" r="22"/><circle cx="1055" cy="545" r="9"/><circle cx="1151" cy="580" r="14"/><circle cx="1211" cy="566" r="18"/><circle cx="940" cy="628" r="20"/><circle cx="1255" cy="470" r="14"/><circle cx="1300" cy="470" r="12"/><circle cx="1250" cy="540" r="12"/><circle cx="1310" cy="548" r="16"/><circle cx="1275" cy="585" r="16"/><circle cx="1335" cy="575" r="14"/><circle cx="1303" cy="640" r="11"/><circle cx="1336" cy="668" r="10"/><circle cx="1400" cy="561" r="9"/><circle cx="1499" cy="558" r="9"/><circle cx="1504" cy="460" r="6"/><circle cx="1480" cy="400" r="14"/><circle cx="1530" cy="405" r="12"/></g>
<ellipse cx="931.72" cy="9.64" rx="17.07" ry="18.09" fill="#767676"/><ellipse cx="931.72" cy="9.64" rx="9.27" ry="9.82" fill="#858585"/><ellipse cx="976.87" cy="10.67" rx="19.21" ry="22.2" fill="#767676"/><ellipse cx="976.87" cy="10.67" rx="12.01" ry="13.87" fill="#cccccc"/><ellipse cx="1078.82" cy="13.45" rx="17.18" ry="19.59" fill="#767676"/><ellipse cx="1078.82" cy="13.45" rx="9.33" ry="10.63" fill="#858585"/><ellipse cx="1129.11" cy="12.2" rx="19.99" ry="15.61" fill="#767676"/><ellipse cx="1129.11" cy="12.2" rx="10.85" ry="8.47" fill="#858585"/><ellipse cx="1174.53" cy="14.17" rx="22.68" ry="18.39" fill="#767676"/><ellipse cx="1174.53" cy="14.17" rx="14.17" ry="11.49" fill="#cccccc"/><ellipse cx="1276.3" cy="17.08" rx="16.28" ry="16.29" fill="#767676"/><ellipse cx="1276.3" cy="17.08" rx="8.84" ry="8.85" fill="#858585"/><ellipse cx="1324.2" cy="15.73" rx="22.21" ry="19.64" fill="#767676"/><ellipse cx="1324.2" cy="15.73" rx="13.88" ry="12.28" fill="#cccccc"/><ellipse cx="1375.02" cy="16.78" rx="18.28" ry="19.19" fill="#767676"/><ellipse cx="1375.02" cy="16.78" rx="11.88" ry="12.47" fill="#cccccc"/><ellipse cx="1375.02" cy="16.78" rx="5.37" ry="5.64" fill="#fff"/><ellipse cx="1425.53" cy="17.54" rx="20.69" ry="18.12" fill="#767676"/><ellipse cx="1425.53" cy="17.54" rx="12.93" ry="11.33" fill="#cccccc"/><ellipse cx="1475.6" cy="16.04" rx="16.86" ry="20.73" fill="#767676"/><ellipse cx="1475.6" cy="16.04" rx="9.15" ry="11.25" fill="#858585"/><ellipse cx="1522.29" cy="19.05" rx="18.11" ry="19.15" fill="#767676"/><ellipse cx="1522.29" cy="19.05" rx="9.83" ry="10.39" fill="#858585"/><ellipse cx="928.34" cy="51.85" rx="16.42" ry="18.37" fill="#767676"/><ellipse cx="928.34" cy="51.85" rx="8.91" ry="9.97" fill="#858585"/><ellipse cx="1027.25" cy="54.77" rx="18.09" ry="16.85" fill="#767676"/><ellipse cx="1027.25" cy="54.77" rx="9.82" ry="9.15" fill="#858585"/><ellipse cx="1123.57" cy="56.16" rx="17.33" ry="19.27" fill="#767676"/><ellipse cx="1123.57" cy="56.16" rx="9.41" ry="10.46" fill="#858585"/><ellipse cx="1175.31" cy="57.84" rx="17.56" ry="19.14" fill="#767676"/><ellipse cx="1175.31" cy="57.84" rx="9.53" ry="10.39" fill="#858585"/><ellipse cx="1230.3" cy="56.1" rx="18.9" ry="24.23" fill="#767676"/><ellipse cx="1230.3" cy="56.1" rx="11.81" ry="15.14" fill="#cccccc"/><ellipse cx="1325.42" cy="57.39" rx="21.45" ry="16.27" fill="#767676"/><ellipse cx="1325.42" cy="57.39" rx="13.41" ry="10.17" fill="#cccccc"/><ellipse cx="1373.14" cy="58.65" rx="18.51" ry="18.26" fill="#767676"/><ellipse cx="1373.14" cy="58.65" rx="10.05" ry="9.91" fill="#858585"/><ellipse cx="1473.65" cy="61.2" rx="17.72" ry="16.73" fill="#767676"/><ellipse cx="1473.65" cy="61.2" rx="9.62" ry="9.08" fill="#858585"/><ellipse cx="927.58" cy="95.24" rx="17.92" ry="20.79" fill="#767676"/><ellipse cx="927.58" cy="95.24" rx="11.65" ry="13.51" fill="#cccccc"/><ellipse cx="927.58" cy="95.24" rx="5.11" ry="5.92" fill="#fff"/><ellipse cx="979.67" cy="97.14" rx="21.27" ry="19.23" fill="#767676"/><ellipse cx="979.67" cy="97.14" rx="13.29" ry="12.02" fill="#cccccc"/><ellipse cx="1028.18" cy="98.57" rx="22.28" ry="19.36" fill="#767676"/><ellipse cx="1028.18" cy="98.57" rx="13.93" ry="12.1" fill="#cccccc"/><ellipse cx="1079.41" cy="95.83" rx="23.66" ry="19.27" fill="#767676"/><ellipse cx="1079.41" cy="95.83" rx="14.79" ry="12.05" fill="#cccccc"/><ellipse cx="1123.3" cy="95.69" rx="21.94" ry="20.47" fill="#767676"/><ellipse cx="1123.3" cy="95.69" rx="13.71" ry="12.79" fill="#cccccc"/><ellipse cx="1176.6" cy="98.21" rx="18.66" ry="20.18" fill="#767676"/><ellipse cx="1176.6" cy="98.21" rx="6.22" ry="6.73" fill="#bfbfbf"/><ellipse cx="1225.56" cy="97.93" rx="21.65" ry="18.72" fill="#767676"/><ellipse cx="1225.56" cy="97.93" rx="13.53" ry="11.7" fill="#cccccc"/><ellipse cx="1276.47" cy="98.29" rx="22.74" ry="18.11" fill="#767676"/><ellipse cx="1276.47" cy="98.29" rx="14.21" ry="11.32" fill="#cccccc"/><ellipse cx="1321.81" cy="99.25" rx="23.83" ry="18.72" fill="#767676"/><ellipse cx="1321.81" cy="99.25" rx="14.89" ry="11.7" fill="#cccccc"/><ellipse cx="1376.03" cy="99.09" rx="21.94" ry="20.95" fill="#767676"/><ellipse cx="1376.03" cy="99.09" rx="13.71" ry="13.09" fill="#cccccc"/><ellipse cx="1424.96" cy="101.81" rx="19.48" ry="23.55" fill="#767676"/><ellipse cx="1424.96" cy="101.81" rx="12.18" ry="14.72" fill="#cccccc"/><ellipse cx="1473.48" cy="102.15" rx="18.01" ry="22.26" fill="#767676"/><ellipse cx="1473.48" cy="102.15" rx="11.25" ry="13.91" fill="#cccccc"/><ellipse cx="1521.62" cy="102.2" rx="21.02" ry="17.03" fill="#767676"/><ellipse cx="1521.62" cy="102.2" rx="13.67" ry="11.07" fill="#cccccc"/><ellipse cx="1521.62" cy="102.2" rx="3.89" ry="3.15" fill="#fff"/><ellipse cx="931.25" cy="136.91" rx="15.94" ry="20.52" fill="#767676"/><ellipse cx="931.25" cy="136.91" rx="8.65" ry="11.14" fill="#858585"/><ellipse cx="1025.96" cy="140.64" rx="16.11" ry="16.9" fill="#767676"/><ellipse cx="1025.96" cy="140.64" rx="8.74" ry="9.18" fill="#858585"/><ellipse cx="1077.64" cy="139.71" rx="18.51" ry="18.82" fill="#767676"/><ellipse cx="1077.64" cy="139.71" rx="10.05" ry="10.22" fill="#858585"/><ellipse cx="1127.53" cy="139.41" rx="18.58" ry="15.91" fill="#767676"/><ellipse cx="1127.53" cy="139.41" rx="6.19" ry="5.3" fill="#bfbfbf"/><ellipse cx="1178.12" cy="139.87" rx="16.86" ry="19.93" fill="#767676"/><ellipse cx="1178.12" cy="139.87" rx="9.15" ry="10.82" fill="#858585"/><ellipse cx="1224.77" cy="140.62" rx="20.56" ry="22.01" fill="#767676"/><ellipse cx="1224.77" cy="140.62" rx="12.85" ry="13.76" fill="#cccccc"/><ellipse cx="1272.88" cy="140.91" rx="16.46" ry="17.61" fill="#767676"/><ellipse cx="1272.88" cy="140.91" rx="8.93" ry="9.56" fill="#858585"/><ellipse cx="1375.59" cy="143.33" rx="18.07" ry="14.68" fill="#767676"/><ellipse cx="1375.59" cy="143.33" rx="9.81" ry="7.97" fill="#858585"/><ellipse cx="1423.79" cy="138.9" rx="14.76" ry="18.38" fill="#767676"/><ellipse cx="1423.79" cy="138.9" rx="8.01" ry="9.98" fill="#858585"/><ellipse cx="1522.08" cy="144.95" rx="19.58" ry="16.26" fill="#767676"/><ellipse cx="1522.08" cy="144.95" rx="10.63" ry="8.83" fill="#858585"/><ellipse cx="928.03" cy="181.68" rx="22" ry="17.46" fill="#767676"/><ellipse cx="928.03" cy="181.68" rx="14.3" ry="11.35" fill="#cccccc"/><ellipse cx="928.03" cy="181.68" rx="3.93" ry="3.12" fill="#fff"/><ellipse cx="1027.45" cy="181.27" rx="22.06" ry="20.84" fill="#767676"/><ellipse cx="1027.45" cy="181.27" rx="13.79" ry="13.03" fill="#cccccc"/><ellipse cx="1077.57" cy="181.34" rx="21.84" ry="18.34" fill="#767676"/><ellipse cx="1077.57" cy="181.34" rx="13.65" ry="11.46" fill="#cccccc"/><ellipse cx="1123.59" cy="184.63" rx="19.32" ry="21.96" fill="#767676"/><ellipse cx="1123.59" cy="184.63" rx="12.07" ry="13.72" fill="#cccccc"/><ellipse cx="1176.81" cy="181.33" rx="22.07" ry="19.31" fill="#767676"/><ellipse cx="1176.81" cy="181.33" rx="13.79" ry="12.07" fill="#cccccc"/><ellipse cx="1228.09" cy="181.23" rx="18.31" ry="21.54" fill="#767676"/><ellipse cx="1228.09" cy="181.23" rx="11.44" ry="13.46" fill="#cccccc"/><ellipse cx="1276.03" cy="184.98" rx="23.6" ry="19.29" fill="#767676"/><ellipse cx="1276.03" cy="184.98" rx="15.34" ry="12.54" fill="#cccccc"/><ellipse cx="1276.03" cy="184.98" rx="3.87" ry="3.16" fill="#fff"/><ellipse cx="1326.18" cy="184.45" rx="22.56" ry="17.33" fill="#767676"/><ellipse cx="1326.18" cy="184.45" rx="14.1" ry="10.83" fill="#cccccc"/><ellipse cx="1374.39" cy="183.16" rx="20.89" ry="20.78" fill="#767676"/><ellipse cx="1374.39" cy="183.16" rx="13.05" ry="12.98" fill="#cccccc"/><ellipse cx="1424.53" cy="183.35" rx="20.87" ry="19.59" fill="#767676"/><ellipse cx="1424.53" cy="183.35" rx="13.04" ry="12.25" fill="#cccccc"/><ellipse cx="1475.12" cy="187.18" rx="20.05" ry="17.83" fill="#767676"/><ellipse cx="1475.12" cy="187.18" rx="12.53" ry="11.14" fill="#cccccc"/><ellipse cx="1523.06" cy="183.59" rx="20.1" ry="20.85" fill="#767676"/><ellipse cx="1523.06" cy="183.59" rx="12.56" ry="13.03" fill="#cccccc"/><ellipse cx="930.01" cy="222.31" rx="18.77" ry="17.16" fill="#767676"/><ellipse cx="930.01" cy="222.31" rx="10.19" ry="9.31" fill="#858585"/><ellipse cx="1028.27" cy="223.59" rx="15.98" ry="16.9" fill="#767676"/><ellipse cx="1028.27" cy="223.59" rx="8.67" ry="9.18" fill="#858585"/><ellipse cx="1126.27" cy="222.25" rx="19.33" ry="17.73" fill="#767676"/><ellipse cx="1126.27" cy="222.25" rx="10.49" ry="9.62" fill="#858585"/><ellipse cx="1222.97" cy="224.27" rx="16.22" ry="17.19" fill="#767676"/><ellipse cx="1222.97" cy="224.27" rx="8.81" ry="9.33" fill="#858585"/><ellipse cx="1327.97" cy="227.99" rx="17.85" ry="15.25" fill="#767676"/><ellipse cx="1327.97" cy="227.99" rx="9.69" ry="8.28" fill="#858585"/><ellipse cx="1426.11" cy="227.96" rx="21" ry="16.16" fill="#767676"/><ellipse cx="1426.11" cy="227.96" rx="11.4" ry="8.77" fill="#858585"/><ellipse cx="929.53" cy="263.42" rx="22.47" ry="17.8" fill="#767676"/><ellipse cx="929.53" cy="263.42" rx="14.05" ry="11.12" fill="#cccccc"/><ellipse cx="978.93" cy="261.64" rx="19.51" ry="21.06" fill="#767676"/><ellipse cx="978.93" cy="261.64" rx="12.19" ry="13.16" fill="#cccccc"/><ellipse cx="1027.25" cy="263.9" rx="17.14" ry="19.8" fill="#767676"/><ellipse cx="1027.25" cy="263.9" rx="11.14" ry="12.87" fill="#cccccc"/><ellipse cx="1027.25" cy="263.9" rx="3.26" ry="3.76" fill="#fff"/><ellipse cx="1077.66" cy="265.08" rx="20.55" ry="21.39" fill="#767676"/><ellipse cx="1077.66" cy="265.08" rx="12.85" ry="13.37" fill="#cccccc"/><ellipse cx="1127.28" cy="266.33" rx="18.07" ry="20.56" fill="#767676"/><ellipse cx="1127.28" cy="266.33" rx="11.29" ry="12.85" fill="#cccccc"/><ellipse cx="1174.43" cy="264.71" rx="18.9" ry="16.63" fill="#767676"/><ellipse cx="1174.43" cy="264.71" rx="10.26" ry="9.03" fill="#858585"/><ellipse cx="1227.7" cy="265.92" rx="20.29" ry="21.24" fill="#767676"/><ellipse cx="1227.7" cy="265.92" rx="13.19" ry="13.8" fill="#cccccc"/><ellipse cx="1227.7" cy="265.92" rx="3.42" ry="3.58" fill="#fff"/><ellipse cx="1275.26" cy="268.96" rx="19.78" ry="22.85" fill="#767676"/><ellipse cx="1275.26" cy="268.96" rx="12.86" ry="14.85" fill="#cccccc"/><ellipse cx="1275.26" cy="268.96" rx="5.12" ry="5.91" fill="#fff"/><ellipse cx="1324.51" cy="271.6" rx="20.19" ry="21.41" fill="#767676"/><ellipse cx="1324.51" cy="271.6" rx="13.12" ry="13.91" fill="#cccccc"/><ellipse cx="1324.51" cy="271.6" rx="3.4" ry="3.6" fill="#fff"/><ellipse cx="1373.13" cy="268.02" rx="21.04" ry="18.77" fill="#767676"/><ellipse cx="1373.13" cy="268.02" rx="13.15" ry="11.73" fill="#cccccc"/><ellipse cx="1420.98" cy="270.77" rx="19.17" ry="20.8" fill="#767676"/><ellipse cx="1420.98" cy="270.77" rx="12.46" ry="13.52" fill="#cccccc"/><ellipse cx="1420.98" cy="270.77" rx="3.36" ry="3.65" fill="#fff"/><ellipse cx="1472.92" cy="271.05" rx="19.74" ry="22.34" fill="#767676"/><ellipse cx="1472.92" cy="271.05" rx="12.34" ry="13.96" fill="#cccccc"/><ellipse cx="1523.77" cy="274.4" rx="23.69" ry="19.3" fill="#767676"/><ellipse cx="1523.77" cy="274.4" rx="14.81" ry="12.06" fill="#cccccc"/><ellipse cx="929.83" cy="305" rx="20.8" ry="16.84" fill="#767676"/><ellipse cx="929.83" cy="305" rx="11.29" ry="9.14" fill="#858585"/><ellipse cx="977.82" cy="307.38" rx="18.35" ry="21.22" fill="#767676"/><ellipse cx="977.82" cy="307.38" rx="11.47" ry="13.26" fill="#cccccc"/><ellipse cx="1025.15" cy="306.01" rx="17.81" ry="19.38" fill="#767676"/><ellipse cx="1025.15" cy="306.01" rx="11.13" ry="12.11" fill="#cccccc"/><ellipse cx="1075.2" cy="305.91" rx="15.62" ry="18.78" fill="#767676"/><ellipse cx="1075.2" cy="305.91" rx="8.48" ry="10.2" fill="#858585"/><ellipse cx="1175.83" cy="309.82" rx="18.77" ry="17.14" fill="#767676"/><ellipse cx="1175.83" cy="309.82" rx="10.19" ry="9.31" fill="#858585"/><ellipse cx="1223.69" cy="309.31" rx="22.59" ry="20.37" fill="#767676"/><ellipse cx="1223.69" cy="309.31" rx="14.12" ry="12.73" fill="#cccccc"/><ellipse cx="1273.7" cy="310.04" rx="18.15" ry="17.31" fill="#767676"/><ellipse cx="1273.7" cy="310.04" rx="9.85" ry="9.4" fill="#858585"/><ellipse cx="1324.32" cy="311.86" rx="16.43" ry="19.33" fill="#767676"/><ellipse cx="1324.32" cy="311.86" rx="8.92" ry="10.49" fill="#858585"/><ellipse cx="1475.51" cy="313.24" rx="16.97" ry="18.37" fill="#767676"/><ellipse cx="1475.51" cy="313.24" rx="9.21" ry="9.97" fill="#858585"/><ellipse cx="929.34" cy="348.15" rx="20.47" ry="19.04" fill="#767676"/><ellipse cx="929.34" cy="348.15" rx="13.31" ry="12.38" fill="#cccccc"/><ellipse cx="929.34" cy="348.15" rx="3.63" ry="3.38" fill="#fff"/><ellipse cx="979.63" cy="350.22" rx="20.35" ry="16.9" fill="#767676"/><ellipse cx="979.63" cy="350.22" rx="13.23" ry="10.99" fill="#cccccc"/><ellipse cx="979.63" cy="350.22" rx="3.84" ry="3.19" fill="#fff"/><ellipse cx="1029.54" cy="350.07" rx="18.28" ry="19.32" fill="#767676"/><ellipse cx="1029.54" cy="350.07" rx="11.88" ry="12.56" fill="#cccccc"/><ellipse cx="1029.54" cy="350.07" rx="3.4" ry="3.6" fill="#fff"/><ellipse cx="1076.73" cy="349" rx="21.16" ry="21.12" fill="#767676"/><ellipse cx="1076.73" cy="349" rx="13.22" ry="13.2" fill="#cccccc"/><ellipse cx="1127.78" cy="348.6" rx="17.21" ry="21.06" fill="#767676"/><ellipse cx="1127.78" cy="348.6" rx="10.76" ry="13.16" fill="#cccccc"/><ellipse cx="1176.03" cy="350.74" rx="19.35" ry="17.82" fill="#767676"/><ellipse cx="1176.03" cy="350.74" rx="12.58" ry="11.58" fill="#cccccc"/><ellipse cx="1176.03" cy="350.74" rx="3.65" ry="3.36" fill="#fff"/><ellipse cx="1226.72" cy="352.36" rx="19.66" ry="18.05" fill="#767676"/><ellipse cx="1226.72" cy="352.36" rx="12.29" ry="11.28" fill="#cccccc"/><ellipse cx="1273.79" cy="353.05" rx="20" ry="19.95" fill="#767676"/><ellipse cx="1273.79" cy="353.05" rx="12.5" ry="12.47" fill="#cccccc"/><ellipse cx="1322.18" cy="351.68" rx="19.46" ry="20.35" fill="#767676"/><ellipse cx="1322.18" cy="351.68" rx="12.16" ry="12.72" fill="#cccccc"/><ellipse cx="1375.9" cy="352.84" rx="18.14" ry="20.56" fill="#767676"/><ellipse cx="1375.9" cy="352.84" rx="11.34" ry="12.85" fill="#cccccc"/><ellipse cx="1424.66" cy="357.62" rx="20.71" ry="21.85" fill="#767676"/><ellipse cx="1424.66" cy="357.62" rx="12.94" ry="13.66" fill="#cccccc"/><ellipse cx="1473.2" cy="354.17" rx="18.46" ry="18.96" fill="#767676"/><ellipse cx="1473.2" cy="354.17" rx="11.54" ry="11.85" fill="#cccccc"/><ellipse cx="1519.89" cy="355.51" rx="18.46" ry="18.37" fill="#767676"/><ellipse cx="1519.89" cy="355.51" rx="11.54" ry="11.48" fill="#cccccc"/><ellipse cx="931.15" cy="390.25" rx="21.63" ry="18.88" fill="#767676"/><ellipse cx="931.15" cy="390.25" rx="13.52" ry="11.8" fill="#cccccc"/><ellipse cx="978.64" cy="394.96" rx="18.27" ry="14.75" fill="#767676"/><ellipse cx="978.64" cy="394.96" rx="9.92" ry="8.01" fill="#858585"/><ellipse cx="1028.27" cy="391.36" rx="19.02" ry="17.84" fill="#767676"/><ellipse cx="1028.27" cy="391.36" rx="11.89" ry="11.15" fill="#cccccc"/><ellipse cx="1128.16" cy="394.25" rx="17.09" ry="15.67" fill="#767676"/><ellipse cx="1128.16" cy="394.25" rx="9.28" ry="8.51" fill="#858585"/><ellipse cx="1224.92" cy="392.77" rx="18.91" ry="15.83" fill="#767676"/><ellipse cx="1224.92" cy="392.77" rx="10.27" ry="8.6" fill="#858585"/><ellipse cx="1322.94" cy="394.59" rx="18.63" ry="18.79" fill="#767676"/><ellipse cx="1322.94" cy="394.59" rx="10.11" ry="10.2" fill="#858585"/><ellipse cx="928.4" cy="428.18" rx="18.79" ry="23.88" fill="#767676"/><ellipse cx="928.4" cy="428.18" rx="11.74" ry="14.93" fill="#cccccc"/><ellipse cx="977.32" cy="430.17" rx="21.86" ry="17.77" fill="#767676"/><ellipse cx="977.32" cy="430.17" rx="13.66" ry="11.1" fill="#cccccc"/><ellipse cx="1028.33" cy="434.15" rx="23.6" ry="17.85" fill="#767676"/><ellipse cx="1028.33" cy="434.15" rx="14.75" ry="11.16" fill="#cccccc"/><ellipse cx="1076.56" cy="433.72" rx="20.13" ry="19.2" fill="#767676"/><ellipse cx="1076.56" cy="433.72" rx="12.58" ry="12" fill="#cccccc"/><ellipse cx="1127.89" cy="436.33" rx="16.64" ry="16.68" fill="#767676"/><ellipse cx="1127.89" cy="436.33" rx="5.55" ry="5.56" fill="#bfbfbf"/><ellipse cx="1175.35" cy="436.51" rx="16.63" ry="18.75" fill="#767676"/><ellipse cx="1175.35" cy="436.51" rx="9.03" ry="10.18" fill="#858585"/><ellipse cx="1225.22" cy="437.03" rx="18.82" ry="20.46" fill="#767676"/><ellipse cx="1225.22" cy="437.03" rx="11.76" ry="12.79" fill="#cccccc"/><ellipse cx="1271.47" cy="435.63" rx="18.91" ry="17.21" fill="#767676"/><ellipse cx="1271.47" cy="435.63" rx="6.3" ry="5.74" fill="#bfbfbf"/><ellipse cx="1325.51" cy="435.02" rx="18.18" ry="20.23" fill="#767676"/><ellipse cx="1325.51" cy="435.02" rx="11.36" ry="12.64" fill="#cccccc"/><ellipse cx="1370.66" cy="435.63" rx="19.08" ry="19.37" fill="#767676"/><ellipse cx="1370.66" cy="435.63" rx="11.93" ry="12.11" fill="#cccccc"/><ellipse cx="1423.53" cy="438.73" rx="19.33" ry="19.5" fill="#767676"/><ellipse cx="1423.53" cy="438.73" rx="12.08" ry="12.19" fill="#cccccc"/><ellipse cx="1474.36" cy="438.66" rx="19.26" ry="14.68" fill="#767676"/><ellipse cx="1474.36" cy="438.66" rx="10.46" ry="7.97" fill="#858585"/><ellipse cx="1520.66" cy="437.59" rx="21" ry="19.26" fill="#767676"/><ellipse cx="1520.66" cy="437.59" rx="13.13" ry="12.04" fill="#cccccc"/><ellipse cx="929.7" cy="475.54" rx="14.91" ry="12.57" fill="#767676"/><ellipse cx="1027.03" cy="475.31" rx="16.46" ry="16.72" fill="#767676"/><ellipse cx="1027.03" cy="475.31" rx="8.93" ry="9.07" fill="#858585"/><ellipse cx="1077.76" cy="475.62" rx="21.23" ry="17.39" fill="#767676"/><ellipse cx="1077.76" cy="475.62" rx="13.27" ry="10.87" fill="#cccccc"/><ellipse cx="1124.96" cy="474.47" rx="12.21" ry="12.12" fill="#767676"/><ellipse cx="1375.21" cy="479.99" rx="16.17" ry="17.21" fill="#767676"/><ellipse cx="1375.21" cy="479.99" rx="8.78" ry="9.35" fill="#858585"/><ellipse cx="1424.43" cy="477.98" rx="16.79" ry="21.08" fill="#767676"/><ellipse cx="1424.43" cy="477.98" rx="9.12" ry="11.45" fill="#858585"/><ellipse cx="1472.93" cy="480.66" rx="19.27" ry="16.76" fill="#767676"/><ellipse cx="1472.93" cy="480.66" rx="6.42" ry="5.59" fill="#bfbfbf"/><ellipse cx="1526.12" cy="483.36" rx="19.12" ry="15.24" fill="#767676"/><ellipse cx="1526.12" cy="483.36" rx="10.38" ry="8.27" fill="#858585"/><ellipse cx="928.71" cy="517.81" rx="22.36" ry="19.42" fill="#767676"/><ellipse cx="928.71" cy="517.81" rx="13.97" ry="12.14" fill="#cccccc"/><ellipse cx="978.69" cy="516.65" rx="20.1" ry="19.11" fill="#767676"/><ellipse cx="978.69" cy="516.65" rx="12.56" ry="11.94" fill="#cccccc"/><ellipse cx="1027.47" cy="515.02" rx="18.79" ry="19.37" fill="#767676"/><ellipse cx="1027.47" cy="515.02" rx="11.75" ry="12.11" fill="#cccccc"/><ellipse cx="1079.85" cy="518.5" rx="18.87" ry="22.96" fill="#767676"/><ellipse cx="1079.85" cy="518.5" rx="11.8" ry="14.35" fill="#cccccc"/><ellipse cx="1125.21" cy="518.17" rx="17.15" ry="21.59" fill="#767676"/><ellipse cx="1125.21" cy="518.17" rx="11.15" ry="14.03" fill="#cccccc"/><ellipse cx="1125.21" cy="518.17" rx="4.9" ry="6.17" fill="#fff"/><ellipse cx="1175.62" cy="519.19" rx="15.75" ry="17.65" fill="#767676"/><ellipse cx="1175.62" cy="519.19" rx="8.55" ry="9.58" fill="#858585"/><ellipse cx="1225.25" cy="522.5" rx="18.82" ry="16.14" fill="#767676"/><ellipse cx="1225.25" cy="522.5" rx="6.27" ry="5.38" fill="#bfbfbf"/><ellipse cx="1272.94" cy="522.19" rx="18.42" ry="14.89" fill="#767676"/><ellipse cx="1272.94" cy="522.19" rx="10" ry="8.09" fill="#858585"/><ellipse cx="1324.79" cy="522.7" rx="16.36" ry="20.08" fill="#767676"/><ellipse cx="1324.79" cy="522.7" rx="8.88" ry="10.9" fill="#858585"/><ellipse cx="1373.7" cy="520.35" rx="17.98" ry="21.71" fill="#767676"/><ellipse cx="1373.7" cy="520.35" rx="11.24" ry="13.57" fill="#cccccc"/><ellipse cx="1424.29" cy="525.64" rx="17.36" ry="17.93" fill="#767676"/><ellipse cx="1424.29" cy="525.64" rx="5.79" ry="5.98" fill="#bfbfbf"/><ellipse cx="1471.66" cy="524.12" rx="19.65" ry="23.74" fill="#767676"/><ellipse cx="1471.66" cy="524.12" rx="12.28" ry="14.84" fill="#cccccc"/><ellipse cx="1525.16" cy="524.41" rx="22.17" ry="19.36" fill="#767676"/><ellipse cx="1525.16" cy="524.41" rx="14.41" ry="12.58" fill="#cccccc"/><ellipse cx="1525.16" cy="524.41" rx="3.75" ry="3.27" fill="#fff"/><ellipse cx="928.85" cy="561.59" rx="19.24" ry="16.7" fill="#767676"/><ellipse cx="928.85" cy="561.59" rx="10.44" ry="9.06" fill="#858585"/><ellipse cx="978.61" cy="560.35" rx="15.75" ry="19.16" fill="#767676"/><ellipse cx="978.61" cy="560.35" rx="5.25" ry="6.39" fill="#bfbfbf"/><ellipse cx="1076.79" cy="559.19" rx="17.85" ry="15.15" fill="#767676"/><ellipse cx="1076.79" cy="559.19" rx="9.69" ry="8.23" fill="#858585"/><ellipse cx="1128.91" cy="561.02" rx="13.8" ry="13.47" fill="#767676"/><ellipse cx="1177.41" cy="559.81" rx="12.74" ry="13.46" fill="#767676"/><ellipse cx="1471.41" cy="563.69" rx="12.84" ry="13.78" fill="#767676"/><ellipse cx="1520.84" cy="563.04" rx="21.58" ry="16.6" fill="#767676"/><ellipse cx="1520.84" cy="563.04" rx="7.19" ry="5.53" fill="#bfbfbf"/><ellipse cx="926.35" cy="601.75" rx="21.18" ry="16.34" fill="#767676"/><ellipse cx="926.35" cy="601.75" rx="11.5" ry="8.87" fill="#858585"/><ellipse cx="978.77" cy="603.04" rx="19.33" ry="20.1" fill="#767676"/><ellipse cx="978.77" cy="603.04" rx="12.57" ry="13.06" fill="#cccccc"/><ellipse cx="978.77" cy="603.04" rx="3.43" ry="3.57" fill="#fff"/><ellipse cx="1027.48" cy="604.04" rx="22.11" ry="20.48" fill="#767676"/><ellipse cx="1027.48" cy="604.04" rx="13.82" ry="12.8" fill="#cccccc"/><ellipse cx="1075.56" cy="602.4" rx="18.38" ry="22.94" fill="#767676"/><ellipse cx="1075.56" cy="602.4" rx="11.94" ry="14.91" fill="#cccccc"/><ellipse cx="1075.56" cy="602.4" rx="4.92" ry="6.14" fill="#fff"/><ellipse cx="1126.56" cy="601.39" rx="13.07" ry="13.2" fill="#767676"/><ellipse cx="1175.1" cy="601.74" rx="17.28" ry="15.79" fill="#767676"/><ellipse cx="1175.1" cy="601.74" rx="9.38" ry="8.57" fill="#858585"/><ellipse cx="1225.99" cy="603.18" rx="19.01" ry="16.34" fill="#767676"/><ellipse cx="1225.99" cy="603.18" rx="6.34" ry="5.45" fill="#bfbfbf"/><ellipse cx="1276.03" cy="605.38" rx="19.33" ry="17.96" fill="#767676"/><ellipse cx="1276.03" cy="605.38" rx="10.5" ry="9.75" fill="#858585"/><ellipse cx="1324.63" cy="604.39" rx="17.66" ry="17.01" fill="#767676"/><ellipse cx="1324.63" cy="604.39" rx="5.89" ry="5.67" fill="#bfbfbf"/><ellipse cx="1373.92" cy="607.26" rx="21.55" ry="18.61" fill="#767676"/><ellipse cx="1373.92" cy="607.26" rx="13.47" ry="11.63" fill="#cccccc"/><ellipse cx="1424.24" cy="606.13" rx="19.86" ry="17.61" fill="#767676"/><ellipse cx="1424.24" cy="606.13" rx="12.91" ry="11.44" fill="#cccccc"/><ellipse cx="1424.24" cy="606.13" rx="3.72" ry="3.3" fill="#fff"/><ellipse cx="1473.03" cy="609.98" rx="18.81" ry="19.29" fill="#767676"/><ellipse cx="1473.03" cy="609.98" rx="11.76" ry="12.06" fill="#cccccc"/><ellipse cx="1522.39" cy="607.52" rx="18.7" ry="20.8" fill="#767676"/><ellipse cx="1522.39" cy="607.52" rx="12.16" ry="13.52" fill="#cccccc"/><ellipse cx="1522.39" cy="607.52" rx="3.32" ry="3.69" fill="#fff"/><ellipse cx="1077.12" cy="643.1" rx="16.8" ry="17.68" fill="#767676"/><ellipse cx="1077.12" cy="643.1" rx="7.93" ry="8.35" fill="#cccccc"/><ellipse cx="1127.1" cy="646.18" rx="18.91" ry="23.15" fill="#767676"/><ellipse cx="1127.1" cy="646.18" rx="11.82" ry="14.47" fill="#cccccc"/><ellipse cx="1277.6" cy="648.85" rx="18.69" ry="18.71" fill="#767676"/><ellipse cx="1277.6" cy="648.85" rx="10.15" ry="10.16" fill="#858585"/><ellipse cx="1422.63" cy="649.89" rx="17.53" ry="18.06" fill="#767676"/><ellipse cx="1422.63" cy="649.89" rx="9.52" ry="9.81" fill="#858585"/><ellipse cx="1471.91" cy="647.49" rx="17.7" ry="16.86" fill="#767676"/><ellipse cx="1471.91" cy="647.49" rx="8.36" ry="7.96" fill="#cccccc"/><ellipse cx="1523.16" cy="649.2" rx="16.81" ry="21.07" fill="#767676"/><ellipse cx="1523.16" cy="649.2" rx="9.13" ry="11.44" fill="#858585"/><ellipse cx="929.57" cy="684.25" rx="25.33" ry="12.05" fill="#767676"/><ellipse cx="929.57" cy="684.25" rx="13.75" ry="6.54" fill="#858585"/><ellipse cx="976.14" cy="686.37" rx="28.66" ry="13.63" fill="#767676"/><ellipse cx="976.14" cy="686.37" rx="17.91" ry="8.52" fill="#cccccc"/><ellipse cx="1026.15" cy="685.71" rx="29.07" ry="13.83" fill="#767676"/><ellipse cx="1026.15" cy="685.71" rx="18.89" ry="8.99" fill="#cccccc"/><ellipse cx="1026.15" cy="685.71" rx="7.97" ry="3.79" fill="#fff"/><ellipse cx="1079.34" cy="689.16" rx="27.7" ry="13.17" fill="#767676"/><ellipse cx="1079.34" cy="689.16" rx="18" ry="8.56" fill="#cccccc"/><ellipse cx="1079.34" cy="689.16" rx="7.97" ry="3.79" fill="#fff"/><ellipse cx="1126.23" cy="686.99" rx="28.01" ry="13.32" fill="#767676"/><ellipse cx="1126.23" cy="686.99" rx="18.21" ry="8.66" fill="#cccccc"/><ellipse cx="1126.23" cy="686.99" rx="7.97" ry="3.79" fill="#fff"/><ellipse cx="1176.56" cy="689.44" rx="28.04" ry="13.33" fill="#767676"/><ellipse cx="1176.56" cy="689.44" rx="17.52" ry="8.33" fill="#cccccc"/><ellipse cx="1228.05" cy="688.29" rx="30.85" ry="14.67" fill="#767676"/><ellipse cx="1228.05" cy="688.29" rx="20.05" ry="9.54" fill="#cccccc"/><ellipse cx="1228.05" cy="688.29" rx="7.97" ry="3.79" fill="#fff"/><ellipse cx="1274.69" cy="688.09" rx="26.8" ry="12.74" fill="#767676"/><ellipse cx="1274.69" cy="688.09" rx="16.75" ry="7.97" fill="#cccccc"/><ellipse cx="1324.3" cy="691.25" rx="30.74" ry="14.62" fill="#767676"/><ellipse cx="1324.3" cy="691.25" rx="19.21" ry="9.14" fill="#cccccc"/><ellipse cx="1371.89" cy="688.17" rx="25.85" ry="12.3" fill="#767676"/><ellipse cx="1371.89" cy="688.17" rx="12.21" ry="5.81" fill="#cccccc"/><ellipse cx="1420.69" cy="690.8" rx="27.61" ry="13.13" fill="#767676"/><ellipse cx="1420.69" cy="690.8" rx="17.95" ry="8.54" fill="#cccccc"/><ellipse cx="1420.69" cy="690.8" rx="7.97" ry="3.79" fill="#fff"/><ellipse cx="1474.65" cy="691.12" rx="27.39" ry="13.03" fill="#767676"/><ellipse cx="1474.65" cy="691.12" rx="17.12" ry="8.14" fill="#cccccc"/><ellipse cx="1521.24" cy="691.99" rx="28.48" ry="13.55" fill="#767676"/><ellipse cx="1521.24" cy="691.99" rx="18.51" ry="8.81" fill="#cccccc"/><ellipse cx="1521.24" cy="691.99" rx="7.97" ry="3.79" fill="#fff"/>
</g>
<rect x="944" y="66" width="554.5" height="358.5" fill="#000" fill-opacity="0.56"/>
</g>
<rect x="945.3" y="66.8" width="553.2" height="264.2" fill="none" stroke="#ffffff" stroke-width="3.6"/>
<line x1="1001.9" y1="331" x2="1001.9" y2="326" stroke="#ffffff" stroke-width="3"/>
<line x1="1057.8" y1="331" x2="1057.8" y2="326" stroke="#ffffff" stroke-width="3"/>
<line x1="1113.7" y1="331" x2="1113.7" y2="321.5" stroke="#ffffff" stroke-width="3"/>
<line x1="1169.6" y1="331" x2="1169.6" y2="326" stroke="#ffffff" stroke-width="3"/>
<line x1="1225.5" y1="331" x2="1225.5" y2="326" stroke="#ffffff" stroke-width="3"/>
<line x1="1281.4" y1="331" x2="1281.4" y2="321.5" stroke="#ffffff" stroke-width="3"/>
<line x1="1337.3" y1="331" x2="1337.3" y2="326" stroke="#ffffff" stroke-width="3"/>
<line x1="1393.2" y1="331" x2="1393.2" y2="326" stroke="#ffffff" stroke-width="3"/>
<line x1="1449.1" y1="331" x2="1449.1" y2="321.5" stroke="#ffffff" stroke-width="3"/>
<text x="946" y="372.6" font-size="40" text-anchor="middle" font-weight="bold" fill="#ffffff">0</text>
<text x="1113.2" y="372.6" font-size="40" text-anchor="middle" font-weight="bold" fill="#ffffff">1</text>
<text x="1280.4" y="372.6" font-size="40" text-anchor="middle" font-weight="bold" fill="#ffffff">2</text>
<text x="1447.6" y="372.6" font-size="40" text-anchor="middle" font-weight="bold" fill="#ffffff">3</text>
<text x="1215" y="415" font-size="40" text-anchor="middle" font-weight="bold" fill="#ffffff">Distance (nm)</text>
<polyline points="945.5,200.4 951.4,153.5 961.2,130.1 969.8,140.7 980.4,179.1 993.2,213.2 1006,251.6 1014.5,200.4 1022.2,140.7 1029.5,113 1040.1,136.5 1052.9,170.6 1070,202.6 1078.5,162 1087,115.1 1093.4,98.1 1102,113 1110.5,140.7 1121.2,200.4 1129.7,258 1136.1,255.9 1142.5,217.5 1148.9,194 1155.3,191.9 1165.9,213.2 1176.6,238.8 1193.6,294.2 1202.2,264.4 1212.8,204.7 1223.5,159.9 1232,179.1 1242.7,204.7 1253.3,255.9 1261.9,307 1270.4,272.9 1278.9,230.3 1285.3,216.6 1293.9,238.8 1304.5,277.2 1321.6,315.6 1330.1,294.2 1340.8,238.8 1353.6,200.4 1362.1,221.7 1372.8,255.9 1385.5,290 1394.1,247.3 1404.7,170.6 1417.5,127.9 1428.2,153.5 1441,200.4 1458,238.8 1466.6,213.2 1477.2,179.1 1485.8,174.8 1498.1,185.5" fill="none" stroke="#ffffff" stroke-width="5" stroke-linejoin="round" stroke-linecap="round"/>
<polygon points="1145,163 1165,163 1155,179" fill="#fff"/>
<polygon points="1275.3,179.6 1295.3,179.6 1285.3,195.6" fill="#fff"/>
<polygon points="1343.6,164.7 1363.6,164.7 1353.6,180.7" fill="#fff"/>
<rect x="1003.9" y="489.6" width="443.5" height="57.1" fill="none" stroke="#ffffff" stroke-width="3.6"/>
<rect x="1401" y="669" width="126" height="7" fill="#ffffff" stroke="none" stroke-width="0"/>
<text x="1415" y="659.4" font-size="50" font-weight="bold" fill="#ffffff">1 nm</text>
<text x="797" y="94.5" font-size="66" font-weight="bold" fill="#000">(b)</text>
</svg></body></html>
